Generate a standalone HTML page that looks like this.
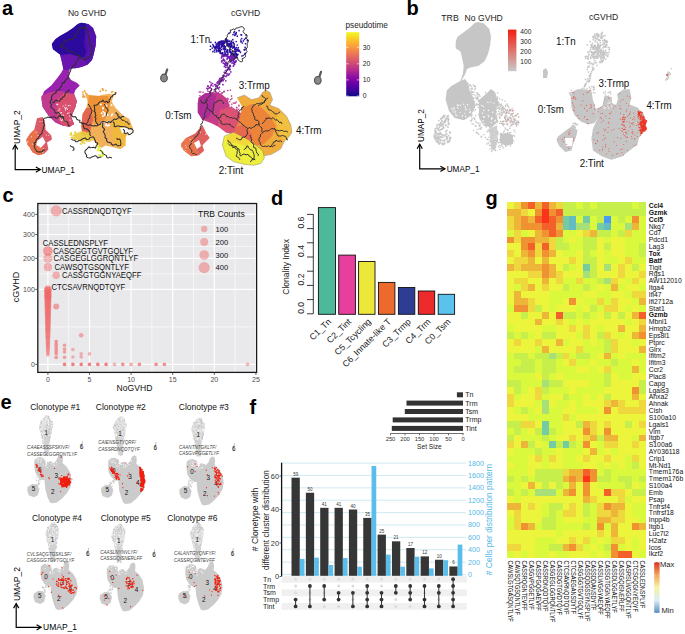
<!DOCTYPE html>
<html><head><meta charset="utf-8"><style>
html,body{margin:0;padding:0;background:#fff;}
body{width:685px;height:634px;overflow:hidden;}
svg{display:block;font-family:"Liberation Sans", sans-serif;}
</style></head><body>
<svg width="685" height="634" viewBox="0 0 685 634">
<text x="2" y="14.8" font-size="20" text-anchor="start" fill="#000" font-weight="bold">a</text>
<text x="406.5" y="15.4" font-size="20" text-anchor="start" fill="#000" font-weight="bold">b</text>
<text x="2.5" y="201.8" font-size="20" text-anchor="start" fill="#000" font-weight="bold">c</text>
<text x="271" y="204.8" font-size="20" text-anchor="start" fill="#000" font-weight="bold">d</text>
<text x="0.6" y="409.2" font-size="20" text-anchor="start" fill="#000" font-weight="bold">e</text>
<text x="249.5" y="414" font-size="20" text-anchor="start" fill="#000" font-weight="bold">f</text>
<text x="485.5" y="204.8" font-size="20" text-anchor="start" fill="#000" font-weight="bold">g</text>
<rect x="37.80" y="203.50" width="218.80" height="168.90" fill="#E9E9EB" stroke="none" stroke-width="0"/>
<line x1="68.70" y1="203.50" x2="68.70" y2="372.40" stroke="#fff" stroke-width="0.6"/>
<line x1="110.30" y1="203.50" x2="110.30" y2="372.40" stroke="#fff" stroke-width="0.6"/>
<line x1="151.90" y1="203.50" x2="151.90" y2="372.40" stroke="#fff" stroke-width="0.6"/>
<line x1="193.50" y1="203.50" x2="193.50" y2="372.40" stroke="#fff" stroke-width="0.6"/>
<line x1="235.10" y1="203.50" x2="235.10" y2="372.40" stroke="#fff" stroke-width="0.6"/>
<line x1="37.80" y1="224.45" x2="256.60" y2="224.45" stroke="#fff" stroke-width="0.6"/>
<line x1="37.80" y1="246.42" x2="256.60" y2="246.42" stroke="#fff" stroke-width="0.6"/>
<line x1="37.80" y1="273.88" x2="256.60" y2="273.88" stroke="#fff" stroke-width="0.6"/>
<line x1="37.80" y1="326.90" x2="256.60" y2="326.90" stroke="#fff" stroke-width="0.6"/>
<line x1="47.90" y1="203.50" x2="47.90" y2="372.40" stroke="#fff" stroke-width="1.2"/>
<line x1="89.50" y1="203.50" x2="89.50" y2="372.40" stroke="#fff" stroke-width="1.2"/>
<line x1="131.10" y1="203.50" x2="131.10" y2="372.40" stroke="#fff" stroke-width="1.2"/>
<line x1="172.70" y1="203.50" x2="172.70" y2="372.40" stroke="#fff" stroke-width="1.2"/>
<line x1="214.30" y1="203.50" x2="214.30" y2="372.40" stroke="#fff" stroke-width="1.2"/>
<line x1="255.90" y1="203.50" x2="255.90" y2="372.40" stroke="#fff" stroke-width="1.2"/>
<line x1="37.80" y1="364.40" x2="256.60" y2="364.40" stroke="#fff" stroke-width="1.2"/>
<line x1="37.80" y1="289.40" x2="256.60" y2="289.40" stroke="#fff" stroke-width="1.2"/>
<line x1="37.80" y1="258.33" x2="256.60" y2="258.33" stroke="#fff" stroke-width="1.2"/>
<line x1="37.80" y1="234.50" x2="256.60" y2="234.50" stroke="#fff" stroke-width="1.2"/>
<line x1="37.80" y1="214.40" x2="256.60" y2="214.40" stroke="#fff" stroke-width="1.2"/>
<g fill="#F06262"><circle cx="56.2" cy="210.9" r="5.60" fill-opacity="0.45"/><circle cx="47.9" cy="355.0" r="1.70" fill-opacity="0.45"/><circle cx="47.9" cy="353.3" r="1.85" fill-opacity="0.45"/><circle cx="47.9" cy="351.6" r="1.95" fill-opacity="0.45"/><circle cx="47.9" cy="349.9" r="2.03" fill-opacity="0.45"/><circle cx="47.9" cy="348.2" r="2.11" fill-opacity="0.45"/><circle cx="47.9" cy="346.5" r="2.17" fill-opacity="0.45"/><circle cx="47.9" cy="344.8" r="2.24" fill-opacity="0.45"/><circle cx="47.9" cy="343.2" r="2.30" fill-opacity="0.45"/><circle cx="47.9" cy="341.5" r="2.36" fill-opacity="0.45"/><circle cx="47.9" cy="339.8" r="2.42" fill-opacity="0.45"/><circle cx="47.9" cy="338.1" r="2.47" fill-opacity="0.45"/><circle cx="47.9" cy="336.4" r="2.52" fill-opacity="0.45"/><circle cx="47.9" cy="334.7" r="2.58" fill-opacity="0.45"/><circle cx="47.9" cy="333.0" r="2.63" fill-opacity="0.45"/><circle cx="47.9" cy="331.3" r="2.68" fill-opacity="0.45"/><circle cx="47.9" cy="329.6" r="2.72" fill-opacity="0.45"/><circle cx="47.9" cy="327.9" r="2.77" fill-opacity="0.45"/><circle cx="47.9" cy="326.2" r="2.82" fill-opacity="0.45"/><circle cx="47.9" cy="324.5" r="2.86" fill-opacity="0.45"/><circle cx="47.9" cy="322.8" r="2.91" fill-opacity="0.45"/><circle cx="47.9" cy="321.2" r="2.95" fill-opacity="0.45"/><circle cx="47.9" cy="319.5" r="3.00" fill-opacity="0.45"/><circle cx="47.9" cy="317.8" r="3.04" fill-opacity="0.45"/><circle cx="47.9" cy="316.1" r="3.08" fill-opacity="0.45"/><circle cx="47.9" cy="314.4" r="3.12" fill-opacity="0.45"/><circle cx="47.9" cy="312.7" r="3.17" fill-opacity="0.45"/><circle cx="47.9" cy="311.0" r="3.21" fill-opacity="0.45"/><circle cx="47.9" cy="309.3" r="3.25" fill-opacity="0.45"/><circle cx="47.9" cy="307.6" r="3.29" fill-opacity="0.45"/><circle cx="47.9" cy="305.9" r="3.33" fill-opacity="0.45"/><circle cx="47.9" cy="304.2" r="3.36" fill-opacity="0.45"/><circle cx="47.9" cy="302.5" r="3.40" fill-opacity="0.45"/><circle cx="47.9" cy="300.8" r="3.44" fill-opacity="0.45"/><circle cx="47.9" cy="299.2" r="3.48" fill-opacity="0.45"/><circle cx="47.9" cy="297.5" r="3.52" fill-opacity="0.45"/><circle cx="47.9" cy="295.8" r="3.55" fill-opacity="0.45"/><circle cx="47.9" cy="294.1" r="3.59" fill-opacity="0.45"/><circle cx="47.9" cy="292.4" r="3.63" fill-opacity="0.45"/><circle cx="47.9" cy="290.7" r="3.66" fill-opacity="0.45"/><circle cx="47.9" cy="289.0" r="3.70" fill-opacity="0.45"/><circle cx="47.9" cy="290.0" r="3.60" fill-opacity="0.5"/><circle cx="47.9" cy="296.0" r="3.60" fill-opacity="0.5"/><circle cx="47.9" cy="251.0" r="4.80" fill-opacity="0.6"/><circle cx="47.9" cy="258.3" r="4.60" fill-opacity="0.4"/><circle cx="47.9" cy="267.2" r="4.10" fill-opacity="0.45"/><circle cx="56.2" cy="275.3" r="3.80" fill-opacity="0.45"/><circle cx="56.2" cy="306.5" r="3.00" fill-opacity="0.55"/><circle cx="56.2" cy="341.6" r="1.90" fill-opacity="0.6"/><circle cx="56.2" cy="344.5" r="1.90" fill-opacity="0.6"/><circle cx="56.2" cy="347.5" r="1.90" fill-opacity="0.6"/><circle cx="56.2" cy="350.5" r="1.90" fill-opacity="0.6"/><circle cx="56.2" cy="353.5" r="1.90" fill-opacity="0.6"/><circle cx="56.2" cy="357.3" r="1.90" fill-opacity="0.6"/><circle cx="64.5" cy="345.3" r="1.80" fill-opacity="0.55"/><circle cx="64.5" cy="349.0" r="1.80" fill-opacity="0.55"/><circle cx="64.5" cy="352.0" r="1.80" fill-opacity="0.55"/><circle cx="64.5" cy="357.3" r="1.80" fill-opacity="0.55"/><circle cx="72.9" cy="349.5" r="1.80" fill-opacity="0.45"/><circle cx="72.9" cy="357.0" r="1.70" fill-opacity="0.45"/><circle cx="81.2" cy="335.3" r="2.30" fill-opacity="0.5"/><circle cx="81.2" cy="353.9" r="1.80" fill-opacity="0.45"/><circle cx="81.2" cy="357.0" r="1.80" fill-opacity="0.45"/><circle cx="89.5" cy="353.9" r="1.80" fill-opacity="0.45"/><circle cx="64.5" cy="364.4" r="1.80" fill-opacity="0.8"/><circle cx="72.9" cy="364.4" r="1.80" fill-opacity="0.8"/><circle cx="81.2" cy="364.4" r="1.80" fill-opacity="0.8"/><circle cx="89.5" cy="364.4" r="1.80" fill-opacity="0.8"/><circle cx="97.8" cy="364.4" r="1.80" fill-opacity="0.8"/><circle cx="106.1" cy="364.4" r="1.80" fill-opacity="0.8"/><circle cx="114.5" cy="364.4" r="1.80" fill-opacity="0.45"/><circle cx="122.8" cy="364.4" r="1.80" fill-opacity="0.7"/><circle cx="131.1" cy="364.4" r="1.80" fill-opacity="0.5"/><circle cx="139.4" cy="364.4" r="1.80" fill-opacity="0.7"/><circle cx="156.1" cy="364.4" r="1.80" fill-opacity="0.7"/><circle cx="164.4" cy="364.4" r="1.80" fill-opacity="0.7"/><circle cx="247.6" cy="364.4" r="1.80" fill-opacity="0.45"/></g>
<rect x="37.80" y="203.50" width="218.80" height="168.90" fill="none" stroke="#1a1a1a" stroke-width="1.3"/>
<line x1="35.30" y1="364.40" x2="37.80" y2="364.40" stroke="#333" stroke-width="0.8"/>
<text x="34.8" y="366.9" font-size="7" text-anchor="end" fill="#4d4d4d">0</text>
<line x1="35.30" y1="289.40" x2="37.80" y2="289.40" stroke="#333" stroke-width="0.8"/>
<text x="34.8" y="291.9" font-size="7" text-anchor="end" fill="#4d4d4d">100</text>
<line x1="35.30" y1="258.33" x2="37.80" y2="258.33" stroke="#333" stroke-width="0.8"/>
<text x="34.8" y="260.83398282201784" font-size="7" text-anchor="end" fill="#4d4d4d">200</text>
<line x1="35.30" y1="234.50" x2="37.80" y2="234.50" stroke="#333" stroke-width="0.8"/>
<text x="34.8" y="236.99618943233418" font-size="7" text-anchor="end" fill="#4d4d4d">300</text>
<line x1="35.30" y1="214.40" x2="37.80" y2="214.40" stroke="#333" stroke-width="0.8"/>
<text x="34.8" y="216.89999999999998" font-size="7" text-anchor="end" fill="#4d4d4d">400</text>
<line x1="47.90" y1="372.40" x2="47.90" y2="374.90" stroke="#333" stroke-width="0.8"/>
<text x="47.9" y="381.5" font-size="7" text-anchor="middle" fill="#4d4d4d">0</text>
<line x1="89.50" y1="372.40" x2="89.50" y2="374.90" stroke="#333" stroke-width="0.8"/>
<text x="89.5" y="381.5" font-size="7" text-anchor="middle" fill="#4d4d4d">5</text>
<line x1="131.10" y1="372.40" x2="131.10" y2="374.90" stroke="#333" stroke-width="0.8"/>
<text x="131.1" y="381.5" font-size="7" text-anchor="middle" fill="#4d4d4d">10</text>
<line x1="172.70" y1="372.40" x2="172.70" y2="374.90" stroke="#333" stroke-width="0.8"/>
<text x="172.70000000000002" y="381.5" font-size="7" text-anchor="middle" fill="#4d4d4d">15</text>
<line x1="214.30" y1="372.40" x2="214.30" y2="374.90" stroke="#333" stroke-width="0.8"/>
<text x="214.3" y="381.5" font-size="7" text-anchor="middle" fill="#4d4d4d">20</text>
<line x1="255.90" y1="372.40" x2="255.90" y2="374.90" stroke="#333" stroke-width="0.8"/>
<text x="255.9" y="381.5" font-size="7" text-anchor="middle" fill="#4d4d4d">25</text>
<text x="134.5" y="391.3" font-size="8.6" text-anchor="middle" fill="#111">NoGVHD</text>
<text x="19" y="287" font-size="9" text-anchor="middle" fill="#111" transform="rotate(-90 19 287)">cGVHD</text>
<text transform="translate(62,213.8) scale(0.917,1)" font-size="8.4" fill="#111">CASSRDNQDTQYF</text>
<text transform="translate(42.8,246) scale(0.917,1)" font-size="8.4" fill="#111">CASSLEDNSPLYF</text>
<text transform="translate(53.3,253.9) scale(0.917,1)" font-size="8.4" fill="#111">CASGGGTGVTGQLYF</text>
<text transform="translate(53.6,261.4) scale(0.917,1)" font-size="8.4" fill="#111">CASGEGLGGRQNTLYF</text>
<text transform="translate(54.5,269.7) scale(0.917,1)" font-size="8.4" fill="#111">CAWSQTGSQNTLYF</text>
<text transform="translate(62,278.1) scale(0.917,1)" font-size="8.4" fill="#111">CASSGTGGNYAEQFF</text>
<text transform="translate(51.5,290.3) scale(0.917,1)" font-size="8.4" fill="#111">CTCSAVRNQDTQYF</text>
<text x="197.9" y="217.4" font-size="8.6" text-anchor="start" fill="#111">TRB Counts</text>
<circle cx="204.2" cy="229.0" r="3.20" fill="#F06262" fill-opacity="0.45"/>
<text x="215.6" y="231.8" font-size="7.6" text-anchor="start" fill="#111">100</text>
<circle cx="204.2" cy="242.0" r="4.00" fill="#F06262" fill-opacity="0.45"/>
<text x="215.6" y="244.8" font-size="7.6" text-anchor="start" fill="#111">200</text>
<circle cx="204.2" cy="255.0" r="4.80" fill="#F06262" fill-opacity="0.45"/>
<text x="215.6" y="257.8" font-size="7.6" text-anchor="start" fill="#111">300</text>
<circle cx="204.2" cy="267.6" r="5.60" fill="#F06262" fill-opacity="0.45"/>
<text x="215.6" y="270.40000000000003" font-size="7.6" text-anchor="start" fill="#111">400</text>
<rect x="318.40" y="207.60" width="17.10" height="106.70" fill="#4EB89B" stroke="#111" stroke-width="0.9"/>
<text x="331.75" y="322.2" font-size="8.8" text-anchor="end" fill="#222" transform="rotate(-45 331.75 322.2)">C1_Tn</text>
<rect x="338.70" y="255.10" width="16.70" height="59.20" fill="#E83E9E" stroke="#111" stroke-width="0.9"/>
<text x="351.84999999999997" y="322.2" font-size="8.8" text-anchor="end" fill="#222" transform="rotate(-45 351.84999999999997 322.2)">C2_Tint</text>
<rect x="358.60" y="261.50" width="16.40" height="52.80" fill="#EDE73A" stroke="#111" stroke-width="0.9"/>
<text x="371.6" y="322.2" font-size="8.8" text-anchor="end" fill="#222" transform="rotate(-45 371.6 322.2)">C5_Tcycling</text>
<rect x="378.50" y="282.40" width="16.40" height="31.90" fill="#EE6A2C" stroke="#111" stroke-width="0.9"/>
<text x="391.5" y="322.2" font-size="8.8" text-anchor="end" fill="#222" transform="rotate(-45 391.5 322.2)">C6_Innate-like T</text>
<rect x="398.40" y="287.50" width="16.40" height="26.80" fill="#2E3D94" stroke="#111" stroke-width="0.9"/>
<text x="411.40000000000003" y="322.2" font-size="8.8" text-anchor="end" fill="#222" transform="rotate(-45 411.40000000000003 322.2)">C3_Trmp</text>
<rect x="418.30" y="291.00" width="16.40" height="23.30" fill="#EE2B2B" stroke="#111" stroke-width="0.9"/>
<text x="431.3" y="322.2" font-size="8.8" text-anchor="end" fill="#222" transform="rotate(-45 431.3 322.2)">C4_Trm</text>
<rect x="438.20" y="294.30" width="16.40" height="20.00" fill="#5BC2EC" stroke="#111" stroke-width="0.9"/>
<text x="451.2" y="322.2" font-size="8.8" text-anchor="end" fill="#222" transform="rotate(-45 451.2 322.2)">C0_Tsm</text>
<line x1="313.30" y1="214.20" x2="313.30" y2="313.80" stroke="#222" stroke-width="0.9"/>
<line x1="307.00" y1="313.80" x2="313.30" y2="313.80" stroke="#222" stroke-width="0.9"/>
<line x1="307.00" y1="299.60" x2="313.30" y2="299.60" stroke="#222" stroke-width="0.9"/>
<line x1="307.00" y1="285.40" x2="313.30" y2="285.40" stroke="#222" stroke-width="0.9"/>
<line x1="307.00" y1="271.20" x2="313.30" y2="271.20" stroke="#222" stroke-width="0.9"/>
<line x1="307.00" y1="257.00" x2="313.30" y2="257.00" stroke="#222" stroke-width="0.9"/>
<line x1="307.00" y1="242.80" x2="313.30" y2="242.80" stroke="#222" stroke-width="0.9"/>
<line x1="307.00" y1="228.60" x2="313.30" y2="228.60" stroke="#222" stroke-width="0.9"/>
<line x1="307.00" y1="214.40" x2="313.30" y2="214.40" stroke="#222" stroke-width="0.9"/>
<text x="304.2" y="313.8" font-size="8.6" text-anchor="start" fill="#222" transform="rotate(-90 304.2 313.8)">0.0</text>
<text x="304.2" y="285.40000000000003" font-size="8.6" text-anchor="start" fill="#222" transform="rotate(-90 304.2 285.40000000000003)">0.2</text>
<text x="304.2" y="257.0" font-size="8.6" text-anchor="start" fill="#222" transform="rotate(-90 304.2 257.0)">0.4</text>
<text x="304.2" y="228.60000000000002" font-size="8.6" text-anchor="start" fill="#222" transform="rotate(-90 304.2 228.60000000000002)">0.6</text>
<text x="288.8" y="266.8" font-size="8.5" text-anchor="middle" fill="#222" transform="rotate(-90 288.8 266.8)">Clonality Index</text>
<rect x="456.90" y="392.30" width="6.10" height="5.00" fill="#333" stroke="none" stroke-width="0"/>
<text x="465.3" y="397.2" font-size="7" text-anchor="start" fill="#222">Tn</text>
<rect x="406.50" y="400.60" width="56.50" height="5.00" fill="#333" stroke="none" stroke-width="0"/>
<text x="465.3" y="405.5" font-size="7" text-anchor="start" fill="#222">Trm</text>
<rect x="404.80" y="409.00" width="58.20" height="5.00" fill="#333" stroke="none" stroke-width="0"/>
<text x="465.3" y="413.9" font-size="7" text-anchor="start" fill="#222">Tsm</text>
<rect x="392.70" y="417.40" width="70.30" height="5.00" fill="#333" stroke="none" stroke-width="0"/>
<text x="465.3" y="422.29999999999995" font-size="7" text-anchor="start" fill="#222">Trmp</text>
<rect x="391.80" y="425.90" width="71.20" height="5.00" fill="#333" stroke="none" stroke-width="0"/>
<text x="465.3" y="430.79999999999995" font-size="7" text-anchor="start" fill="#222">Tint</text>
<line x1="390.50" y1="433.50" x2="463.50" y2="433.50" stroke="#333" stroke-width="0.7"/>
<line x1="390.50" y1="433.50" x2="390.50" y2="435.30" stroke="#333" stroke-width="0.7"/>
<text x="390.5" y="441.3" font-size="5.8" text-anchor="middle" fill="#333">250</text>
<line x1="405.00" y1="433.50" x2="405.00" y2="435.30" stroke="#333" stroke-width="0.7"/>
<text x="405.0" y="441.3" font-size="5.8" text-anchor="middle" fill="#333">200</text>
<line x1="419.50" y1="433.50" x2="419.50" y2="435.30" stroke="#333" stroke-width="0.7"/>
<text x="419.5" y="441.3" font-size="5.8" text-anchor="middle" fill="#333">150</text>
<line x1="434.00" y1="433.50" x2="434.00" y2="435.30" stroke="#333" stroke-width="0.7"/>
<text x="434.0" y="441.3" font-size="5.8" text-anchor="middle" fill="#333">100</text>
<line x1="448.50" y1="433.50" x2="448.50" y2="435.30" stroke="#333" stroke-width="0.7"/>
<text x="448.5" y="441.3" font-size="5.8" text-anchor="middle" fill="#333">50</text>
<line x1="463.00" y1="433.50" x2="463.00" y2="435.30" stroke="#333" stroke-width="0.7"/>
<text x="463.0" y="441.3" font-size="5.8" text-anchor="middle" fill="#333">0</text>
<text x="429.4" y="449" font-size="6.6" text-anchor="middle" fill="#222">Set Size</text>
<line x1="281.60" y1="574.50" x2="466.00" y2="574.50" stroke="#C9E6F2" stroke-width="0.9"/>
<line x1="281.60" y1="562.12" x2="466.00" y2="562.12" stroke="#C9E6F2" stroke-width="0.9"/>
<line x1="281.60" y1="549.74" x2="466.00" y2="549.74" stroke="#C9E6F2" stroke-width="0.9"/>
<line x1="281.60" y1="537.36" x2="466.00" y2="537.36" stroke="#C9E6F2" stroke-width="0.9"/>
<line x1="281.60" y1="524.98" x2="466.00" y2="524.98" stroke="#C9E6F2" stroke-width="0.9"/>
<line x1="281.60" y1="512.60" x2="466.00" y2="512.60" stroke="#C9E6F2" stroke-width="0.9"/>
<line x1="281.60" y1="500.22" x2="466.00" y2="500.22" stroke="#C9E6F2" stroke-width="0.9"/>
<line x1="281.60" y1="487.84" x2="466.00" y2="487.84" stroke="#C9E6F2" stroke-width="0.9"/>
<line x1="281.60" y1="475.46" x2="466.00" y2="475.46" stroke="#C9E6F2" stroke-width="0.9"/>
<line x1="281.60" y1="463.08" x2="466.00" y2="463.08" stroke="#C9E6F2" stroke-width="0.9"/>
<rect x="291.50" y="477.68" width="8.30" height="98.83" fill="#363636" stroke="none" stroke-width="0"/>
<rect x="299.80" y="558.90" width="4.70" height="17.60" fill="#5BBDEA" stroke="none" stroke-width="0"/>
<text x="295.65" y="475.675" font-size="4.5" text-anchor="middle" fill="#333">59</text>
<rect x="305.85" y="492.75" width="8.30" height="83.75" fill="#363636" stroke="none" stroke-width="0"/>
<rect x="314.15" y="557.60" width="4.70" height="18.90" fill="#5BBDEA" stroke="none" stroke-width="0"/>
<text x="310.0" y="490.75" font-size="4.5" text-anchor="middle" fill="#333">50</text>
<rect x="320.20" y="507.82" width="8.30" height="68.67" fill="#363636" stroke="none" stroke-width="0"/>
<rect x="328.50" y="565.00" width="4.70" height="11.50" fill="#5BBDEA" stroke="none" stroke-width="0"/>
<text x="324.34999999999997" y="505.825" font-size="4.5" text-anchor="middle" fill="#333">41</text>
<rect x="334.55" y="507.82" width="8.30" height="68.67" fill="#363636" stroke="none" stroke-width="0"/>
<rect x="342.85" y="558.00" width="4.70" height="18.50" fill="#5BBDEA" stroke="none" stroke-width="0"/>
<text x="338.7" y="505.825" font-size="4.5" text-anchor="middle" fill="#333">41</text>
<rect x="348.90" y="509.50" width="8.30" height="67.00" fill="#363636" stroke="none" stroke-width="0"/>
<rect x="357.20" y="566.70" width="4.70" height="9.80" fill="#5BBDEA" stroke="none" stroke-width="0"/>
<text x="353.04999999999995" y="507.5" font-size="4.5" text-anchor="middle" fill="#333">40</text>
<rect x="363.25" y="517.88" width="8.30" height="58.62" fill="#363636" stroke="none" stroke-width="0"/>
<rect x="371.55" y="466.00" width="4.70" height="110.50" fill="#5BBDEA" stroke="none" stroke-width="0"/>
<text x="367.4" y="515.875" font-size="4.5" text-anchor="middle" fill="#333">35</text>
<rect x="377.60" y="534.62" width="8.30" height="41.88" fill="#363636" stroke="none" stroke-width="0"/>
<rect x="385.90" y="554.60" width="4.70" height="21.90" fill="#5BBDEA" stroke="none" stroke-width="0"/>
<text x="381.75" y="532.625" font-size="4.5" text-anchor="middle" fill="#333">25</text>
<rect x="391.95" y="541.33" width="8.30" height="35.18" fill="#363636" stroke="none" stroke-width="0"/>
<rect x="400.25" y="566.70" width="4.70" height="9.80" fill="#5BBDEA" stroke="none" stroke-width="0"/>
<text x="396.09999999999997" y="539.325" font-size="4.5" text-anchor="middle" fill="#333">21</text>
<rect x="406.30" y="548.02" width="8.30" height="28.48" fill="#363636" stroke="none" stroke-width="0"/>
<rect x="414.60" y="556.70" width="4.70" height="19.80" fill="#5BBDEA" stroke="none" stroke-width="0"/>
<text x="410.45" y="546.025" font-size="4.5" text-anchor="middle" fill="#333">17</text>
<rect x="420.65" y="556.40" width="8.30" height="20.10" fill="#363636" stroke="none" stroke-width="0"/>
<rect x="428.95" y="568.40" width="4.70" height="8.10" fill="#5BBDEA" stroke="none" stroke-width="0"/>
<text x="424.79999999999995" y="554.4" font-size="4.5" text-anchor="middle" fill="#333">12</text>
<rect x="435.00" y="559.75" width="8.30" height="16.75" fill="#363636" stroke="none" stroke-width="0"/>
<rect x="443.30" y="560.20" width="4.70" height="16.30" fill="#5BBDEA" stroke="none" stroke-width="0"/>
<text x="439.15" y="557.75" font-size="4.5" text-anchor="middle" fill="#333">10</text>
<rect x="449.35" y="566.45" width="8.30" height="10.05" fill="#363636" stroke="none" stroke-width="0"/>
<rect x="457.65" y="544.60" width="4.70" height="31.90" fill="#5BBDEA" stroke="none" stroke-width="0"/>
<text x="453.5" y="564.45" font-size="4.5" text-anchor="middle" fill="#333">6</text>
<line x1="281.60" y1="462.70" x2="281.60" y2="577.00" stroke="#111" stroke-width="1.3"/>
<line x1="279.50" y1="576.50" x2="281.60" y2="576.50" stroke="#333" stroke-width="0.8"/>
<text x="279" y="579.1" font-size="7.4" text-anchor="end" fill="#333">0</text>
<line x1="279.50" y1="543.00" x2="281.60" y2="543.00" stroke="#333" stroke-width="0.8"/>
<text x="279" y="545.6" font-size="7.4" text-anchor="end" fill="#333">20</text>
<line x1="279.50" y1="509.50" x2="281.60" y2="509.50" stroke="#333" stroke-width="0.8"/>
<text x="279" y="512.1" font-size="7.4" text-anchor="end" fill="#333">40</text>
<line x1="279.50" y1="476.00" x2="281.60" y2="476.00" stroke="#333" stroke-width="0.8"/>
<text x="279" y="478.6" font-size="7.4" text-anchor="end" fill="#333">60</text>
<text x="468" y="577.0" font-size="7.2" text-anchor="start" fill="#55B8E6">0</text>
<text x="468" y="564.62" font-size="7.2" text-anchor="start" fill="#55B8E6">200</text>
<text x="468" y="552.24" font-size="7.2" text-anchor="start" fill="#55B8E6">400</text>
<text x="468" y="539.86" font-size="7.2" text-anchor="start" fill="#55B8E6">600</text>
<text x="468" y="527.48" font-size="7.2" text-anchor="start" fill="#55B8E6">800</text>
<text x="468" y="515.1" font-size="7.2" text-anchor="start" fill="#55B8E6">1000</text>
<text x="468" y="502.72" font-size="7.2" text-anchor="start" fill="#55B8E6">1200</text>
<text x="468" y="490.34" font-size="7.2" text-anchor="start" fill="#55B8E6">1400</text>
<text x="468" y="477.96" font-size="7.2" text-anchor="start" fill="#55B8E6">1600</text>
<text x="468" y="465.58" font-size="7.2" text-anchor="start" fill="#55B8E6">1800</text>
<text x="258.2" y="519.5" font-size="8.6" text-anchor="middle" fill="#222" transform="rotate(-90 258.2 519.5)"># Clonetype with</text>
<text x="268.8" y="520" font-size="8.4" text-anchor="middle" fill="#222" transform="rotate(-90 268.8 520)">different cluster distribution</text>
<text x="492" y="519.5" font-size="8.4" text-anchor="middle" fill="#55B8E6" transform="rotate(-90 492 519.5)"># Cells per distribution pattern</text>
<rect x="281.60" y="575.80" width="185.30" height="6.80" fill="#F0F0F0" stroke="none" stroke-width="0"/>
<rect x="281.60" y="589.40" width="185.30" height="6.80" fill="#F0F0F0" stroke="none" stroke-width="0"/>
<rect x="281.60" y="603.00" width="185.30" height="6.80" fill="#F0F0F0" stroke="none" stroke-width="0"/>
<text x="263" y="581.7" font-size="7" text-anchor="start" fill="#222">Tn</text>
<text x="263" y="588.5" font-size="7" text-anchor="start" fill="#222">Trm</text>
<text x="263" y="595.3" font-size="7" text-anchor="start" fill="#222">Tsm</text>
<text x="263" y="602.1" font-size="7" text-anchor="start" fill="#222">Trmp</text>
<text x="263" y="608.9" font-size="7" text-anchor="start" fill="#222">Tint</text>
<circle cx="295.6" cy="579.2" r="1.50" fill="#DCDCDC"/>
<circle cx="295.6" cy="586.0" r="1.50" fill="#DCDCDC"/>
<circle cx="295.6" cy="592.8" r="1.50" fill="#DCDCDC"/>
<line x1="295.60" y1="599.60" x2="295.60" y2="606.40" stroke="#333" stroke-width="1.0"/>
<circle cx="295.6" cy="599.6" r="1.90" fill="#333"/>
<circle cx="295.6" cy="606.4" r="1.90" fill="#333"/>
<circle cx="309.9" cy="579.2" r="1.50" fill="#DCDCDC"/>
<circle cx="309.9" cy="592.8" r="1.50" fill="#DCDCDC"/>
<circle cx="309.9" cy="599.6" r="1.50" fill="#DCDCDC"/>
<line x1="309.92" y1="586.00" x2="309.92" y2="606.40" stroke="#333" stroke-width="1.0"/>
<circle cx="309.9" cy="586.0" r="1.90" fill="#333"/>
<circle cx="309.9" cy="606.4" r="1.90" fill="#333"/>
<circle cx="324.2" cy="579.2" r="1.50" fill="#DCDCDC"/>
<circle cx="324.2" cy="592.8" r="1.50" fill="#DCDCDC"/>
<circle cx="324.2" cy="606.4" r="1.50" fill="#DCDCDC"/>
<line x1="324.24" y1="586.00" x2="324.24" y2="599.60" stroke="#333" stroke-width="1.0"/>
<circle cx="324.2" cy="586.0" r="1.90" fill="#333"/>
<circle cx="324.2" cy="599.6" r="1.90" fill="#333"/>
<circle cx="338.6" cy="579.2" r="1.50" fill="#DCDCDC"/>
<circle cx="338.6" cy="586.0" r="1.50" fill="#DCDCDC"/>
<circle cx="338.6" cy="606.4" r="1.50" fill="#DCDCDC"/>
<line x1="338.56" y1="592.80" x2="338.56" y2="599.60" stroke="#333" stroke-width="1.0"/>
<circle cx="338.6" cy="592.8" r="1.90" fill="#333"/>
<circle cx="338.6" cy="599.6" r="1.90" fill="#333"/>
<circle cx="352.9" cy="579.2" r="1.50" fill="#DCDCDC"/>
<circle cx="352.9" cy="586.0" r="1.50" fill="#DCDCDC"/>
<circle cx="352.9" cy="599.6" r="1.50" fill="#DCDCDC"/>
<line x1="352.88" y1="592.80" x2="352.88" y2="606.40" stroke="#333" stroke-width="1.0"/>
<circle cx="352.9" cy="592.8" r="1.90" fill="#333"/>
<circle cx="352.9" cy="606.4" r="1.90" fill="#333"/>
<circle cx="367.2" cy="579.2" r="1.50" fill="#DCDCDC"/>
<line x1="367.20" y1="586.00" x2="367.20" y2="606.40" stroke="#333" stroke-width="1.0"/>
<circle cx="367.2" cy="586.0" r="1.90" fill="#333"/>
<circle cx="367.2" cy="592.8" r="1.90" fill="#333"/>
<circle cx="367.2" cy="599.6" r="1.90" fill="#333"/>
<circle cx="367.2" cy="606.4" r="1.90" fill="#333"/>
<circle cx="381.5" cy="579.2" r="1.50" fill="#DCDCDC"/>
<circle cx="381.5" cy="586.0" r="1.50" fill="#DCDCDC"/>
<line x1="381.52" y1="592.80" x2="381.52" y2="606.40" stroke="#333" stroke-width="1.0"/>
<circle cx="381.5" cy="592.8" r="1.90" fill="#333"/>
<circle cx="381.5" cy="599.6" r="1.90" fill="#333"/>
<circle cx="381.5" cy="606.4" r="1.90" fill="#333"/>
<circle cx="395.8" cy="579.2" r="1.50" fill="#DCDCDC"/>
<circle cx="395.8" cy="599.6" r="1.50" fill="#DCDCDC"/>
<circle cx="395.8" cy="606.4" r="1.50" fill="#DCDCDC"/>
<line x1="395.84" y1="586.00" x2="395.84" y2="592.80" stroke="#333" stroke-width="1.0"/>
<circle cx="395.8" cy="586.0" r="1.90" fill="#333"/>
<circle cx="395.8" cy="592.8" r="1.90" fill="#333"/>
<circle cx="410.2" cy="579.2" r="1.50" fill="#DCDCDC"/>
<circle cx="410.2" cy="606.4" r="1.50" fill="#DCDCDC"/>
<line x1="410.16" y1="586.00" x2="410.16" y2="599.60" stroke="#333" stroke-width="1.0"/>
<circle cx="410.2" cy="586.0" r="1.90" fill="#333"/>
<circle cx="410.2" cy="592.8" r="1.90" fill="#333"/>
<circle cx="410.2" cy="599.6" r="1.90" fill="#333"/>
<circle cx="424.5" cy="579.2" r="1.50" fill="#DCDCDC"/>
<circle cx="424.5" cy="592.8" r="1.50" fill="#DCDCDC"/>
<line x1="424.48" y1="586.00" x2="424.48" y2="606.40" stroke="#333" stroke-width="1.0"/>
<circle cx="424.5" cy="586.0" r="1.90" fill="#333"/>
<circle cx="424.5" cy="599.6" r="1.90" fill="#333"/>
<circle cx="424.5" cy="606.4" r="1.90" fill="#333"/>
<circle cx="438.8" cy="579.2" r="1.50" fill="#DCDCDC"/>
<circle cx="438.8" cy="599.6" r="1.50" fill="#DCDCDC"/>
<line x1="438.80" y1="586.00" x2="438.80" y2="606.40" stroke="#333" stroke-width="1.0"/>
<circle cx="438.8" cy="586.0" r="1.90" fill="#333"/>
<circle cx="438.8" cy="592.8" r="1.90" fill="#333"/>
<circle cx="438.8" cy="606.4" r="1.90" fill="#333"/>
<line x1="453.12" y1="579.20" x2="453.12" y2="606.40" stroke="#333" stroke-width="1.0"/>
<circle cx="453.1" cy="579.2" r="1.90" fill="#333"/>
<circle cx="453.1" cy="586.0" r="1.90" fill="#333"/>
<circle cx="453.1" cy="592.8" r="1.90" fill="#333"/>
<circle cx="453.1" cy="599.6" r="1.90" fill="#333"/>
<circle cx="453.1" cy="606.4" r="1.90" fill="#333"/>
<g shape-rendering="crispEdges"><rect x="507.00" y="202.40" width="6.94" height="6.83" fill="#ECF53C"/><rect x="513.94" y="202.40" width="6.94" height="6.83" fill="#EED83E"/><rect x="520.88" y="202.40" width="6.94" height="6.83" fill="#F09232"/><rect x="527.82" y="202.40" width="6.94" height="6.83" fill="#F4602A"/><rect x="534.76" y="202.40" width="6.94" height="6.83" fill="#EEB638"/><rect x="541.70" y="202.40" width="6.94" height="6.83" fill="#F4602A"/><rect x="548.64" y="202.40" width="6.94" height="6.83" fill="#EEB638"/><rect x="555.58" y="202.40" width="6.94" height="6.83" fill="#EED83E"/><rect x="562.52" y="202.40" width="6.94" height="6.83" fill="#C6EF4C"/><rect x="569.46" y="202.40" width="6.94" height="6.83" fill="#C6EF4C"/><rect x="576.40" y="202.40" width="6.94" height="6.83" fill="#DAF93C"/><rect x="583.34" y="202.40" width="6.94" height="6.83" fill="#C6EF4C"/><rect x="590.28" y="202.40" width="6.94" height="6.83" fill="#DAF93C"/><rect x="597.22" y="202.40" width="6.94" height="6.83" fill="#C6EF4C"/><rect x="604.16" y="202.40" width="6.94" height="6.83" fill="#C6EF4C"/><rect x="611.10" y="202.40" width="6.94" height="6.83" fill="#C6EF4C"/><rect x="618.04" y="202.40" width="6.94" height="6.83" fill="#C6EF4C"/><rect x="624.98" y="202.40" width="6.94" height="6.83" fill="#C6EF4C"/><rect x="631.92" y="202.40" width="6.94" height="6.83" fill="#DAF93C"/><rect x="638.86" y="202.40" width="6.94" height="6.83" fill="#C6EF4C"/><rect x="507.00" y="209.23" width="6.94" height="6.83" fill="#EEB638"/><rect x="513.94" y="209.23" width="6.94" height="6.83" fill="#EEB638"/><rect x="520.88" y="209.23" width="6.94" height="6.83" fill="#EED83E"/><rect x="527.82" y="209.23" width="6.94" height="6.83" fill="#ECF53C"/><rect x="534.76" y="209.23" width="6.94" height="6.83" fill="#F09232"/><rect x="541.70" y="209.23" width="6.94" height="6.83" fill="#FA3418"/><rect x="548.64" y="209.23" width="6.94" height="6.83" fill="#F09232"/><rect x="555.58" y="209.23" width="6.94" height="6.83" fill="#F4602A"/><rect x="562.52" y="209.23" width="6.94" height="6.83" fill="#C6EF4C"/><rect x="569.46" y="209.23" width="6.94" height="6.83" fill="#C6EF4C"/><rect x="576.40" y="209.23" width="6.94" height="6.83" fill="#C6EF4C"/><rect x="583.34" y="209.23" width="6.94" height="6.83" fill="#C6EF4C"/><rect x="590.28" y="209.23" width="6.94" height="6.83" fill="#C6EF4C"/><rect x="597.22" y="209.23" width="6.94" height="6.83" fill="#C6EF4C"/><rect x="604.16" y="209.23" width="6.94" height="6.83" fill="#C6EF4C"/><rect x="611.10" y="209.23" width="6.94" height="6.83" fill="#C6EF4C"/><rect x="618.04" y="209.23" width="6.94" height="6.83" fill="#C6EF4C"/><rect x="624.98" y="209.23" width="6.94" height="6.83" fill="#C6EF4C"/><rect x="631.92" y="209.23" width="6.94" height="6.83" fill="#C6EF4C"/><rect x="638.86" y="209.23" width="6.94" height="6.83" fill="#C6EF4C"/><rect x="507.00" y="216.06" width="6.94" height="6.83" fill="#EED83E"/><rect x="513.94" y="216.06" width="6.94" height="6.83" fill="#EEB638"/><rect x="520.88" y="216.06" width="6.94" height="6.83" fill="#F09232"/><rect x="527.82" y="216.06" width="6.94" height="6.83" fill="#EEB638"/><rect x="534.76" y="216.06" width="6.94" height="6.83" fill="#F4602A"/><rect x="541.70" y="216.06" width="6.94" height="6.83" fill="#FA3418"/><rect x="548.64" y="216.06" width="6.94" height="6.83" fill="#F4602A"/><rect x="555.58" y="216.06" width="6.94" height="6.83" fill="#F09232"/><rect x="562.52" y="216.06" width="6.94" height="6.83" fill="#74CCA2"/><rect x="569.46" y="216.06" width="6.94" height="6.83" fill="#62BCC0"/><rect x="576.40" y="216.06" width="6.94" height="6.83" fill="#DAF93C"/><rect x="583.34" y="216.06" width="6.94" height="6.83" fill="#74CCA2"/><rect x="590.28" y="216.06" width="6.94" height="6.83" fill="#DAF93C"/><rect x="597.22" y="216.06" width="6.94" height="6.83" fill="#C6EF4C"/><rect x="604.16" y="216.06" width="6.94" height="6.83" fill="#4A9CF0"/><rect x="611.10" y="216.06" width="6.94" height="6.83" fill="#DAF93C"/><rect x="618.04" y="216.06" width="6.94" height="6.83" fill="#C6EF4C"/><rect x="624.98" y="216.06" width="6.94" height="6.83" fill="#DAF93C"/><rect x="631.92" y="216.06" width="6.94" height="6.83" fill="#F09232"/><rect x="638.86" y="216.06" width="6.94" height="6.83" fill="#DAF93C"/><rect x="507.00" y="222.89" width="6.94" height="6.83" fill="#EED83E"/><rect x="513.94" y="222.89" width="6.94" height="6.83" fill="#EEB638"/><rect x="520.88" y="222.89" width="6.94" height="6.83" fill="#F09232"/><rect x="527.82" y="222.89" width="6.94" height="6.83" fill="#F09232"/><rect x="534.76" y="222.89" width="6.94" height="6.83" fill="#F09232"/><rect x="541.70" y="222.89" width="6.94" height="6.83" fill="#F4602A"/><rect x="548.64" y="222.89" width="6.94" height="6.83" fill="#F4602A"/><rect x="555.58" y="222.89" width="6.94" height="6.83" fill="#EEB638"/><rect x="562.52" y="222.89" width="6.94" height="6.83" fill="#74CCA2"/><rect x="569.46" y="222.89" width="6.94" height="6.83" fill="#62BCC0"/><rect x="576.40" y="222.89" width="6.94" height="6.83" fill="#A8E078"/><rect x="583.34" y="222.89" width="6.94" height="6.83" fill="#A8E078"/><rect x="590.28" y="222.89" width="6.94" height="6.83" fill="#DAF93C"/><rect x="597.22" y="222.89" width="6.94" height="6.83" fill="#74CCA2"/><rect x="604.16" y="222.89" width="6.94" height="6.83" fill="#62BCC0"/><rect x="611.10" y="222.89" width="6.94" height="6.83" fill="#DAF93C"/><rect x="618.04" y="222.89" width="6.94" height="6.83" fill="#DAF93C"/><rect x="624.98" y="222.89" width="6.94" height="6.83" fill="#A8E078"/><rect x="631.92" y="222.89" width="6.94" height="6.83" fill="#EEB638"/><rect x="638.86" y="222.89" width="6.94" height="6.83" fill="#DAF93C"/><rect x="507.00" y="229.72" width="6.94" height="6.83" fill="#DAF93C"/><rect x="513.94" y="229.72" width="6.94" height="6.83" fill="#EED83E"/><rect x="520.88" y="229.72" width="6.94" height="6.83" fill="#DAF93C"/><rect x="527.82" y="229.72" width="6.94" height="6.83" fill="#ECF53C"/><rect x="534.76" y="229.72" width="6.94" height="6.83" fill="#EEB638"/><rect x="541.70" y="229.72" width="6.94" height="6.83" fill="#F09232"/><rect x="548.64" y="229.72" width="6.94" height="6.83" fill="#F4602A"/><rect x="555.58" y="229.72" width="6.94" height="6.83" fill="#F09232"/><rect x="562.52" y="229.72" width="6.94" height="6.83" fill="#DAF93C"/><rect x="569.46" y="229.72" width="6.94" height="6.83" fill="#DAF93C"/><rect x="576.40" y="229.72" width="6.94" height="6.83" fill="#ECF53C"/><rect x="583.34" y="229.72" width="6.94" height="6.83" fill="#EED83E"/><rect x="590.28" y="229.72" width="6.94" height="6.83" fill="#EEB638"/><rect x="597.22" y="229.72" width="6.94" height="6.83" fill="#C6EF4C"/><rect x="604.16" y="229.72" width="6.94" height="6.83" fill="#C6EF4C"/><rect x="611.10" y="229.72" width="6.94" height="6.83" fill="#DAF93C"/><rect x="618.04" y="229.72" width="6.94" height="6.83" fill="#C6EF4C"/><rect x="624.98" y="229.72" width="6.94" height="6.83" fill="#EED83E"/><rect x="631.92" y="229.72" width="6.94" height="6.83" fill="#DAF93C"/><rect x="638.86" y="229.72" width="6.94" height="6.83" fill="#DAF93C"/><rect x="507.00" y="236.55" width="6.94" height="6.83" fill="#F09232"/><rect x="513.94" y="236.55" width="6.94" height="6.83" fill="#EED83E"/><rect x="520.88" y="236.55" width="6.94" height="6.83" fill="#F09232"/><rect x="527.82" y="236.55" width="6.94" height="6.83" fill="#F09232"/><rect x="534.76" y="236.55" width="6.94" height="6.83" fill="#EEB638"/><rect x="541.70" y="236.55" width="6.94" height="6.83" fill="#EEB638"/><rect x="548.64" y="236.55" width="6.94" height="6.83" fill="#EED83E"/><rect x="555.58" y="236.55" width="6.94" height="6.83" fill="#C6EF4C"/><rect x="562.52" y="236.55" width="6.94" height="6.83" fill="#DAF93C"/><rect x="569.46" y="236.55" width="6.94" height="6.83" fill="#ECF53C"/><rect x="576.40" y="236.55" width="6.94" height="6.83" fill="#DAF93C"/><rect x="583.34" y="236.55" width="6.94" height="6.83" fill="#C6EF4C"/><rect x="590.28" y="236.55" width="6.94" height="6.83" fill="#C6EF4C"/><rect x="597.22" y="236.55" width="6.94" height="6.83" fill="#ECF53C"/><rect x="604.16" y="236.55" width="6.94" height="6.83" fill="#DAF93C"/><rect x="611.10" y="236.55" width="6.94" height="6.83" fill="#ECF53C"/><rect x="618.04" y="236.55" width="6.94" height="6.83" fill="#ECF53C"/><rect x="624.98" y="236.55" width="6.94" height="6.83" fill="#DAF93C"/><rect x="631.92" y="236.55" width="6.94" height="6.83" fill="#DAF93C"/><rect x="638.86" y="236.55" width="6.94" height="6.83" fill="#DAF93C"/><rect x="507.00" y="243.38" width="6.94" height="6.83" fill="#ECF53C"/><rect x="513.94" y="243.38" width="6.94" height="6.83" fill="#ECF53C"/><rect x="520.88" y="243.38" width="6.94" height="6.83" fill="#F09232"/><rect x="527.82" y="243.38" width="6.94" height="6.83" fill="#F4602A"/><rect x="534.76" y="243.38" width="6.94" height="6.83" fill="#EED83E"/><rect x="541.70" y="243.38" width="6.94" height="6.83" fill="#F4602A"/><rect x="548.64" y="243.38" width="6.94" height="6.83" fill="#EED83E"/><rect x="555.58" y="243.38" width="6.94" height="6.83" fill="#C6EF4C"/><rect x="562.52" y="243.38" width="6.94" height="6.83" fill="#C6EF4C"/><rect x="569.46" y="243.38" width="6.94" height="6.83" fill="#DAF93C"/><rect x="576.40" y="243.38" width="6.94" height="6.83" fill="#DAF93C"/><rect x="583.34" y="243.38" width="6.94" height="6.83" fill="#C6EF4C"/><rect x="590.28" y="243.38" width="6.94" height="6.83" fill="#C6EF4C"/><rect x="597.22" y="243.38" width="6.94" height="6.83" fill="#ECF53C"/><rect x="604.16" y="243.38" width="6.94" height="6.83" fill="#C6EF4C"/><rect x="611.10" y="243.38" width="6.94" height="6.83" fill="#ECF53C"/><rect x="618.04" y="243.38" width="6.94" height="6.83" fill="#ECF53C"/><rect x="624.98" y="243.38" width="6.94" height="6.83" fill="#DAF93C"/><rect x="631.92" y="243.38" width="6.94" height="6.83" fill="#DAF93C"/><rect x="638.86" y="243.38" width="6.94" height="6.83" fill="#C6EF4C"/><rect x="507.00" y="250.21" width="6.94" height="6.83" fill="#EED83E"/><rect x="513.94" y="250.21" width="6.94" height="6.83" fill="#ECF53C"/><rect x="520.88" y="250.21" width="6.94" height="6.83" fill="#EEB638"/><rect x="527.82" y="250.21" width="6.94" height="6.83" fill="#F09232"/><rect x="534.76" y="250.21" width="6.94" height="6.83" fill="#EED83E"/><rect x="541.70" y="250.21" width="6.94" height="6.83" fill="#F09232"/><rect x="548.64" y="250.21" width="6.94" height="6.83" fill="#EEB638"/><rect x="555.58" y="250.21" width="6.94" height="6.83" fill="#ECF53C"/><rect x="562.52" y="250.21" width="6.94" height="6.83" fill="#DAF93C"/><rect x="569.46" y="250.21" width="6.94" height="6.83" fill="#DAF93C"/><rect x="576.40" y="250.21" width="6.94" height="6.83" fill="#ECF53C"/><rect x="583.34" y="250.21" width="6.94" height="6.83" fill="#C6EF4C"/><rect x="590.28" y="250.21" width="6.94" height="6.83" fill="#DAF93C"/><rect x="597.22" y="250.21" width="6.94" height="6.83" fill="#ECF53C"/><rect x="604.16" y="250.21" width="6.94" height="6.83" fill="#DAF93C"/><rect x="611.10" y="250.21" width="6.94" height="6.83" fill="#ECF53C"/><rect x="618.04" y="250.21" width="6.94" height="6.83" fill="#ECF53C"/><rect x="624.98" y="250.21" width="6.94" height="6.83" fill="#DAF93C"/><rect x="631.92" y="250.21" width="6.94" height="6.83" fill="#DAF93C"/><rect x="638.86" y="250.21" width="6.94" height="6.83" fill="#C6EF4C"/><rect x="507.00" y="257.04" width="6.94" height="6.83" fill="#ECF53C"/><rect x="513.94" y="257.04" width="6.94" height="6.83" fill="#EED83E"/><rect x="520.88" y="257.04" width="6.94" height="6.83" fill="#EED83E"/><rect x="527.82" y="257.04" width="6.94" height="6.83" fill="#EEB638"/><rect x="534.76" y="257.04" width="6.94" height="6.83" fill="#ECF53C"/><rect x="541.70" y="257.04" width="6.94" height="6.83" fill="#EEB638"/><rect x="548.64" y="257.04" width="6.94" height="6.83" fill="#ECF53C"/><rect x="555.58" y="257.04" width="6.94" height="6.83" fill="#ECF53C"/><rect x="562.52" y="257.04" width="6.94" height="6.83" fill="#ECF53C"/><rect x="569.46" y="257.04" width="6.94" height="6.83" fill="#EED83E"/><rect x="576.40" y="257.04" width="6.94" height="6.83" fill="#ECF53C"/><rect x="583.34" y="257.04" width="6.94" height="6.83" fill="#C6EF4C"/><rect x="590.28" y="257.04" width="6.94" height="6.83" fill="#C6EF4C"/><rect x="597.22" y="257.04" width="6.94" height="6.83" fill="#ECF53C"/><rect x="604.16" y="257.04" width="6.94" height="6.83" fill="#DAF93C"/><rect x="611.10" y="257.04" width="6.94" height="6.83" fill="#DAF93C"/><rect x="618.04" y="257.04" width="6.94" height="6.83" fill="#ECF53C"/><rect x="624.98" y="257.04" width="6.94" height="6.83" fill="#EED83E"/><rect x="631.92" y="257.04" width="6.94" height="6.83" fill="#DAF93C"/><rect x="638.86" y="257.04" width="6.94" height="6.83" fill="#DAF93C"/><rect x="507.00" y="263.87" width="6.94" height="6.83" fill="#EEB638"/><rect x="513.94" y="263.87" width="6.94" height="6.83" fill="#EED83E"/><rect x="520.88" y="263.87" width="6.94" height="6.83" fill="#EEB638"/><rect x="527.82" y="263.87" width="6.94" height="6.83" fill="#EEB638"/><rect x="534.76" y="263.87" width="6.94" height="6.83" fill="#EEB638"/><rect x="541.70" y="263.87" width="6.94" height="6.83" fill="#F09232"/><rect x="548.64" y="263.87" width="6.94" height="6.83" fill="#EEB638"/><rect x="555.58" y="263.87" width="6.94" height="6.83" fill="#ECF53C"/><rect x="562.52" y="263.87" width="6.94" height="6.83" fill="#C6EF4C"/><rect x="569.46" y="263.87" width="6.94" height="6.83" fill="#DAF93C"/><rect x="576.40" y="263.87" width="6.94" height="6.83" fill="#ECF53C"/><rect x="583.34" y="263.87" width="6.94" height="6.83" fill="#74CCA2"/><rect x="590.28" y="263.87" width="6.94" height="6.83" fill="#C6EF4C"/><rect x="597.22" y="263.87" width="6.94" height="6.83" fill="#ECF53C"/><rect x="604.16" y="263.87" width="6.94" height="6.83" fill="#A8E078"/><rect x="611.10" y="263.87" width="6.94" height="6.83" fill="#ECF53C"/><rect x="618.04" y="263.87" width="6.94" height="6.83" fill="#EED83E"/><rect x="624.98" y="263.87" width="6.94" height="6.83" fill="#ECF53C"/><rect x="631.92" y="263.87" width="6.94" height="6.83" fill="#C6EF4C"/><rect x="638.86" y="263.87" width="6.94" height="6.83" fill="#ECF53C"/><rect x="507.00" y="270.70" width="6.94" height="6.83" fill="#ECF53C"/><rect x="513.94" y="270.70" width="6.94" height="6.83" fill="#ECF53C"/><rect x="520.88" y="270.70" width="6.94" height="6.83" fill="#ECF53C"/><rect x="527.82" y="270.70" width="6.94" height="6.83" fill="#EED83E"/><rect x="534.76" y="270.70" width="6.94" height="6.83" fill="#EED83E"/><rect x="541.70" y="270.70" width="6.94" height="6.83" fill="#F09232"/><rect x="548.64" y="270.70" width="6.94" height="6.83" fill="#EEB638"/><rect x="555.58" y="270.70" width="6.94" height="6.83" fill="#EED83E"/><rect x="562.52" y="270.70" width="6.94" height="6.83" fill="#ECF53C"/><rect x="569.46" y="270.70" width="6.94" height="6.83" fill="#ECF53C"/><rect x="576.40" y="270.70" width="6.94" height="6.83" fill="#ECF53C"/><rect x="583.34" y="270.70" width="6.94" height="6.83" fill="#A8E078"/><rect x="590.28" y="270.70" width="6.94" height="6.83" fill="#C6EF4C"/><rect x="597.22" y="270.70" width="6.94" height="6.83" fill="#ECF53C"/><rect x="604.16" y="270.70" width="6.94" height="6.83" fill="#ECF53C"/><rect x="611.10" y="270.70" width="6.94" height="6.83" fill="#ECF53C"/><rect x="618.04" y="270.70" width="6.94" height="6.83" fill="#EED83E"/><rect x="624.98" y="270.70" width="6.94" height="6.83" fill="#ECF53C"/><rect x="631.92" y="270.70" width="6.94" height="6.83" fill="#ECF53C"/><rect x="638.86" y="270.70" width="6.94" height="6.83" fill="#EED83E"/><rect x="507.00" y="277.53" width="6.94" height="6.83" fill="#ECF53C"/><rect x="513.94" y="277.53" width="6.94" height="6.83" fill="#EED83E"/><rect x="520.88" y="277.53" width="6.94" height="6.83" fill="#EED83E"/><rect x="527.82" y="277.53" width="6.94" height="6.83" fill="#ECF53C"/><rect x="534.76" y="277.53" width="6.94" height="6.83" fill="#ECF53C"/><rect x="541.70" y="277.53" width="6.94" height="6.83" fill="#EEB638"/><rect x="548.64" y="277.53" width="6.94" height="6.83" fill="#ECF53C"/><rect x="555.58" y="277.53" width="6.94" height="6.83" fill="#EED83E"/><rect x="562.52" y="277.53" width="6.94" height="6.83" fill="#DAF93C"/><rect x="569.46" y="277.53" width="6.94" height="6.83" fill="#DAF93C"/><rect x="576.40" y="277.53" width="6.94" height="6.83" fill="#EED83E"/><rect x="583.34" y="277.53" width="6.94" height="6.83" fill="#DAF93C"/><rect x="590.28" y="277.53" width="6.94" height="6.83" fill="#DAF93C"/><rect x="597.22" y="277.53" width="6.94" height="6.83" fill="#C6EF4C"/><rect x="604.16" y="277.53" width="6.94" height="6.83" fill="#A8E078"/><rect x="611.10" y="277.53" width="6.94" height="6.83" fill="#EED83E"/><rect x="618.04" y="277.53" width="6.94" height="6.83" fill="#ECF53C"/><rect x="624.98" y="277.53" width="6.94" height="6.83" fill="#DAF93C"/><rect x="631.92" y="277.53" width="6.94" height="6.83" fill="#EED83E"/><rect x="638.86" y="277.53" width="6.94" height="6.83" fill="#ECF53C"/><rect x="507.00" y="284.36" width="6.94" height="6.83" fill="#ECF53C"/><rect x="513.94" y="284.36" width="6.94" height="6.83" fill="#DAF93C"/><rect x="520.88" y="284.36" width="6.94" height="6.83" fill="#EED83E"/><rect x="527.82" y="284.36" width="6.94" height="6.83" fill="#EEB638"/><rect x="534.76" y="284.36" width="6.94" height="6.83" fill="#ECF53C"/><rect x="541.70" y="284.36" width="6.94" height="6.83" fill="#EED83E"/><rect x="548.64" y="284.36" width="6.94" height="6.83" fill="#ECF53C"/><rect x="555.58" y="284.36" width="6.94" height="6.83" fill="#ECF53C"/><rect x="562.52" y="284.36" width="6.94" height="6.83" fill="#C6EF4C"/><rect x="569.46" y="284.36" width="6.94" height="6.83" fill="#DAF93C"/><rect x="576.40" y="284.36" width="6.94" height="6.83" fill="#DAF93C"/><rect x="583.34" y="284.36" width="6.94" height="6.83" fill="#C6EF4C"/><rect x="590.28" y="284.36" width="6.94" height="6.83" fill="#DAF93C"/><rect x="597.22" y="284.36" width="6.94" height="6.83" fill="#ECF53C"/><rect x="604.16" y="284.36" width="6.94" height="6.83" fill="#DAF93C"/><rect x="611.10" y="284.36" width="6.94" height="6.83" fill="#EEB638"/><rect x="618.04" y="284.36" width="6.94" height="6.83" fill="#DAF93C"/><rect x="624.98" y="284.36" width="6.94" height="6.83" fill="#ECF53C"/><rect x="631.92" y="284.36" width="6.94" height="6.83" fill="#ECF53C"/><rect x="638.86" y="284.36" width="6.94" height="6.83" fill="#DAF93C"/><rect x="507.00" y="291.19" width="6.94" height="6.83" fill="#ECF53C"/><rect x="513.94" y="291.19" width="6.94" height="6.83" fill="#EEB638"/><rect x="520.88" y="291.19" width="6.94" height="6.83" fill="#ECF53C"/><rect x="527.82" y="291.19" width="6.94" height="6.83" fill="#ECF53C"/><rect x="534.76" y="291.19" width="6.94" height="6.83" fill="#ECF53C"/><rect x="541.70" y="291.19" width="6.94" height="6.83" fill="#ECF53C"/><rect x="548.64" y="291.19" width="6.94" height="6.83" fill="#DAF93C"/><rect x="555.58" y="291.19" width="6.94" height="6.83" fill="#DAF93C"/><rect x="562.52" y="291.19" width="6.94" height="6.83" fill="#DAF93C"/><rect x="569.46" y="291.19" width="6.94" height="6.83" fill="#DAF93C"/><rect x="576.40" y="291.19" width="6.94" height="6.83" fill="#DAF93C"/><rect x="583.34" y="291.19" width="6.94" height="6.83" fill="#ECF53C"/><rect x="590.28" y="291.19" width="6.94" height="6.83" fill="#ECF53C"/><rect x="597.22" y="291.19" width="6.94" height="6.83" fill="#DAF93C"/><rect x="604.16" y="291.19" width="6.94" height="6.83" fill="#DAF93C"/><rect x="611.10" y="291.19" width="6.94" height="6.83" fill="#ECF53C"/><rect x="618.04" y="291.19" width="6.94" height="6.83" fill="#ECF53C"/><rect x="624.98" y="291.19" width="6.94" height="6.83" fill="#DAF93C"/><rect x="631.92" y="291.19" width="6.94" height="6.83" fill="#EED83E"/><rect x="638.86" y="291.19" width="6.94" height="6.83" fill="#EED83E"/><rect x="507.00" y="298.02" width="6.94" height="6.83" fill="#ECF53C"/><rect x="513.94" y="298.02" width="6.94" height="6.83" fill="#EEB638"/><rect x="520.88" y="298.02" width="6.94" height="6.83" fill="#EEB638"/><rect x="527.82" y="298.02" width="6.94" height="6.83" fill="#EED83E"/><rect x="534.76" y="298.02" width="6.94" height="6.83" fill="#ECF53C"/><rect x="541.70" y="298.02" width="6.94" height="6.83" fill="#ECF53C"/><rect x="548.64" y="298.02" width="6.94" height="6.83" fill="#DAF93C"/><rect x="555.58" y="298.02" width="6.94" height="6.83" fill="#DAF93C"/><rect x="562.52" y="298.02" width="6.94" height="6.83" fill="#ECF53C"/><rect x="569.46" y="298.02" width="6.94" height="6.83" fill="#F09232"/><rect x="576.40" y="298.02" width="6.94" height="6.83" fill="#ECF53C"/><rect x="583.34" y="298.02" width="6.94" height="6.83" fill="#DAF93C"/><rect x="590.28" y="298.02" width="6.94" height="6.83" fill="#DAF93C"/><rect x="597.22" y="298.02" width="6.94" height="6.83" fill="#EED83E"/><rect x="604.16" y="298.02" width="6.94" height="6.83" fill="#DAF93C"/><rect x="611.10" y="298.02" width="6.94" height="6.83" fill="#EED83E"/><rect x="618.04" y="298.02" width="6.94" height="6.83" fill="#ECF53C"/><rect x="624.98" y="298.02" width="6.94" height="6.83" fill="#ECF53C"/><rect x="631.92" y="298.02" width="6.94" height="6.83" fill="#DAF93C"/><rect x="638.86" y="298.02" width="6.94" height="6.83" fill="#EEB638"/><rect x="507.00" y="304.85" width="6.94" height="6.83" fill="#DAF93C"/><rect x="513.94" y="304.85" width="6.94" height="6.83" fill="#F09232"/><rect x="520.88" y="304.85" width="6.94" height="6.83" fill="#F09232"/><rect x="527.82" y="304.85" width="6.94" height="6.83" fill="#EED83E"/><rect x="534.76" y="304.85" width="6.94" height="6.83" fill="#C6EF4C"/><rect x="541.70" y="304.85" width="6.94" height="6.83" fill="#ECF53C"/><rect x="548.64" y="304.85" width="6.94" height="6.83" fill="#DAF93C"/><rect x="555.58" y="304.85" width="6.94" height="6.83" fill="#ECF53C"/><rect x="562.52" y="304.85" width="6.94" height="6.83" fill="#ECF53C"/><rect x="569.46" y="304.85" width="6.94" height="6.83" fill="#ECF53C"/><rect x="576.40" y="304.85" width="6.94" height="6.83" fill="#DAF93C"/><rect x="583.34" y="304.85" width="6.94" height="6.83" fill="#ECF53C"/><rect x="590.28" y="304.85" width="6.94" height="6.83" fill="#C6EF4C"/><rect x="597.22" y="304.85" width="6.94" height="6.83" fill="#DAF93C"/><rect x="604.16" y="304.85" width="6.94" height="6.83" fill="#EED83E"/><rect x="611.10" y="304.85" width="6.94" height="6.83" fill="#EED83E"/><rect x="618.04" y="304.85" width="6.94" height="6.83" fill="#ECF53C"/><rect x="624.98" y="304.85" width="6.94" height="6.83" fill="#DAF93C"/><rect x="631.92" y="304.85" width="6.94" height="6.83" fill="#ECF53C"/><rect x="638.86" y="304.85" width="6.94" height="6.83" fill="#DAF93C"/><rect x="507.00" y="311.68" width="6.94" height="6.83" fill="#ECF53C"/><rect x="513.94" y="311.68" width="6.94" height="6.83" fill="#ECF53C"/><rect x="520.88" y="311.68" width="6.94" height="6.83" fill="#C6EF4C"/><rect x="527.82" y="311.68" width="6.94" height="6.83" fill="#ECF53C"/><rect x="534.76" y="311.68" width="6.94" height="6.83" fill="#ECF53C"/><rect x="541.70" y="311.68" width="6.94" height="6.83" fill="#EEB638"/><rect x="548.64" y="311.68" width="6.94" height="6.83" fill="#ECF53C"/><rect x="555.58" y="311.68" width="6.94" height="6.83" fill="#F4602A"/><rect x="562.52" y="311.68" width="6.94" height="6.83" fill="#C6EF4C"/><rect x="569.46" y="311.68" width="6.94" height="6.83" fill="#C6EF4C"/><rect x="576.40" y="311.68" width="6.94" height="6.83" fill="#DAF93C"/><rect x="583.34" y="311.68" width="6.94" height="6.83" fill="#C6EF4C"/><rect x="590.28" y="311.68" width="6.94" height="6.83" fill="#DAF93C"/><rect x="597.22" y="311.68" width="6.94" height="6.83" fill="#ECF53C"/><rect x="604.16" y="311.68" width="6.94" height="6.83" fill="#C6EF4C"/><rect x="611.10" y="311.68" width="6.94" height="6.83" fill="#ECF53C"/><rect x="618.04" y="311.68" width="6.94" height="6.83" fill="#C6EF4C"/><rect x="624.98" y="311.68" width="6.94" height="6.83" fill="#ECF53C"/><rect x="631.92" y="311.68" width="6.94" height="6.83" fill="#EEB638"/><rect x="638.86" y="311.68" width="6.94" height="6.83" fill="#F4602A"/><rect x="507.00" y="318.51" width="6.94" height="6.83" fill="#ECF53C"/><rect x="513.94" y="318.51" width="6.94" height="6.83" fill="#ECF53C"/><rect x="520.88" y="318.51" width="6.94" height="6.83" fill="#ECF53C"/><rect x="527.82" y="318.51" width="6.94" height="6.83" fill="#ECF53C"/><rect x="534.76" y="318.51" width="6.94" height="6.83" fill="#EEB638"/><rect x="541.70" y="318.51" width="6.94" height="6.83" fill="#ECF53C"/><rect x="548.64" y="318.51" width="6.94" height="6.83" fill="#ECF53C"/><rect x="555.58" y="318.51" width="6.94" height="6.83" fill="#EED83E"/><rect x="562.52" y="318.51" width="6.94" height="6.83" fill="#ECF53C"/><rect x="569.46" y="318.51" width="6.94" height="6.83" fill="#DAF93C"/><rect x="576.40" y="318.51" width="6.94" height="6.83" fill="#ECF53C"/><rect x="583.34" y="318.51" width="6.94" height="6.83" fill="#DAF93C"/><rect x="590.28" y="318.51" width="6.94" height="6.83" fill="#ECF53C"/><rect x="597.22" y="318.51" width="6.94" height="6.83" fill="#ECF53C"/><rect x="604.16" y="318.51" width="6.94" height="6.83" fill="#ECF53C"/><rect x="611.10" y="318.51" width="6.94" height="6.83" fill="#ECF53C"/><rect x="618.04" y="318.51" width="6.94" height="6.83" fill="#ECF53C"/><rect x="624.98" y="318.51" width="6.94" height="6.83" fill="#DAF93C"/><rect x="631.92" y="318.51" width="6.94" height="6.83" fill="#ECF53C"/><rect x="638.86" y="318.51" width="6.94" height="6.83" fill="#EED83E"/><rect x="507.00" y="325.34" width="6.94" height="6.83" fill="#DAF93C"/><rect x="513.94" y="325.34" width="6.94" height="6.83" fill="#ECF53C"/><rect x="520.88" y="325.34" width="6.94" height="6.83" fill="#ECF53C"/><rect x="527.82" y="325.34" width="6.94" height="6.83" fill="#ECF53C"/><rect x="534.76" y="325.34" width="6.94" height="6.83" fill="#ECF53C"/><rect x="541.70" y="325.34" width="6.94" height="6.83" fill="#DAF93C"/><rect x="548.64" y="325.34" width="6.94" height="6.83" fill="#DAF93C"/><rect x="555.58" y="325.34" width="6.94" height="6.83" fill="#ECF53C"/><rect x="562.52" y="325.34" width="6.94" height="6.83" fill="#ECF53C"/><rect x="569.46" y="325.34" width="6.94" height="6.83" fill="#EED83E"/><rect x="576.40" y="325.34" width="6.94" height="6.83" fill="#ECF53C"/><rect x="583.34" y="325.34" width="6.94" height="6.83" fill="#EED83E"/><rect x="590.28" y="325.34" width="6.94" height="6.83" fill="#ECF53C"/><rect x="597.22" y="325.34" width="6.94" height="6.83" fill="#DAF93C"/><rect x="604.16" y="325.34" width="6.94" height="6.83" fill="#ECF53C"/><rect x="611.10" y="325.34" width="6.94" height="6.83" fill="#ECF53C"/><rect x="618.04" y="325.34" width="6.94" height="6.83" fill="#EEB638"/><rect x="624.98" y="325.34" width="6.94" height="6.83" fill="#ECF53C"/><rect x="631.92" y="325.34" width="6.94" height="6.83" fill="#ECF53C"/><rect x="638.86" y="325.34" width="6.94" height="6.83" fill="#EEB638"/><rect x="507.00" y="332.17" width="6.94" height="6.83" fill="#C6EF4C"/><rect x="513.94" y="332.17" width="6.94" height="6.83" fill="#DAF93C"/><rect x="520.88" y="332.17" width="6.94" height="6.83" fill="#C6EF4C"/><rect x="527.82" y="332.17" width="6.94" height="6.83" fill="#DAF93C"/><rect x="534.76" y="332.17" width="6.94" height="6.83" fill="#ECF53C"/><rect x="541.70" y="332.17" width="6.94" height="6.83" fill="#C6EF4C"/><rect x="548.64" y="332.17" width="6.94" height="6.83" fill="#C6EF4C"/><rect x="555.58" y="332.17" width="6.94" height="6.83" fill="#ECF53C"/><rect x="562.52" y="332.17" width="6.94" height="6.83" fill="#ECF53C"/><rect x="569.46" y="332.17" width="6.94" height="6.83" fill="#ECF53C"/><rect x="576.40" y="332.17" width="6.94" height="6.83" fill="#DAF93C"/><rect x="583.34" y="332.17" width="6.94" height="6.83" fill="#EED83E"/><rect x="590.28" y="332.17" width="6.94" height="6.83" fill="#ECF53C"/><rect x="597.22" y="332.17" width="6.94" height="6.83" fill="#C6EF4C"/><rect x="604.16" y="332.17" width="6.94" height="6.83" fill="#EED83E"/><rect x="611.10" y="332.17" width="6.94" height="6.83" fill="#ECF53C"/><rect x="618.04" y="332.17" width="6.94" height="6.83" fill="#DAF93C"/><rect x="624.98" y="332.17" width="6.94" height="6.83" fill="#ECF53C"/><rect x="631.92" y="332.17" width="6.94" height="6.83" fill="#EEB638"/><rect x="638.86" y="332.17" width="6.94" height="6.83" fill="#F09232"/><rect x="507.00" y="339.00" width="6.94" height="6.83" fill="#ECF53C"/><rect x="513.94" y="339.00" width="6.94" height="6.83" fill="#EED83E"/><rect x="520.88" y="339.00" width="6.94" height="6.83" fill="#ECF53C"/><rect x="527.82" y="339.00" width="6.94" height="6.83" fill="#ECF53C"/><rect x="534.76" y="339.00" width="6.94" height="6.83" fill="#EED83E"/><rect x="541.70" y="339.00" width="6.94" height="6.83" fill="#ECF53C"/><rect x="548.64" y="339.00" width="6.94" height="6.83" fill="#ECF53C"/><rect x="555.58" y="339.00" width="6.94" height="6.83" fill="#EEB638"/><rect x="562.52" y="339.00" width="6.94" height="6.83" fill="#DAF93C"/><rect x="569.46" y="339.00" width="6.94" height="6.83" fill="#ECF53C"/><rect x="576.40" y="339.00" width="6.94" height="6.83" fill="#ECF53C"/><rect x="583.34" y="339.00" width="6.94" height="6.83" fill="#DAF93C"/><rect x="590.28" y="339.00" width="6.94" height="6.83" fill="#ECF53C"/><rect x="597.22" y="339.00" width="6.94" height="6.83" fill="#DAF93C"/><rect x="604.16" y="339.00" width="6.94" height="6.83" fill="#C6EF4C"/><rect x="611.10" y="339.00" width="6.94" height="6.83" fill="#EED83E"/><rect x="618.04" y="339.00" width="6.94" height="6.83" fill="#ECF53C"/><rect x="624.98" y="339.00" width="6.94" height="6.83" fill="#ECF53C"/><rect x="631.92" y="339.00" width="6.94" height="6.83" fill="#DAF93C"/><rect x="638.86" y="339.00" width="6.94" height="6.83" fill="#ECF53C"/><rect x="507.00" y="345.83" width="6.94" height="6.83" fill="#ECF53C"/><rect x="513.94" y="345.83" width="6.94" height="6.83" fill="#ECF53C"/><rect x="520.88" y="345.83" width="6.94" height="6.83" fill="#ECF53C"/><rect x="527.82" y="345.83" width="6.94" height="6.83" fill="#ECF53C"/><rect x="534.76" y="345.83" width="6.94" height="6.83" fill="#DAF93C"/><rect x="541.70" y="345.83" width="6.94" height="6.83" fill="#EEB638"/><rect x="548.64" y="345.83" width="6.94" height="6.83" fill="#ECF53C"/><rect x="555.58" y="345.83" width="6.94" height="6.83" fill="#ECF53C"/><rect x="562.52" y="345.83" width="6.94" height="6.83" fill="#ECF53C"/><rect x="569.46" y="345.83" width="6.94" height="6.83" fill="#ECF53C"/><rect x="576.40" y="345.83" width="6.94" height="6.83" fill="#EED83E"/><rect x="583.34" y="345.83" width="6.94" height="6.83" fill="#DAF93C"/><rect x="590.28" y="345.83" width="6.94" height="6.83" fill="#DAF93C"/><rect x="597.22" y="345.83" width="6.94" height="6.83" fill="#DAF93C"/><rect x="604.16" y="345.83" width="6.94" height="6.83" fill="#C6EF4C"/><rect x="611.10" y="345.83" width="6.94" height="6.83" fill="#EED83E"/><rect x="618.04" y="345.83" width="6.94" height="6.83" fill="#ECF53C"/><rect x="624.98" y="345.83" width="6.94" height="6.83" fill="#ECF53C"/><rect x="631.92" y="345.83" width="6.94" height="6.83" fill="#ECF53C"/><rect x="638.86" y="345.83" width="6.94" height="6.83" fill="#EEB638"/><rect x="507.00" y="352.66" width="6.94" height="6.83" fill="#DAF93C"/><rect x="513.94" y="352.66" width="6.94" height="6.83" fill="#C6EF4C"/><rect x="520.88" y="352.66" width="6.94" height="6.83" fill="#C6EF4C"/><rect x="527.82" y="352.66" width="6.94" height="6.83" fill="#DAF93C"/><rect x="534.76" y="352.66" width="6.94" height="6.83" fill="#C6EF4C"/><rect x="541.70" y="352.66" width="6.94" height="6.83" fill="#C6EF4C"/><rect x="548.64" y="352.66" width="6.94" height="6.83" fill="#A8E078"/><rect x="555.58" y="352.66" width="6.94" height="6.83" fill="#C6EF4C"/><rect x="562.52" y="352.66" width="6.94" height="6.83" fill="#EED83E"/><rect x="569.46" y="352.66" width="6.94" height="6.83" fill="#DAF93C"/><rect x="576.40" y="352.66" width="6.94" height="6.83" fill="#C6EF4C"/><rect x="583.34" y="352.66" width="6.94" height="6.83" fill="#C6EF4C"/><rect x="590.28" y="352.66" width="6.94" height="6.83" fill="#DAF93C"/><rect x="597.22" y="352.66" width="6.94" height="6.83" fill="#ECF53C"/><rect x="604.16" y="352.66" width="6.94" height="6.83" fill="#EEB638"/><rect x="611.10" y="352.66" width="6.94" height="6.83" fill="#DAF93C"/><rect x="618.04" y="352.66" width="6.94" height="6.83" fill="#ECF53C"/><rect x="624.98" y="352.66" width="6.94" height="6.83" fill="#DAF93C"/><rect x="631.92" y="352.66" width="6.94" height="6.83" fill="#DAF93C"/><rect x="638.86" y="352.66" width="6.94" height="6.83" fill="#DAF93C"/><rect x="507.00" y="359.49" width="6.94" height="6.83" fill="#DAF93C"/><rect x="513.94" y="359.49" width="6.94" height="6.83" fill="#DAF93C"/><rect x="520.88" y="359.49" width="6.94" height="6.83" fill="#C6EF4C"/><rect x="527.82" y="359.49" width="6.94" height="6.83" fill="#C6EF4C"/><rect x="534.76" y="359.49" width="6.94" height="6.83" fill="#DAF93C"/><rect x="541.70" y="359.49" width="6.94" height="6.83" fill="#C6EF4C"/><rect x="548.64" y="359.49" width="6.94" height="6.83" fill="#C6EF4C"/><rect x="555.58" y="359.49" width="6.94" height="6.83" fill="#DAF93C"/><rect x="562.52" y="359.49" width="6.94" height="6.83" fill="#ECF53C"/><rect x="569.46" y="359.49" width="6.94" height="6.83" fill="#EED83E"/><rect x="576.40" y="359.49" width="6.94" height="6.83" fill="#DAF93C"/><rect x="583.34" y="359.49" width="6.94" height="6.83" fill="#DAF93C"/><rect x="590.28" y="359.49" width="6.94" height="6.83" fill="#ECF53C"/><rect x="597.22" y="359.49" width="6.94" height="6.83" fill="#DAF93C"/><rect x="604.16" y="359.49" width="6.94" height="6.83" fill="#DAF93C"/><rect x="611.10" y="359.49" width="6.94" height="6.83" fill="#C6EF4C"/><rect x="618.04" y="359.49" width="6.94" height="6.83" fill="#DAF93C"/><rect x="624.98" y="359.49" width="6.94" height="6.83" fill="#DAF93C"/><rect x="631.92" y="359.49" width="6.94" height="6.83" fill="#ECF53C"/><rect x="638.86" y="359.49" width="6.94" height="6.83" fill="#DAF93C"/><rect x="507.00" y="366.32" width="6.94" height="6.83" fill="#DAF93C"/><rect x="513.94" y="366.32" width="6.94" height="6.83" fill="#C6EF4C"/><rect x="520.88" y="366.32" width="6.94" height="6.83" fill="#C6EF4C"/><rect x="527.82" y="366.32" width="6.94" height="6.83" fill="#C6EF4C"/><rect x="534.76" y="366.32" width="6.94" height="6.83" fill="#DAF93C"/><rect x="541.70" y="366.32" width="6.94" height="6.83" fill="#C6EF4C"/><rect x="548.64" y="366.32" width="6.94" height="6.83" fill="#C6EF4C"/><rect x="555.58" y="366.32" width="6.94" height="6.83" fill="#DAF93C"/><rect x="562.52" y="366.32" width="6.94" height="6.83" fill="#DAF93C"/><rect x="569.46" y="366.32" width="6.94" height="6.83" fill="#DAF93C"/><rect x="576.40" y="366.32" width="6.94" height="6.83" fill="#ECF53C"/><rect x="583.34" y="366.32" width="6.94" height="6.83" fill="#ECF53C"/><rect x="590.28" y="366.32" width="6.94" height="6.83" fill="#DAF93C"/><rect x="597.22" y="366.32" width="6.94" height="6.83" fill="#ECF53C"/><rect x="604.16" y="366.32" width="6.94" height="6.83" fill="#EED83E"/><rect x="611.10" y="366.32" width="6.94" height="6.83" fill="#DAF93C"/><rect x="618.04" y="366.32" width="6.94" height="6.83" fill="#DAF93C"/><rect x="624.98" y="366.32" width="6.94" height="6.83" fill="#DAF93C"/><rect x="631.92" y="366.32" width="6.94" height="6.83" fill="#EEB638"/><rect x="638.86" y="366.32" width="6.94" height="6.83" fill="#DAF93C"/><rect x="507.00" y="373.15" width="6.94" height="6.83" fill="#DAF93C"/><rect x="513.94" y="373.15" width="6.94" height="6.83" fill="#DAF93C"/><rect x="520.88" y="373.15" width="6.94" height="6.83" fill="#DAF93C"/><rect x="527.82" y="373.15" width="6.94" height="6.83" fill="#DAF93C"/><rect x="534.76" y="373.15" width="6.94" height="6.83" fill="#ECF53C"/><rect x="541.70" y="373.15" width="6.94" height="6.83" fill="#C6EF4C"/><rect x="548.64" y="373.15" width="6.94" height="6.83" fill="#DAF93C"/><rect x="555.58" y="373.15" width="6.94" height="6.83" fill="#ECF53C"/><rect x="562.52" y="373.15" width="6.94" height="6.83" fill="#DAF93C"/><rect x="569.46" y="373.15" width="6.94" height="6.83" fill="#DAF93C"/><rect x="576.40" y="373.15" width="6.94" height="6.83" fill="#DAF93C"/><rect x="583.34" y="373.15" width="6.94" height="6.83" fill="#DAF93C"/><rect x="590.28" y="373.15" width="6.94" height="6.83" fill="#DAF93C"/><rect x="597.22" y="373.15" width="6.94" height="6.83" fill="#DAF93C"/><rect x="604.16" y="373.15" width="6.94" height="6.83" fill="#C6EF4C"/><rect x="611.10" y="373.15" width="6.94" height="6.83" fill="#ECF53C"/><rect x="618.04" y="373.15" width="6.94" height="6.83" fill="#DAF93C"/><rect x="624.98" y="373.15" width="6.94" height="6.83" fill="#DAF93C"/><rect x="631.92" y="373.15" width="6.94" height="6.83" fill="#ECF53C"/><rect x="638.86" y="373.15" width="6.94" height="6.83" fill="#ECF53C"/><rect x="507.00" y="379.98" width="6.94" height="6.83" fill="#C6EF4C"/><rect x="513.94" y="379.98" width="6.94" height="6.83" fill="#C6EF4C"/><rect x="520.88" y="379.98" width="6.94" height="6.83" fill="#DAF93C"/><rect x="527.82" y="379.98" width="6.94" height="6.83" fill="#DAF93C"/><rect x="534.76" y="379.98" width="6.94" height="6.83" fill="#DAF93C"/><rect x="541.70" y="379.98" width="6.94" height="6.83" fill="#A8E078"/><rect x="548.64" y="379.98" width="6.94" height="6.83" fill="#C6EF4C"/><rect x="555.58" y="379.98" width="6.94" height="6.83" fill="#C6EF4C"/><rect x="562.52" y="379.98" width="6.94" height="6.83" fill="#ECF53C"/><rect x="569.46" y="379.98" width="6.94" height="6.83" fill="#ECF53C"/><rect x="576.40" y="379.98" width="6.94" height="6.83" fill="#ECF53C"/><rect x="583.34" y="379.98" width="6.94" height="6.83" fill="#ECF53C"/><rect x="590.28" y="379.98" width="6.94" height="6.83" fill="#DAF93C"/><rect x="597.22" y="379.98" width="6.94" height="6.83" fill="#DAF93C"/><rect x="604.16" y="379.98" width="6.94" height="6.83" fill="#C6EF4C"/><rect x="611.10" y="379.98" width="6.94" height="6.83" fill="#ECF53C"/><rect x="618.04" y="379.98" width="6.94" height="6.83" fill="#ECF53C"/><rect x="624.98" y="379.98" width="6.94" height="6.83" fill="#ECF53C"/><rect x="631.92" y="379.98" width="6.94" height="6.83" fill="#ECF53C"/><rect x="638.86" y="379.98" width="6.94" height="6.83" fill="#C6EF4C"/><rect x="507.00" y="386.81" width="6.94" height="6.83" fill="#ECF53C"/><rect x="513.94" y="386.81" width="6.94" height="6.83" fill="#C6EF4C"/><rect x="520.88" y="386.81" width="6.94" height="6.83" fill="#DAF93C"/><rect x="527.82" y="386.81" width="6.94" height="6.83" fill="#ECF53C"/><rect x="534.76" y="386.81" width="6.94" height="6.83" fill="#EED83E"/><rect x="541.70" y="386.81" width="6.94" height="6.83" fill="#C6EF4C"/><rect x="548.64" y="386.81" width="6.94" height="6.83" fill="#DAF93C"/><rect x="555.58" y="386.81" width="6.94" height="6.83" fill="#DAF93C"/><rect x="562.52" y="386.81" width="6.94" height="6.83" fill="#DAF93C"/><rect x="569.46" y="386.81" width="6.94" height="6.83" fill="#ECF53C"/><rect x="576.40" y="386.81" width="6.94" height="6.83" fill="#DAF93C"/><rect x="583.34" y="386.81" width="6.94" height="6.83" fill="#DAF93C"/><rect x="590.28" y="386.81" width="6.94" height="6.83" fill="#DAF93C"/><rect x="597.22" y="386.81" width="6.94" height="6.83" fill="#DAF93C"/><rect x="604.16" y="386.81" width="6.94" height="6.83" fill="#ECF53C"/><rect x="611.10" y="386.81" width="6.94" height="6.83" fill="#ECF53C"/><rect x="618.04" y="386.81" width="6.94" height="6.83" fill="#ECF53C"/><rect x="624.98" y="386.81" width="6.94" height="6.83" fill="#ECF53C"/><rect x="631.92" y="386.81" width="6.94" height="6.83" fill="#F09232"/><rect x="638.86" y="386.81" width="6.94" height="6.83" fill="#C6EF4C"/><rect x="507.00" y="393.64" width="6.94" height="6.83" fill="#EED83E"/><rect x="513.94" y="393.64" width="6.94" height="6.83" fill="#DAF93C"/><rect x="520.88" y="393.64" width="6.94" height="6.83" fill="#ECF53C"/><rect x="527.82" y="393.64" width="6.94" height="6.83" fill="#ECF53C"/><rect x="534.76" y="393.64" width="6.94" height="6.83" fill="#EED83E"/><rect x="541.70" y="393.64" width="6.94" height="6.83" fill="#DAF93C"/><rect x="548.64" y="393.64" width="6.94" height="6.83" fill="#ECF53C"/><rect x="555.58" y="393.64" width="6.94" height="6.83" fill="#ECF53C"/><rect x="562.52" y="393.64" width="6.94" height="6.83" fill="#C6EF4C"/><rect x="569.46" y="393.64" width="6.94" height="6.83" fill="#DAF93C"/><rect x="576.40" y="393.64" width="6.94" height="6.83" fill="#DAF93C"/><rect x="583.34" y="393.64" width="6.94" height="6.83" fill="#ECF53C"/><rect x="590.28" y="393.64" width="6.94" height="6.83" fill="#DAF93C"/><rect x="597.22" y="393.64" width="6.94" height="6.83" fill="#ECF53C"/><rect x="604.16" y="393.64" width="6.94" height="6.83" fill="#C6EF4C"/><rect x="611.10" y="393.64" width="6.94" height="6.83" fill="#ECF53C"/><rect x="618.04" y="393.64" width="6.94" height="6.83" fill="#ECF53C"/><rect x="624.98" y="393.64" width="6.94" height="6.83" fill="#ECF53C"/><rect x="631.92" y="393.64" width="6.94" height="6.83" fill="#EEB638"/><rect x="638.86" y="393.64" width="6.94" height="6.83" fill="#ECF53C"/><rect x="507.00" y="400.47" width="6.94" height="6.83" fill="#EED83E"/><rect x="513.94" y="400.47" width="6.94" height="6.83" fill="#ECF53C"/><rect x="520.88" y="400.47" width="6.94" height="6.83" fill="#ECF53C"/><rect x="527.82" y="400.47" width="6.94" height="6.83" fill="#ECF53C"/><rect x="534.76" y="400.47" width="6.94" height="6.83" fill="#DAF93C"/><rect x="541.70" y="400.47" width="6.94" height="6.83" fill="#A8E078"/><rect x="548.64" y="400.47" width="6.94" height="6.83" fill="#ECF53C"/><rect x="555.58" y="400.47" width="6.94" height="6.83" fill="#DAF93C"/><rect x="562.52" y="400.47" width="6.94" height="6.83" fill="#DAF93C"/><rect x="569.46" y="400.47" width="6.94" height="6.83" fill="#ECF53C"/><rect x="576.40" y="400.47" width="6.94" height="6.83" fill="#DAF93C"/><rect x="583.34" y="400.47" width="6.94" height="6.83" fill="#ECF53C"/><rect x="590.28" y="400.47" width="6.94" height="6.83" fill="#ECF53C"/><rect x="597.22" y="400.47" width="6.94" height="6.83" fill="#ECF53C"/><rect x="604.16" y="400.47" width="6.94" height="6.83" fill="#EED83E"/><rect x="611.10" y="400.47" width="6.94" height="6.83" fill="#EEB638"/><rect x="618.04" y="400.47" width="6.94" height="6.83" fill="#EED83E"/><rect x="624.98" y="400.47" width="6.94" height="6.83" fill="#ECF53C"/><rect x="631.92" y="400.47" width="6.94" height="6.83" fill="#ECF53C"/><rect x="638.86" y="400.47" width="6.94" height="6.83" fill="#EED83E"/><rect x="507.00" y="407.30" width="6.94" height="6.83" fill="#ECF53C"/><rect x="513.94" y="407.30" width="6.94" height="6.83" fill="#DAF93C"/><rect x="520.88" y="407.30" width="6.94" height="6.83" fill="#C6EF4C"/><rect x="527.82" y="407.30" width="6.94" height="6.83" fill="#DAF93C"/><rect x="534.76" y="407.30" width="6.94" height="6.83" fill="#ECF53C"/><rect x="541.70" y="407.30" width="6.94" height="6.83" fill="#A8E078"/><rect x="548.64" y="407.30" width="6.94" height="6.83" fill="#DAF93C"/><rect x="555.58" y="407.30" width="6.94" height="6.83" fill="#DAF93C"/><rect x="562.52" y="407.30" width="6.94" height="6.83" fill="#ECF53C"/><rect x="569.46" y="407.30" width="6.94" height="6.83" fill="#ECF53C"/><rect x="576.40" y="407.30" width="6.94" height="6.83" fill="#DAF93C"/><rect x="583.34" y="407.30" width="6.94" height="6.83" fill="#DAF93C"/><rect x="590.28" y="407.30" width="6.94" height="6.83" fill="#DAF93C"/><rect x="597.22" y="407.30" width="6.94" height="6.83" fill="#ECF53C"/><rect x="604.16" y="407.30" width="6.94" height="6.83" fill="#F09232"/><rect x="611.10" y="407.30" width="6.94" height="6.83" fill="#ECF53C"/><rect x="618.04" y="407.30" width="6.94" height="6.83" fill="#EED83E"/><rect x="624.98" y="407.30" width="6.94" height="6.83" fill="#EED83E"/><rect x="631.92" y="407.30" width="6.94" height="6.83" fill="#EED83E"/><rect x="638.86" y="407.30" width="6.94" height="6.83" fill="#EED83E"/><rect x="507.00" y="414.13" width="6.94" height="6.83" fill="#ECF53C"/><rect x="513.94" y="414.13" width="6.94" height="6.83" fill="#ECF53C"/><rect x="520.88" y="414.13" width="6.94" height="6.83" fill="#ECF53C"/><rect x="527.82" y="414.13" width="6.94" height="6.83" fill="#DAF93C"/><rect x="534.76" y="414.13" width="6.94" height="6.83" fill="#DAF93C"/><rect x="541.70" y="414.13" width="6.94" height="6.83" fill="#DAF93C"/><rect x="548.64" y="414.13" width="6.94" height="6.83" fill="#DAF93C"/><rect x="555.58" y="414.13" width="6.94" height="6.83" fill="#DAF93C"/><rect x="562.52" y="414.13" width="6.94" height="6.83" fill="#EED83E"/><rect x="569.46" y="414.13" width="6.94" height="6.83" fill="#DAF93C"/><rect x="576.40" y="414.13" width="6.94" height="6.83" fill="#ECF53C"/><rect x="583.34" y="414.13" width="6.94" height="6.83" fill="#ECF53C"/><rect x="590.28" y="414.13" width="6.94" height="6.83" fill="#ECF53C"/><rect x="597.22" y="414.13" width="6.94" height="6.83" fill="#ECF53C"/><rect x="604.16" y="414.13" width="6.94" height="6.83" fill="#ECF53C"/><rect x="611.10" y="414.13" width="6.94" height="6.83" fill="#ECF53C"/><rect x="618.04" y="414.13" width="6.94" height="6.83" fill="#ECF53C"/><rect x="624.98" y="414.13" width="6.94" height="6.83" fill="#ECF53C"/><rect x="631.92" y="414.13" width="6.94" height="6.83" fill="#ECF53C"/><rect x="638.86" y="414.13" width="6.94" height="6.83" fill="#ECF53C"/><rect x="507.00" y="420.96" width="6.94" height="6.83" fill="#C6EF4C"/><rect x="513.94" y="420.96" width="6.94" height="6.83" fill="#C6EF4C"/><rect x="520.88" y="420.96" width="6.94" height="6.83" fill="#EED83E"/><rect x="527.82" y="420.96" width="6.94" height="6.83" fill="#EED83E"/><rect x="534.76" y="420.96" width="6.94" height="6.83" fill="#ECF53C"/><rect x="541.70" y="420.96" width="6.94" height="6.83" fill="#74CCA2"/><rect x="548.64" y="420.96" width="6.94" height="6.83" fill="#DAF93C"/><rect x="555.58" y="420.96" width="6.94" height="6.83" fill="#DAF93C"/><rect x="562.52" y="420.96" width="6.94" height="6.83" fill="#ECF53C"/><rect x="569.46" y="420.96" width="6.94" height="6.83" fill="#ECF53C"/><rect x="576.40" y="420.96" width="6.94" height="6.83" fill="#C6EF4C"/><rect x="583.34" y="420.96" width="6.94" height="6.83" fill="#EEB638"/><rect x="590.28" y="420.96" width="6.94" height="6.83" fill="#EED83E"/><rect x="597.22" y="420.96" width="6.94" height="6.83" fill="#ECF53C"/><rect x="604.16" y="420.96" width="6.94" height="6.83" fill="#EED83E"/><rect x="611.10" y="420.96" width="6.94" height="6.83" fill="#ECF53C"/><rect x="618.04" y="420.96" width="6.94" height="6.83" fill="#ECF53C"/><rect x="624.98" y="420.96" width="6.94" height="6.83" fill="#C6EF4C"/><rect x="631.92" y="420.96" width="6.94" height="6.83" fill="#ECF53C"/><rect x="638.86" y="420.96" width="6.94" height="6.83" fill="#EED83E"/><rect x="507.00" y="427.79" width="6.94" height="6.83" fill="#DAF93C"/><rect x="513.94" y="427.79" width="6.94" height="6.83" fill="#C6EF4C"/><rect x="520.88" y="427.79" width="6.94" height="6.83" fill="#DAF93C"/><rect x="527.82" y="427.79" width="6.94" height="6.83" fill="#ECF53C"/><rect x="534.76" y="427.79" width="6.94" height="6.83" fill="#C6EF4C"/><rect x="541.70" y="427.79" width="6.94" height="6.83" fill="#74CCA2"/><rect x="548.64" y="427.79" width="6.94" height="6.83" fill="#C6EF4C"/><rect x="555.58" y="427.79" width="6.94" height="6.83" fill="#DAF93C"/><rect x="562.52" y="427.79" width="6.94" height="6.83" fill="#ECF53C"/><rect x="569.46" y="427.79" width="6.94" height="6.83" fill="#ECF53C"/><rect x="576.40" y="427.79" width="6.94" height="6.83" fill="#ECF53C"/><rect x="583.34" y="427.79" width="6.94" height="6.83" fill="#F09232"/><rect x="590.28" y="427.79" width="6.94" height="6.83" fill="#EED83E"/><rect x="597.22" y="427.79" width="6.94" height="6.83" fill="#ECF53C"/><rect x="604.16" y="427.79" width="6.94" height="6.83" fill="#F09232"/><rect x="611.10" y="427.79" width="6.94" height="6.83" fill="#ECF53C"/><rect x="618.04" y="427.79" width="6.94" height="6.83" fill="#ECF53C"/><rect x="624.98" y="427.79" width="6.94" height="6.83" fill="#ECF53C"/><rect x="631.92" y="427.79" width="6.94" height="6.83" fill="#ECF53C"/><rect x="638.86" y="427.79" width="6.94" height="6.83" fill="#ECF53C"/><rect x="507.00" y="434.62" width="6.94" height="6.83" fill="#C6EF4C"/><rect x="513.94" y="434.62" width="6.94" height="6.83" fill="#ECF53C"/><rect x="520.88" y="434.62" width="6.94" height="6.83" fill="#DAF93C"/><rect x="527.82" y="434.62" width="6.94" height="6.83" fill="#DAF93C"/><rect x="534.76" y="434.62" width="6.94" height="6.83" fill="#DAF93C"/><rect x="541.70" y="434.62" width="6.94" height="6.83" fill="#C6EF4C"/><rect x="548.64" y="434.62" width="6.94" height="6.83" fill="#DAF93C"/><rect x="555.58" y="434.62" width="6.94" height="6.83" fill="#ECF53C"/><rect x="562.52" y="434.62" width="6.94" height="6.83" fill="#ECF53C"/><rect x="569.46" y="434.62" width="6.94" height="6.83" fill="#EED83E"/><rect x="576.40" y="434.62" width="6.94" height="6.83" fill="#ECF53C"/><rect x="583.34" y="434.62" width="6.94" height="6.83" fill="#EED83E"/><rect x="590.28" y="434.62" width="6.94" height="6.83" fill="#EEB638"/><rect x="597.22" y="434.62" width="6.94" height="6.83" fill="#C6EF4C"/><rect x="604.16" y="434.62" width="6.94" height="6.83" fill="#EEB638"/><rect x="611.10" y="434.62" width="6.94" height="6.83" fill="#EEB638"/><rect x="618.04" y="434.62" width="6.94" height="6.83" fill="#ECF53C"/><rect x="624.98" y="434.62" width="6.94" height="6.83" fill="#ECF53C"/><rect x="631.92" y="434.62" width="6.94" height="6.83" fill="#DAF93C"/><rect x="638.86" y="434.62" width="6.94" height="6.83" fill="#EEB638"/><rect x="507.00" y="441.45" width="6.94" height="6.83" fill="#EED83E"/><rect x="513.94" y="441.45" width="6.94" height="6.83" fill="#ECF53C"/><rect x="520.88" y="441.45" width="6.94" height="6.83" fill="#EEB638"/><rect x="527.82" y="441.45" width="6.94" height="6.83" fill="#C6EF4C"/><rect x="534.76" y="441.45" width="6.94" height="6.83" fill="#ECF53C"/><rect x="541.70" y="441.45" width="6.94" height="6.83" fill="#DAF93C"/><rect x="548.64" y="441.45" width="6.94" height="6.83" fill="#74CCA2"/><rect x="555.58" y="441.45" width="6.94" height="6.83" fill="#C6EF4C"/><rect x="562.52" y="441.45" width="6.94" height="6.83" fill="#74CCA2"/><rect x="569.46" y="441.45" width="6.94" height="6.83" fill="#C6EF4C"/><rect x="576.40" y="441.45" width="6.94" height="6.83" fill="#DAF93C"/><rect x="583.34" y="441.45" width="6.94" height="6.83" fill="#F09232"/><rect x="590.28" y="441.45" width="6.94" height="6.83" fill="#ECF53C"/><rect x="597.22" y="441.45" width="6.94" height="6.83" fill="#DAF93C"/><rect x="604.16" y="441.45" width="6.94" height="6.83" fill="#EED83E"/><rect x="611.10" y="441.45" width="6.94" height="6.83" fill="#EED83E"/><rect x="618.04" y="441.45" width="6.94" height="6.83" fill="#ECF53C"/><rect x="624.98" y="441.45" width="6.94" height="6.83" fill="#ECF53C"/><rect x="631.92" y="441.45" width="6.94" height="6.83" fill="#EED83E"/><rect x="638.86" y="441.45" width="6.94" height="6.83" fill="#ECF53C"/><rect x="507.00" y="448.28" width="6.94" height="6.83" fill="#ECF53C"/><rect x="513.94" y="448.28" width="6.94" height="6.83" fill="#DAF93C"/><rect x="520.88" y="448.28" width="6.94" height="6.83" fill="#DAF93C"/><rect x="527.82" y="448.28" width="6.94" height="6.83" fill="#DAF93C"/><rect x="534.76" y="448.28" width="6.94" height="6.83" fill="#C6EF4C"/><rect x="541.70" y="448.28" width="6.94" height="6.83" fill="#DAF93C"/><rect x="548.64" y="448.28" width="6.94" height="6.83" fill="#DAF93C"/><rect x="555.58" y="448.28" width="6.94" height="6.83" fill="#ECF53C"/><rect x="562.52" y="448.28" width="6.94" height="6.83" fill="#DAF93C"/><rect x="569.46" y="448.28" width="6.94" height="6.83" fill="#DAF93C"/><rect x="576.40" y="448.28" width="6.94" height="6.83" fill="#DAF93C"/><rect x="583.34" y="448.28" width="6.94" height="6.83" fill="#ECF53C"/><rect x="590.28" y="448.28" width="6.94" height="6.83" fill="#EEB638"/><rect x="597.22" y="448.28" width="6.94" height="6.83" fill="#DAF93C"/><rect x="604.16" y="448.28" width="6.94" height="6.83" fill="#ECF53C"/><rect x="611.10" y="448.28" width="6.94" height="6.83" fill="#DAF93C"/><rect x="618.04" y="448.28" width="6.94" height="6.83" fill="#ECF53C"/><rect x="624.98" y="448.28" width="6.94" height="6.83" fill="#ECF53C"/><rect x="631.92" y="448.28" width="6.94" height="6.83" fill="#ECF53C"/><rect x="638.86" y="448.28" width="6.94" height="6.83" fill="#ECF53C"/><rect x="507.00" y="455.11" width="6.94" height="6.83" fill="#DAF93C"/><rect x="513.94" y="455.11" width="6.94" height="6.83" fill="#DAF93C"/><rect x="520.88" y="455.11" width="6.94" height="6.83" fill="#DAF93C"/><rect x="527.82" y="455.11" width="6.94" height="6.83" fill="#ECF53C"/><rect x="534.76" y="455.11" width="6.94" height="6.83" fill="#EED83E"/><rect x="541.70" y="455.11" width="6.94" height="6.83" fill="#DAF93C"/><rect x="548.64" y="455.11" width="6.94" height="6.83" fill="#EED83E"/><rect x="555.58" y="455.11" width="6.94" height="6.83" fill="#ECF53C"/><rect x="562.52" y="455.11" width="6.94" height="6.83" fill="#DAF93C"/><rect x="569.46" y="455.11" width="6.94" height="6.83" fill="#DAF93C"/><rect x="576.40" y="455.11" width="6.94" height="6.83" fill="#ECF53C"/><rect x="583.34" y="455.11" width="6.94" height="6.83" fill="#EED83E"/><rect x="590.28" y="455.11" width="6.94" height="6.83" fill="#ECF53C"/><rect x="597.22" y="455.11" width="6.94" height="6.83" fill="#ECF53C"/><rect x="604.16" y="455.11" width="6.94" height="6.83" fill="#EED83E"/><rect x="611.10" y="455.11" width="6.94" height="6.83" fill="#ECF53C"/><rect x="618.04" y="455.11" width="6.94" height="6.83" fill="#ECF53C"/><rect x="624.98" y="455.11" width="6.94" height="6.83" fill="#DAF93C"/><rect x="631.92" y="455.11" width="6.94" height="6.83" fill="#EED83E"/><rect x="638.86" y="455.11" width="6.94" height="6.83" fill="#ECF53C"/><rect x="507.00" y="461.94" width="6.94" height="6.83" fill="#ECF53C"/><rect x="513.94" y="461.94" width="6.94" height="6.83" fill="#DAF93C"/><rect x="520.88" y="461.94" width="6.94" height="6.83" fill="#DAF93C"/><rect x="527.82" y="461.94" width="6.94" height="6.83" fill="#ECF53C"/><rect x="534.76" y="461.94" width="6.94" height="6.83" fill="#ECF53C"/><rect x="541.70" y="461.94" width="6.94" height="6.83" fill="#DAF93C"/><rect x="548.64" y="461.94" width="6.94" height="6.83" fill="#ECF53C"/><rect x="555.58" y="461.94" width="6.94" height="6.83" fill="#ECF53C"/><rect x="562.52" y="461.94" width="6.94" height="6.83" fill="#DAF93C"/><rect x="569.46" y="461.94" width="6.94" height="6.83" fill="#DAF93C"/><rect x="576.40" y="461.94" width="6.94" height="6.83" fill="#DAF93C"/><rect x="583.34" y="461.94" width="6.94" height="6.83" fill="#ECF53C"/><rect x="590.28" y="461.94" width="6.94" height="6.83" fill="#ECF53C"/><rect x="597.22" y="461.94" width="6.94" height="6.83" fill="#DAF93C"/><rect x="604.16" y="461.94" width="6.94" height="6.83" fill="#ECF53C"/><rect x="611.10" y="461.94" width="6.94" height="6.83" fill="#DAF93C"/><rect x="618.04" y="461.94" width="6.94" height="6.83" fill="#ECF53C"/><rect x="624.98" y="461.94" width="6.94" height="6.83" fill="#DAF93C"/><rect x="631.92" y="461.94" width="6.94" height="6.83" fill="#C6EF4C"/><rect x="638.86" y="461.94" width="6.94" height="6.83" fill="#ECF53C"/><rect x="507.00" y="468.77" width="6.94" height="6.83" fill="#DAF93C"/><rect x="513.94" y="468.77" width="6.94" height="6.83" fill="#DAF93C"/><rect x="520.88" y="468.77" width="6.94" height="6.83" fill="#DAF93C"/><rect x="527.82" y="468.77" width="6.94" height="6.83" fill="#ECF53C"/><rect x="534.76" y="468.77" width="6.94" height="6.83" fill="#C6EF4C"/><rect x="541.70" y="468.77" width="6.94" height="6.83" fill="#C6EF4C"/><rect x="548.64" y="468.77" width="6.94" height="6.83" fill="#C6EF4C"/><rect x="555.58" y="468.77" width="6.94" height="6.83" fill="#C6EF4C"/><rect x="562.52" y="468.77" width="6.94" height="6.83" fill="#EED83E"/><rect x="569.46" y="468.77" width="6.94" height="6.83" fill="#EEB638"/><rect x="576.40" y="468.77" width="6.94" height="6.83" fill="#EEB638"/><rect x="583.34" y="468.77" width="6.94" height="6.83" fill="#F4602A"/><rect x="590.28" y="468.77" width="6.94" height="6.83" fill="#F09232"/><rect x="597.22" y="468.77" width="6.94" height="6.83" fill="#DAF93C"/><rect x="604.16" y="468.77" width="6.94" height="6.83" fill="#C6EF4C"/><rect x="611.10" y="468.77" width="6.94" height="6.83" fill="#DAF93C"/><rect x="618.04" y="468.77" width="6.94" height="6.83" fill="#DAF93C"/><rect x="624.98" y="468.77" width="6.94" height="6.83" fill="#DAF93C"/><rect x="631.92" y="468.77" width="6.94" height="6.83" fill="#DAF93C"/><rect x="638.86" y="468.77" width="6.94" height="6.83" fill="#DAF93C"/><rect x="507.00" y="475.60" width="6.94" height="6.83" fill="#C6EF4C"/><rect x="513.94" y="475.60" width="6.94" height="6.83" fill="#DAF93C"/><rect x="520.88" y="475.60" width="6.94" height="6.83" fill="#C6EF4C"/><rect x="527.82" y="475.60" width="6.94" height="6.83" fill="#DAF93C"/><rect x="534.76" y="475.60" width="6.94" height="6.83" fill="#C6EF4C"/><rect x="541.70" y="475.60" width="6.94" height="6.83" fill="#C6EF4C"/><rect x="548.64" y="475.60" width="6.94" height="6.83" fill="#C6EF4C"/><rect x="555.58" y="475.60" width="6.94" height="6.83" fill="#C6EF4C"/><rect x="562.52" y="475.60" width="6.94" height="6.83" fill="#EEB638"/><rect x="569.46" y="475.60" width="6.94" height="6.83" fill="#F09232"/><rect x="576.40" y="475.60" width="6.94" height="6.83" fill="#EEB638"/><rect x="583.34" y="475.60" width="6.94" height="6.83" fill="#FA3418"/><rect x="590.28" y="475.60" width="6.94" height="6.83" fill="#F09232"/><rect x="597.22" y="475.60" width="6.94" height="6.83" fill="#C6EF4C"/><rect x="604.16" y="475.60" width="6.94" height="6.83" fill="#C6EF4C"/><rect x="611.10" y="475.60" width="6.94" height="6.83" fill="#DAF93C"/><rect x="618.04" y="475.60" width="6.94" height="6.83" fill="#C6EF4C"/><rect x="624.98" y="475.60" width="6.94" height="6.83" fill="#C6EF4C"/><rect x="631.92" y="475.60" width="6.94" height="6.83" fill="#DAF93C"/><rect x="638.86" y="475.60" width="6.94" height="6.83" fill="#C6EF4C"/><rect x="507.00" y="482.43" width="6.94" height="6.83" fill="#DAF93C"/><rect x="513.94" y="482.43" width="6.94" height="6.83" fill="#DAF93C"/><rect x="520.88" y="482.43" width="6.94" height="6.83" fill="#ECF53C"/><rect x="527.82" y="482.43" width="6.94" height="6.83" fill="#EEB638"/><rect x="534.76" y="482.43" width="6.94" height="6.83" fill="#ECF53C"/><rect x="541.70" y="482.43" width="6.94" height="6.83" fill="#C6EF4C"/><rect x="548.64" y="482.43" width="6.94" height="6.83" fill="#ECF53C"/><rect x="555.58" y="482.43" width="6.94" height="6.83" fill="#C6EF4C"/><rect x="562.52" y="482.43" width="6.94" height="6.83" fill="#DAF93C"/><rect x="569.46" y="482.43" width="6.94" height="6.83" fill="#EEB638"/><rect x="576.40" y="482.43" width="6.94" height="6.83" fill="#ECF53C"/><rect x="583.34" y="482.43" width="6.94" height="6.83" fill="#F09232"/><rect x="590.28" y="482.43" width="6.94" height="6.83" fill="#ECF53C"/><rect x="597.22" y="482.43" width="6.94" height="6.83" fill="#DAF93C"/><rect x="604.16" y="482.43" width="6.94" height="6.83" fill="#DAF93C"/><rect x="611.10" y="482.43" width="6.94" height="6.83" fill="#DAF93C"/><rect x="618.04" y="482.43" width="6.94" height="6.83" fill="#DAF93C"/><rect x="624.98" y="482.43" width="6.94" height="6.83" fill="#C6EF4C"/><rect x="631.92" y="482.43" width="6.94" height="6.83" fill="#ECF53C"/><rect x="638.86" y="482.43" width="6.94" height="6.83" fill="#DAF93C"/><rect x="507.00" y="489.26" width="6.94" height="6.83" fill="#C6EF4C"/><rect x="513.94" y="489.26" width="6.94" height="6.83" fill="#DAF93C"/><rect x="520.88" y="489.26" width="6.94" height="6.83" fill="#C6EF4C"/><rect x="527.82" y="489.26" width="6.94" height="6.83" fill="#DAF93C"/><rect x="534.76" y="489.26" width="6.94" height="6.83" fill="#A8E078"/><rect x="541.70" y="489.26" width="6.94" height="6.83" fill="#A8E078"/><rect x="548.64" y="489.26" width="6.94" height="6.83" fill="#A8E078"/><rect x="555.58" y="489.26" width="6.94" height="6.83" fill="#DAF93C"/><rect x="562.52" y="489.26" width="6.94" height="6.83" fill="#EEB638"/><rect x="569.46" y="489.26" width="6.94" height="6.83" fill="#F09232"/><rect x="576.40" y="489.26" width="6.94" height="6.83" fill="#ECF53C"/><rect x="583.34" y="489.26" width="6.94" height="6.83" fill="#F09232"/><rect x="590.28" y="489.26" width="6.94" height="6.83" fill="#ECF53C"/><rect x="597.22" y="489.26" width="6.94" height="6.83" fill="#ECF53C"/><rect x="604.16" y="489.26" width="6.94" height="6.83" fill="#F4602A"/><rect x="611.10" y="489.26" width="6.94" height="6.83" fill="#EED83E"/><rect x="618.04" y="489.26" width="6.94" height="6.83" fill="#EED83E"/><rect x="624.98" y="489.26" width="6.94" height="6.83" fill="#ECF53C"/><rect x="631.92" y="489.26" width="6.94" height="6.83" fill="#C6EF4C"/><rect x="638.86" y="489.26" width="6.94" height="6.83" fill="#C6EF4C"/><rect x="507.00" y="496.09" width="6.94" height="6.83" fill="#ECF53C"/><rect x="513.94" y="496.09" width="6.94" height="6.83" fill="#DAF93C"/><rect x="520.88" y="496.09" width="6.94" height="6.83" fill="#ECF53C"/><rect x="527.82" y="496.09" width="6.94" height="6.83" fill="#ECF53C"/><rect x="534.76" y="496.09" width="6.94" height="6.83" fill="#ECF53C"/><rect x="541.70" y="496.09" width="6.94" height="6.83" fill="#ECF53C"/><rect x="548.64" y="496.09" width="6.94" height="6.83" fill="#ECF53C"/><rect x="555.58" y="496.09" width="6.94" height="6.83" fill="#ECF53C"/><rect x="562.52" y="496.09" width="6.94" height="6.83" fill="#ECF53C"/><rect x="569.46" y="496.09" width="6.94" height="6.83" fill="#ECF53C"/><rect x="576.40" y="496.09" width="6.94" height="6.83" fill="#ECF53C"/><rect x="583.34" y="496.09" width="6.94" height="6.83" fill="#EEB638"/><rect x="590.28" y="496.09" width="6.94" height="6.83" fill="#EED83E"/><rect x="597.22" y="496.09" width="6.94" height="6.83" fill="#ECF53C"/><rect x="604.16" y="496.09" width="6.94" height="6.83" fill="#ECF53C"/><rect x="611.10" y="496.09" width="6.94" height="6.83" fill="#ECF53C"/><rect x="618.04" y="496.09" width="6.94" height="6.83" fill="#EED83E"/><rect x="624.98" y="496.09" width="6.94" height="6.83" fill="#DAF93C"/><rect x="631.92" y="496.09" width="6.94" height="6.83" fill="#ECF53C"/><rect x="638.86" y="496.09" width="6.94" height="6.83" fill="#ECF53C"/><rect x="507.00" y="502.92" width="6.94" height="6.83" fill="#EEB638"/><rect x="513.94" y="502.92" width="6.94" height="6.83" fill="#EEB638"/><rect x="520.88" y="502.92" width="6.94" height="6.83" fill="#ECF53C"/><rect x="527.82" y="502.92" width="6.94" height="6.83" fill="#EED83E"/><rect x="534.76" y="502.92" width="6.94" height="6.83" fill="#ECF53C"/><rect x="541.70" y="502.92" width="6.94" height="6.83" fill="#DAF93C"/><rect x="548.64" y="502.92" width="6.94" height="6.83" fill="#C6EF4C"/><rect x="555.58" y="502.92" width="6.94" height="6.83" fill="#C6EF4C"/><rect x="562.52" y="502.92" width="6.94" height="6.83" fill="#ECF53C"/><rect x="569.46" y="502.92" width="6.94" height="6.83" fill="#EED83E"/><rect x="576.40" y="502.92" width="6.94" height="6.83" fill="#ECF53C"/><rect x="583.34" y="502.92" width="6.94" height="6.83" fill="#C6EF4C"/><rect x="590.28" y="502.92" width="6.94" height="6.83" fill="#DAF93C"/><rect x="597.22" y="502.92" width="6.94" height="6.83" fill="#EED83E"/><rect x="604.16" y="502.92" width="6.94" height="6.83" fill="#F09232"/><rect x="611.10" y="502.92" width="6.94" height="6.83" fill="#EEB638"/><rect x="618.04" y="502.92" width="6.94" height="6.83" fill="#EEB638"/><rect x="624.98" y="502.92" width="6.94" height="6.83" fill="#ECF53C"/><rect x="631.92" y="502.92" width="6.94" height="6.83" fill="#DAF93C"/><rect x="638.86" y="502.92" width="6.94" height="6.83" fill="#DAF93C"/><rect x="507.00" y="509.75" width="6.94" height="6.83" fill="#ECF53C"/><rect x="513.94" y="509.75" width="6.94" height="6.83" fill="#EED83E"/><rect x="520.88" y="509.75" width="6.94" height="6.83" fill="#ECF53C"/><rect x="527.82" y="509.75" width="6.94" height="6.83" fill="#ECF53C"/><rect x="534.76" y="509.75" width="6.94" height="6.83" fill="#ECF53C"/><rect x="541.70" y="509.75" width="6.94" height="6.83" fill="#DAF93C"/><rect x="548.64" y="509.75" width="6.94" height="6.83" fill="#C6EF4C"/><rect x="555.58" y="509.75" width="6.94" height="6.83" fill="#DAF93C"/><rect x="562.52" y="509.75" width="6.94" height="6.83" fill="#EED83E"/><rect x="569.46" y="509.75" width="6.94" height="6.83" fill="#EED83E"/><rect x="576.40" y="509.75" width="6.94" height="6.83" fill="#ECF53C"/><rect x="583.34" y="509.75" width="6.94" height="6.83" fill="#C6EF4C"/><rect x="590.28" y="509.75" width="6.94" height="6.83" fill="#DAF93C"/><rect x="597.22" y="509.75" width="6.94" height="6.83" fill="#EED83E"/><rect x="604.16" y="509.75" width="6.94" height="6.83" fill="#EED83E"/><rect x="611.10" y="509.75" width="6.94" height="6.83" fill="#EEB638"/><rect x="618.04" y="509.75" width="6.94" height="6.83" fill="#EED83E"/><rect x="624.98" y="509.75" width="6.94" height="6.83" fill="#ECF53C"/><rect x="631.92" y="509.75" width="6.94" height="6.83" fill="#DAF93C"/><rect x="638.86" y="509.75" width="6.94" height="6.83" fill="#DAF93C"/><rect x="507.00" y="516.58" width="6.94" height="6.83" fill="#DAF93C"/><rect x="513.94" y="516.58" width="6.94" height="6.83" fill="#EED83E"/><rect x="520.88" y="516.58" width="6.94" height="6.83" fill="#ECF53C"/><rect x="527.82" y="516.58" width="6.94" height="6.83" fill="#ECF53C"/><rect x="534.76" y="516.58" width="6.94" height="6.83" fill="#ECF53C"/><rect x="541.70" y="516.58" width="6.94" height="6.83" fill="#C6EF4C"/><rect x="548.64" y="516.58" width="6.94" height="6.83" fill="#C6EF4C"/><rect x="555.58" y="516.58" width="6.94" height="6.83" fill="#DAF93C"/><rect x="562.52" y="516.58" width="6.94" height="6.83" fill="#ECF53C"/><rect x="569.46" y="516.58" width="6.94" height="6.83" fill="#ECF53C"/><rect x="576.40" y="516.58" width="6.94" height="6.83" fill="#ECF53C"/><rect x="583.34" y="516.58" width="6.94" height="6.83" fill="#DAF93C"/><rect x="590.28" y="516.58" width="6.94" height="6.83" fill="#DAF93C"/><rect x="597.22" y="516.58" width="6.94" height="6.83" fill="#EEB638"/><rect x="604.16" y="516.58" width="6.94" height="6.83" fill="#EEB638"/><rect x="611.10" y="516.58" width="6.94" height="6.83" fill="#EED83E"/><rect x="618.04" y="516.58" width="6.94" height="6.83" fill="#EED83E"/><rect x="624.98" y="516.58" width="6.94" height="6.83" fill="#ECF53C"/><rect x="631.92" y="516.58" width="6.94" height="6.83" fill="#ECF53C"/><rect x="638.86" y="516.58" width="6.94" height="6.83" fill="#DAF93C"/><rect x="507.00" y="523.41" width="6.94" height="6.83" fill="#DAF93C"/><rect x="513.94" y="523.41" width="6.94" height="6.83" fill="#EED83E"/><rect x="520.88" y="523.41" width="6.94" height="6.83" fill="#F09232"/><rect x="527.82" y="523.41" width="6.94" height="6.83" fill="#EEB638"/><rect x="534.76" y="523.41" width="6.94" height="6.83" fill="#DAF93C"/><rect x="541.70" y="523.41" width="6.94" height="6.83" fill="#C6EF4C"/><rect x="548.64" y="523.41" width="6.94" height="6.83" fill="#C6EF4C"/><rect x="555.58" y="523.41" width="6.94" height="6.83" fill="#DAF93C"/><rect x="562.52" y="523.41" width="6.94" height="6.83" fill="#DAF93C"/><rect x="569.46" y="523.41" width="6.94" height="6.83" fill="#DAF93C"/><rect x="576.40" y="523.41" width="6.94" height="6.83" fill="#DAF93C"/><rect x="583.34" y="523.41" width="6.94" height="6.83" fill="#C6EF4C"/><rect x="590.28" y="523.41" width="6.94" height="6.83" fill="#DAF93C"/><rect x="597.22" y="523.41" width="6.94" height="6.83" fill="#F09232"/><rect x="604.16" y="523.41" width="6.94" height="6.83" fill="#DAF93C"/><rect x="611.10" y="523.41" width="6.94" height="6.83" fill="#EEB638"/><rect x="618.04" y="523.41" width="6.94" height="6.83" fill="#ECF53C"/><rect x="624.98" y="523.41" width="6.94" height="6.83" fill="#ECF53C"/><rect x="631.92" y="523.41" width="6.94" height="6.83" fill="#F09232"/><rect x="638.86" y="523.41" width="6.94" height="6.83" fill="#EEB638"/><rect x="507.00" y="530.24" width="6.94" height="6.83" fill="#ECF53C"/><rect x="513.94" y="530.24" width="6.94" height="6.83" fill="#ECF53C"/><rect x="520.88" y="530.24" width="6.94" height="6.83" fill="#ECF53C"/><rect x="527.82" y="530.24" width="6.94" height="6.83" fill="#ECF53C"/><rect x="534.76" y="530.24" width="6.94" height="6.83" fill="#ECF53C"/><rect x="541.70" y="530.24" width="6.94" height="6.83" fill="#ECF53C"/><rect x="548.64" y="530.24" width="6.94" height="6.83" fill="#ECF53C"/><rect x="555.58" y="530.24" width="6.94" height="6.83" fill="#DAF93C"/><rect x="562.52" y="530.24" width="6.94" height="6.83" fill="#ECF53C"/><rect x="569.46" y="530.24" width="6.94" height="6.83" fill="#ECF53C"/><rect x="576.40" y="530.24" width="6.94" height="6.83" fill="#ECF53C"/><rect x="583.34" y="530.24" width="6.94" height="6.83" fill="#ECF53C"/><rect x="590.28" y="530.24" width="6.94" height="6.83" fill="#ECF53C"/><rect x="597.22" y="530.24" width="6.94" height="6.83" fill="#EED83E"/><rect x="604.16" y="530.24" width="6.94" height="6.83" fill="#ECF53C"/><rect x="611.10" y="530.24" width="6.94" height="6.83" fill="#EEB638"/><rect x="618.04" y="530.24" width="6.94" height="6.83" fill="#ECF53C"/><rect x="624.98" y="530.24" width="6.94" height="6.83" fill="#ECF53C"/><rect x="631.92" y="530.24" width="6.94" height="6.83" fill="#ECF53C"/><rect x="638.86" y="530.24" width="6.94" height="6.83" fill="#ECF53C"/><rect x="507.00" y="537.07" width="6.94" height="6.83" fill="#ECF53C"/><rect x="513.94" y="537.07" width="6.94" height="6.83" fill="#ECF53C"/><rect x="520.88" y="537.07" width="6.94" height="6.83" fill="#ECF53C"/><rect x="527.82" y="537.07" width="6.94" height="6.83" fill="#ECF53C"/><rect x="534.76" y="537.07" width="6.94" height="6.83" fill="#DAF93C"/><rect x="541.70" y="537.07" width="6.94" height="6.83" fill="#DAF93C"/><rect x="548.64" y="537.07" width="6.94" height="6.83" fill="#DAF93C"/><rect x="555.58" y="537.07" width="6.94" height="6.83" fill="#ECF53C"/><rect x="562.52" y="537.07" width="6.94" height="6.83" fill="#ECF53C"/><rect x="569.46" y="537.07" width="6.94" height="6.83" fill="#EED83E"/><rect x="576.40" y="537.07" width="6.94" height="6.83" fill="#ECF53C"/><rect x="583.34" y="537.07" width="6.94" height="6.83" fill="#EED83E"/><rect x="590.28" y="537.07" width="6.94" height="6.83" fill="#DAF93C"/><rect x="597.22" y="537.07" width="6.94" height="6.83" fill="#ECF53C"/><rect x="604.16" y="537.07" width="6.94" height="6.83" fill="#DAF93C"/><rect x="611.10" y="537.07" width="6.94" height="6.83" fill="#EED83E"/><rect x="618.04" y="537.07" width="6.94" height="6.83" fill="#EED83E"/><rect x="624.98" y="537.07" width="6.94" height="6.83" fill="#ECF53C"/><rect x="631.92" y="537.07" width="6.94" height="6.83" fill="#DAF93C"/><rect x="638.86" y="537.07" width="6.94" height="6.83" fill="#ECF53C"/><rect x="507.00" y="543.90" width="6.94" height="6.83" fill="#EED83E"/><rect x="513.94" y="543.90" width="6.94" height="6.83" fill="#EED83E"/><rect x="520.88" y="543.90" width="6.94" height="6.83" fill="#ECF53C"/><rect x="527.82" y="543.90" width="6.94" height="6.83" fill="#ECF53C"/><rect x="534.76" y="543.90" width="6.94" height="6.83" fill="#DAF93C"/><rect x="541.70" y="543.90" width="6.94" height="6.83" fill="#DAF93C"/><rect x="548.64" y="543.90" width="6.94" height="6.83" fill="#C6EF4C"/><rect x="555.58" y="543.90" width="6.94" height="6.83" fill="#C6EF4C"/><rect x="562.52" y="543.90" width="6.94" height="6.83" fill="#EEB638"/><rect x="569.46" y="543.90" width="6.94" height="6.83" fill="#F09232"/><rect x="576.40" y="543.90" width="6.94" height="6.83" fill="#EED83E"/><rect x="583.34" y="543.90" width="6.94" height="6.83" fill="#DAF93C"/><rect x="590.28" y="543.90" width="6.94" height="6.83" fill="#ECF53C"/><rect x="597.22" y="543.90" width="6.94" height="6.83" fill="#DAF93C"/><rect x="604.16" y="543.90" width="6.94" height="6.83" fill="#C6EF4C"/><rect x="611.10" y="543.90" width="6.94" height="6.83" fill="#F09232"/><rect x="618.04" y="543.90" width="6.94" height="6.83" fill="#DAF93C"/><rect x="624.98" y="543.90" width="6.94" height="6.83" fill="#ECF53C"/><rect x="631.92" y="543.90" width="6.94" height="6.83" fill="#DAF93C"/><rect x="638.86" y="543.90" width="6.94" height="6.83" fill="#ECF53C"/><rect x="507.00" y="550.73" width="6.94" height="6.83" fill="#DAF93C"/><rect x="513.94" y="550.73" width="6.94" height="6.83" fill="#ECF53C"/><rect x="520.88" y="550.73" width="6.94" height="6.83" fill="#DAF93C"/><rect x="527.82" y="550.73" width="6.94" height="6.83" fill="#ECF53C"/><rect x="534.76" y="550.73" width="6.94" height="6.83" fill="#DAF93C"/><rect x="541.70" y="550.73" width="6.94" height="6.83" fill="#DAF93C"/><rect x="548.64" y="550.73" width="6.94" height="6.83" fill="#ECF53C"/><rect x="555.58" y="550.73" width="6.94" height="6.83" fill="#DAF93C"/><rect x="562.52" y="550.73" width="6.94" height="6.83" fill="#DAF93C"/><rect x="569.46" y="550.73" width="6.94" height="6.83" fill="#ECF53C"/><rect x="576.40" y="550.73" width="6.94" height="6.83" fill="#ECF53C"/><rect x="583.34" y="550.73" width="6.94" height="6.83" fill="#ECF53C"/><rect x="590.28" y="550.73" width="6.94" height="6.83" fill="#DAF93C"/><rect x="597.22" y="550.73" width="6.94" height="6.83" fill="#ECF53C"/><rect x="604.16" y="550.73" width="6.94" height="6.83" fill="#DAF93C"/><rect x="611.10" y="550.73" width="6.94" height="6.83" fill="#F09232"/><rect x="618.04" y="550.73" width="6.94" height="6.83" fill="#F4602A"/><rect x="624.98" y="550.73" width="6.94" height="6.83" fill="#F4602A"/><rect x="631.92" y="550.73" width="6.94" height="6.83" fill="#ECF53C"/><rect x="638.86" y="550.73" width="6.94" height="6.83" fill="#DAF93C"/></g>
<text x="648.8" y="208.115" font-size="6.8" text-anchor="start" fill="#111" font-weight="bold">Ccl4</text>
<text x="648.8" y="214.94500000000002" font-size="6.8" text-anchor="start" fill="#111" font-weight="bold">Gzmk</text>
<text x="648.8" y="221.775" font-size="6.8" text-anchor="start" fill="#111" font-weight="bold">Ccl5</text>
<text x="648.8" y="228.60500000000002" font-size="6.8" text-anchor="start" fill="#111">Nkg7</text>
<text x="648.8" y="235.435" font-size="6.8" text-anchor="start" fill="#111">Cd7</text>
<text x="648.8" y="242.26500000000001" font-size="6.8" text-anchor="start" fill="#111">Pdcd1</text>
<text x="648.8" y="249.09500000000003" font-size="6.8" text-anchor="start" fill="#111">Lag3</text>
<text x="648.8" y="255.925" font-size="6.8" text-anchor="start" fill="#111" font-weight="bold">Tox</text>
<text x="648.8" y="262.755" font-size="6.8" text-anchor="start" fill="#111" font-weight="bold">Batf</text>
<text x="648.8" y="269.58500000000004" font-size="6.8" text-anchor="start" fill="#111">Tigit</text>
<text x="648.8" y="276.415" font-size="6.8" text-anchor="start" fill="#111">Rgs1</text>
<text x="648.8" y="283.245" font-size="6.8" text-anchor="start" fill="#111">AW112010</text>
<text x="648.8" y="290.075" font-size="6.8" text-anchor="start" fill="#111">Itga4</text>
<text x="648.8" y="296.90500000000003" font-size="6.8" text-anchor="start" fill="#111">Ifi47</text>
<text x="648.8" y="303.735" font-size="6.8" text-anchor="start" fill="#111">Ifi2712a</text>
<text x="648.8" y="310.565" font-size="6.8" text-anchor="start" fill="#111">Stat1</text>
<text x="648.8" y="317.39500000000004" font-size="6.8" text-anchor="start" fill="#111" font-weight="bold">Gzmb</text>
<text x="648.8" y="324.225" font-size="6.8" text-anchor="start" fill="#111">Mbnl1</text>
<text x="648.8" y="331.055" font-size="6.8" text-anchor="start" fill="#111">Hmgb2</text>
<text x="648.8" y="337.88500000000005" font-size="6.8" text-anchor="start" fill="#111">Eps8l1</text>
<text x="648.8" y="344.71500000000003" font-size="6.8" text-anchor="start" fill="#111">Ptprc</text>
<text x="648.8" y="351.545" font-size="6.8" text-anchor="start" fill="#111">Glrx</text>
<text x="648.8" y="358.37500000000006" font-size="6.8" text-anchor="start" fill="#111">Ifitm2</text>
<text x="648.8" y="365.205" font-size="6.8" text-anchor="start" fill="#111">Ifitm3</text>
<text x="648.8" y="372.035" font-size="6.8" text-anchor="start" fill="#111">Ccr2</text>
<text x="648.8" y="378.865" font-size="6.8" text-anchor="start" fill="#111">Plac8</text>
<text x="648.8" y="385.695" font-size="6.8" text-anchor="start" fill="#111">Capg</text>
<text x="648.8" y="392.52500000000003" font-size="6.8" text-anchor="start" fill="#111">Lgals3</text>
<text x="648.8" y="399.355" font-size="6.8" text-anchor="start" fill="#111">Anxa2</text>
<text x="648.8" y="406.185" font-size="6.8" text-anchor="start" fill="#111">Ahnak</text>
<text x="648.8" y="413.01500000000004" font-size="6.8" text-anchor="start" fill="#111">Cish</text>
<text x="648.8" y="419.845" font-size="6.8" text-anchor="start" fill="#111">S100a10</text>
<text x="648.8" y="426.675" font-size="6.8" text-anchor="start" fill="#111">Lgals1</text>
<text x="648.8" y="433.50500000000005" font-size="6.8" text-anchor="start" fill="#111">Vim</text>
<text x="648.8" y="440.335" font-size="6.8" text-anchor="start" fill="#111">Itgb7</text>
<text x="648.8" y="447.165" font-size="6.8" text-anchor="start" fill="#111">S100a6</text>
<text x="648.8" y="453.99500000000006" font-size="6.8" text-anchor="start" fill="#111">AY036118</text>
<text x="648.8" y="460.825" font-size="6.8" text-anchor="start" fill="#111">Crip1</text>
<text x="648.8" y="467.65500000000003" font-size="6.8" text-anchor="start" fill="#111">Mt-Nd1</text>
<text x="648.8" y="474.48500000000007" font-size="6.8" text-anchor="start" fill="#111">Tmem176a</text>
<text x="648.8" y="481.315" font-size="6.8" text-anchor="start" fill="#111">Tmem176b</text>
<text x="648.8" y="488.14500000000004" font-size="6.8" text-anchor="start" fill="#111">S100a4</text>
<text x="648.8" y="494.97499999999997" font-size="6.8" text-anchor="start" fill="#111">Emb</text>
<text x="648.8" y="501.805" font-size="6.8" text-anchor="start" fill="#111">Psap</text>
<text x="648.8" y="508.63500000000005" font-size="6.8" text-anchor="start" fill="#111">Tnfrsf4</text>
<text x="648.8" y="515.4649999999999" font-size="6.8" text-anchor="start" fill="#111">Tnfrsf18</text>
<text x="648.8" y="522.295" font-size="6.8" text-anchor="start" fill="#111">Inpp4b</text>
<text x="648.8" y="529.125" font-size="6.8" text-anchor="start" fill="#111">Itgb1</text>
<text x="648.8" y="535.9549999999999" font-size="6.8" text-anchor="start" fill="#111">Luc7l2</text>
<text x="648.8" y="542.785" font-size="6.8" text-anchor="start" fill="#111">H2afz</text>
<text x="648.8" y="549.615" font-size="6.8" text-anchor="start" fill="#111">Icos</text>
<text x="648.8" y="556.4449999999999" font-size="6.8" text-anchor="start" fill="#111">Ikzf2</text>
<text transform="translate(508.17,560.5) rotate(90) scale(0.893,1)" font-size="6.3" fill="#111">CAWSLGTGASQNTLYF</text>
<text transform="translate(515.11,560.5) rotate(90) scale(0.893,1)" font-size="6.3" fill="#111">CAWSQTGSQNTLYF</text>
<text transform="translate(522.05,560.5) rotate(90) scale(0.893,1)" font-size="6.3" fill="#111">CASSRQGNTEVFF</text>
<text transform="translate(528.99,560.5) rotate(90) scale(0.893,1)" font-size="6.3" fill="#111">CASGVPGGETLYF</text>
<text transform="translate(535.93,560.5) rotate(90) scale(0.893,1)" font-size="6.3" fill="#111">CASSPGQGAEVFF</text>
<text transform="translate(542.87,560.5) rotate(90) scale(0.893,1)" font-size="6.3" fill="#111">CASSRDNQDTQYF</text>
<text transform="translate(549.81,560.5) rotate(90) scale(0.893,1)" font-size="6.3" fill="#111">CASGEGLGGRQNTLYF</text>
<text transform="translate(556.75,560.5) rotate(90) scale(0.893,1)" font-size="6.3" fill="#111">CASSDGTGVDTQYF</text>
<text transform="translate(563.69,560.5) rotate(90) scale(0.893,1)" font-size="6.3" fill="#111">CTCSAVRNQDTQYF</text>
<text transform="translate(570.63,560.5) rotate(90) scale(0.893,1)" font-size="6.3" fill="#111">CTCSAEGANSDYTF</text>
<text transform="translate(577.57,560.5) rotate(90) scale(0.893,1)" font-size="6.3" fill="#111">CASGGGTGVTGQLYF</text>
<text transform="translate(584.51,560.5) rotate(90) scale(0.893,1)" font-size="6.3" fill="#111">CASSQDGSSYNSPLYF</text>
<text transform="translate(591.45,560.5) rotate(90) scale(0.893,1)" font-size="6.3" fill="#111">CASSDDANSDYTF</text>
<text transform="translate(598.39,560.5) rotate(90) scale(0.893,1)" font-size="6.3" fill="#111">CASSLWGGYAEQFF</text>
<text transform="translate(605.33,560.5) rotate(90) scale(0.893,1)" font-size="6.3" fill="#111">CASSGTGGNYAEQFF</text>
<text transform="translate(612.27,560.5) rotate(90) scale(0.893,1)" font-size="6.3" fill="#111">CASSDLGGAETLYF</text>
<text transform="translate(619.21,560.5) rotate(90) scale(0.893,1)" font-size="6.3" fill="#111">CASSGQISNERLFF</text>
<text transform="translate(626.15,560.5) rotate(90) scale(0.893,1)" font-size="6.3" fill="#111">CASRSLWGGQNTLYF</text>
<text transform="translate(633.09,560.5) rotate(90) scale(0.893,1)" font-size="6.3" fill="#111">CTCSGQGNYEQYF</text>
<text transform="translate(640.03,560.5) rotate(90) scale(0.893,1)" font-size="6.3" fill="#111">CASSLEDNSPLYF</text>
<defs><linearGradient id="hmg" x1="0" y1="0" x2="0" y2="1"><stop offset="0" stop-color="#D73027"/><stop offset="0.25" stop-color="#F5A55A"/><stop offset="0.5" stop-color="#F6F3A8"/><stop offset="0.75" stop-color="#D8EEF2"/><stop offset="1" stop-color="#5A8EC4"/></linearGradient><linearGradient id="trbg" x1="0" y1="0" x2="0" y2="1"><stop offset="0" stop-color="#F21E10"/><stop offset="1" stop-color="#C9C9C9"/></linearGradient><linearGradient id="plasg" x1="0" y1="1" x2="0" y2="0"><stop offset="0" stop-color="#0D0887"/><stop offset="0.1" stop-color="#41049D"/><stop offset="0.2" stop-color="#6A00A8"/><stop offset="0.3" stop-color="#8F0DA4"/><stop offset="0.4" stop-color="#B12A90"/><stop offset="0.5" stop-color="#CC4778"/><stop offset="0.6" stop-color="#E16462"/><stop offset="0.7" stop-color="#F2844B"/><stop offset="0.8" stop-color="#FCA636"/><stop offset="0.9" stop-color="#FCCE25"/><stop offset="1" stop-color="#F0F921"/></linearGradient></defs>
<rect x="654.20" y="562.20" width="5.40" height="50.80" fill="url(#hmg)" stroke="none" stroke-width="0"/>
<line x1="654.20" y1="562.50" x2="655.40" y2="562.50" stroke="#fff" stroke-width="0.5"/>
<line x1="658.40" y1="562.50" x2="659.60" y2="562.50" stroke="#fff" stroke-width="0.5"/>
<line x1="654.20" y1="575.00" x2="655.40" y2="575.00" stroke="#fff" stroke-width="0.5"/>
<line x1="658.40" y1="575.00" x2="659.60" y2="575.00" stroke="#fff" stroke-width="0.5"/>
<line x1="654.20" y1="587.60" x2="655.40" y2="587.60" stroke="#fff" stroke-width="0.5"/>
<line x1="658.40" y1="587.60" x2="659.60" y2="587.60" stroke="#fff" stroke-width="0.5"/>
<line x1="654.20" y1="600.20" x2="655.40" y2="600.20" stroke="#fff" stroke-width="0.5"/>
<line x1="658.40" y1="600.20" x2="659.60" y2="600.20" stroke="#fff" stroke-width="0.5"/>
<line x1="654.20" y1="612.80" x2="655.40" y2="612.80" stroke="#fff" stroke-width="0.5"/>
<line x1="658.40" y1="612.80" x2="659.60" y2="612.80" stroke="#fff" stroke-width="0.5"/>
<text x="660" y="567" font-size="7.6" text-anchor="start" fill="#222">Max</text>
<text x="661.5" y="613.2" font-size="7.6" text-anchor="start" fill="#222">Min</text>
<text x="67.9" y="15.9" font-size="8.6" text-anchor="start" fill="#222">No GVHD</text>
<text x="231" y="16.4" font-size="8.6" text-anchor="start" fill="#222">cGVHD</text>
<text x="345.5" y="28.2" font-size="8.2" text-anchor="start" fill="#222">pseudotime</text>
<rect x="346.20" y="32.20" width="13.00" height="64.10" fill="url(#plasg)" stroke="none" stroke-width="0"/>
<line x1="346.20" y1="96.00" x2="348.60" y2="96.00" stroke="#fff" stroke-width="0.6"/>
<line x1="356.80" y1="96.00" x2="359.20" y2="96.00" stroke="#fff" stroke-width="0.6"/>
<text x="362.7" y="98.4" font-size="6.8" text-anchor="start" fill="#222">0</text>
<line x1="346.20" y1="79.90" x2="348.60" y2="79.90" stroke="#fff" stroke-width="0.6"/>
<line x1="356.80" y1="79.90" x2="359.20" y2="79.90" stroke="#fff" stroke-width="0.6"/>
<text x="362.7" y="82.30000000000001" font-size="6.8" text-anchor="start" fill="#222">10</text>
<line x1="346.20" y1="63.80" x2="348.60" y2="63.80" stroke="#fff" stroke-width="0.6"/>
<line x1="356.80" y1="63.80" x2="359.20" y2="63.80" stroke="#fff" stroke-width="0.6"/>
<text x="362.7" y="66.2" font-size="6.8" text-anchor="start" fill="#222">20</text>
<line x1="346.20" y1="47.30" x2="348.60" y2="47.30" stroke="#fff" stroke-width="0.6"/>
<line x1="356.80" y1="47.30" x2="359.20" y2="47.30" stroke="#fff" stroke-width="0.6"/>
<text x="362.7" y="49.699999999999996" font-size="6.8" text-anchor="start" fill="#222">30</text>
<g stroke="#000" stroke-width="1.2" fill="none"><polyline points="15.2,145.0 15.2,169.6 40.3,169.6"/><polyline points="12.6,149.5 15.2,145.0 17.8,149.5"/><polyline points="35.8,167.0 40.3,169.6 35.8,172.2"/></g>
<text x="41.5" y="172.624" font-size="8.4" text-anchor="start" fill="#000">UMAP_1</text>
<text x="19.9" y="143.9" font-size="8.4" text-anchor="start" fill="#000" transform="rotate(-90 19.9 143.9)">UMAP_2</text>
<polygon points="51.8,44.0 55.4,39.2 59.5,36.3 67.2,32.1 73.1,28.0 77.8,23.9 81.4,22.7 88.5,23.9 93.2,28.0 96.2,36.3 95.6,45.7 93.8,54.0 92.0,59.9 87.3,64.7 81.4,67.0 75.5,68.2 70.7,68.2 68.4,70.6 68.4,76.5 64.0,76.0 63.6,71.8 62.5,64.7 60.7,55.2 57.7,52.8 53.0,49.3" fill="#4C10AA" stroke="none" stroke-width="0" stroke-linejoin="round"/>
<polygon points="51.8,44.0 55.4,39.2 59.5,36.3 67.2,32.1 73.1,28.0 77.8,23.9 81.4,22.7 86.0,23.5 85.0,34.0 84.0,44.0 86.0,52.0 84.0,58.0 76.0,57.0 68.0,55.0 61.0,55.0 57.7,52.8 53.0,49.3" fill="#2C0A9E" stroke="none" stroke-width="0" stroke-linejoin="round"/>
<polygon points="60.0,55.0 70.0,54.0 80.0,57.0 88.0,58.0 87.3,64.7 81.4,67.0 75.5,68.2 70.7,68.2 68.4,70.6 64.0,70.0 62.5,64.7" fill="#6A16AE" stroke="none" stroke-width="0" stroke-linejoin="round"/>
<polygon points="86.0,36.0 90.0,30.0 96.2,36.3 95.6,45.7 93.8,54.0 92.0,59.9 87.3,64.7 84.0,60.0 88.0,50.0" fill="#5612AC" stroke="none" stroke-width="0" stroke-linejoin="round"/>
<polygon points="62.6,70.0 69.7,70.0 68.3,75.7 71.1,79.9 76.8,82.8 79.7,85.6 75.4,89.9 74.0,94.1 76.8,101.2 75.4,106.9 71.1,116.9 74.0,124.0 69.7,126.8 62.6,125.4 55.5,122.6 48.4,115.5 42.7,106.9 41.3,98.4 44.1,91.3 51.2,85.6 56.9,78.5 61.2,72.8" fill="#9A22B0" stroke="none" stroke-width="0" stroke-linejoin="round"/>
<polygon points="41.3,96.0 50.0,92.0 60.0,91.0 66.0,92.0 74.0,94.1 76.8,101.2 75.4,106.9 71.1,116.9 74.0,124.0 69.7,126.8 62.6,125.4 55.5,122.6 48.4,115.5 42.7,106.9" fill="#C23A90" stroke="none" stroke-width="0" stroke-linejoin="round"/>
<polygon points="57.0,100.0 64.0,93.0 74.0,94.1 76.8,101.2 75.4,106.9 71.1,116.9 74.0,124.0 69.7,126.8 62.6,125.4 57.0,118.0" fill="#D8506E" stroke="none" stroke-width="0" stroke-linejoin="round"/>
<g fill="#fff"><circle cx="64.7" cy="107.6" r="0.6"/><circle cx="62.6" cy="119.2" r="0.6"/><circle cx="56.9" cy="104.1" r="0.6"/><circle cx="65.5" cy="108.4" r="0.6"/><circle cx="60.4" cy="118.9" r="0.6"/><circle cx="66.6" cy="107.8" r="0.6"/><circle cx="67.4" cy="109.2" r="0.6"/><circle cx="60.5" cy="113.1" r="0.6"/><circle cx="63.1" cy="106.0" r="0.6"/><circle cx="69.6" cy="116.0" r="0.6"/><circle cx="59.1" cy="112.9" r="0.6"/><circle cx="64.5" cy="120.4" r="0.6"/><circle cx="68.4" cy="105.7" r="0.6"/><circle cx="62.4" cy="117.4" r="0.6"/><circle cx="69.0" cy="112.8" r="0.6"/><circle cx="67.7" cy="113.4" r="0.6"/><circle cx="65.5" cy="109.9" r="0.6"/><circle cx="63.5" cy="115.1" r="0.6"/><circle cx="70.1" cy="105.6" r="0.6"/><circle cx="61.8" cy="115.2" r="0.6"/><circle cx="57.0" cy="104.7" r="0.6"/><circle cx="61.9" cy="120.3" r="0.6"/><circle cx="64.9" cy="120.6" r="0.6"/><circle cx="70.1" cy="120.1" r="0.6"/><circle cx="59.8" cy="108.9" r="0.6"/><circle cx="61.3" cy="120.6" r="0.6"/><circle cx="57.8" cy="104.3" r="0.6"/><circle cx="58.9" cy="110.6" r="0.6"/><circle cx="65.7" cy="105.1" r="0.6"/><circle cx="61.5" cy="112.7" r="0.6"/></g>
<polygon points="37.0,118.3 42.7,116.9 44.9,121.1 45.6,129.7 51.2,135.3 52.0,139.6 47.0,142.4 48.4,149.5 44.1,153.8 38.5,155.2 32.8,152.4 27.1,143.9 26.4,139.6 29.9,133.9 34.2,129.7 35.6,124.0" fill="#DC5A68" stroke="none" stroke-width="0" stroke-linejoin="round"/>
<polygon points="26.4,139.6 29.9,133.9 34.2,129.7 38.0,132.0 38.0,140.0 36.3,145.3 41.3,147.4 44.0,150.0 44.1,153.8 38.5,155.2 32.8,152.4 27.1,143.9" fill="#E8724A" stroke="none" stroke-width="0" stroke-linejoin="round"/>
<polygon points="37.0,141.0 42.7,136.8 45.6,142.4 41.3,147.4 36.3,145.3" fill="#fff" stroke="none" stroke-width="0" stroke-linejoin="round"/>
<g fill="#fff"><circle cx="39.6" cy="140.9" r="0.5"/><circle cx="36.1" cy="131.9" r="0.5"/><circle cx="27.9" cy="141.6" r="0.5"/><circle cx="42.5" cy="121.5" r="0.5"/><circle cx="38.2" cy="135.4" r="0.5"/><circle cx="40.0" cy="121.5" r="0.5"/><circle cx="29.7" cy="147.3" r="0.5"/><circle cx="40.1" cy="147.6" r="0.5"/><circle cx="31.4" cy="136.8" r="0.5"/><circle cx="32.3" cy="144.0" r="0.5"/><circle cx="42.7" cy="152.6" r="0.5"/><circle cx="48.9" cy="135.2" r="0.5"/><circle cx="43.6" cy="148.4" r="0.5"/><circle cx="27.3" cy="142.7" r="0.5"/><circle cx="46.4" cy="135.1" r="0.5"/></g>
<polygon points="83.9,90.0 88.9,95.1 91.4,98.9 97.7,96.3 101.5,95.1 109.1,93.8 114.1,95.1 111.6,101.4 115.4,107.7 123.0,115.3 129.3,119.0 133.1,129.1 128.0,132.9 124.2,138.0 125.5,145.5 120.4,149.3 111.6,146.8 105.3,145.5 101.5,148.1 97.7,145.5 91.4,138.0 82.6,135.4 81.3,126.6 82.6,114.0 86.4,107.7 87.7,101.4" fill="#F0A23C" stroke="none" stroke-width="0" stroke-linejoin="round" fill-opacity="0.85"/>
<polygon points="89.0,95.0 100.0,96.0 108.0,96.0 110.0,104.0 108.0,112.0 104.0,122.0 96.0,124.0 90.0,118.0 88.0,104.0" fill="#EE9236" stroke="none" stroke-width="0" stroke-linejoin="round"/>
<polygon points="81.3,126.6 82.6,114.0 86.4,107.7 91.0,108.0 93.0,120.0 90.0,132.0 82.6,135.4" fill="#E46650" stroke="none" stroke-width="0" stroke-linejoin="round"/>
<polygon points="112.0,120.0 124.0,118.0 133.0,129.0 126.0,136.0 125.5,145.5 116.0,147.0 112.0,135.0" fill="#F0BA3A" stroke="none" stroke-width="0" stroke-linejoin="round" fill-opacity="0.9"/>
<g fill="#fff"><circle cx="101.7" cy="121.8" r="1.0"/><circle cx="104.5" cy="122.1" r="1.0"/><circle cx="111.5" cy="105.1" r="1.0"/><circle cx="100.8" cy="104.6" r="1.0"/><circle cx="101.1" cy="122.8" r="1.0"/><circle cx="104.8" cy="115.3" r="1.0"/><circle cx="108.0" cy="125.7" r="1.0"/><circle cx="106.3" cy="124.0" r="1.0"/><circle cx="103.0" cy="108.4" r="1.0"/><circle cx="102.8" cy="116.3" r="1.0"/><circle cx="103.2" cy="111.8" r="1.0"/><circle cx="104.9" cy="112.9" r="1.0"/><circle cx="109.0" cy="124.9" r="1.0"/><circle cx="106.1" cy="125.3" r="1.0"/><circle cx="107.5" cy="114.9" r="1.0"/><circle cx="106.4" cy="105.4" r="1.0"/><circle cx="101.6" cy="113.3" r="1.0"/><circle cx="111.6" cy="115.5" r="1.0"/><circle cx="104.4" cy="114.5" r="1.0"/><circle cx="108.5" cy="121.7" r="1.0"/><circle cx="103.0" cy="108.0" r="1.0"/><circle cx="112.4" cy="114.2" r="1.0"/></g>
<polygon points="120.0,128.0 126.0,127.0 132.0,130.0 128.0,134.0 122.0,133.0" fill="#fff" stroke="none" stroke-width="0" stroke-linejoin="round"/>
<polygon points="74.0,134.0 82.0,131.0 90.0,133.0 95.0,139.0 90.0,142.0 80.0,141.0 74.0,140.0" fill="#EAC840" stroke="none" stroke-width="0" stroke-linejoin="round" fill-opacity="0.85"/>
<g fill="#E8D040"><circle cx="82.5" cy="142.7" r="1.0"/><circle cx="83.8" cy="138.6" r="1.0"/><circle cx="81.3" cy="141.6" r="1.0"/><circle cx="79.8" cy="139.0" r="1.0"/><circle cx="71.5" cy="137.6" r="1.0"/><circle cx="70.3" cy="134.4" r="1.0"/><circle cx="85.0" cy="132.8" r="1.0"/><circle cx="78.5" cy="138.3" r="1.0"/><circle cx="72.5" cy="137.4" r="1.0"/><circle cx="81.4" cy="135.9" r="1.0"/><circle cx="73.4" cy="135.6" r="1.0"/><circle cx="82.4" cy="137.5" r="1.0"/><circle cx="84.1" cy="138.7" r="1.0"/><circle cx="71.1" cy="134.7" r="1.0"/><circle cx="75.3" cy="132.6" r="1.0"/><circle cx="89.0" cy="134.6" r="1.0"/><circle cx="82.8" cy="141.7" r="1.0"/><circle cx="85.7" cy="137.3" r="1.0"/><circle cx="84.4" cy="143.3" r="1.0"/><circle cx="79.8" cy="135.9" r="1.0"/><circle cx="75.2" cy="132.6" r="1.0"/><circle cx="81.7" cy="134.3" r="1.0"/><circle cx="71.2" cy="133.1" r="1.0"/><circle cx="76.3" cy="135.4" r="1.0"/><circle cx="87.5" cy="135.1" r="1.0"/><circle cx="81.0" cy="133.3" r="1.0"/><circle cx="86.8" cy="139.3" r="1.0"/><circle cx="73.2" cy="138.1" r="1.0"/><circle cx="89.0" cy="137.4" r="1.0"/><circle cx="80.9" cy="143.9" r="1.0"/></g>
<g fill="#E0F040"><circle cx="99.4" cy="150.6" r="1.0"/><circle cx="98.9" cy="155.2" r="1.0"/><circle cx="102.6" cy="152.4" r="1.0"/><circle cx="99.5" cy="148.4" r="1.0"/><circle cx="98.1" cy="145.8" r="1.0"/><circle cx="98.3" cy="146.9" r="1.0"/><circle cx="98.4" cy="149.9" r="1.0"/><circle cx="98.6" cy="148.5" r="1.0"/><circle cx="100.2" cy="150.5" r="1.0"/><circle cx="97.5" cy="150.6" r="1.0"/><circle cx="98.5" cy="146.8" r="1.0"/><circle cx="101.4" cy="150.9" r="1.0"/><circle cx="103.0" cy="152.7" r="1.0"/><circle cx="102.7" cy="155.8" r="1.0"/><circle cx="99.4" cy="148.1" r="1.0"/><circle cx="102.7" cy="152.5" r="1.0"/><circle cx="102.8" cy="154.9" r="1.0"/><circle cx="100.5" cy="155.2" r="1.0"/><circle cx="103.5" cy="155.1" r="1.0"/><circle cx="101.3" cy="156.0" r="1.0"/></g>
<g fill="#F0A23C"><circle cx="84.6" cy="96.9" r="0.9"/><circle cx="83.5" cy="95.9" r="0.9"/><circle cx="84.1" cy="96.7" r="0.9"/><circle cx="83.0" cy="94.5" r="0.9"/><circle cx="82.9" cy="92.2" r="0.9"/><circle cx="82.8" cy="96.8" r="0.9"/><circle cx="84.5" cy="96.9" r="0.9"/><circle cx="84.6" cy="90.9" r="0.9"/></g>
<g fill="#F0A23C"><circle cx="103.1" cy="90.2" r="0.9"/><circle cx="102.5" cy="88.6" r="0.9"/><circle cx="100.4" cy="91.2" r="0.9"/><circle cx="105.9" cy="90.6" r="0.9"/><circle cx="102.6" cy="88.9" r="0.9"/></g>
<g fill="#F0B840"><circle cx="111.8" cy="92.0" r="0.9"/><circle cx="111.7" cy="92.4" r="0.9"/><circle cx="115.1" cy="92.6" r="0.9"/><circle cx="115.3" cy="94.3" r="0.9"/><circle cx="112.7" cy="91.6" r="0.9"/></g>
<polyline points="60.0,46.0 61.6,45.6 62.3,44.3 63.4,43.4 64.0,42.0 65.7,42.1 66.5,40.2 68.0,40.0 69.5,39.6 71.1,39.5 72.5,38.9 73.7,37.7 75.0,37.0 75.2,35.2 76.3,33.9 78.1,32.9 78.0,31.0 78.3,29.1 80.0,28.0 81.6,27.3 83.5,28.2 85.0,27.0 85.8,28.2 87.0,29.2 87.6,30.6 88.0,32.0 87.4,33.6 88.8,34.9 88.9,36.5 89.0,38.0 89.3,40.1 90.0,42.0 89.8,43.7 90.8,45.2 92.0,46.6 91.5,48.4 92.0,50.0 92.2,52.0 91.4,53.6 90.0,55.0 89.5,56.8 88.0,58.0 86.5,58.3 85.5,59.7 84.0,60.0 83.3,58.7 81.5,58.5 80.5,57.5 80.0,56.0 78.0,55.0 76.1,55.1 75.2,53.1 73.8,52.1 72.0,52.0 70.3,51.7 68.9,50.9 67.3,50.4 66.5,48.5 65.0,48.0 63.2,47.7 61.4,47.3 60.0,46.0" fill="none" stroke="#2E2E2E" stroke-width="1.05" stroke-linejoin="round"/>
<polyline points="80.0,56.0 79.9,57.6 78.3,58.5 78.0,60.0 76.8,61.2 76.0,62.7 75.0,64.0 74.5,65.7 72.5,66.3 72.0,68.0 70.8,69.1 70.6,70.7 70.0,72.0 69.3,73.3 69.1,74.9 68.0,76.0 68.2,77.8 66.9,78.8 66.0,80.0 64.9,80.9 64.6,82.6 62.6,82.6 62.0,84.0 61.8,85.6 61.1,86.9 60.0,88.0 59.6,89.6 58.0,90.0 56.2,90.9 56.0,93.0 54.4,93.6 52.9,94.4 52.0,96.0 51.3,97.4 51.9,99.3 50.8,100.6 50.0,102.0 50.5,103.5 51.7,104.8 50.6,106.8 52.0,108.0 53.2,109.2 54.6,110.3 55.0,112.0 56.4,113.3 58.6,112.6 60.0,114.0 60.1,115.7 61.7,116.3 62.3,117.7 63.5,118.6 64.0,120.0 65.0,121.0 66.4,121.6 67.7,122.3 68.0,124.0 68.5,125.5 70.0,126.0" fill="none" stroke="#2E2E2E" stroke-width="1.05" stroke-linejoin="round"/>
<polyline points="52.0,102.0 53.7,102.7 54.9,100.8 56.3,100.3 58.0,101.0 59.8,101.2 60.4,99.1 62.0,99.0 62.4,97.2 64.2,96.5 65.0,95.0 65.2,93.4 66.0,92.0 67.7,92.0 68.4,90.2 70.0,90.0" fill="none" stroke="#2E2E2E" stroke-width="1.05" stroke-linejoin="round"/>
<polyline points="44.5,118.0 43.5,119.4 43.4,120.9 43.3,122.4 44.0,124.0 44.6,125.6 43.3,127.0 43.4,128.5 43.0,130.0 42.2,131.2 42.1,132.9 41.3,134.1 40.0,135.0 39.1,136.4 38.4,138.0 37.0,139.0 36.1,140.4 35.8,142.2 34.0,143.0 35.1,144.4 34.1,146.1 34.9,147.5 35.0,149.0 36.0,150.0 36.7,151.3 38.0,152.0 40.0,151.7 42.0,152.0 43.0,150.3 45.0,150.0" fill="none" stroke="#2E2E2E" stroke-width="1.05" stroke-linejoin="round"/>
<polyline points="44.5,118.0 46.4,117.9 48.0,117.0 50.0,117.7 52.0,117.0 54.2,116.9 56.0,118.0 57.8,118.2 58.4,116.1 60.0,116.0 61.2,117.0 63.0,116.6 64.0,118.0" fill="none" stroke="#2E2E2E" stroke-width="1.05" stroke-linejoin="round"/>
<polyline points="70.0,114.0 71.4,114.5 72.1,116.3 73.4,116.9 75.3,116.6 76.3,117.8 76.8,119.3 78.1,120.0 79.9,120.2 79.7,122.4 81.3,122.8 83.0,122.9 84.5,123.5 85.9,124.2 87.3,125.0 88.9,125.4 90.4,124.6 91.8,125.8 93.3,126.1 94.8,125.4 96.2,126.0 97.7,125.4 99.1,124.7 100.6,124.0 101.1,122.0 102.8,121.6 104.5,121.7 106.1,122.3 107.8,122.8 108.7,121.5 110.8,122.4 111.7,121.2 112.9,120.3 114.1,119.0 116.0,119.5 117.3,118.6 118.7,117.7 120.4,117.8 122.1,116.5 124.2,116.5" fill="none" stroke="#2E2E2E" stroke-width="1.05" stroke-linejoin="round"/>
<polyline points="97.7,125.4 97.5,123.9 96.5,122.8 95.7,121.4 95.5,120.0 96.0,118.4 94.8,117.1 96.0,115.4 95.2,114.0 95.5,112.5 93.9,111.2 95.0,109.6 94.4,108.1 94.5,106.6 94.0,105.2 96.1,105.2 97.8,104.4 99.0,102.7 100.2,101.7 101.9,101.5 102.8,100.1 103.8,101.3 104.9,102.2 107.0,101.2 107.8,102.7 109.4,101.9 109.1,99.9 110.4,98.9 110.6,97.2 112.2,96.5 112.9,95.1 114.4,94.5 115.6,93.7 116.0,92.0" fill="none" stroke="#2E2E2E" stroke-width="1.05" stroke-linejoin="round"/>
<polyline points="102.8,122.8 102.7,124.3 102.7,125.7 102.4,127.2 104.1,128.5 104.5,129.9 103.2,131.5 104.0,132.9 104.8,134.3 105.3,135.9 105.0,137.7 106.7,138.8 106.6,140.5 107.4,142.1 109.1,142.4 110.9,142.7 111.6,144.3 113.0,145.3 114.5,144.8 116.1,144.1 117.4,145.8 118.9,145.8 120.4,145.5 120.9,143.8 120.7,142.2 120.4,140.5 119.7,138.9 117.4,139.6 116.7,138.0" fill="none" stroke="#2E2E2E" stroke-width="1.05" stroke-linejoin="round"/>
<polyline points="112.9,121.6 114.1,123.1 114.4,124.8 114.1,126.6 115.6,126.8 117.1,126.0 118.7,125.9 120.2,126.5 121.7,126.6 123.3,126.8 125.0,126.7 126.5,127.4 128.0,127.9 129.0,129.1 130.9,128.5 132.1,129.2 133.1,130.4 133.0,132.2 131.8,133.2 130.5,134.2 128.8,134.7 127.5,132.6 125.7,133.6 124.2,132.9 124.5,130.7 123.0,129.1" fill="none" stroke="#2E2E2E" stroke-width="1.05" stroke-linejoin="round"/>
<polyline points="71.3,139.2 72.8,139.9 74.6,140.2 75.8,141.7 77.6,141.7 78.9,140.6 80.6,140.2 82.0,139.2 83.5,138.6 85.1,138.0 86.7,139.5 88.9,139.2 89.7,137.7 91.4,137.4 92.7,136.7 94.0,137.7 94.6,139.1 95.2,140.5 95.7,142.5 97.7,143.0 97.4,144.4 96.3,145.5 96.0,146.9 95.2,148.1 93.7,147.3 92.0,147.6 90.3,147.8 88.9,146.8 87.7,148.2 86.5,149.5 85.1,150.6 84.9,152.3 85.6,153.8 86.7,155.2 86.4,156.9 88.2,157.8 90.2,158.1 91.7,156.9 93.5,156.5 95.2,155.6 96.8,156.5 97.7,158.1 99.5,157.3 101.5,156.9" fill="none" stroke="#2E2E2E" stroke-width="1.05" stroke-linejoin="round"/>
<polyline points="70.0,145.5 71.2,146.4 72.8,146.9 73.8,148.1 74.0,149.8 72.5,150.6" fill="none" stroke="#2E2E2E" stroke-width="1.05" stroke-linejoin="round"/>
<polyline points="81.3,122.8 82.8,123.7 83.3,125.0 83.5,126.6 84.0,128.0 85.2,129.0 87.0,128.7 88.0,130.0 89.4,131.2 90.0,132.8 89.8,134.7 91.0,136.0" fill="none" stroke="#2E2E2E" stroke-width="1.05" stroke-linejoin="round"/>
<polyline points="88.0,104.0 89.1,105.0 89.5,106.5 90.8,107.3 90.7,109.1 92.0,110.0 91.7,111.6 91.5,113.3 90.0,114.6 89.8,116.3 90.0,118.0 88.6,118.8 88.1,120.2 88.1,121.9 87.0,122.9 86.0,124.0" fill="none" stroke="#2E2E2E" stroke-width="1.0" stroke-linejoin="round"/>
<polyline points="104.0,104.0 104.8,105.2 105.5,106.5 105.9,107.9 107.5,108.6 108.0,110.0 107.8,111.6 106.6,112.9 106.5,114.5 106.0,116.0" fill="none" stroke="#2E2E2E" stroke-width="1.0" stroke-linejoin="round"/>
<polyline points="116.0,112.0 116.1,113.7 118.1,114.0 117.6,116.1 119.6,116.5 120.0,118.0 121.2,118.7 122.0,120.3 123.8,120.2 124.8,121.2 126.0,122.0 127.6,122.1 128.3,124.2 130.0,124.0" fill="none" stroke="#2E2E2E" stroke-width="1.0" stroke-linejoin="round"/>
<polyline points="100.0,150.0 101.1,150.9 102.3,151.7 102.4,153.6 104.0,154.0 105.0,155.0 106.6,155.4 106.6,157.4 108.0,158.0 110.0,157.2 112.0,158.0" fill="none" stroke="#2E2E2E" stroke-width="1.0" stroke-linejoin="round"/>
<g fill="#2A0E9E"><circle cx="221.1" cy="53.5" r="0.95"/><circle cx="231.5" cy="43.4" r="0.95"/><circle cx="228.7" cy="45.6" r="0.95"/><circle cx="226.9" cy="41.6" r="0.95"/><circle cx="225.5" cy="39.7" r="0.95"/><circle cx="219.4" cy="42.4" r="0.95"/><circle cx="229.0" cy="56.9" r="0.95"/><circle cx="234.2" cy="46.0" r="0.95"/><circle cx="224.5" cy="48.6" r="0.95"/><circle cx="223.4" cy="44.3" r="0.95"/><circle cx="227.1" cy="51.0" r="0.95"/><circle cx="220.4" cy="42.2" r="0.95"/><circle cx="224.1" cy="46.8" r="0.95"/><circle cx="236.4" cy="56.2" r="0.95"/><circle cx="227.6" cy="52.2" r="0.95"/><circle cx="231.3" cy="54.1" r="0.95"/><circle cx="225.8" cy="49.2" r="0.95"/><circle cx="231.2" cy="43.5" r="0.95"/><circle cx="231.0" cy="52.6" r="0.95"/><circle cx="227.7" cy="49.9" r="0.95"/><circle cx="223.8" cy="41.6" r="0.95"/><circle cx="221.2" cy="47.1" r="0.95"/><circle cx="219.3" cy="42.2" r="0.95"/><circle cx="227.0" cy="52.0" r="0.95"/><circle cx="224.7" cy="42.4" r="0.95"/><circle cx="231.9" cy="57.8" r="0.95"/><circle cx="222.3" cy="46.2" r="0.95"/><circle cx="235.6" cy="53.5" r="0.95"/><circle cx="227.1" cy="41.2" r="0.95"/><circle cx="226.9" cy="40.8" r="0.95"/><circle cx="219.0" cy="46.1" r="0.95"/><circle cx="216.7" cy="45.5" r="0.95"/><circle cx="231.8" cy="45.2" r="0.95"/><circle cx="223.3" cy="44.1" r="0.95"/><circle cx="220.6" cy="44.6" r="0.95"/><circle cx="218.1" cy="44.9" r="0.95"/><circle cx="224.4" cy="55.2" r="0.95"/><circle cx="234.2" cy="57.2" r="0.95"/><circle cx="222.3" cy="42.8" r="0.95"/><circle cx="220.1" cy="53.0" r="0.95"/><circle cx="221.7" cy="42.8" r="0.95"/><circle cx="239.1" cy="51.1" r="0.95"/><circle cx="219.3" cy="47.4" r="0.95"/><circle cx="223.7" cy="42.3" r="0.95"/><circle cx="225.0" cy="47.8" r="0.95"/><circle cx="235.8" cy="53.5" r="0.95"/><circle cx="236.4" cy="54.3" r="0.95"/><circle cx="230.1" cy="44.0" r="0.95"/><circle cx="221.8" cy="44.8" r="0.95"/><circle cx="215.3" cy="48.0" r="0.95"/><circle cx="233.1" cy="46.8" r="0.95"/><circle cx="219.3" cy="46.1" r="0.95"/><circle cx="230.5" cy="52.0" r="0.95"/><circle cx="234.2" cy="56.0" r="0.95"/><circle cx="228.9" cy="45.1" r="0.95"/><circle cx="219.7" cy="42.1" r="0.95"/><circle cx="229.3" cy="44.0" r="0.95"/><circle cx="227.2" cy="41.8" r="0.95"/><circle cx="235.9" cy="51.5" r="0.95"/><circle cx="226.3" cy="55.3" r="0.95"/><circle cx="236.9" cy="57.5" r="0.95"/><circle cx="229.8" cy="50.8" r="0.95"/><circle cx="218.8" cy="45.0" r="0.95"/><circle cx="219.9" cy="50.3" r="0.95"/><circle cx="231.4" cy="41.2" r="0.95"/><circle cx="221.6" cy="41.2" r="0.95"/><circle cx="235.6" cy="49.1" r="0.95"/><circle cx="224.0" cy="49.2" r="0.95"/><circle cx="224.4" cy="43.0" r="0.95"/><circle cx="221.6" cy="49.5" r="0.95"/><circle cx="222.9" cy="46.1" r="0.95"/><circle cx="223.0" cy="41.0" r="0.95"/><circle cx="224.8" cy="55.4" r="0.95"/><circle cx="225.9" cy="40.2" r="0.95"/><circle cx="231.1" cy="57.4" r="0.95"/><circle cx="223.3" cy="48.1" r="0.95"/><circle cx="215.7" cy="47.8" r="0.95"/><circle cx="238.7" cy="50.8" r="0.95"/><circle cx="218.8" cy="45.7" r="0.95"/><circle cx="227.5" cy="45.3" r="0.95"/><circle cx="233.5" cy="57.1" r="0.95"/><circle cx="229.9" cy="49.2" r="0.95"/><circle cx="230.7" cy="43.5" r="0.95"/><circle cx="224.7" cy="49.9" r="0.95"/><circle cx="224.8" cy="51.7" r="0.95"/><circle cx="225.5" cy="46.6" r="0.95"/><circle cx="226.7" cy="41.9" r="0.95"/><circle cx="234.6" cy="54.4" r="0.95"/><circle cx="225.8" cy="40.6" r="0.95"/><circle cx="226.2" cy="39.0" r="0.95"/><circle cx="216.2" cy="46.4" r="0.95"/><circle cx="215.2" cy="46.7" r="0.95"/><circle cx="233.8" cy="54.4" r="0.95"/><circle cx="227.1" cy="45.2" r="0.95"/><circle cx="233.7" cy="55.2" r="0.95"/><circle cx="235.4" cy="57.9" r="0.95"/><circle cx="218.5" cy="42.5" r="0.95"/><circle cx="227.2" cy="43.8" r="0.95"/><circle cx="232.2" cy="57.1" r="0.95"/><circle cx="215.8" cy="48.7" r="0.95"/><circle cx="231.0" cy="44.8" r="0.95"/><circle cx="237.8" cy="49.3" r="0.95"/><circle cx="229.3" cy="56.8" r="0.95"/><circle cx="230.8" cy="45.6" r="0.95"/><circle cx="222.9" cy="54.1" r="0.95"/><circle cx="225.3" cy="40.6" r="0.95"/><circle cx="229.5" cy="51.8" r="0.95"/><circle cx="230.4" cy="46.4" r="0.95"/><circle cx="219.0" cy="49.9" r="0.95"/><circle cx="229.6" cy="41.2" r="0.95"/><circle cx="230.6" cy="47.4" r="0.95"/><circle cx="237.8" cy="54.5" r="0.95"/><circle cx="224.2" cy="42.6" r="0.95"/><circle cx="228.8" cy="44.6" r="0.95"/><circle cx="231.2" cy="46.7" r="0.95"/><circle cx="224.3" cy="42.0" r="0.95"/><circle cx="218.3" cy="50.5" r="0.95"/><circle cx="227.2" cy="51.3" r="0.95"/><circle cx="221.5" cy="43.4" r="0.95"/><circle cx="235.2" cy="53.0" r="0.95"/><circle cx="234.1" cy="47.2" r="0.95"/><circle cx="234.0" cy="46.9" r="0.95"/><circle cx="222.2" cy="53.7" r="0.95"/><circle cx="232.7" cy="55.9" r="0.95"/><circle cx="233.1" cy="42.6" r="0.95"/><circle cx="228.6" cy="46.5" r="0.95"/><circle cx="235.4" cy="48.5" r="0.95"/><circle cx="220.2" cy="51.3" r="0.95"/><circle cx="220.1" cy="41.9" r="0.95"/><circle cx="234.1" cy="44.0" r="0.95"/><circle cx="230.8" cy="52.4" r="0.95"/><circle cx="226.1" cy="55.8" r="0.95"/><circle cx="232.7" cy="56.2" r="0.95"/><circle cx="225.2" cy="53.2" r="0.95"/><circle cx="229.0" cy="43.6" r="0.95"/><circle cx="218.6" cy="50.8" r="0.95"/><circle cx="232.6" cy="51.1" r="0.95"/><circle cx="232.7" cy="53.4" r="0.95"/><circle cx="214.4" cy="50.1" r="0.95"/><circle cx="236.3" cy="57.0" r="0.95"/><circle cx="237.1" cy="55.2" r="0.95"/><circle cx="230.9" cy="55.5" r="0.95"/><circle cx="230.8" cy="43.1" r="0.95"/><circle cx="221.8" cy="46.2" r="0.95"/><circle cx="220.7" cy="53.0" r="0.95"/><circle cx="223.2" cy="43.9" r="0.95"/><circle cx="237.2" cy="50.7" r="0.95"/><circle cx="225.2" cy="54.3" r="0.95"/><circle cx="222.6" cy="52.7" r="0.95"/><circle cx="228.1" cy="41.5" r="0.95"/><circle cx="226.8" cy="54.8" r="0.95"/><circle cx="217.9" cy="47.9" r="0.95"/><circle cx="220.7" cy="41.4" r="0.95"/><circle cx="232.8" cy="48.0" r="0.95"/><circle cx="232.7" cy="54.6" r="0.95"/><circle cx="230.7" cy="44.7" r="0.95"/><circle cx="224.1" cy="45.6" r="0.95"/><circle cx="218.5" cy="42.6" r="0.95"/><circle cx="219.3" cy="47.1" r="0.95"/><circle cx="227.9" cy="53.9" r="0.95"/><circle cx="234.3" cy="51.4" r="0.95"/><circle cx="222.6" cy="44.0" r="0.95"/><circle cx="231.7" cy="53.6" r="0.95"/><circle cx="217.4" cy="46.6" r="0.95"/><circle cx="234.9" cy="49.8" r="0.95"/><circle cx="216.2" cy="47.1" r="0.95"/><circle cx="218.1" cy="43.4" r="0.95"/><circle cx="232.9" cy="55.9" r="0.95"/><circle cx="219.7" cy="44.0" r="0.95"/><circle cx="227.6" cy="40.2" r="0.95"/></g>
<g fill="#3212A4"><circle cx="234.0" cy="32.7" r="0.85"/><circle cx="243.4" cy="40.9" r="0.85"/><circle cx="229.0" cy="33.3" r="0.85"/><circle cx="242.4" cy="43.0" r="0.85"/><circle cx="241.0" cy="41.8" r="0.85"/><circle cx="235.8" cy="51.0" r="0.85"/><circle cx="247.4" cy="40.7" r="0.85"/><circle cx="239.7" cy="51.2" r="0.85"/><circle cx="236.2" cy="34.0" r="0.85"/><circle cx="243.1" cy="55.5" r="0.85"/><circle cx="244.3" cy="49.6" r="0.85"/><circle cx="246.1" cy="48.9" r="0.85"/><circle cx="241.3" cy="41.5" r="0.85"/><circle cx="233.7" cy="47.2" r="0.85"/><circle cx="244.5" cy="50.0" r="0.85"/><circle cx="241.0" cy="34.8" r="0.85"/><circle cx="236.2" cy="41.5" r="0.85"/><circle cx="240.8" cy="40.0" r="0.85"/><circle cx="244.4" cy="39.3" r="0.85"/><circle cx="238.9" cy="50.2" r="0.85"/><circle cx="238.3" cy="47.6" r="0.85"/><circle cx="245.6" cy="43.7" r="0.85"/><circle cx="232.8" cy="39.7" r="0.85"/><circle cx="236.2" cy="49.5" r="0.85"/><circle cx="234.6" cy="35.3" r="0.85"/><circle cx="235.5" cy="33.5" r="0.85"/><circle cx="245.1" cy="47.4" r="0.85"/><circle cx="237.3" cy="45.0" r="0.85"/><circle cx="234.6" cy="47.6" r="0.85"/><circle cx="245.3" cy="53.4" r="0.85"/><circle cx="237.3" cy="36.2" r="0.85"/><circle cx="239.1" cy="30.6" r="0.85"/><circle cx="245.7" cy="38.2" r="0.85"/><circle cx="246.1" cy="35.3" r="0.85"/><circle cx="235.2" cy="34.9" r="0.85"/><circle cx="236.3" cy="32.6" r="0.85"/><circle cx="233.0" cy="34.6" r="0.85"/><circle cx="233.4" cy="42.3" r="0.85"/><circle cx="236.4" cy="47.5" r="0.85"/><circle cx="241.7" cy="38.5" r="0.85"/><circle cx="241.6" cy="34.8" r="0.85"/><circle cx="234.5" cy="31.5" r="0.85"/><circle cx="240.5" cy="52.3" r="0.85"/><circle cx="241.9" cy="56.0" r="0.85"/><circle cx="244.6" cy="54.2" r="0.85"/></g>
<g fill="#2A0E9E"><circle cx="210.3" cy="49.5" r="0.85"/><circle cx="216.6" cy="50.1" r="0.85"/><circle cx="214.8" cy="52.0" r="0.85"/><circle cx="217.0" cy="43.9" r="0.85"/><circle cx="210.9" cy="42.3" r="0.85"/><circle cx="215.4" cy="42.4" r="0.85"/><circle cx="215.8" cy="47.0" r="0.85"/><circle cx="216.8" cy="51.7" r="0.85"/><circle cx="215.4" cy="47.8" r="0.85"/><circle cx="219.1" cy="51.4" r="0.85"/><circle cx="213.6" cy="45.9" r="0.85"/><circle cx="218.6" cy="48.8" r="0.85"/><circle cx="216.2" cy="46.8" r="0.85"/><circle cx="220.1" cy="48.6" r="0.85"/><circle cx="212.9" cy="51.7" r="0.85"/><circle cx="213.5" cy="46.7" r="0.85"/><circle cx="216.5" cy="50.5" r="0.85"/><circle cx="210.5" cy="46.2" r="0.85"/><circle cx="214.5" cy="47.7" r="0.85"/><circle cx="222.2" cy="44.3" r="0.85"/><circle cx="222.2" cy="45.7" r="0.85"/><circle cx="216.1" cy="44.0" r="0.85"/><circle cx="218.9" cy="50.8" r="0.85"/><circle cx="212.8" cy="44.6" r="0.85"/><circle cx="212.2" cy="48.1" r="0.85"/><circle cx="218.6" cy="50.7" r="0.85"/><circle cx="219.0" cy="50.8" r="0.85"/><circle cx="218.2" cy="48.6" r="0.85"/><circle cx="219.7" cy="48.3" r="0.85"/><circle cx="219.4" cy="43.3" r="0.85"/></g>
<g fill="#7420B4"><circle cx="231.2" cy="61.2" r="0.95"/><circle cx="231.0" cy="59.5" r="0.95"/><circle cx="229.2" cy="57.4" r="0.95"/><circle cx="224.2" cy="60.5" r="0.95"/><circle cx="224.6" cy="60.7" r="0.95"/><circle cx="233.9" cy="63.4" r="0.95"/><circle cx="236.0" cy="61.0" r="0.95"/><circle cx="230.7" cy="56.5" r="0.95"/><circle cx="232.2" cy="57.1" r="0.95"/><circle cx="232.4" cy="56.1" r="0.95"/><circle cx="230.4" cy="66.0" r="0.95"/><circle cx="224.4" cy="66.4" r="0.95"/><circle cx="225.5" cy="63.4" r="0.95"/><circle cx="226.8" cy="65.4" r="0.95"/><circle cx="225.4" cy="64.8" r="0.95"/><circle cx="230.5" cy="60.4" r="0.95"/><circle cx="225.8" cy="67.4" r="0.95"/><circle cx="229.3" cy="58.1" r="0.95"/><circle cx="224.8" cy="64.0" r="0.95"/><circle cx="229.9" cy="58.4" r="0.95"/><circle cx="225.7" cy="65.5" r="0.95"/><circle cx="229.9" cy="69.5" r="0.95"/><circle cx="233.8" cy="57.9" r="0.95"/><circle cx="226.5" cy="63.6" r="0.95"/><circle cx="229.4" cy="57.7" r="0.95"/><circle cx="229.0" cy="67.7" r="0.95"/><circle cx="230.0" cy="65.4" r="0.95"/><circle cx="227.3" cy="56.4" r="0.95"/><circle cx="233.5" cy="61.2" r="0.95"/><circle cx="233.2" cy="56.9" r="0.95"/><circle cx="229.5" cy="69.5" r="0.95"/><circle cx="235.3" cy="62.4" r="0.95"/><circle cx="227.6" cy="63.7" r="0.95"/><circle cx="222.1" cy="56.2" r="0.95"/><circle cx="225.4" cy="63.2" r="0.95"/><circle cx="226.1" cy="62.3" r="0.95"/><circle cx="229.8" cy="59.1" r="0.95"/><circle cx="235.0" cy="61.7" r="0.95"/><circle cx="229.3" cy="57.5" r="0.95"/><circle cx="233.3" cy="60.6" r="0.95"/><circle cx="222.3" cy="55.9" r="0.95"/><circle cx="229.1" cy="69.0" r="0.95"/><circle cx="229.9" cy="60.1" r="0.95"/><circle cx="223.4" cy="63.2" r="0.95"/><circle cx="231.2" cy="60.0" r="0.95"/><circle cx="227.0" cy="55.5" r="0.95"/><circle cx="223.4" cy="59.2" r="0.95"/><circle cx="233.4" cy="66.0" r="0.95"/><circle cx="231.4" cy="58.2" r="0.95"/><circle cx="229.7" cy="66.9" r="0.95"/><circle cx="223.4" cy="54.9" r="0.95"/><circle cx="227.6" cy="55.7" r="0.95"/><circle cx="223.0" cy="55.2" r="0.95"/><circle cx="232.1" cy="56.2" r="0.95"/><circle cx="234.5" cy="64.4" r="0.95"/><circle cx="227.1" cy="59.0" r="0.95"/><circle cx="234.1" cy="61.6" r="0.95"/><circle cx="232.1" cy="63.0" r="0.95"/><circle cx="223.6" cy="60.3" r="0.95"/><circle cx="221.5" cy="57.7" r="0.95"/><circle cx="234.5" cy="58.9" r="0.95"/><circle cx="221.7" cy="61.8" r="0.95"/><circle cx="231.2" cy="56.5" r="0.95"/><circle cx="227.6" cy="57.9" r="0.95"/><circle cx="223.4" cy="56.3" r="0.95"/><circle cx="232.3" cy="58.1" r="0.95"/><circle cx="233.8" cy="59.0" r="0.95"/><circle cx="234.3" cy="62.5" r="0.95"/><circle cx="222.0" cy="60.8" r="0.95"/><circle cx="235.8" cy="56.6" r="0.95"/><circle cx="232.0" cy="56.2" r="0.95"/><circle cx="230.1" cy="61.9" r="0.95"/><circle cx="223.7" cy="56.4" r="0.95"/><circle cx="230.1" cy="65.9" r="0.95"/><circle cx="233.9" cy="63.6" r="0.95"/><circle cx="232.4" cy="60.3" r="0.95"/><circle cx="233.9" cy="58.9" r="0.95"/><circle cx="235.8" cy="61.6" r="0.95"/><circle cx="235.1" cy="57.6" r="0.95"/><circle cx="225.5" cy="55.6" r="0.95"/></g>
<g fill="#8424B4"><circle cx="217.5" cy="82.9" r="0.9"/><circle cx="219.5" cy="80.5" r="0.9"/><circle cx="216.2" cy="86.5" r="0.9"/><circle cx="217.8" cy="87.8" r="0.9"/><circle cx="221.4" cy="80.9" r="0.9"/><circle cx="214.3" cy="89.8" r="0.9"/><circle cx="226.4" cy="70.5" r="0.9"/><circle cx="223.1" cy="80.7" r="0.9"/><circle cx="220.8" cy="80.0" r="0.9"/><circle cx="227.7" cy="69.6" r="0.9"/><circle cx="228.5" cy="75.0" r="0.9"/><circle cx="224.6" cy="75.8" r="0.9"/><circle cx="219.2" cy="80.1" r="0.9"/><circle cx="224.8" cy="72.7" r="0.9"/><circle cx="225.8" cy="73.0" r="0.9"/><circle cx="224.3" cy="72.3" r="0.9"/><circle cx="221.5" cy="77.9" r="0.9"/><circle cx="215.7" cy="84.6" r="0.9"/><circle cx="222.9" cy="84.7" r="0.9"/><circle cx="219.9" cy="81.5" r="0.9"/><circle cx="224.0" cy="79.0" r="0.9"/><circle cx="217.8" cy="82.7" r="0.9"/><circle cx="230.8" cy="71.9" r="0.9"/><circle cx="222.5" cy="79.7" r="0.9"/><circle cx="215.5" cy="88.4" r="0.9"/><circle cx="219.4" cy="87.3" r="0.9"/><circle cx="217.0" cy="85.4" r="0.9"/><circle cx="222.9" cy="77.5" r="0.9"/><circle cx="223.9" cy="76.3" r="0.9"/><circle cx="219.7" cy="78.7" r="0.9"/><circle cx="227.0" cy="73.6" r="0.9"/><circle cx="218.0" cy="81.7" r="0.9"/><circle cx="221.0" cy="78.3" r="0.9"/><circle cx="222.8" cy="79.9" r="0.9"/><circle cx="221.5" cy="80.5" r="0.9"/><circle cx="226.0" cy="76.6" r="0.9"/><circle cx="217.2" cy="82.9" r="0.9"/><circle cx="225.8" cy="80.8" r="0.9"/><circle cx="218.3" cy="81.9" r="0.9"/><circle cx="219.4" cy="83.9" r="0.9"/><circle cx="221.3" cy="80.2" r="0.9"/><circle cx="218.6" cy="88.9" r="0.9"/><circle cx="215.8" cy="85.9" r="0.9"/><circle cx="225.5" cy="70.6" r="0.9"/><circle cx="220.9" cy="81.7" r="0.9"/><circle cx="214.7" cy="84.6" r="0.9"/><circle cx="223.0" cy="77.2" r="0.9"/><circle cx="228.0" cy="67.8" r="0.9"/><circle cx="228.3" cy="74.5" r="0.9"/><circle cx="226.8" cy="75.5" r="0.9"/><circle cx="210.2" cy="92.5" r="0.9"/><circle cx="223.2" cy="75.3" r="0.9"/><circle cx="219.4" cy="83.7" r="0.9"/><circle cx="216.0" cy="92.4" r="0.9"/><circle cx="229.5" cy="73.9" r="0.9"/></g>
<polyline points="228.0,34.0 228.9,32.9 230.7,32.7 230.1,30.1 232.0,30.0 233.1,28.8 235.2,29.7 236.0,28.0 238.1,27.9 240.0,27.0 242.2,26.6 244.0,28.0 244.4,29.7 243.0,31.3 244.0,33.0 245.1,34.2 247.0,34.9 247.0,37.0 246.3,38.9 248.6,40.1 248.0,42.0 247.4,43.4 247.2,44.9 247.4,46.5 247.0,48.0 245.5,49.4 247.2,51.5 246.0,53.0 245.1,54.6 245.6,56.7 244.0,58.0 242.0,58.6 242.7,61.2 241.0,62.0 239.5,61.0 238.0,60.0 237.7,58.0 236.0,57.0 235.8,55.1 233.2,55.0 233.0,53.0 233.1,51.2 232.3,50.0 230.3,49.5 230.0,48.0 229.5,46.3 227.4,45.8 227.0,44.0 225.9,42.6 225.6,41.1 225.8,39.6 226.0,38.0 227.4,37.0 227.2,35.3 228.0,34.0" fill="none" stroke="#2a2a2a" stroke-width="0.9" stroke-linejoin="round"/>
<polyline points="236.0,57.0 234.8,58.2 233.7,59.4 232.0,60.0 231.0,61.3 229.0,60.6 228.0,62.0 227.8,63.6 227.6,65.2 227.9,66.8 228.2,68.4 228.0,70.0 226.8,70.9 226.2,72.2 225.0,73.1 224.3,74.4 223.2,75.3 223.0,76.9 222.0,78.0 222.0,79.6 221.3,81.0 219.6,81.8 219.9,83.6 218.4,84.5 218.0,86.0 217.0,87.1 217.1,88.9 215.1,89.3 215.6,91.3 214.0,92.0 212.5,92.5 211.5,93.5 211.4,95.4 210.0,96.0" fill="none" stroke="#2a2a2a" stroke-width="0.9" stroke-linejoin="round"/>
<polygon points="198.7,97.8 204.2,94.1 211.5,92.3 220.6,93.2 227.9,99.6 229.7,106.9 237.0,110.5 242.0,114.0 246.0,120.0 244.0,128.0 238.9,132.0 233.4,134.0 226.1,132.4 218.8,127.0 211.5,123.3 202.4,119.7 197.8,112.4 197.8,103.2" fill="#C63E88" stroke="none" stroke-width="0" stroke-linejoin="round"/>
<polygon points="198.7,97.8 204.2,94.1 211.5,92.3 216.0,96.0 214.0,108.0 208.0,118.0 202.4,119.7 197.8,112.4 197.8,103.2" fill="#AE2C96" stroke="none" stroke-width="0" stroke-linejoin="round"/>
<polygon points="220.0,110.0 229.7,106.9 237.0,110.5 242.0,114.0 246.0,120.0 244.0,128.0 238.9,132.0 233.4,134.0 226.1,132.4 218.0,126.0" fill="#DC5272" stroke="none" stroke-width="0" stroke-linejoin="round"/>
<g fill="#B02E94"><circle cx="205.2" cy="93.6" r="0.8"/><circle cx="224.2" cy="91.4" r="0.8"/><circle cx="207.9" cy="99.9" r="0.8"/><circle cx="214.9" cy="98.8" r="0.8"/><circle cx="216.9" cy="93.5" r="0.8"/><circle cx="200.4" cy="99.2" r="0.8"/><circle cx="209.5" cy="91.7" r="0.8"/><circle cx="203.1" cy="92.2" r="0.8"/><circle cx="222.1" cy="92.9" r="0.8"/><circle cx="201.7" cy="97.7" r="0.8"/><circle cx="199.2" cy="92.0" r="0.8"/><circle cx="213.2" cy="99.4" r="0.8"/><circle cx="227.7" cy="90.6" r="0.8"/><circle cx="209.6" cy="97.9" r="0.8"/><circle cx="215.7" cy="91.5" r="0.8"/><circle cx="223.8" cy="91.9" r="0.8"/><circle cx="231.5" cy="96.1" r="0.8"/><circle cx="210.2" cy="91.7" r="0.8"/><circle cx="219.8" cy="91.3" r="0.8"/><circle cx="230.4" cy="90.1" r="0.8"/><circle cx="216.0" cy="95.6" r="0.8"/><circle cx="206.3" cy="98.5" r="0.8"/><circle cx="210.9" cy="97.0" r="0.8"/><circle cx="218.2" cy="92.5" r="0.8"/><circle cx="202.6" cy="99.6" r="0.8"/><circle cx="208.3" cy="97.1" r="0.8"/><circle cx="199.9" cy="95.8" r="0.8"/><circle cx="210.0" cy="95.0" r="0.8"/><circle cx="208.0" cy="91.4" r="0.8"/><circle cx="200.5" cy="97.8" r="0.8"/><circle cx="206.8" cy="93.7" r="0.8"/><circle cx="231.9" cy="98.6" r="0.8"/><circle cx="230.8" cy="99.7" r="0.8"/><circle cx="200.8" cy="92.1" r="0.8"/><circle cx="222.0" cy="93.1" r="0.8"/></g>
<g fill="#C84088"><circle cx="231.5" cy="107.0" r="0.8"/><circle cx="237.0" cy="108.0" r="0.8"/><circle cx="227.3" cy="98.3" r="0.8"/><circle cx="229.7" cy="101.7" r="0.8"/><circle cx="238.8" cy="105.3" r="0.8"/><circle cx="231.9" cy="107.5" r="0.8"/><circle cx="238.7" cy="109.3" r="0.8"/><circle cx="239.0" cy="106.0" r="0.8"/><circle cx="236.3" cy="102.0" r="0.8"/><circle cx="237.2" cy="110.2" r="0.8"/><circle cx="237.1" cy="110.3" r="0.8"/><circle cx="235.2" cy="103.1" r="0.8"/><circle cx="231.8" cy="104.2" r="0.8"/><circle cx="236.4" cy="109.8" r="0.8"/><circle cx="228.9" cy="104.9" r="0.8"/><circle cx="236.5" cy="107.2" r="0.8"/><circle cx="228.5" cy="99.1" r="0.8"/><circle cx="233.3" cy="103.0" r="0.8"/><circle cx="233.8" cy="108.9" r="0.8"/><circle cx="234.7" cy="103.3" r="0.8"/></g>
<polygon points="181.4,143.4 186.0,137.9 195.1,133.4 202.4,125.1 206.0,132.4 209.7,137.9 202.4,145.2 204.2,150.7 198.7,155.3 191.4,156.2 184.1,150.7 181.4,147.0" fill="#E06060" stroke="none" stroke-width="0" stroke-linejoin="round"/>
<polygon points="181.4,143.4 186.0,137.9 193.0,137.0 196.0,146.0 198.7,155.3 191.4,156.2 184.1,150.7 181.4,147.0" fill="#EA744C" stroke="none" stroke-width="0" stroke-linejoin="round"/>
<polygon points="194.0,143.0 199.0,140.0 201.0,146.0 197.0,149.0" fill="#fff" stroke="none" stroke-width="0" stroke-linejoin="round"/>
<g fill="#fff"><circle cx="186.1" cy="147.5" r="0.5"/><circle cx="190.1" cy="139.6" r="0.5"/><circle cx="182.5" cy="148.1" r="0.5"/><circle cx="200.3" cy="132.2" r="0.5"/><circle cx="206.2" cy="133.7" r="0.5"/><circle cx="185.7" cy="145.4" r="0.5"/><circle cx="185.2" cy="150.4" r="0.5"/><circle cx="205.7" cy="134.5" r="0.5"/><circle cx="191.4" cy="142.4" r="0.5"/><circle cx="191.5" cy="152.0" r="0.5"/></g>
<polygon points="237.0,97.8 244.3,95.0 251.6,99.6 258.9,97.8 262.6,92.3 266.0,90.5 269.9,92.3 272.6,99.6 269.9,105.1 279.0,108.7 286.3,116.0 290.9,125.1 291.8,132.4 288.0,138.0 284.5,141.0 280.8,148.9 271.7,154.3 262.6,156.2 251.6,147.0 242.5,139.7 233.4,134.3 238.9,121.5 244.3,110.5" fill="#F0AC3C" stroke="none" stroke-width="0" stroke-linejoin="round"/>
<polygon points="242.0,108.0 252.0,104.0 262.0,108.0 270.0,116.0 276.0,126.0 272.0,136.0 264.0,144.0 254.0,146.0 244.0,140.0 236.0,133.0 239.0,121.0" fill="#EC843A" stroke="none" stroke-width="0" stroke-linejoin="round"/>
<polygon points="242.5,139.7 233.4,134.3 236.0,126.0 244.0,126.0 252.0,134.0 251.6,147.0" fill="#E6684E" stroke="none" stroke-width="0" stroke-linejoin="round"/>
<polygon points="278.0,112.0 286.3,116.0 290.9,125.1 291.8,132.4 288.0,138.0 284.5,141.0 280.0,136.0 276.0,122.0" fill="#F2C040" stroke="none" stroke-width="0" stroke-linejoin="round"/>
<polygon points="224.3,136.1 233.4,132.4 244.3,137.9 253.5,143.4 262.6,150.7 264.4,158.0 260.8,163.5 253.5,165.3 244.3,164.4 233.4,161.6 226.1,156.2 222.4,145.2" fill="#EEEE3E" stroke="#8a8a6a" stroke-width="0.5" stroke-linejoin="round"/>
<polygon points="226.0,138.0 233.4,132.4 244.3,137.9 252.0,142.0 246.0,146.0 236.0,143.0 228.0,143.0" fill="#F2D83A" stroke="none" stroke-width="0" stroke-linejoin="round"/>
<g fill="#9020AE"><circle cx="211.4" cy="89.2" r="0.8"/><circle cx="210.4" cy="87.0" r="0.8"/><circle cx="209.7" cy="81.7" r="0.8"/><circle cx="207.5" cy="89.7" r="0.8"/><circle cx="210.7" cy="85.7" r="0.8"/><circle cx="208.2" cy="86.0" r="0.8"/><circle cx="207.6" cy="86.0" r="0.8"/><circle cx="211.4" cy="84.4" r="0.8"/><circle cx="208.0" cy="86.3" r="0.8"/><circle cx="207.7" cy="88.2" r="0.8"/><circle cx="212.6" cy="83.6" r="0.8"/><circle cx="213.0" cy="86.1" r="0.8"/><circle cx="208.7" cy="88.4" r="0.8"/><circle cx="209.3" cy="87.5" r="0.8"/><circle cx="211.4" cy="85.2" r="0.8"/><circle cx="210.9" cy="82.8" r="0.8"/><circle cx="210.3" cy="87.9" r="0.8"/><circle cx="206.7" cy="88.2" r="0.8"/><circle cx="209.7" cy="93.2" r="0.8"/><circle cx="211.2" cy="90.6" r="0.8"/></g>
<polyline points="237.0,97.8 244.3,95.0 251.6,99.6 258.9,97.8 262.6,92.3 266.0,90.5 269.9,92.3 272.6,99.6 269.9,105.1 279.0,108.7 286.3,116.0 290.9,125.1 291.8,132.4 288.0,138.0 284.5,141.0 280.8,148.9 271.7,154.3 264.0,156.0" fill="none" stroke="#9a9a9a" stroke-width="0.5" stroke-linejoin="round"/>
<polyline points="211.5,88.0 211.9,89.8 210.1,91.0 209.9,92.7 210.5,94.5 209.7,96.0 208.5,97.2 207.3,98.5 206.0,99.6 205.9,101.1 205.8,102.6 207.3,103.9 207.7,105.3 206.9,106.9 207.5,108.6 209.1,109.2 209.7,110.9 211.9,111.1 212.3,112.9 213.3,114.2 214.4,115.5 216.3,115.5 216.9,117.6 218.8,117.8 220.6,117.6 221.0,115.2 222.4,114.3 224.3,114.2 225.6,115.2 226.5,116.7 228.5,116.7 229.7,117.8 231.3,117.6 232.7,118.4 234.3,118.0 235.7,118.8 237.0,119.7 238.2,120.7 239.2,121.9 240.7,122.6 241.8,123.6 242.5,125.1 244.2,125.6 245.3,126.9 246.9,127.5 248.0,128.8 249.1,127.4 251.0,128.5 252.2,127.6 253.5,127.0 255.0,126.3 255.8,124.6 258.1,125.0 258.9,123.3 259.2,125.5 260.8,127.0 262.0,128.1 262.0,129.6 261.7,131.2 262.6,132.4 261.5,133.7 260.3,134.9 260.5,136.9 259.1,137.9 258.9,139.7 259.1,141.2 260.2,142.3 260.2,143.9 260.8,145.2 262.2,146.3 263.7,146.5 265.3,146.1 266.8,146.6 268.6,145.8 269.9,147.0 271.1,146.1 272.8,146.7 274.0,145.5 275.4,145.2" fill="none" stroke="#333333" stroke-width="1.0" stroke-linejoin="round"/>
<polyline points="258.9,123.3 258.7,121.5 257.8,120.3 255.5,120.2 254.6,118.9 254.9,116.8 253.5,116.0 253.6,114.4 253.1,113.0 252.0,111.7 252.2,110.1 251.6,108.7 252.7,107.0 253.5,105.1 255.0,104.9 256.2,103.7 257.8,103.8 259.3,103.4 260.8,103.2 262.3,102.7 263.8,102.2 265.0,101.2 265.7,99.7 266.8,98.6 268.1,97.8" fill="none" stroke="#333333" stroke-width="1.0" stroke-linejoin="round"/>
<polyline points="206.9,106.9 207.0,108.5 205.9,109.8 205.8,111.4 204.9,112.7 204.4,114.1 205.0,115.9 204.7,117.4 202.7,118.4 203.3,120.2 202.4,121.5 202.5,123.1 200.7,124.2 201.3,125.9 200.2,127.2 200.5,128.8 199.8,130.3 198.8,131.6 199.0,133.5 197.4,134.5 196.9,136.1 195.2,136.8 194.4,138.5 193.2,139.7 191.9,140.8 191.1,142.3 191.2,144.3 189.6,145.2 189.5,146.8 190.1,148.2 191.1,149.5 192.0,150.8 191.4,152.5 192.5,153.6 194.2,153.3 195.4,154.3 196.9,154.3" fill="none" stroke="#333333" stroke-width="1.0" stroke-linejoin="round"/>
<polyline points="262.6,132.4 264.3,131.4 266.0,130.7 268.0,131.0 269.3,130.3 270.5,129.3 271.8,128.5 273.5,128.8 275.0,129.0 276.2,130.3 277.7,130.5 279.2,130.8 280.8,130.6 282.4,130.4 283.7,131.4 285.3,131.2 286.8,131.4 288.1,132.4" fill="none" stroke="#333333" stroke-width="1.0" stroke-linejoin="round"/>
<polyline points="262.0,124.0 263.0,122.9 264.0,121.9 264.9,120.7 265.9,119.7 266.0,118.0 268.0,118.4 270.0,117.8 271.2,119.0 273.1,117.6 274.3,118.9 275.5,120.2 277.2,119.7 278.2,121.0 279.1,122.4 281.3,122.3 282.0,124.0" fill="none" stroke="#333333" stroke-width="1.0" stroke-linejoin="round"/>
<polyline points="228.0,143.4 229.0,144.6 230.2,145.3 231.8,145.3 233.0,146.0 234.7,146.3 236.4,146.6 237.3,148.5 238.9,148.9 239.3,150.3 239.1,151.9 240.2,153.2 239.8,154.9 240.7,156.2 242.1,154.7 244.0,154.0 246.0,154.8 248.0,154.3 248.9,155.9 250.5,156.6 251.6,158.0 253.4,159.0 255.3,159.8" fill="none" stroke="#333333" stroke-width="1.0" stroke-linejoin="round"/>
<polyline points="213.0,114.0 212.8,112.5 212.6,111.1 213.7,109.7 212.7,108.2 213.8,106.9 213.6,105.4 214.0,104.0 214.7,102.5 216.4,102.4 217.1,100.8 218.7,100.7 220.0,100.0 221.6,100.4 222.6,101.4 223.1,102.9 224.0,104.0" fill="none" stroke="#333333" stroke-width="1.0" stroke-linejoin="round"/>
<polyline points="237.0,119.7 236.9,118.2 238.7,117.2 237.6,115.3 239.1,114.3 238.4,112.5 239.1,111.2 240.0,110.0 241.7,109.7 241.6,107.6 243.2,107.2 244.0,106.0" fill="none" stroke="#333333" stroke-width="1.0" stroke-linejoin="round"/>
<polyline points="250.0,135.0 250.5,136.6 251.0,138.1 251.9,139.6 250.9,141.6 252.0,143.0 253.7,143.9 253.6,145.8 253.7,147.6 255.9,148.2 256.0,150.0 256.4,151.5 256.8,153.1 258.4,154.2 258.0,156.0" fill="none" stroke="#333333" stroke-width="1.0" stroke-linejoin="round"/>
<polyline points="270.0,147.0 271.1,145.9 271.9,144.6 273.1,143.6 273.6,142.0 275.5,141.6 276.0,140.0 277.3,141.1 278.9,141.3 280.7,140.9 282.0,142.0" fill="none" stroke="#333333" stroke-width="1.0" stroke-linejoin="round"/>
<polyline points="228.0,140.0 228.1,141.7 229.9,142.2 230.5,143.6 231.8,144.4 232.0,146.0 232.7,147.6 234.8,147.0 235.4,148.7 236.7,149.4 238.0,150.0 237.1,151.4 237.2,153.1 236.7,154.6 236.0,156.0 237.1,156.9 238.6,157.4 239.3,158.7 240.0,160.0" fill="none" stroke="#333333" stroke-width="1.0" stroke-linejoin="round"/>
<polyline points="244.0,150.0 244.8,148.8 246.2,148.2 246.3,146.3 248.0,146.0 248.3,147.7 249.5,148.5 250.3,149.7 252.0,150.0 252.9,151.5 253.4,153.1 254.1,154.6 254.2,156.3 254.0,158.0 253.7,159.7 251.7,159.7 251.2,161.2 250.0,162.0" fill="none" stroke="#333333" stroke-width="1.0" stroke-linejoin="round"/>
<polyline points="266.0,106.0 267.6,106.4 267.9,108.1 268.3,109.7 270.0,110.0 271.4,110.5 272.4,111.7 273.7,112.2 274.5,113.6 276.0,114.0 277.5,113.7 278.8,112.8 280.0,112.0" fill="none" stroke="#333333" stroke-width="1.0" stroke-linejoin="round"/>
<polyline points="274.0,128.0 275.1,129.1 275.3,130.7 275.9,132.1 276.7,133.3 277.2,134.7 278.0,136.0 279.5,136.0 281.0,136.0 282.5,135.4 284.0,136.0 285.6,136.4 286.3,137.7 286.6,139.4 288.0,140.0" fill="none" stroke="#333333" stroke-width="1.0" stroke-linejoin="round"/>
<polyline points="248.0,128.0 246.9,129.4 247.2,131.2 247.5,133.0 247.1,134.6 246.0,136.0 245.0,137.1 243.2,137.0 241.9,137.7 241.4,139.4 240.0,140.0 238.6,139.4 237.3,138.7 236.0,138.0" fill="none" stroke="#333333" stroke-width="1.0" stroke-linejoin="round"/>
<polyline points="218.0,118.0 218.9,119.1 219.7,120.3 221.2,121.1 220.8,123.1 222.0,124.0 223.6,124.3 225.2,124.3 226.8,123.9 228.4,124.3 230.0,124.0 230.5,125.5 231.7,126.3 233.2,126.8 234.0,128.0" fill="none" stroke="#333333" stroke-width="1.0" stroke-linejoin="round"/>
<polyline points="200.0,100.0 201.2,100.8 201.4,102.6 203.4,102.6 204.0,104.0 204.7,102.7 205.9,101.9 206.6,100.6 208.0,100.0" fill="none" stroke="#333333" stroke-width="1.0" stroke-linejoin="round"/>
<polyline points="262.0,95.0 262.5,96.6 264.3,97.3 265.4,98.4 266.0,100.0 264.5,100.5 264.5,102.5 263.0,103.0 262.0,104.0 260.6,104.6 259.2,105.1 258.0,106.0" fill="none" stroke="#333333" stroke-width="1.0" stroke-linejoin="round"/>
<text transform="translate(190.5,42.8) scale(0.943,1)" font-size="10.5" text-anchor="start" fill="#111">1:Tn</text>
<text transform="translate(238.7,88.9) scale(0.943,1)" font-size="10.5" text-anchor="start" fill="#111">3:Trmp</text>
<text transform="translate(165.2,118.7) scale(0.943,1)" font-size="10.5" text-anchor="start" fill="#111">0:Tsm</text>
<text transform="translate(296,133.8) scale(0.943,1)" font-size="10.5" text-anchor="start" fill="#111">4:Trm</text>
<text transform="translate(218.8,173.8) scale(0.943,1)" font-size="10.5" text-anchor="start" fill="#111">2:Tint</text>
<g><line x1="165.5" y1="74.5" x2="167.2" y2="69.5" stroke="#5a5a5a" stroke-width="2.2" stroke-linecap="round"/><ellipse cx="164" cy="78" rx="3.3" ry="3.8" fill="#8a8a8a" stroke="#555" stroke-width="1.2"/></g>
<g><line x1="319.3" y1="76.8" x2="321.0" y2="71.8" stroke="#5a5a5a" stroke-width="2.2" stroke-linecap="round"/><ellipse cx="317.8" cy="80.3" rx="3.3" ry="3.8" fill="#8a8a8a" stroke="#555" stroke-width="1.2"/></g>
<text x="441.3" y="20.9" font-size="8.7" text-anchor="start" fill="#222">TRB</text>
<text x="464.6" y="20.9" font-size="8.6" text-anchor="start" fill="#222">No GVHD</text>
<text x="589" y="20.3" font-size="8.6" text-anchor="start" fill="#222">cGVHD</text>
<rect x="508.00" y="29.60" width="8.40" height="41.60" fill="url(#trbg)" stroke="none" stroke-width="0"/>
<text x="520.3" y="34.0" font-size="6.6" text-anchor="start" fill="#222">400</text>
<text x="520.3" y="44.0" font-size="6.6" text-anchor="start" fill="#222">300</text>
<text x="520.3" y="54.0" font-size="6.6" text-anchor="start" fill="#222">200</text>
<text x="520.3" y="64.0" font-size="6.6" text-anchor="start" fill="#222">100</text>
<g stroke="#000" stroke-width="1.2" fill="none"><polyline points="419.7,144.3 419.7,168.8 444.9,168.8"/><polyline points="417.09999999999997,148.8 419.7,144.3 422.3,148.8"/><polyline points="440.4,166.20000000000002 444.9,168.8 440.4,171.4"/></g>
<text x="446.7" y="171.752" font-size="8.2" text-anchor="start" fill="#000">UMAP_1</text>
<text x="423.8" y="142" font-size="8.2" text-anchor="start" fill="#000" transform="rotate(-90 423.8 142)">UMAP_2</text>
<polygon points="455.7,41.9 457.3,37.1 463.7,32.3 470.1,27.5 474.9,22.7 478.2,21.9 484.0,23.5 489.4,29.0 491.0,37.0 490.2,45.1 488.0,54.0 484.6,61.2 478.2,66.0 470.1,67.6 466.9,69.2 465.3,74.0 462.1,79.5 459.5,83.0 462.9,74.0 463.7,66.0 462.1,58.0 460.5,51.5 455.7,48.3" fill="#C6C6C6" stroke="none" stroke-width="0" stroke-linejoin="round"/>
<polygon points="459.3,81.4 465.0,79.1 468.5,83.6 469.6,90.5 473.1,97.4 475.3,106.5 470.8,115.7 463.9,120.3 454.7,118.0 449.0,111.1 445.6,99.7 446.7,90.5 451.3,85.9" fill="#C6C6C6" stroke="none" stroke-width="0" stroke-linejoin="round"/>
<g fill="#fff"><circle cx="467.4" cy="104.4" r="0.6"/><circle cx="458.3" cy="105.4" r="0.6"/><circle cx="467.9" cy="104.8" r="0.6"/><circle cx="454.4" cy="108.8" r="0.6"/><circle cx="453.8" cy="107.6" r="0.6"/><circle cx="466.2" cy="109.7" r="0.6"/><circle cx="470.3" cy="112.1" r="0.6"/><circle cx="457.0" cy="115.5" r="0.6"/><circle cx="465.5" cy="116.5" r="0.6"/><circle cx="451.6" cy="108.8" r="0.6"/><circle cx="463.6" cy="104.2" r="0.6"/><circle cx="462.2" cy="116.2" r="0.6"/><circle cx="465.4" cy="106.8" r="0.6"/><circle cx="453.3" cy="110.1" r="0.6"/><circle cx="469.5" cy="112.4" r="0.6"/><circle cx="453.1" cy="111.9" r="0.6"/><circle cx="455.8" cy="114.2" r="0.6"/><circle cx="458.0" cy="105.0" r="0.6"/><circle cx="470.4" cy="111.7" r="0.6"/><circle cx="465.7" cy="116.2" r="0.6"/><circle cx="457.1" cy="105.1" r="0.6"/><circle cx="465.5" cy="109.2" r="0.6"/><circle cx="460.4" cy="105.2" r="0.6"/><circle cx="469.6" cy="109.2" r="0.6"/><circle cx="470.3" cy="112.9" r="0.6"/><circle cx="452.7" cy="108.6" r="0.6"/><circle cx="460.2" cy="112.3" r="0.6"/><circle cx="458.2" cy="108.5" r="0.6"/><circle cx="465.3" cy="107.1" r="0.6"/><circle cx="455.3" cy="111.0" r="0.6"/><circle cx="455.1" cy="112.2" r="0.6"/><circle cx="462.5" cy="115.6" r="0.6"/><circle cx="464.3" cy="113.3" r="0.6"/><circle cx="457.6" cy="107.3" r="0.6"/><circle cx="456.1" cy="115.5" r="0.6"/></g>
<g fill="#C6C6C6"><circle cx="507.0" cy="121.1" r="0.8"/><circle cx="501.5" cy="110.3" r="0.8"/><circle cx="497.1" cy="114.1" r="0.8"/><circle cx="471.6" cy="109.4" r="0.8"/><circle cx="493.5" cy="111.5" r="0.8"/><circle cx="481.2" cy="102.5" r="0.8"/><circle cx="486.7" cy="95.7" r="0.8"/><circle cx="492.1" cy="116.8" r="0.8"/><circle cx="498.1" cy="107.1" r="0.8"/><circle cx="484.2" cy="107.5" r="0.8"/><circle cx="506.3" cy="124.0" r="0.8"/><circle cx="516.4" cy="126.2" r="0.8"/><circle cx="487.1" cy="139.2" r="0.8"/><circle cx="490.8" cy="145.5" r="0.8"/><circle cx="472.0" cy="119.4" r="0.8"/><circle cx="477.1" cy="104.7" r="0.8"/><circle cx="505.1" cy="101.3" r="0.8"/><circle cx="489.3" cy="100.1" r="0.8"/><circle cx="499.9" cy="145.3" r="0.8"/><circle cx="502.2" cy="99.9" r="0.8"/><circle cx="510.6" cy="146.0" r="0.8"/><circle cx="486.2" cy="95.8" r="0.8"/><circle cx="478.3" cy="123.0" r="0.8"/><circle cx="514.0" cy="130.0" r="0.8"/><circle cx="485.5" cy="137.5" r="0.8"/><circle cx="502.2" cy="114.1" r="0.8"/><circle cx="503.8" cy="109.5" r="0.8"/><circle cx="471.5" cy="114.7" r="0.8"/><circle cx="485.9" cy="120.1" r="0.8"/><circle cx="499.6" cy="104.0" r="0.8"/><circle cx="516.6" cy="124.9" r="0.8"/><circle cx="500.4" cy="135.7" r="0.8"/><circle cx="485.6" cy="92.9" r="0.8"/><circle cx="510.8" cy="115.3" r="0.8"/><circle cx="496.5" cy="126.5" r="0.8"/><circle cx="497.4" cy="131.2" r="0.8"/><circle cx="499.8" cy="109.0" r="0.8"/><circle cx="507.0" cy="104.0" r="0.8"/><circle cx="505.5" cy="138.4" r="0.8"/><circle cx="508.9" cy="107.5" r="0.8"/><circle cx="492.1" cy="105.4" r="0.8"/><circle cx="495.7" cy="150.5" r="0.8"/><circle cx="493.2" cy="131.1" r="0.8"/><circle cx="508.8" cy="111.1" r="0.8"/><circle cx="471.6" cy="120.6" r="0.8"/><circle cx="497.4" cy="98.9" r="0.8"/><circle cx="501.6" cy="109.9" r="0.8"/><circle cx="510.1" cy="117.8" r="0.8"/><circle cx="489.4" cy="145.3" r="0.8"/><circle cx="489.8" cy="149.0" r="0.8"/><circle cx="480.2" cy="103.6" r="0.8"/><circle cx="482.1" cy="116.0" r="0.8"/><circle cx="480.5" cy="100.3" r="0.8"/><circle cx="508.0" cy="130.2" r="0.8"/><circle cx="479.8" cy="125.2" r="0.8"/><circle cx="507.6" cy="142.5" r="0.8"/><circle cx="483.2" cy="109.0" r="0.8"/><circle cx="493.7" cy="147.1" r="0.8"/><circle cx="476.9" cy="132.9" r="0.8"/><circle cx="499.6" cy="117.3" r="0.8"/><circle cx="498.6" cy="146.5" r="0.8"/><circle cx="487.2" cy="139.5" r="0.8"/><circle cx="505.8" cy="146.5" r="0.8"/><circle cx="494.7" cy="102.3" r="0.8"/><circle cx="490.9" cy="93.6" r="0.8"/><circle cx="474.8" cy="119.6" r="0.8"/><circle cx="475.6" cy="115.6" r="0.8"/><circle cx="477.8" cy="133.1" r="0.8"/><circle cx="494.5" cy="94.1" r="0.8"/><circle cx="486.9" cy="120.2" r="0.8"/><circle cx="514.4" cy="136.2" r="0.8"/><circle cx="482.7" cy="98.6" r="0.8"/><circle cx="470.7" cy="121.1" r="0.8"/><circle cx="489.7" cy="124.4" r="0.8"/><circle cx="504.3" cy="130.9" r="0.8"/><circle cx="496.8" cy="123.8" r="0.8"/><circle cx="514.0" cy="135.3" r="0.8"/><circle cx="489.3" cy="108.1" r="0.8"/><circle cx="488.6" cy="112.7" r="0.8"/><circle cx="489.8" cy="96.2" r="0.8"/><circle cx="500.1" cy="149.5" r="0.8"/><circle cx="481.7" cy="128.0" r="0.8"/><circle cx="488.1" cy="102.9" r="0.8"/><circle cx="512.3" cy="139.8" r="0.8"/><circle cx="504.6" cy="108.6" r="0.8"/><circle cx="502.1" cy="123.8" r="0.8"/><circle cx="512.9" cy="121.2" r="0.8"/><circle cx="480.7" cy="129.3" r="0.8"/><circle cx="507.2" cy="112.3" r="0.8"/><circle cx="505.5" cy="113.3" r="0.8"/><circle cx="495.9" cy="128.2" r="0.8"/><circle cx="503.7" cy="108.4" r="0.8"/><circle cx="501.2" cy="123.4" r="0.8"/><circle cx="480.1" cy="128.2" r="0.8"/><circle cx="493.1" cy="135.6" r="0.8"/><circle cx="495.6" cy="118.9" r="0.8"/><circle cx="480.0" cy="96.2" r="0.8"/><circle cx="516.7" cy="122.5" r="0.8"/><circle cx="495.7" cy="122.4" r="0.8"/><circle cx="492.4" cy="130.1" r="0.8"/><circle cx="488.3" cy="143.1" r="0.8"/><circle cx="476.5" cy="103.6" r="0.8"/><circle cx="473.8" cy="110.8" r="0.8"/><circle cx="510.3" cy="122.0" r="0.8"/><circle cx="492.0" cy="92.5" r="0.8"/><circle cx="504.6" cy="117.1" r="0.8"/><circle cx="493.4" cy="140.8" r="0.8"/><circle cx="503.9" cy="111.5" r="0.8"/><circle cx="495.6" cy="102.7" r="0.8"/><circle cx="487.8" cy="109.6" r="0.8"/><circle cx="478.9" cy="125.3" r="0.8"/><circle cx="505.8" cy="105.2" r="0.8"/><circle cx="485.3" cy="102.9" r="0.8"/><circle cx="501.6" cy="144.9" r="0.8"/><circle cx="479.0" cy="115.3" r="0.8"/><circle cx="509.7" cy="128.5" r="0.8"/><circle cx="491.5" cy="111.5" r="0.8"/><circle cx="505.6" cy="106.6" r="0.8"/><circle cx="489.7" cy="130.6" r="0.8"/><circle cx="510.7" cy="110.5" r="0.8"/><circle cx="488.5" cy="125.9" r="0.8"/><circle cx="487.9" cy="131.8" r="0.8"/><circle cx="507.8" cy="112.3" r="0.8"/><circle cx="495.8" cy="120.3" r="0.8"/><circle cx="492.6" cy="117.9" r="0.8"/><circle cx="512.2" cy="114.7" r="0.8"/><circle cx="493.1" cy="147.0" r="0.8"/><circle cx="491.4" cy="119.9" r="0.8"/><circle cx="495.1" cy="142.6" r="0.8"/><circle cx="503.4" cy="136.9" r="0.8"/><circle cx="503.9" cy="124.2" r="0.8"/><circle cx="508.5" cy="138.9" r="0.8"/><circle cx="474.6" cy="101.5" r="0.8"/><circle cx="507.7" cy="124.9" r="0.8"/><circle cx="505.5" cy="119.3" r="0.8"/><circle cx="490.2" cy="126.2" r="0.8"/><circle cx="485.9" cy="121.7" r="0.8"/><circle cx="482.8" cy="104.3" r="0.8"/><circle cx="484.8" cy="103.8" r="0.8"/><circle cx="513.2" cy="124.3" r="0.8"/><circle cx="495.1" cy="115.1" r="0.8"/><circle cx="471.2" cy="107.2" r="0.8"/><circle cx="513.6" cy="141.0" r="0.8"/><circle cx="496.4" cy="111.9" r="0.8"/><circle cx="492.6" cy="119.8" r="0.8"/><circle cx="498.9" cy="111.4" r="0.8"/><circle cx="516.3" cy="124.3" r="0.8"/><circle cx="471.2" cy="107.9" r="0.8"/><circle cx="496.2" cy="114.3" r="0.8"/><circle cx="497.9" cy="108.5" r="0.8"/><circle cx="483.7" cy="134.8" r="0.8"/><circle cx="510.2" cy="126.8" r="0.8"/><circle cx="492.1" cy="150.1" r="0.8"/><circle cx="491.6" cy="146.2" r="0.8"/><circle cx="471.5" cy="116.0" r="0.8"/><circle cx="499.5" cy="98.8" r="0.8"/><circle cx="516.5" cy="124.7" r="0.8"/><circle cx="510.1" cy="120.4" r="0.8"/><circle cx="503.5" cy="132.4" r="0.8"/><circle cx="483.8" cy="100.8" r="0.8"/><circle cx="490.1" cy="131.3" r="0.8"/><circle cx="483.8" cy="102.3" r="0.8"/><circle cx="498.8" cy="108.2" r="0.8"/><circle cx="497.6" cy="97.0" r="0.8"/><circle cx="488.3" cy="130.1" r="0.8"/><circle cx="480.1" cy="123.6" r="0.8"/><circle cx="473.4" cy="118.1" r="0.8"/><circle cx="506.4" cy="115.7" r="0.8"/><circle cx="517.4" cy="122.3" r="0.8"/><circle cx="483.6" cy="110.2" r="0.8"/><circle cx="507.5" cy="120.3" r="0.8"/><circle cx="493.7" cy="145.3" r="0.8"/><circle cx="499.6" cy="123.3" r="0.8"/><circle cx="485.8" cy="117.1" r="0.8"/><circle cx="481.4" cy="137.0" r="0.8"/><circle cx="497.6" cy="93.0" r="0.8"/><circle cx="497.2" cy="140.1" r="0.8"/><circle cx="499.5" cy="117.9" r="0.8"/><circle cx="473.6" cy="130.5" r="0.8"/><circle cx="475.4" cy="125.8" r="0.8"/><circle cx="486.8" cy="112.0" r="0.8"/><circle cx="513.9" cy="119.2" r="0.8"/><circle cx="494.3" cy="122.9" r="0.8"/><circle cx="474.6" cy="118.3" r="0.8"/><circle cx="477.0" cy="122.9" r="0.8"/><circle cx="494.9" cy="111.4" r="0.8"/><circle cx="478.8" cy="114.0" r="0.8"/><circle cx="494.6" cy="147.1" r="0.8"/><circle cx="493.9" cy="140.3" r="0.8"/><circle cx="498.2" cy="133.3" r="0.8"/><circle cx="476.5" cy="104.5" r="0.8"/><circle cx="470.1" cy="113.2" r="0.8"/><circle cx="495.4" cy="106.4" r="0.8"/><circle cx="498.6" cy="102.4" r="0.8"/><circle cx="499.5" cy="139.8" r="0.8"/><circle cx="481.3" cy="127.2" r="0.8"/><circle cx="500.6" cy="133.5" r="0.8"/><circle cx="510.9" cy="109.8" r="0.8"/><circle cx="510.6" cy="117.9" r="0.8"/><circle cx="517.4" cy="114.5" r="0.8"/><circle cx="489.7" cy="92.5" r="0.8"/><circle cx="481.2" cy="136.4" r="0.8"/><circle cx="486.4" cy="96.0" r="0.8"/><circle cx="478.8" cy="101.4" r="0.8"/><circle cx="493.4" cy="120.3" r="0.8"/><circle cx="507.6" cy="129.8" r="0.8"/><circle cx="478.9" cy="129.0" r="0.8"/><circle cx="512.5" cy="140.0" r="0.8"/><circle cx="486.7" cy="97.5" r="0.8"/><circle cx="511.8" cy="141.0" r="0.8"/><circle cx="499.2" cy="116.1" r="0.8"/><circle cx="511.4" cy="139.8" r="0.8"/><circle cx="518.5" cy="122.7" r="0.8"/><circle cx="480.6" cy="100.0" r="0.8"/><circle cx="492.3" cy="102.6" r="0.8"/><circle cx="494.1" cy="148.3" r="0.8"/><circle cx="504.1" cy="134.8" r="0.8"/><circle cx="488.9" cy="139.8" r="0.8"/><circle cx="509.8" cy="132.9" r="0.8"/><circle cx="489.6" cy="92.4" r="0.8"/><circle cx="502.4" cy="143.4" r="0.8"/><circle cx="486.2" cy="127.0" r="0.8"/><circle cx="512.0" cy="140.4" r="0.8"/><circle cx="510.7" cy="115.0" r="0.8"/><circle cx="499.9" cy="117.6" r="0.8"/><circle cx="485.9" cy="101.0" r="0.8"/><circle cx="486.9" cy="143.9" r="0.8"/><circle cx="500.7" cy="106.4" r="0.8"/><circle cx="473.1" cy="104.9" r="0.8"/><circle cx="505.0" cy="116.6" r="0.8"/><circle cx="502.9" cy="141.4" r="0.8"/><circle cx="478.1" cy="105.0" r="0.8"/><circle cx="500.2" cy="147.3" r="0.8"/><circle cx="489.0" cy="120.5" r="0.8"/><circle cx="518.2" cy="121.0" r="0.8"/><circle cx="492.1" cy="141.5" r="0.8"/><circle cx="481.5" cy="110.5" r="0.8"/><circle cx="473.7" cy="124.1" r="0.8"/><circle cx="513.3" cy="121.4" r="0.8"/><circle cx="515.0" cy="131.8" r="0.8"/><circle cx="491.6" cy="151.6" r="0.8"/><circle cx="487.3" cy="131.5" r="0.8"/><circle cx="501.4" cy="112.1" r="0.8"/><circle cx="495.7" cy="132.5" r="0.8"/><circle cx="515.7" cy="120.4" r="0.8"/><circle cx="504.0" cy="124.4" r="0.8"/><circle cx="491.8" cy="137.6" r="0.8"/><circle cx="485.4" cy="95.8" r="0.8"/><circle cx="476.0" cy="126.5" r="0.8"/><circle cx="488.9" cy="137.3" r="0.8"/><circle cx="501.9" cy="105.6" r="0.8"/><circle cx="508.1" cy="106.3" r="0.8"/><circle cx="496.8" cy="115.1" r="0.8"/><circle cx="510.4" cy="132.5" r="0.8"/><circle cx="505.4" cy="133.5" r="0.8"/><circle cx="482.9" cy="97.5" r="0.8"/><circle cx="498.4" cy="142.7" r="0.8"/><circle cx="509.8" cy="110.1" r="0.8"/><circle cx="475.8" cy="121.6" r="0.8"/><circle cx="484.0" cy="112.5" r="0.8"/><circle cx="478.2" cy="107.5" r="0.8"/><circle cx="485.2" cy="116.3" r="0.8"/><circle cx="474.1" cy="104.2" r="0.8"/><circle cx="489.0" cy="112.7" r="0.8"/><circle cx="491.9" cy="143.4" r="0.8"/><circle cx="501.6" cy="139.4" r="0.8"/><circle cx="484.9" cy="96.8" r="0.8"/><circle cx="507.9" cy="118.5" r="0.8"/><circle cx="497.6" cy="132.1" r="0.8"/><circle cx="507.6" cy="105.2" r="0.8"/><circle cx="496.0" cy="106.1" r="0.8"/><circle cx="501.3" cy="104.2" r="0.8"/><circle cx="511.5" cy="125.0" r="0.8"/><circle cx="482.3" cy="103.0" r="0.8"/><circle cx="472.1" cy="123.8" r="0.8"/><circle cx="507.7" cy="132.6" r="0.8"/><circle cx="490.0" cy="141.4" r="0.8"/><circle cx="474.3" cy="107.4" r="0.8"/><circle cx="501.5" cy="133.6" r="0.8"/><circle cx="508.8" cy="113.3" r="0.8"/><circle cx="486.3" cy="113.2" r="0.8"/><circle cx="510.4" cy="110.3" r="0.8"/><circle cx="496.2" cy="121.9" r="0.8"/><circle cx="503.3" cy="147.8" r="0.8"/><circle cx="475.4" cy="109.5" r="0.8"/><circle cx="471.9" cy="114.6" r="0.8"/><circle cx="494.6" cy="144.4" r="0.8"/><circle cx="503.2" cy="125.8" r="0.8"/><circle cx="489.5" cy="125.5" r="0.8"/><circle cx="509.5" cy="143.5" r="0.8"/><circle cx="476.4" cy="132.2" r="0.8"/><circle cx="507.7" cy="120.5" r="0.8"/><circle cx="507.1" cy="142.3" r="0.8"/><circle cx="502.2" cy="146.2" r="0.8"/><circle cx="505.1" cy="128.1" r="0.8"/><circle cx="499.9" cy="142.5" r="0.8"/><circle cx="482.7" cy="101.0" r="0.8"/><circle cx="510.2" cy="111.0" r="0.8"/><circle cx="512.1" cy="108.6" r="0.8"/><circle cx="475.7" cy="105.2" r="0.8"/><circle cx="471.6" cy="116.8" r="0.8"/><circle cx="497.4" cy="141.4" r="0.8"/><circle cx="474.2" cy="101.8" r="0.8"/><circle cx="501.2" cy="109.6" r="0.8"/><circle cx="485.7" cy="125.2" r="0.8"/><circle cx="510.6" cy="123.0" r="0.8"/><circle cx="490.5" cy="90.8" r="0.8"/><circle cx="501.3" cy="135.8" r="0.8"/><circle cx="498.9" cy="113.7" r="0.8"/><circle cx="495.1" cy="126.5" r="0.8"/><circle cx="493.3" cy="95.6" r="0.8"/><circle cx="492.1" cy="132.9" r="0.8"/><circle cx="505.3" cy="117.4" r="0.8"/><circle cx="486.3" cy="99.4" r="0.8"/><circle cx="489.4" cy="105.7" r="0.8"/><circle cx="495.3" cy="116.3" r="0.8"/><circle cx="478.8" cy="134.4" r="0.8"/><circle cx="478.7" cy="104.6" r="0.8"/><circle cx="497.6" cy="134.2" r="0.8"/><circle cx="506.1" cy="135.4" r="0.8"/><circle cx="506.0" cy="129.4" r="0.8"/><circle cx="482.2" cy="110.7" r="0.8"/><circle cx="477.0" cy="129.5" r="0.8"/><circle cx="510.3" cy="117.4" r="0.8"/><circle cx="493.3" cy="142.4" r="0.8"/><circle cx="497.8" cy="121.0" r="0.8"/><circle cx="479.4" cy="103.6" r="0.8"/><circle cx="506.6" cy="112.6" r="0.8"/><circle cx="510.7" cy="143.7" r="0.8"/><circle cx="479.6" cy="126.3" r="0.8"/></g>
<polygon points="479.0,100.0 486.0,94.0 491.0,89.0 495.0,92.0 497.0,98.0 499.0,104.0 496.0,112.0 498.0,122.0 492.0,127.0 484.0,126.0 479.0,118.0" fill="#C6C6C6" stroke="none" stroke-width="0" stroke-linejoin="round"/>
<g fill="#fff"><circle cx="495.3" cy="120.2" r="0.7"/><circle cx="496.4" cy="113.9" r="0.7"/><circle cx="491.4" cy="122.6" r="0.7"/><circle cx="488.7" cy="116.5" r="0.7"/><circle cx="483.4" cy="106.6" r="0.7"/><circle cx="496.7" cy="110.1" r="0.7"/><circle cx="481.9" cy="105.5" r="0.7"/><circle cx="488.2" cy="115.1" r="0.7"/><circle cx="491.6" cy="118.2" r="0.7"/><circle cx="487.9" cy="102.2" r="0.7"/><circle cx="488.4" cy="110.5" r="0.7"/><circle cx="492.3" cy="118.3" r="0.7"/><circle cx="484.1" cy="116.7" r="0.7"/><circle cx="492.6" cy="112.3" r="0.7"/><circle cx="490.9" cy="102.1" r="0.7"/><circle cx="483.8" cy="110.3" r="0.7"/><circle cx="494.5" cy="121.1" r="0.7"/><circle cx="491.5" cy="119.0" r="0.7"/><circle cx="484.1" cy="123.8" r="0.7"/><circle cx="483.7" cy="117.3" r="0.7"/><circle cx="497.0" cy="107.1" r="0.7"/><circle cx="493.9" cy="103.1" r="0.7"/><circle cx="483.1" cy="120.7" r="0.7"/><circle cx="482.6" cy="113.3" r="0.7"/><circle cx="496.4" cy="123.4" r="0.7"/></g>
<polygon points="500.0,134.0 508.0,133.0 513.0,135.0 513.0,144.0 506.0,146.0 500.0,143.0" fill="#C6C6C6" stroke="none" stroke-width="0" stroke-linejoin="round"/>
<polygon points="489.0,127.0 497.0,127.0 498.0,140.0 495.0,151.0 491.0,149.0 490.0,138.0" fill="#C6C6C6" stroke="none" stroke-width="0" stroke-linejoin="round" fill-opacity="0.8"/>
<g fill="#C6C6C6"><circle cx="510.3" cy="122.2" r="0.8"/><circle cx="509.1" cy="117.4" r="0.8"/><circle cx="511.2" cy="121.7" r="0.8"/><circle cx="510.0" cy="109.5" r="0.8"/><circle cx="516.6" cy="122.0" r="0.8"/><circle cx="514.3" cy="122.9" r="0.8"/><circle cx="506.0" cy="109.8" r="0.8"/><circle cx="499.2" cy="105.2" r="0.8"/><circle cx="513.4" cy="116.9" r="0.8"/><circle cx="509.5" cy="113.4" r="0.8"/><circle cx="506.9" cy="117.2" r="0.8"/><circle cx="512.4" cy="124.5" r="0.8"/><circle cx="514.4" cy="121.6" r="0.8"/><circle cx="518.5" cy="122.6" r="0.8"/><circle cx="513.2" cy="122.9" r="0.8"/><circle cx="507.4" cy="123.6" r="0.8"/><circle cx="507.7" cy="119.5" r="0.8"/><circle cx="503.3" cy="109.7" r="0.8"/><circle cx="505.5" cy="110.3" r="0.8"/><circle cx="499.7" cy="113.1" r="0.8"/><circle cx="503.2" cy="112.4" r="0.8"/><circle cx="517.9" cy="124.6" r="0.8"/><circle cx="505.1" cy="121.0" r="0.8"/><circle cx="515.3" cy="123.9" r="0.8"/><circle cx="515.8" cy="115.3" r="0.8"/><circle cx="504.7" cy="117.5" r="0.8"/><circle cx="505.9" cy="115.4" r="0.8"/><circle cx="509.7" cy="118.1" r="0.8"/><circle cx="499.6" cy="107.6" r="0.8"/><circle cx="501.6" cy="113.0" r="0.8"/><circle cx="513.3" cy="119.1" r="0.8"/><circle cx="514.7" cy="120.6" r="0.8"/><circle cx="503.2" cy="108.7" r="0.8"/><circle cx="502.3" cy="108.7" r="0.8"/><circle cx="511.1" cy="118.2" r="0.8"/><circle cx="511.3" cy="119.2" r="0.8"/><circle cx="500.1" cy="114.3" r="0.8"/><circle cx="503.8" cy="121.0" r="0.8"/><circle cx="504.5" cy="112.3" r="0.8"/><circle cx="513.4" cy="113.2" r="0.8"/><circle cx="517.2" cy="121.8" r="0.8"/><circle cx="512.7" cy="116.6" r="0.8"/><circle cx="500.8" cy="104.8" r="0.8"/><circle cx="512.5" cy="116.2" r="0.8"/><circle cx="505.9" cy="119.8" r="0.8"/><circle cx="500.7" cy="121.4" r="0.8"/><circle cx="503.3" cy="111.3" r="0.8"/><circle cx="503.2" cy="121.6" r="0.8"/><circle cx="504.1" cy="111.6" r="0.8"/><circle cx="502.0" cy="107.8" r="0.8"/><circle cx="506.3" cy="111.3" r="0.8"/><circle cx="512.3" cy="113.8" r="0.8"/><circle cx="512.8" cy="122.6" r="0.8"/><circle cx="508.1" cy="119.6" r="0.8"/><circle cx="499.7" cy="105.3" r="0.8"/><circle cx="502.8" cy="113.1" r="0.8"/><circle cx="505.8" cy="113.8" r="0.8"/><circle cx="514.6" cy="116.0" r="0.8"/><circle cx="503.0" cy="106.6" r="0.8"/><circle cx="499.4" cy="108.9" r="0.8"/></g>
<g fill="#C6C6C6"><circle cx="474.7" cy="89.8" r="0.8"/><circle cx="473.3" cy="85.3" r="0.8"/><circle cx="477.9" cy="94.3" r="0.8"/><circle cx="479.3" cy="94.9" r="0.8"/><circle cx="477.2" cy="97.5" r="0.8"/><circle cx="474.5" cy="85.7" r="0.8"/><circle cx="473.9" cy="98.1" r="0.8"/><circle cx="472.6" cy="91.9" r="0.8"/><circle cx="473.0" cy="97.9" r="0.8"/><circle cx="471.6" cy="92.9" r="0.8"/><circle cx="476.5" cy="98.9" r="0.8"/><circle cx="469.9" cy="85.7" r="0.8"/><circle cx="475.9" cy="95.9" r="0.8"/><circle cx="471.2" cy="86.4" r="0.8"/><circle cx="476.9" cy="92.9" r="0.8"/><circle cx="474.0" cy="102.9" r="0.8"/><circle cx="472.1" cy="89.1" r="0.8"/><circle cx="474.2" cy="94.7" r="0.8"/><circle cx="478.0" cy="94.3" r="0.8"/><circle cx="478.0" cy="96.0" r="0.8"/><circle cx="471.3" cy="90.9" r="0.8"/><circle cx="475.9" cy="98.1" r="0.8"/><circle cx="477.5" cy="93.3" r="0.8"/><circle cx="478.3" cy="100.9" r="0.8"/><circle cx="478.3" cy="98.8" r="0.8"/><circle cx="471.2" cy="92.4" r="0.8"/><circle cx="478.1" cy="100.1" r="0.8"/><circle cx="470.9" cy="88.6" r="0.8"/><circle cx="474.0" cy="92.2" r="0.8"/><circle cx="473.2" cy="98.7" r="0.8"/><circle cx="474.5" cy="86.5" r="0.8"/><circle cx="477.8" cy="97.1" r="0.8"/><circle cx="472.3" cy="88.4" r="0.8"/><circle cx="472.9" cy="94.5" r="0.8"/><circle cx="472.6" cy="92.1" r="0.8"/><circle cx="475.2" cy="88.4" r="0.8"/><circle cx="470.1" cy="84.6" r="0.8"/><circle cx="477.5" cy="98.5" r="0.8"/><circle cx="475.4" cy="86.8" r="0.8"/><circle cx="480.4" cy="100.7" r="0.8"/></g>
<g fill="#C6C6C6"><circle cx="445.6" cy="131.7" r="0.9"/><circle cx="443.9" cy="115.7" r="0.9"/><circle cx="445.0" cy="120.3" r="0.9"/><circle cx="437.0" cy="126.7" r="0.9"/><circle cx="442.9" cy="137.3" r="0.9"/><circle cx="445.1" cy="136.1" r="0.9"/><circle cx="444.6" cy="143.5" r="0.9"/><circle cx="445.6" cy="121.0" r="0.9"/><circle cx="447.9" cy="140.8" r="0.9"/><circle cx="448.4" cy="122.7" r="0.9"/><circle cx="438.2" cy="137.1" r="0.9"/><circle cx="442.4" cy="117.2" r="0.9"/><circle cx="441.3" cy="118.8" r="0.9"/><circle cx="442.6" cy="124.6" r="0.9"/><circle cx="446.8" cy="130.4" r="0.9"/><circle cx="448.0" cy="115.6" r="0.9"/><circle cx="441.8" cy="120.7" r="0.9"/><circle cx="445.7" cy="119.7" r="0.9"/><circle cx="438.3" cy="128.6" r="0.9"/><circle cx="446.7" cy="138.9" r="0.9"/><circle cx="439.4" cy="127.5" r="0.9"/><circle cx="444.7" cy="115.6" r="0.9"/><circle cx="441.2" cy="134.2" r="0.9"/><circle cx="444.7" cy="122.4" r="0.9"/><circle cx="447.9" cy="127.2" r="0.9"/><circle cx="447.9" cy="116.6" r="0.9"/><circle cx="435.0" cy="130.5" r="0.9"/><circle cx="435.2" cy="138.7" r="0.9"/><circle cx="440.6" cy="123.7" r="0.9"/><circle cx="437.0" cy="137.8" r="0.9"/><circle cx="444.4" cy="122.0" r="0.9"/><circle cx="441.4" cy="137.0" r="0.9"/><circle cx="447.1" cy="116.4" r="0.9"/><circle cx="438.7" cy="120.6" r="0.9"/><circle cx="436.9" cy="128.3" r="0.9"/><circle cx="435.2" cy="138.0" r="0.9"/><circle cx="440.4" cy="140.7" r="0.9"/><circle cx="449.9" cy="132.0" r="0.9"/><circle cx="444.4" cy="143.4" r="0.9"/><circle cx="449.6" cy="140.6" r="0.9"/><circle cx="437.2" cy="124.7" r="0.9"/><circle cx="439.5" cy="124.3" r="0.9"/><circle cx="440.2" cy="134.2" r="0.9"/><circle cx="450.4" cy="138.3" r="0.9"/><circle cx="447.0" cy="138.3" r="0.9"/><circle cx="445.5" cy="125.2" r="0.9"/><circle cx="443.0" cy="123.7" r="0.9"/><circle cx="449.0" cy="124.0" r="0.9"/><circle cx="449.5" cy="141.6" r="0.9"/><circle cx="445.9" cy="134.7" r="0.9"/><circle cx="443.2" cy="127.8" r="0.9"/><circle cx="438.7" cy="139.3" r="0.9"/><circle cx="448.2" cy="142.3" r="0.9"/><circle cx="448.5" cy="119.8" r="0.9"/><circle cx="447.3" cy="118.8" r="0.9"/><circle cx="441.3" cy="126.0" r="0.9"/><circle cx="438.1" cy="134.0" r="0.9"/><circle cx="450.7" cy="137.6" r="0.9"/><circle cx="438.1" cy="142.5" r="0.9"/><circle cx="443.7" cy="115.6" r="0.9"/><circle cx="444.0" cy="140.9" r="0.9"/><circle cx="442.5" cy="128.8" r="0.9"/><circle cx="440.4" cy="142.7" r="0.9"/><circle cx="445.7" cy="119.2" r="0.9"/><circle cx="439.2" cy="124.6" r="0.9"/><circle cx="440.7" cy="137.0" r="0.9"/><circle cx="442.7" cy="140.6" r="0.9"/><circle cx="448.3" cy="124.4" r="0.9"/><circle cx="436.2" cy="138.0" r="0.9"/><circle cx="448.6" cy="119.6" r="0.9"/><circle cx="440.7" cy="125.2" r="0.9"/><circle cx="438.5" cy="137.5" r="0.9"/><circle cx="435.5" cy="131.0" r="0.9"/><circle cx="442.2" cy="135.3" r="0.9"/><circle cx="448.4" cy="118.3" r="0.9"/><circle cx="447.7" cy="142.3" r="0.9"/><circle cx="442.2" cy="143.4" r="0.9"/><circle cx="442.4" cy="144.5" r="0.9"/><circle cx="443.4" cy="116.9" r="0.9"/><circle cx="444.9" cy="140.0" r="0.9"/><circle cx="440.5" cy="133.0" r="0.9"/><circle cx="440.5" cy="129.9" r="0.9"/><circle cx="446.8" cy="138.1" r="0.9"/><circle cx="442.5" cy="118.0" r="0.9"/><circle cx="444.3" cy="143.5" r="0.9"/><circle cx="435.8" cy="132.4" r="0.9"/><circle cx="446.9" cy="138.1" r="0.9"/><circle cx="446.7" cy="136.8" r="0.9"/><circle cx="437.3" cy="141.2" r="0.9"/><circle cx="448.5" cy="135.6" r="0.9"/><circle cx="438.7" cy="138.7" r="0.9"/><circle cx="444.7" cy="122.5" r="0.9"/><circle cx="438.2" cy="129.6" r="0.9"/><circle cx="435.4" cy="128.7" r="0.9"/><circle cx="441.5" cy="118.8" r="0.9"/><circle cx="444.1" cy="117.0" r="0.9"/><circle cx="440.1" cy="124.3" r="0.9"/><circle cx="440.6" cy="124.2" r="0.9"/><circle cx="446.2" cy="125.6" r="0.9"/><circle cx="449.6" cy="137.4" r="0.9"/><circle cx="439.1" cy="133.9" r="0.9"/><circle cx="440.7" cy="122.3" r="0.9"/><circle cx="443.3" cy="135.1" r="0.9"/><circle cx="449.6" cy="139.6" r="0.9"/><circle cx="444.1" cy="135.6" r="0.9"/><circle cx="443.2" cy="126.0" r="0.9"/><circle cx="441.7" cy="129.2" r="0.9"/><circle cx="439.2" cy="143.2" r="0.9"/><circle cx="439.0" cy="130.5" r="0.9"/><circle cx="441.7" cy="123.5" r="0.9"/><circle cx="439.7" cy="133.2" r="0.9"/><circle cx="448.2" cy="121.0" r="0.9"/><circle cx="439.4" cy="125.5" r="0.9"/><circle cx="439.2" cy="143.9" r="0.9"/><circle cx="443.0" cy="121.6" r="0.9"/><circle cx="438.6" cy="140.7" r="0.9"/><circle cx="434.9" cy="136.0" r="0.9"/><circle cx="447.1" cy="137.1" r="0.9"/><circle cx="443.2" cy="144.2" r="0.9"/><circle cx="440.7" cy="118.7" r="0.9"/><circle cx="447.4" cy="142.0" r="0.9"/><circle cx="450.1" cy="138.3" r="0.9"/><circle cx="446.6" cy="134.0" r="0.9"/><circle cx="435.4" cy="133.2" r="0.9"/><circle cx="440.8" cy="125.6" r="0.9"/><circle cx="446.5" cy="118.0" r="0.9"/><circle cx="439.0" cy="137.7" r="0.9"/><circle cx="440.9" cy="139.6" r="0.9"/><circle cx="443.8" cy="127.7" r="0.9"/><circle cx="450.3" cy="132.9" r="0.9"/></g>
<polygon points="433.0,136.3 436.0,130.0 440.0,136.0 438.0,143.0 436.4,143.2" fill="#C6C6C6" stroke="none" stroke-width="0" stroke-linejoin="round" fill-opacity="0.7"/>
<g fill="#D4A098"><circle cx="506.6" cy="113.0" r="0.8"/><circle cx="518.7" cy="117.0" r="0.8"/><circle cx="502.5" cy="107.7" r="0.8"/><circle cx="507.5" cy="120.1" r="0.8"/><circle cx="516.0" cy="115.9" r="0.8"/><circle cx="508.2" cy="119.6" r="0.8"/><circle cx="511.5" cy="121.0" r="0.8"/><circle cx="512.4" cy="111.1" r="0.8"/><circle cx="507.4" cy="110.0" r="0.8"/><circle cx="518.5" cy="122.5" r="0.8"/><circle cx="516.1" cy="123.2" r="0.8"/><circle cx="506.2" cy="121.7" r="0.8"/><circle cx="505.0" cy="118.2" r="0.8"/><circle cx="502.8" cy="124.1" r="0.8"/><circle cx="509.8" cy="110.1" r="0.8"/><circle cx="502.6" cy="121.8" r="0.8"/><circle cx="511.5" cy="125.3" r="0.8"/><circle cx="511.8" cy="113.8" r="0.8"/><circle cx="517.8" cy="114.1" r="0.8"/><circle cx="514.8" cy="119.1" r="0.8"/><circle cx="501.5" cy="115.4" r="0.8"/><circle cx="513.2" cy="110.2" r="0.8"/></g>
<g fill="#C6C6C6"><circle cx="595.3" cy="62.5" r="0.85"/><circle cx="596.7" cy="34.0" r="0.85"/><circle cx="605.0" cy="35.6" r="0.85"/><circle cx="601.6" cy="50.2" r="0.85"/><circle cx="590.0" cy="77.8" r="0.85"/><circle cx="596.4" cy="56.0" r="0.85"/><circle cx="588.1" cy="58.0" r="0.85"/><circle cx="592.6" cy="36.8" r="0.85"/><circle cx="606.1" cy="42.3" r="0.85"/><circle cx="601.4" cy="60.1" r="0.85"/><circle cx="608.1" cy="54.4" r="0.85"/><circle cx="585.5" cy="84.1" r="0.85"/><circle cx="604.8" cy="41.1" r="0.85"/><circle cx="587.3" cy="69.6" r="0.85"/><circle cx="599.1" cy="52.0" r="0.85"/><circle cx="596.6" cy="57.6" r="0.85"/><circle cx="590.5" cy="49.7" r="0.85"/><circle cx="600.2" cy="36.7" r="0.85"/><circle cx="609.1" cy="49.7" r="0.85"/><circle cx="598.9" cy="46.3" r="0.85"/><circle cx="601.4" cy="62.0" r="0.85"/><circle cx="601.5" cy="60.7" r="0.85"/><circle cx="593.3" cy="64.6" r="0.85"/><circle cx="599.1" cy="39.5" r="0.85"/><circle cx="597.7" cy="33.9" r="0.85"/><circle cx="587.9" cy="78.9" r="0.85"/><circle cx="585.5" cy="85.2" r="0.85"/><circle cx="598.0" cy="46.9" r="0.85"/><circle cx="593.4" cy="68.2" r="0.85"/><circle cx="602.1" cy="36.7" r="0.85"/><circle cx="587.3" cy="58.2" r="0.85"/><circle cx="599.7" cy="61.8" r="0.85"/><circle cx="594.9" cy="60.7" r="0.85"/><circle cx="595.2" cy="41.4" r="0.85"/><circle cx="605.2" cy="41.7" r="0.85"/><circle cx="607.2" cy="41.7" r="0.85"/><circle cx="585.3" cy="56.6" r="0.85"/><circle cx="594.1" cy="47.6" r="0.85"/><circle cx="605.5" cy="40.5" r="0.85"/><circle cx="596.1" cy="58.2" r="0.85"/><circle cx="595.2" cy="45.9" r="0.85"/><circle cx="591.7" cy="46.9" r="0.85"/><circle cx="595.4" cy="37.0" r="0.85"/><circle cx="597.8" cy="37.1" r="0.85"/><circle cx="602.6" cy="53.8" r="0.85"/><circle cx="602.3" cy="32.3" r="0.85"/><circle cx="589.2" cy="51.6" r="0.85"/><circle cx="592.5" cy="43.3" r="0.85"/><circle cx="602.6" cy="40.5" r="0.85"/><circle cx="595.4" cy="36.3" r="0.85"/><circle cx="585.5" cy="58.1" r="0.85"/><circle cx="597.2" cy="38.7" r="0.85"/><circle cx="602.6" cy="57.7" r="0.85"/><circle cx="606.8" cy="44.9" r="0.85"/><circle cx="596.7" cy="35.4" r="0.85"/><circle cx="597.0" cy="34.5" r="0.85"/><circle cx="592.9" cy="70.3" r="0.85"/><circle cx="587.2" cy="81.4" r="0.85"/><circle cx="593.9" cy="68.8" r="0.85"/><circle cx="588.4" cy="59.2" r="0.85"/><circle cx="597.0" cy="47.8" r="0.85"/><circle cx="593.7" cy="58.7" r="0.85"/><circle cx="600.1" cy="40.5" r="0.85"/><circle cx="590.8" cy="58.2" r="0.85"/><circle cx="597.6" cy="52.9" r="0.85"/><circle cx="602.4" cy="38.2" r="0.85"/><circle cx="598.5" cy="43.9" r="0.85"/><circle cx="605.9" cy="59.1" r="0.85"/><circle cx="597.8" cy="50.1" r="0.85"/><circle cx="591.2" cy="51.8" r="0.85"/><circle cx="588.9" cy="55.0" r="0.85"/><circle cx="593.2" cy="45.8" r="0.85"/><circle cx="604.5" cy="39.6" r="0.85"/><circle cx="589.5" cy="75.9" r="0.85"/><circle cx="606.6" cy="40.9" r="0.85"/><circle cx="597.1" cy="49.8" r="0.85"/><circle cx="590.6" cy="57.2" r="0.85"/><circle cx="595.7" cy="53.0" r="0.85"/><circle cx="608.1" cy="47.4" r="0.85"/><circle cx="595.3" cy="38.6" r="0.85"/><circle cx="605.7" cy="50.1" r="0.85"/><circle cx="586.1" cy="83.4" r="0.85"/><circle cx="595.7" cy="51.5" r="0.85"/><circle cx="600.4" cy="42.6" r="0.85"/><circle cx="592.5" cy="69.3" r="0.85"/><circle cx="601.2" cy="38.4" r="0.85"/><circle cx="600.8" cy="45.0" r="0.85"/><circle cx="588.5" cy="80.4" r="0.85"/><circle cx="600.1" cy="62.7" r="0.85"/><circle cx="592.3" cy="67.1" r="0.85"/><circle cx="600.6" cy="58.6" r="0.85"/><circle cx="591.8" cy="52.7" r="0.85"/><circle cx="589.7" cy="80.5" r="0.85"/><circle cx="589.8" cy="63.5" r="0.85"/><circle cx="590.6" cy="75.4" r="0.85"/><circle cx="589.3" cy="65.9" r="0.85"/><circle cx="599.0" cy="50.9" r="0.85"/><circle cx="590.3" cy="73.9" r="0.85"/><circle cx="593.6" cy="53.8" r="0.85"/><circle cx="597.7" cy="44.7" r="0.85"/><circle cx="603.6" cy="59.0" r="0.85"/><circle cx="597.8" cy="57.6" r="0.85"/><circle cx="588.8" cy="81.8" r="0.85"/><circle cx="593.2" cy="47.6" r="0.85"/><circle cx="600.9" cy="62.0" r="0.85"/><circle cx="598.5" cy="47.1" r="0.85"/><circle cx="592.7" cy="52.8" r="0.85"/><circle cx="594.6" cy="36.7" r="0.85"/><circle cx="595.9" cy="52.1" r="0.85"/><circle cx="589.5" cy="76.3" r="0.85"/><circle cx="602.8" cy="57.8" r="0.85"/><circle cx="596.7" cy="38.9" r="0.85"/><circle cx="587.7" cy="67.2" r="0.85"/><circle cx="603.3" cy="42.8" r="0.85"/><circle cx="601.8" cy="35.1" r="0.85"/><circle cx="600.9" cy="37.3" r="0.85"/><circle cx="597.8" cy="46.3" r="0.85"/><circle cx="599.0" cy="34.9" r="0.85"/><circle cx="597.0" cy="65.3" r="0.85"/><circle cx="602.9" cy="60.9" r="0.85"/><circle cx="599.6" cy="40.5" r="0.85"/><circle cx="593.4" cy="54.8" r="0.85"/><circle cx="602.1" cy="33.2" r="0.85"/><circle cx="604.3" cy="43.4" r="0.85"/><circle cx="603.2" cy="60.1" r="0.85"/><circle cx="609.5" cy="47.8" r="0.85"/><circle cx="601.2" cy="34.1" r="0.85"/><circle cx="587.3" cy="44.9" r="0.85"/><circle cx="606.4" cy="44.2" r="0.85"/><circle cx="604.5" cy="40.8" r="0.85"/><circle cx="585.2" cy="84.8" r="0.85"/><circle cx="603.5" cy="55.7" r="0.85"/><circle cx="606.1" cy="55.2" r="0.85"/><circle cx="590.9" cy="73.4" r="0.85"/><circle cx="607.4" cy="42.1" r="0.85"/><circle cx="603.4" cy="51.5" r="0.85"/><circle cx="597.8" cy="58.1" r="0.85"/><circle cx="593.2" cy="39.7" r="0.85"/><circle cx="602.2" cy="52.1" r="0.85"/><circle cx="598.2" cy="36.2" r="0.85"/><circle cx="588.4" cy="72.0" r="0.85"/><circle cx="601.6" cy="56.9" r="0.85"/><circle cx="593.8" cy="63.0" r="0.85"/><circle cx="589.0" cy="54.1" r="0.85"/><circle cx="590.1" cy="78.8" r="0.85"/><circle cx="601.3" cy="34.4" r="0.85"/><circle cx="605.8" cy="44.9" r="0.85"/><circle cx="597.8" cy="35.9" r="0.85"/><circle cx="589.1" cy="81.1" r="0.85"/><circle cx="594.1" cy="35.9" r="0.85"/><circle cx="588.0" cy="62.9" r="0.85"/><circle cx="588.2" cy="56.4" r="0.85"/><circle cx="598.6" cy="54.2" r="0.85"/><circle cx="598.6" cy="40.2" r="0.85"/><circle cx="605.9" cy="45.8" r="0.85"/><circle cx="604.3" cy="40.9" r="0.85"/><circle cx="593.6" cy="56.7" r="0.85"/><circle cx="603.2" cy="36.2" r="0.85"/><circle cx="585.5" cy="79.4" r="0.85"/><circle cx="597.2" cy="42.3" r="0.85"/><circle cx="591.5" cy="55.6" r="0.85"/><circle cx="594.3" cy="46.2" r="0.85"/><circle cx="584.7" cy="86.2" r="0.85"/><circle cx="597.9" cy="54.3" r="0.85"/><circle cx="607.4" cy="56.5" r="0.85"/><circle cx="587.8" cy="52.1" r="0.85"/><circle cx="609.2" cy="52.2" r="0.85"/><circle cx="602.3" cy="61.8" r="0.85"/><circle cx="596.3" cy="62.7" r="0.85"/><circle cx="589.9" cy="61.6" r="0.85"/><circle cx="607.8" cy="56.1" r="0.85"/><circle cx="588.6" cy="67.0" r="0.85"/><circle cx="592.2" cy="64.1" r="0.85"/><circle cx="602.6" cy="44.6" r="0.85"/><circle cx="606.2" cy="45.8" r="0.85"/><circle cx="584.5" cy="85.5" r="0.85"/><circle cx="593.6" cy="37.8" r="0.85"/><circle cx="594.3" cy="58.1" r="0.85"/><circle cx="594.9" cy="34.2" r="0.85"/><circle cx="598.2" cy="45.4" r="0.85"/><circle cx="595.6" cy="40.9" r="0.85"/><circle cx="598.1" cy="53.3" r="0.85"/><circle cx="589.6" cy="61.8" r="0.85"/><circle cx="591.6" cy="63.4" r="0.85"/><circle cx="591.5" cy="71.6" r="0.85"/><circle cx="586.3" cy="56.3" r="0.85"/><circle cx="598.0" cy="35.1" r="0.85"/><circle cx="607.1" cy="52.8" r="0.85"/><circle cx="590.1" cy="41.7" r="0.85"/><circle cx="604.1" cy="44.0" r="0.85"/></g>
<g fill="#C6C6C6"><circle cx="597.9" cy="45.7" r="0.9"/><circle cx="596.8" cy="47.3" r="0.9"/><circle cx="599.6" cy="47.6" r="0.9"/><circle cx="593.7" cy="53.4" r="0.9"/><circle cx="597.9" cy="46.4" r="0.9"/><circle cx="598.1" cy="54.7" r="0.9"/><circle cx="595.6" cy="49.5" r="0.9"/><circle cx="605.5" cy="47.2" r="0.9"/><circle cx="593.4" cy="56.3" r="0.9"/><circle cx="600.1" cy="46.0" r="0.9"/><circle cx="603.9" cy="52.0" r="0.9"/><circle cx="591.8" cy="46.9" r="0.9"/><circle cx="600.2" cy="45.8" r="0.9"/><circle cx="597.3" cy="54.6" r="0.9"/><circle cx="600.8" cy="54.2" r="0.9"/><circle cx="596.6" cy="48.9" r="0.9"/><circle cx="601.7" cy="55.1" r="0.9"/><circle cx="600.9" cy="49.3" r="0.9"/><circle cx="599.3" cy="51.3" r="0.9"/><circle cx="604.4" cy="46.6" r="0.9"/><circle cx="602.6" cy="54.7" r="0.9"/><circle cx="605.2" cy="47.1" r="0.9"/><circle cx="603.5" cy="50.6" r="0.9"/><circle cx="594.4" cy="48.8" r="0.9"/><circle cx="603.7" cy="56.8" r="0.9"/><circle cx="604.5" cy="53.9" r="0.9"/><circle cx="591.7" cy="45.1" r="0.9"/><circle cx="599.3" cy="46.1" r="0.9"/><circle cx="592.7" cy="56.9" r="0.9"/><circle cx="594.8" cy="56.9" r="0.9"/><circle cx="594.2" cy="47.0" r="0.9"/><circle cx="596.8" cy="49.0" r="0.9"/><circle cx="599.6" cy="51.1" r="0.9"/><circle cx="593.2" cy="47.4" r="0.9"/><circle cx="603.9" cy="54.3" r="0.9"/><circle cx="598.9" cy="56.3" r="0.9"/><circle cx="591.4" cy="51.7" r="0.9"/><circle cx="593.6" cy="49.3" r="0.9"/><circle cx="592.1" cy="54.5" r="0.9"/><circle cx="599.4" cy="55.7" r="0.9"/><circle cx="600.4" cy="52.7" r="0.9"/><circle cx="599.3" cy="48.0" r="0.9"/><circle cx="600.8" cy="53.8" r="0.9"/><circle cx="597.0" cy="50.4" r="0.9"/><circle cx="602.9" cy="47.9" r="0.9"/><circle cx="603.9" cy="46.7" r="0.9"/><circle cx="601.5" cy="57.7" r="0.9"/><circle cx="590.9" cy="44.8" r="0.9"/><circle cx="597.9" cy="48.2" r="0.9"/><circle cx="597.0" cy="56.0" r="0.9"/><circle cx="600.5" cy="45.4" r="0.9"/><circle cx="596.4" cy="56.9" r="0.9"/><circle cx="603.3" cy="52.5" r="0.9"/><circle cx="593.0" cy="47.7" r="0.9"/><circle cx="597.8" cy="49.2" r="0.9"/><circle cx="600.8" cy="51.1" r="0.9"/><circle cx="594.6" cy="52.8" r="0.9"/><circle cx="596.5" cy="56.7" r="0.9"/><circle cx="604.4" cy="52.5" r="0.9"/><circle cx="595.8" cy="46.9" r="0.9"/><circle cx="598.8" cy="48.9" r="0.9"/><circle cx="597.8" cy="49.4" r="0.9"/><circle cx="603.7" cy="52.7" r="0.9"/><circle cx="605.2" cy="53.8" r="0.9"/><circle cx="604.2" cy="57.7" r="0.9"/><circle cx="593.2" cy="52.3" r="0.9"/><circle cx="595.7" cy="47.5" r="0.9"/><circle cx="603.0" cy="53.0" r="0.9"/><circle cx="594.8" cy="51.7" r="0.9"/><circle cx="605.9" cy="52.1" r="0.9"/><circle cx="597.2" cy="51.9" r="0.9"/><circle cx="600.3" cy="50.6" r="0.9"/><circle cx="600.6" cy="51.6" r="0.9"/><circle cx="600.8" cy="56.1" r="0.9"/><circle cx="593.0" cy="49.0" r="0.9"/><circle cx="592.8" cy="54.5" r="0.9"/><circle cx="598.5" cy="52.8" r="0.9"/><circle cx="594.7" cy="52.5" r="0.9"/><circle cx="598.3" cy="49.1" r="0.9"/><circle cx="595.1" cy="56.2" r="0.9"/><circle cx="591.8" cy="52.0" r="0.9"/><circle cx="596.0" cy="51.8" r="0.9"/><circle cx="594.8" cy="45.1" r="0.9"/><circle cx="591.0" cy="47.7" r="0.9"/><circle cx="601.8" cy="52.4" r="0.9"/><circle cx="604.1" cy="56.5" r="0.9"/><circle cx="603.9" cy="46.4" r="0.9"/><circle cx="603.1" cy="55.6" r="0.9"/><circle cx="600.5" cy="56.7" r="0.9"/><circle cx="594.5" cy="54.1" r="0.9"/></g>
<polygon points="571.5,92.3 577.6,89.2 585.3,89.2 591.4,90.7 592.9,99.9 596.0,109.1 597.5,118.3 594.5,122.9 588.3,124.5 580.7,121.4 574.5,115.3 571.5,107.6 570.7,98.4" fill="#C6C6C6" stroke="none" stroke-width="0" stroke-linejoin="round"/>
<g fill="#C6C6C6"><circle cx="584.1" cy="88.1" r="0.8"/><circle cx="574.3" cy="91.6" r="0.8"/><circle cx="570.7" cy="95.7" r="0.8"/><circle cx="594.1" cy="87.6" r="0.8"/><circle cx="588.1" cy="93.3" r="0.8"/><circle cx="570.3" cy="94.6" r="0.8"/><circle cx="590.3" cy="88.5" r="0.8"/><circle cx="590.4" cy="90.6" r="0.8"/><circle cx="591.8" cy="86.6" r="0.8"/><circle cx="593.8" cy="86.6" r="0.8"/><circle cx="569.3" cy="93.2" r="0.8"/><circle cx="579.2" cy="90.3" r="0.8"/><circle cx="574.0" cy="94.8" r="0.8"/><circle cx="583.0" cy="93.6" r="0.8"/><circle cx="589.4" cy="87.3" r="0.8"/><circle cx="593.3" cy="92.8" r="0.8"/><circle cx="581.4" cy="89.4" r="0.8"/><circle cx="580.4" cy="91.9" r="0.8"/><circle cx="593.2" cy="87.8" r="0.8"/><circle cx="582.1" cy="94.5" r="0.8"/><circle cx="571.4" cy="90.1" r="0.8"/><circle cx="594.2" cy="89.4" r="0.8"/><circle cx="570.3" cy="92.8" r="0.8"/><circle cx="587.0" cy="88.5" r="0.8"/><circle cx="582.5" cy="88.2" r="0.8"/><circle cx="580.3" cy="90.6" r="0.8"/><circle cx="595.1" cy="92.8" r="0.8"/><circle cx="593.5" cy="89.9" r="0.8"/><circle cx="578.1" cy="95.3" r="0.8"/><circle cx="573.1" cy="94.3" r="0.8"/></g>
<polygon points="557.7,136.7 563.8,132.1 569.9,127.5 573.0,126.0 577.6,130.6 576.1,136.7 573.0,144.4 571.5,150.5 565.3,152.0 559.2,145.9 556.9,141.3" fill="#C6C6C6" stroke="none" stroke-width="0" stroke-linejoin="round"/>
<polygon points="565.0,138.0 573.0,138.0 572.0,146.0 566.0,146.0" fill="#fff" stroke="none" stroke-width="0" stroke-linejoin="round"/>
<g fill="#C6C6C6"><circle cx="573.7" cy="125.8" r="0.8"/><circle cx="572.6" cy="125.9" r="0.8"/><circle cx="574.9" cy="126.3" r="0.8"/><circle cx="572.4" cy="125.9" r="0.8"/><circle cx="575.0" cy="127.6" r="0.8"/><circle cx="573.2" cy="123.8" r="0.8"/><circle cx="572.0" cy="126.9" r="0.8"/><circle cx="574.7" cy="123.2" r="0.8"/><circle cx="572.3" cy="130.7" r="0.8"/><circle cx="574.4" cy="127.4" r="0.8"/><circle cx="577.5" cy="124.4" r="0.8"/><circle cx="575.7" cy="123.4" r="0.8"/><circle cx="575.4" cy="124.1" r="0.8"/><circle cx="573.4" cy="123.5" r="0.8"/><circle cx="576.4" cy="125.0" r="0.8"/></g>
<polygon points="596.0,109.1 602.1,106.1 605.2,95.3 611.3,96.9 615.9,98.4 617.4,93.8 623.6,89.2 629.7,89.2 631.2,96.9 629.7,104.5 637.4,107.6 643.5,113.7 646.6,122.9 645.0,130.6 638.9,138.2 637.4,144.4 629.7,150.5 622.0,156.6 611.3,159.7 602.1,156.6 592.9,150.5 591.4,138.2 592.9,129.1 597.5,118.3" fill="#C6C6C6" stroke="none" stroke-width="0" stroke-linejoin="round"/>
<polygon points="611.0,92.0 616.5,92.0 618.0,99.0 616.0,105.0 612.0,103.0" fill="#fff" stroke="none" stroke-width="0" stroke-linejoin="round"/>
<g fill="#fff"><circle cx="611.2" cy="105.7" r="0.6"/><circle cx="609.3" cy="103.2" r="0.6"/><circle cx="608.2" cy="100.8" r="0.6"/><circle cx="607.9" cy="106.2" r="0.6"/><circle cx="604.3" cy="108.6" r="0.6"/><circle cx="611.9" cy="107.9" r="0.6"/><circle cx="610.1" cy="102.1" r="0.6"/><circle cx="604.3" cy="107.0" r="0.6"/><circle cx="605.1" cy="107.2" r="0.6"/><circle cx="605.7" cy="107.6" r="0.6"/><circle cx="608.4" cy="108.3" r="0.6"/><circle cx="608.0" cy="103.2" r="0.6"/></g>
<g fill="#C6C6C6"><circle cx="610.7" cy="93.9" r="0.8"/><circle cx="604.0" cy="101.8" r="0.8"/><circle cx="608.1" cy="101.3" r="0.8"/><circle cx="604.6" cy="99.8" r="0.8"/><circle cx="610.7" cy="99.3" r="0.8"/><circle cx="606.8" cy="101.0" r="0.8"/><circle cx="609.5" cy="92.0" r="0.8"/><circle cx="607.9" cy="98.7" r="0.8"/><circle cx="610.2" cy="91.9" r="0.8"/><circle cx="605.2" cy="94.3" r="0.8"/><circle cx="610.3" cy="98.3" r="0.8"/><circle cx="604.5" cy="97.3" r="0.8"/><circle cx="604.7" cy="103.5" r="0.8"/><circle cx="610.5" cy="100.3" r="0.8"/><circle cx="608.2" cy="92.8" r="0.8"/><circle cx="605.4" cy="91.9" r="0.8"/><circle cx="603.7" cy="92.8" r="0.8"/><circle cx="608.4" cy="96.1" r="0.8"/><circle cx="605.2" cy="97.4" r="0.8"/><circle cx="611.0" cy="98.1" r="0.8"/></g>
<polygon points="543.0,70.0 546.0,68.0 548.0,72.0 547.0,78.0 543.0,78.0" fill="#C6C6C6" stroke="none" stroke-width="0" stroke-linejoin="round"/>
<g fill="#C6C6C6"><circle cx="668.3" cy="72.1" r="0.8"/><circle cx="668.5" cy="77.8" r="0.8"/><circle cx="666.7" cy="78.1" r="0.8"/><circle cx="667.6" cy="79.3" r="0.8"/><circle cx="670.3" cy="73.7" r="0.8"/><circle cx="668.4" cy="74.9" r="0.8"/><circle cx="671.5" cy="68.7" r="0.8"/><circle cx="668.1" cy="77.5" r="0.8"/><circle cx="668.6" cy="75.2" r="0.8"/><circle cx="666.5" cy="78.9" r="0.8"/><circle cx="668.7" cy="76.1" r="0.8"/><circle cx="667.8" cy="73.7" r="0.8"/><circle cx="667.8" cy="76.0" r="0.8"/><circle cx="667.5" cy="74.1" r="0.8"/><circle cx="669.4" cy="72.7" r="0.8"/><circle cx="668.2" cy="73.1" r="0.8"/><circle cx="665.8" cy="80.1" r="0.8"/><circle cx="670.2" cy="74.5" r="0.8"/></g>
<circle cx="667.0" cy="75.0" r="0.90" fill="#E84030"/>
<g fill="#EE3322" fill-opacity="0.8"><circle cx="643.1" cy="119.4" r="0.75"/><circle cx="640.0" cy="117.3" r="0.75"/><circle cx="642.9" cy="116.8" r="0.75"/><circle cx="641.8" cy="130.0" r="0.75"/><circle cx="639.6" cy="127.4" r="0.75"/><circle cx="640.8" cy="133.5" r="0.75"/><circle cx="641.5" cy="124.8" r="0.75"/><circle cx="643.5" cy="117.2" r="0.75"/><circle cx="638.3" cy="111.4" r="0.75"/><circle cx="640.6" cy="124.7" r="0.75"/><circle cx="645.7" cy="121.9" r="0.75"/><circle cx="640.2" cy="123.8" r="0.75"/><circle cx="640.4" cy="129.1" r="0.75"/><circle cx="639.3" cy="115.1" r="0.75"/><circle cx="641.8" cy="132.5" r="0.75"/><circle cx="639.4" cy="113.2" r="0.75"/><circle cx="639.1" cy="113.8" r="0.75"/><circle cx="640.9" cy="118.7" r="0.75"/><circle cx="644.5" cy="118.9" r="0.75"/><circle cx="642.1" cy="118.7" r="0.75"/><circle cx="641.7" cy="132.9" r="0.75"/><circle cx="642.5" cy="126.4" r="0.75"/><circle cx="641.3" cy="115.3" r="0.75"/><circle cx="641.1" cy="126.9" r="0.75"/><circle cx="642.0" cy="122.2" r="0.75"/><circle cx="639.8" cy="112.8" r="0.75"/><circle cx="640.9" cy="126.4" r="0.75"/><circle cx="644.1" cy="119.7" r="0.75"/><circle cx="638.6" cy="115.0" r="0.75"/><circle cx="639.8" cy="130.2" r="0.75"/><circle cx="642.7" cy="116.8" r="0.75"/><circle cx="640.1" cy="115.9" r="0.75"/><circle cx="640.4" cy="117.4" r="0.75"/><circle cx="644.8" cy="129.3" r="0.75"/><circle cx="638.4" cy="112.4" r="0.75"/><circle cx="640.2" cy="122.3" r="0.75"/><circle cx="645.1" cy="123.8" r="0.75"/><circle cx="641.7" cy="114.5" r="0.75"/><circle cx="643.6" cy="117.6" r="0.75"/><circle cx="638.9" cy="113.4" r="0.75"/><circle cx="643.5" cy="126.4" r="0.75"/><circle cx="640.4" cy="115.4" r="0.75"/><circle cx="638.4" cy="124.5" r="0.75"/><circle cx="641.0" cy="113.0" r="0.75"/><circle cx="641.7" cy="133.1" r="0.75"/><circle cx="640.1" cy="112.4" r="0.75"/><circle cx="643.4" cy="125.7" r="0.75"/><circle cx="642.4" cy="112.8" r="0.75"/><circle cx="639.5" cy="114.5" r="0.75"/><circle cx="642.4" cy="120.9" r="0.75"/><circle cx="642.8" cy="127.6" r="0.75"/><circle cx="645.7" cy="120.6" r="0.75"/><circle cx="638.2" cy="116.6" r="0.75"/><circle cx="639.2" cy="124.3" r="0.75"/><circle cx="640.5" cy="131.0" r="0.75"/><circle cx="643.9" cy="129.4" r="0.75"/><circle cx="641.5" cy="112.2" r="0.75"/><circle cx="643.7" cy="116.6" r="0.75"/><circle cx="639.2" cy="112.4" r="0.75"/><circle cx="641.3" cy="122.9" r="0.75"/><circle cx="642.7" cy="118.9" r="0.75"/><circle cx="640.8" cy="133.2" r="0.75"/><circle cx="644.6" cy="122.5" r="0.75"/><circle cx="644.8" cy="123.5" r="0.75"/><circle cx="639.0" cy="114.9" r="0.75"/><circle cx="640.8" cy="119.0" r="0.75"/><circle cx="644.1" cy="129.5" r="0.75"/><circle cx="640.7" cy="111.9" r="0.75"/><circle cx="644.5" cy="126.7" r="0.75"/><circle cx="641.2" cy="117.3" r="0.75"/><circle cx="642.0" cy="129.9" r="0.75"/><circle cx="640.9" cy="116.7" r="0.75"/><circle cx="642.4" cy="128.1" r="0.75"/><circle cx="644.0" cy="118.9" r="0.75"/><circle cx="645.4" cy="128.5" r="0.75"/><circle cx="642.8" cy="117.8" r="0.75"/><circle cx="640.4" cy="131.9" r="0.75"/><circle cx="638.7" cy="113.3" r="0.75"/><circle cx="645.0" cy="122.3" r="0.75"/><circle cx="642.8" cy="122.6" r="0.75"/><circle cx="641.5" cy="123.0" r="0.75"/><circle cx="638.9" cy="111.7" r="0.75"/><circle cx="643.8" cy="125.3" r="0.75"/><circle cx="644.9" cy="126.7" r="0.75"/><circle cx="638.1" cy="114.4" r="0.75"/><circle cx="643.5" cy="128.0" r="0.95"/><circle cx="641.0" cy="124.9" r="0.95"/><circle cx="645.9" cy="127.7" r="0.95"/><circle cx="642.6" cy="124.2" r="0.95"/><circle cx="641.8" cy="130.5" r="0.95"/><circle cx="645.2" cy="126.8" r="0.95"/><circle cx="642.0" cy="127.5" r="0.95"/><circle cx="643.2" cy="128.4" r="0.95"/><circle cx="642.4" cy="129.5" r="0.95"/><circle cx="644.5" cy="123.9" r="0.95"/><circle cx="643.7" cy="128.5" r="0.95"/><circle cx="643.5" cy="130.5" r="0.95"/><circle cx="644.7" cy="124.4" r="0.95"/><circle cx="642.2" cy="127.3" r="0.95"/><circle cx="645.4" cy="122.8" r="0.95"/><circle cx="640.3" cy="119.6" r="0.95"/><circle cx="642.1" cy="121.4" r="0.95"/><circle cx="646.0" cy="128.9" r="0.95"/><circle cx="643.7" cy="123.8" r="0.95"/><circle cx="642.0" cy="125.8" r="0.95"/><circle cx="642.3" cy="130.7" r="0.95"/><circle cx="640.8" cy="122.5" r="0.95"/><circle cx="640.8" cy="123.5" r="0.95"/><circle cx="646.3" cy="120.9" r="0.95"/><circle cx="643.5" cy="121.9" r="0.95"/><circle cx="644.4" cy="125.3" r="0.95"/><circle cx="643.9" cy="121.9" r="0.95"/><circle cx="644.8" cy="127.0" r="0.95"/><circle cx="644.7" cy="124.1" r="0.95"/><circle cx="643.1" cy="121.7" r="0.95"/><circle cx="644.1" cy="120.4" r="0.95"/><circle cx="645.7" cy="129.4" r="0.95"/><circle cx="645.6" cy="128.6" r="0.95"/><circle cx="643.2" cy="120.3" r="0.95"/><circle cx="641.8" cy="127.6" r="0.95"/><circle cx="642.3" cy="125.8" r="0.95"/><circle cx="642.2" cy="129.8" r="0.95"/><circle cx="642.2" cy="122.0" r="0.95"/><circle cx="641.2" cy="130.6" r="0.95"/><circle cx="643.9" cy="128.7" r="0.95"/><circle cx="644.8" cy="130.8" r="0.95"/><circle cx="642.5" cy="131.0" r="0.95"/><circle cx="643.5" cy="130.4" r="0.95"/><circle cx="646.2" cy="121.4" r="0.95"/><circle cx="643.7" cy="122.7" r="0.95"/><circle cx="623.3" cy="155.0" r="0.5"/><circle cx="605.6" cy="147.1" r="0.5"/><circle cx="611.7" cy="130.2" r="0.5"/><circle cx="604.5" cy="139.1" r="0.5"/><circle cx="627.4" cy="95.9" r="0.5"/><circle cx="629.8" cy="113.8" r="0.5"/><circle cx="616.7" cy="145.2" r="0.5"/><circle cx="620.8" cy="108.6" r="0.5"/><circle cx="631.7" cy="136.4" r="0.5"/><circle cx="637.9" cy="118.0" r="0.5"/><circle cx="622.3" cy="149.0" r="0.5"/><circle cx="602.4" cy="149.8" r="0.5"/><circle cx="623.1" cy="99.5" r="0.5"/><circle cx="642.3" cy="120.2" r="0.5"/><circle cx="601.6" cy="118.2" r="0.5"/><circle cx="624.0" cy="119.4" r="0.5"/><circle cx="630.8" cy="98.5" r="0.5"/><circle cx="605.5" cy="146.1" r="0.5"/><circle cx="633.0" cy="131.4" r="0.5"/><circle cx="615.2" cy="105.9" r="0.5"/><circle cx="629.7" cy="96.8" r="0.5"/><circle cx="603.7" cy="120.2" r="0.5"/><circle cx="608.8" cy="122.7" r="0.5"/><circle cx="600.4" cy="117.6" r="0.5"/><circle cx="630.1" cy="112.0" r="0.5"/><circle cx="597.0" cy="133.4" r="0.5"/><circle cx="616.4" cy="153.9" r="0.5"/><circle cx="597.2" cy="141.8" r="0.5"/><circle cx="628.4" cy="115.3" r="0.5"/><circle cx="598.5" cy="132.3" r="0.5"/><circle cx="633.3" cy="122.5" r="0.5"/><circle cx="617.5" cy="137.5" r="0.5"/><circle cx="625.0" cy="119.0" r="0.5"/><circle cx="601.7" cy="121.9" r="0.5"/><circle cx="621.8" cy="152.4" r="0.5"/><circle cx="609.5" cy="104.9" r="0.5"/><circle cx="626.2" cy="141.3" r="0.5"/><circle cx="605.1" cy="137.9" r="0.5"/><circle cx="643.2" cy="120.0" r="0.5"/><circle cx="627.4" cy="150.3" r="0.5"/><circle cx="602.6" cy="113.6" r="0.5"/><circle cx="608.3" cy="122.8" r="0.5"/><circle cx="632.5" cy="133.7" r="0.5"/><circle cx="626.3" cy="103.5" r="0.5"/><circle cx="638.7" cy="118.4" r="0.5"/><circle cx="625.6" cy="127.4" r="0.5"/><circle cx="605.9" cy="144.2" r="0.5"/><circle cx="609.1" cy="151.4" r="0.5"/><circle cx="607.9" cy="132.2" r="0.5"/><circle cx="634.4" cy="116.7" r="0.5"/><circle cx="620.3" cy="118.9" r="0.5"/><circle cx="632.0" cy="138.6" r="0.5"/><circle cx="637.3" cy="136.6" r="0.5"/><circle cx="626.2" cy="111.2" r="0.5"/><circle cx="606.1" cy="154.1" r="0.5"/><circle cx="610.2" cy="113.8" r="0.5"/><circle cx="597.6" cy="140.4" r="0.5"/><circle cx="636.1" cy="144.9" r="0.5"/><circle cx="619.9" cy="105.7" r="0.5"/><circle cx="634.0" cy="145.7" r="0.5"/><circle cx="609.3" cy="113.3" r="0.5"/><circle cx="630.1" cy="125.9" r="0.5"/><circle cx="633.7" cy="112.9" r="0.5"/><circle cx="614.2" cy="141.7" r="0.5"/><circle cx="608.5" cy="149.0" r="0.5"/><circle cx="632.1" cy="129.6" r="0.5"/><circle cx="613.9" cy="129.2" r="0.5"/><circle cx="608.6" cy="97.9" r="0.5"/><circle cx="594.1" cy="139.7" r="0.5"/><circle cx="631.8" cy="132.6" r="0.5"/><circle cx="602.8" cy="140.1" r="0.5"/><circle cx="637.0" cy="132.9" r="0.5"/><circle cx="604.0" cy="129.0" r="0.5"/><circle cx="613.2" cy="108.2" r="0.5"/><circle cx="599.6" cy="150.2" r="0.5"/><circle cx="600.9" cy="107.8" r="0.5"/><circle cx="619.5" cy="93.4" r="0.5"/><circle cx="608.1" cy="127.3" r="0.5"/><circle cx="618.0" cy="153.3" r="0.5"/><circle cx="623.3" cy="134.1" r="0.5"/><circle cx="623.7" cy="144.6" r="0.5"/><circle cx="603.7" cy="135.6" r="0.5"/><circle cx="605.7" cy="116.1" r="0.5"/><circle cx="605.8" cy="106.4" r="0.5"/><circle cx="609.3" cy="118.4" r="0.5"/><circle cx="611.3" cy="112.0" r="0.5"/><circle cx="632.2" cy="123.9" r="0.5"/><circle cx="641.1" cy="121.4" r="0.5"/><circle cx="602.7" cy="147.0" r="0.5"/><circle cx="619.1" cy="128.8" r="0.5"/><circle cx="597.9" cy="111.7" r="0.5"/><circle cx="625.5" cy="136.7" r="0.5"/><circle cx="626.1" cy="132.9" r="0.5"/><circle cx="595.6" cy="143.4" r="0.5"/><circle cx="600.9" cy="113.6" r="0.5"/><circle cx="602.5" cy="149.8" r="0.5"/><circle cx="612.5" cy="155.2" r="0.5"/><circle cx="605.8" cy="129.7" r="0.5"/><circle cx="628.6" cy="105.7" r="0.5"/><circle cx="598.9" cy="108.8" r="0.5"/><circle cx="626.7" cy="134.1" r="0.5"/><circle cx="620.4" cy="149.4" r="0.5"/><circle cx="620.9" cy="101.1" r="0.5"/><circle cx="604.7" cy="99.6" r="0.5"/><circle cx="640.3" cy="135.5" r="0.5"/><circle cx="624.1" cy="126.5" r="0.5"/><circle cx="622.6" cy="131.6" r="0.5"/><circle cx="595.8" cy="143.7" r="0.5"/><circle cx="604.7" cy="130.7" r="0.5"/><circle cx="620.6" cy="113.2" r="0.5"/><circle cx="644.6" cy="118.2" r="0.5"/><circle cx="631.0" cy="123.4" r="0.5"/><circle cx="640.0" cy="123.4" r="0.5"/><circle cx="638.6" cy="127.0" r="0.5"/><circle cx="634.8" cy="119.8" r="0.5"/><circle cx="626.0" cy="132.1" r="0.5"/><circle cx="625.7" cy="129.6" r="0.5"/><circle cx="632.7" cy="119.4" r="0.5"/><circle cx="638.4" cy="130.1" r="0.5"/><circle cx="637.4" cy="121.8" r="0.5"/><circle cx="644.5" cy="120.1" r="0.5"/><circle cx="632.2" cy="123.2" r="0.5"/><circle cx="624.5" cy="120.0" r="0.5"/><circle cx="629.1" cy="122.0" r="0.5"/><circle cx="633.8" cy="118.0" r="0.5"/><circle cx="634.5" cy="138.9" r="0.5"/><circle cx="627.3" cy="116.7" r="0.5"/><circle cx="628.3" cy="130.7" r="0.5"/><circle cx="632.8" cy="132.7" r="0.5"/><circle cx="620.1" cy="108.8" r="0.5"/><circle cx="625.4" cy="117.3" r="0.5"/><circle cx="630.4" cy="117.9" r="0.5"/><circle cx="645.1" cy="119.8" r="0.5"/><circle cx="635.0" cy="138.7" r="0.5"/><circle cx="636.7" cy="125.4" r="0.5"/><circle cx="641.5" cy="116.0" r="0.5"/><circle cx="620.9" cy="138.5" r="0.5"/><circle cx="633.9" cy="125.0" r="0.5"/><circle cx="621.7" cy="130.8" r="0.5"/><circle cx="629.7" cy="127.1" r="0.5"/><circle cx="627.4" cy="137.1" r="0.5"/><circle cx="629.6" cy="113.9" r="0.5"/><circle cx="627.0" cy="121.5" r="0.5"/><circle cx="625.5" cy="132.6" r="0.5"/><circle cx="622.0" cy="118.9" r="0.5"/><circle cx="640.4" cy="129.7" r="0.5"/><circle cx="643.1" cy="116.9" r="0.5"/><circle cx="641.2" cy="121.0" r="0.5"/><circle cx="643.2" cy="121.2" r="0.5"/><circle cx="626.7" cy="109.4" r="0.5"/><circle cx="624.3" cy="135.5" r="0.5"/><circle cx="634.9" cy="135.1" r="0.5"/><circle cx="623.9" cy="121.3" r="0.5"/><circle cx="626.8" cy="137.2" r="0.5"/><circle cx="638.8" cy="122.3" r="0.5"/><circle cx="587.0" cy="119.6" r="0.55"/><circle cx="575.1" cy="97.7" r="0.55"/><circle cx="574.4" cy="107.3" r="0.55"/><circle cx="586.3" cy="105.4" r="0.55"/><circle cx="583.3" cy="94.2" r="0.55"/><circle cx="589.9" cy="108.2" r="0.55"/><circle cx="579.0" cy="118.6" r="0.55"/><circle cx="581.1" cy="105.1" r="0.55"/><circle cx="577.6" cy="115.5" r="0.55"/><circle cx="594.5" cy="105.1" r="0.55"/><circle cx="573.5" cy="105.3" r="0.55"/><circle cx="584.6" cy="116.9" r="0.55"/><circle cx="575.7" cy="99.1" r="0.55"/><circle cx="587.1" cy="92.6" r="0.55"/><circle cx="590.8" cy="104.2" r="0.55"/><circle cx="572.0" cy="92.2" r="0.55"/><circle cx="572.7" cy="102.9" r="0.55"/><circle cx="589.9" cy="90.4" r="0.55"/><circle cx="584.5" cy="108.2" r="0.55"/><circle cx="573.3" cy="109.7" r="0.55"/><circle cx="582.7" cy="100.8" r="0.55"/><circle cx="593.0" cy="113.6" r="0.55"/><circle cx="573.9" cy="92.9" r="0.55"/><circle cx="572.1" cy="98.5" r="0.55"/><circle cx="587.8" cy="123.4" r="0.55"/><circle cx="591.1" cy="105.9" r="0.55"/><circle cx="573.9" cy="96.8" r="0.55"/><circle cx="574.2" cy="110.7" r="0.55"/><circle cx="587.4" cy="119.5" r="0.55"/><circle cx="594.7" cy="109.0" r="0.55"/><circle cx="587.0" cy="110.9" r="0.55"/><circle cx="591.4" cy="107.5" r="0.55"/><circle cx="573.8" cy="97.1" r="0.55"/><circle cx="588.2" cy="92.0" r="0.55"/><circle cx="573.6" cy="98.1" r="0.55"/><circle cx="573.4" cy="140.2" r="0.55"/><circle cx="568.9" cy="132.2" r="0.55"/><circle cx="568.6" cy="148.2" r="0.55"/><circle cx="564.5" cy="137.3" r="0.55"/><circle cx="570.1" cy="130.7" r="0.55"/><circle cx="568.9" cy="134.4" r="0.55"/><circle cx="566.7" cy="144.5" r="0.55"/><circle cx="557.3" cy="139.2" r="0.55"/><circle cx="563.4" cy="141.6" r="0.55"/><circle cx="573.9" cy="138.1" r="0.55"/><circle cx="569.9" cy="133.5" r="0.55"/><circle cx="562.2" cy="139.3" r="0.55"/><circle cx="623.6" cy="117.0" r="0.6"/><circle cx="624.3" cy="122.0" r="0.6"/><circle cx="623.1" cy="117.6" r="0.6"/><circle cx="624.5" cy="129.2" r="0.6"/><circle cx="624.8" cy="117.5" r="0.6"/><circle cx="622.2" cy="124.4" r="0.6"/><circle cx="622.1" cy="128.4" r="0.6"/><circle cx="624.0" cy="119.1" r="0.6"/><circle cx="623.3" cy="125.3" r="0.6"/><circle cx="622.5" cy="119.6" r="0.6"/><circle cx="624.4" cy="125.3" r="0.6"/><circle cx="623.8" cy="114.9" r="0.6"/><circle cx="622.7" cy="117.6" r="0.6"/><circle cx="622.1" cy="124.5" r="0.6"/><circle cx="623.7" cy="129.6" r="0.6"/><circle cx="623.7" cy="129.5" r="0.6"/><circle cx="623.4" cy="122.3" r="0.6"/><circle cx="622.8" cy="121.4" r="0.6"/></g>
<text transform="translate(556,45.1) scale(0.943,1)" font-size="10.4" text-anchor="start" fill="#111">1:Tn</text>
<text transform="translate(598.6,86.5) scale(0.943,1)" font-size="10.4" text-anchor="start" fill="#111">3:Trmp</text>
<text transform="translate(537.8,112.5) scale(0.943,1)" font-size="10.4" text-anchor="start" fill="#111">0:Tsm</text>
<text transform="translate(646.4,109) scale(0.943,1)" font-size="10.4" text-anchor="start" fill="#111">4:Trm</text>
<text transform="translate(579.7,167) scale(0.943,1)" font-size="10.4" text-anchor="start" fill="#111">2:Tint</text>
<polygon points="48.9,415.5 53.1,423.0 52.0,430.6 50.3,437.7 49.6,446.1 48.9,454.7 44.6,454.7 43.2,446.1 41.8,437.7 38.9,427.0 41.1,420.5 46.0,415.5" fill="#E4E4E4" stroke="none" stroke-width="0" stroke-linejoin="round"/>
<g fill="#C2C2C2"><circle cx="46.2" cy="434.1" r="0.55"/><circle cx="49.4" cy="439.2" r="0.55"/><circle cx="48.6" cy="435.1" r="0.55"/><circle cx="48.5" cy="448.0" r="0.55"/><circle cx="51.3" cy="428.4" r="0.55"/><circle cx="47.3" cy="421.7" r="0.55"/><circle cx="43.1" cy="420.4" r="0.55"/><circle cx="48.7" cy="441.2" r="0.55"/><circle cx="46.7" cy="453.4" r="0.55"/><circle cx="45.9" cy="417.5" r="0.55"/><circle cx="49.5" cy="421.4" r="0.55"/><circle cx="43.0" cy="441.9" r="0.55"/><circle cx="49.6" cy="433.4" r="0.55"/><circle cx="42.2" cy="431.8" r="0.55"/><circle cx="49.7" cy="423.7" r="0.55"/><circle cx="48.7" cy="416.9" r="0.55"/><circle cx="45.8" cy="450.6" r="0.55"/><circle cx="49.5" cy="440.2" r="0.55"/><circle cx="45.7" cy="442.0" r="0.55"/><circle cx="46.4" cy="421.8" r="0.55"/><circle cx="49.3" cy="419.5" r="0.55"/><circle cx="47.2" cy="435.6" r="0.55"/><circle cx="49.6" cy="434.8" r="0.55"/><circle cx="44.0" cy="437.3" r="0.55"/><circle cx="48.6" cy="439.5" r="0.55"/><circle cx="50.1" cy="425.3" r="0.55"/><circle cx="41.8" cy="431.3" r="0.55"/><circle cx="45.8" cy="437.0" r="0.55"/><circle cx="43.6" cy="442.9" r="0.55"/><circle cx="46.6" cy="435.0" r="0.55"/><circle cx="41.9" cy="423.5" r="0.55"/><circle cx="48.9" cy="428.4" r="0.55"/><circle cx="46.2" cy="418.5" r="0.55"/><circle cx="46.0" cy="454.3" r="0.55"/><circle cx="50.5" cy="429.4" r="0.55"/><circle cx="44.1" cy="432.0" r="0.55"/><circle cx="47.8" cy="436.2" r="0.55"/><circle cx="48.6" cy="417.2" r="0.55"/><circle cx="43.7" cy="434.0" r="0.55"/><circle cx="48.3" cy="416.7" r="0.55"/><circle cx="47.0" cy="445.1" r="0.55"/><circle cx="49.7" cy="437.1" r="0.55"/><circle cx="48.2" cy="442.2" r="0.55"/><circle cx="40.5" cy="428.3" r="0.55"/><circle cx="50.8" cy="426.3" r="0.55"/><circle cx="43.6" cy="430.4" r="0.55"/><circle cx="48.2" cy="432.6" r="0.55"/><circle cx="45.3" cy="454.3" r="0.55"/><circle cx="42.2" cy="436.2" r="0.55"/><circle cx="45.6" cy="420.0" r="0.55"/><circle cx="51.1" cy="432.2" r="0.55"/><circle cx="40.0" cy="425.0" r="0.55"/><circle cx="44.7" cy="445.8" r="0.55"/><circle cx="44.9" cy="431.7" r="0.55"/><circle cx="44.3" cy="436.0" r="0.55"/><circle cx="46.8" cy="428.9" r="0.55"/><circle cx="49.0" cy="429.4" r="0.55"/><circle cx="44.9" cy="427.4" r="0.55"/><circle cx="46.6" cy="425.9" r="0.55"/><circle cx="48.9" cy="431.4" r="0.55"/><circle cx="49.5" cy="426.3" r="0.55"/><circle cx="45.3" cy="437.5" r="0.55"/><circle cx="49.7" cy="441.5" r="0.55"/><circle cx="44.8" cy="417.7" r="0.55"/><circle cx="48.8" cy="428.4" r="0.55"/><circle cx="52.9" cy="423.9" r="0.55"/><circle cx="41.7" cy="421.8" r="0.55"/><circle cx="47.3" cy="424.7" r="0.55"/><circle cx="44.8" cy="439.6" r="0.55"/><circle cx="48.7" cy="432.6" r="0.55"/><circle cx="48.4" cy="417.8" r="0.55"/><circle cx="43.8" cy="429.7" r="0.55"/><circle cx="46.2" cy="424.7" r="0.55"/><circle cx="49.2" cy="435.5" r="0.55"/><circle cx="48.0" cy="432.4" r="0.55"/><circle cx="44.7" cy="420.2" r="0.55"/><circle cx="46.8" cy="425.6" r="0.55"/><circle cx="47.3" cy="450.9" r="0.55"/><circle cx="42.5" cy="438.3" r="0.55"/><circle cx="46.9" cy="427.8" r="0.55"/><circle cx="46.4" cy="448.5" r="0.55"/><circle cx="41.0" cy="421.9" r="0.55"/><circle cx="49.5" cy="435.0" r="0.55"/><circle cx="47.0" cy="431.8" r="0.55"/><circle cx="46.1" cy="415.9" r="0.55"/><circle cx="43.4" cy="426.0" r="0.55"/><circle cx="51.8" cy="430.0" r="0.55"/><circle cx="47.8" cy="437.3" r="0.55"/><circle cx="50.0" cy="420.9" r="0.55"/><circle cx="48.6" cy="439.8" r="0.55"/><circle cx="41.2" cy="431.2" r="0.55"/><circle cx="48.0" cy="444.0" r="0.55"/><circle cx="49.1" cy="430.8" r="0.55"/><circle cx="49.0" cy="449.4" r="0.55"/><circle cx="51.1" cy="433.2" r="0.55"/><circle cx="44.2" cy="447.5" r="0.55"/><circle cx="48.6" cy="436.8" r="0.55"/><circle cx="44.5" cy="439.1" r="0.55"/><circle cx="46.9" cy="453.9" r="0.55"/><circle cx="46.1" cy="436.8" r="0.55"/><circle cx="45.4" cy="431.4" r="0.55"/><circle cx="49.2" cy="418.8" r="0.55"/><circle cx="50.4" cy="436.9" r="0.55"/><circle cx="43.5" cy="418.2" r="0.55"/><circle cx="52.1" cy="421.9" r="0.55"/><circle cx="43.2" cy="435.7" r="0.55"/><circle cx="49.9" cy="432.9" r="0.55"/><circle cx="44.2" cy="431.7" r="0.55"/><circle cx="41.3" cy="434.4" r="0.55"/><circle cx="49.5" cy="429.3" r="0.55"/><circle cx="48.8" cy="434.8" r="0.55"/><circle cx="42.4" cy="437.0" r="0.55"/><circle cx="46.3" cy="415.9" r="0.55"/><circle cx="42.1" cy="435.6" r="0.55"/><circle cx="40.5" cy="427.0" r="0.55"/><circle cx="48.5" cy="417.8" r="0.55"/><circle cx="46.8" cy="427.1" r="0.55"/><circle cx="42.3" cy="433.7" r="0.55"/><circle cx="42.2" cy="440.1" r="0.55"/><circle cx="43.9" cy="434.0" r="0.55"/><circle cx="46.5" cy="442.1" r="0.55"/><circle cx="40.2" cy="427.2" r="0.55"/><circle cx="50.5" cy="420.9" r="0.55"/><circle cx="39.6" cy="429.1" r="0.55"/><circle cx="43.4" cy="445.1" r="0.55"/><circle cx="45.9" cy="454.6" r="0.55"/><circle cx="51.8" cy="421.3" r="0.55"/><circle cx="47.1" cy="436.2" r="0.55"/><circle cx="40.4" cy="427.6" r="0.55"/><circle cx="41.2" cy="422.3" r="0.55"/><circle cx="47.9" cy="427.7" r="0.55"/><circle cx="48.2" cy="424.1" r="0.55"/><circle cx="49.3" cy="431.2" r="0.55"/><circle cx="49.8" cy="438.6" r="0.55"/><circle cx="39.9" cy="426.7" r="0.55"/><circle cx="48.2" cy="437.0" r="0.55"/><circle cx="49.7" cy="427.9" r="0.55"/><circle cx="45.6" cy="434.1" r="0.55"/><circle cx="46.2" cy="425.0" r="0.55"/><circle cx="47.5" cy="425.0" r="0.55"/><circle cx="41.0" cy="423.8" r="0.55"/><circle cx="42.1" cy="437.4" r="0.55"/><circle cx="48.2" cy="418.8" r="0.55"/><circle cx="46.3" cy="434.9" r="0.55"/><circle cx="48.9" cy="426.3" r="0.55"/><circle cx="52.5" cy="426.9" r="0.55"/><circle cx="51.7" cy="424.5" r="0.55"/><circle cx="45.4" cy="452.0" r="0.55"/><circle cx="44.3" cy="435.0" r="0.55"/><circle cx="46.1" cy="423.2" r="0.55"/></g>
<g fill="#fff"><circle cx="48.7" cy="435.5" r="0.5"/><circle cx="47.0" cy="441.6" r="0.5"/><circle cx="52.7" cy="423.6" r="0.5"/><circle cx="45.5" cy="418.5" r="0.5"/><circle cx="44.2" cy="433.2" r="0.5"/><circle cx="48.6" cy="419.8" r="0.5"/><circle cx="48.5" cy="423.0" r="0.5"/><circle cx="49.0" cy="428.0" r="0.5"/><circle cx="46.4" cy="418.5" r="0.5"/><circle cx="47.1" cy="442.6" r="0.5"/><circle cx="43.7" cy="420.5" r="0.5"/><circle cx="43.5" cy="444.5" r="0.5"/><circle cx="46.9" cy="420.8" r="0.5"/><circle cx="42.3" cy="434.1" r="0.5"/><circle cx="45.3" cy="420.7" r="0.5"/><circle cx="51.5" cy="420.5" r="0.5"/><circle cx="49.5" cy="446.7" r="0.5"/><circle cx="43.4" cy="436.7" r="0.5"/><circle cx="43.3" cy="432.0" r="0.5"/><circle cx="43.4" cy="441.1" r="0.5"/><circle cx="49.2" cy="435.3" r="0.5"/><circle cx="51.0" cy="419.7" r="0.5"/><circle cx="47.4" cy="446.3" r="0.5"/><circle cx="49.9" cy="441.9" r="0.5"/><circle cx="42.7" cy="439.3" r="0.5"/><circle cx="44.5" cy="433.4" r="0.5"/><circle cx="46.5" cy="438.6" r="0.5"/><circle cx="51.5" cy="426.6" r="0.5"/><circle cx="42.8" cy="422.7" r="0.5"/><circle cx="44.0" cy="450.9" r="0.5"/><circle cx="39.8" cy="425.3" r="0.5"/><circle cx="46.0" cy="416.1" r="0.5"/><circle cx="42.5" cy="434.0" r="0.5"/><circle cx="48.6" cy="421.6" r="0.5"/><circle cx="40.6" cy="428.4" r="0.5"/><circle cx="48.1" cy="427.3" r="0.5"/><circle cx="50.5" cy="418.7" r="0.5"/><circle cx="49.6" cy="417.3" r="0.5"/><circle cx="48.4" cy="424.6" r="0.5"/><circle cx="45.7" cy="423.8" r="0.5"/></g>
<polygon points="44.0,438.0 49.0,438.0 48.5,454.0 44.5,454.0" fill="#D2D2D2" stroke="none" stroke-width="0" stroke-linejoin="round"/>
<polygon points="34.5,460.0 37.0,457.5 41.0,457.0 45.0,459.0 46.0,465.0 45.6,472.0 45.6,479.7 42.0,480.0 38.0,477.0 35.0,472.0 34.3,466.0" fill="#CBCBCB" stroke="none" stroke-width="0" stroke-linejoin="round"/>
<polygon points="44.6,475.6 45.5,468.0 47.0,462.0 50.0,461.0 54.0,463.0 56.5,460.0 58.0,456.0 60.5,454.5 62.5,455.5 63.0,459.0 62.5,463.0 66.5,466.5 70.0,472.0 71.6,480.0 70.5,487.0 67.0,493.0 62.5,498.0 57.0,502.5 52.0,503.3 49.7,502.3 47.5,497.0 45.5,490.0 44.6,482.0" fill="#CBCBCB" stroke="none" stroke-width="0" stroke-linejoin="round"/>
<g fill="#fff"><circle cx="56.2" cy="464.0" r="0.55"/><circle cx="51.5" cy="463.8" r="0.55"/><circle cx="53.8" cy="462.2" r="0.55"/><circle cx="48.9" cy="461.9" r="0.55"/><circle cx="53.1" cy="462.5" r="0.55"/><circle cx="40.7" cy="462.2" r="0.55"/><circle cx="47.0" cy="467.6" r="0.55"/><circle cx="52.2" cy="457.6" r="0.55"/><circle cx="46.7" cy="463.3" r="0.55"/><circle cx="48.6" cy="461.4" r="0.55"/><circle cx="46.7" cy="464.8" r="0.55"/><circle cx="56.4" cy="462.2" r="0.55"/><circle cx="53.9" cy="464.7" r="0.55"/><circle cx="36.6" cy="458.4" r="0.55"/><circle cx="41.7" cy="459.8" r="0.55"/><circle cx="46.3" cy="458.9" r="0.55"/><circle cx="43.2" cy="465.0" r="0.55"/><circle cx="57.5" cy="456.9" r="0.55"/><circle cx="54.4" cy="459.3" r="0.55"/><circle cx="44.3" cy="459.8" r="0.55"/><circle cx="45.6" cy="465.4" r="0.55"/><circle cx="53.4" cy="457.1" r="0.55"/><circle cx="38.7" cy="459.6" r="0.55"/><circle cx="38.1" cy="461.6" r="0.55"/><circle cx="44.2" cy="458.2" r="0.55"/><circle cx="51.3" cy="459.4" r="0.55"/><circle cx="41.1" cy="458.5" r="0.55"/><circle cx="51.6" cy="456.7" r="0.55"/><circle cx="40.9" cy="460.9" r="0.55"/><circle cx="54.6" cy="465.7" r="0.55"/><circle cx="38.2" cy="458.1" r="0.55"/><circle cx="35.6" cy="457.3" r="0.55"/><circle cx="54.0" cy="458.8" r="0.55"/><circle cx="37.2" cy="460.2" r="0.55"/><circle cx="54.0" cy="462.7" r="0.55"/></g>
<polygon points="45.6,470.0 45.5,468.0 45.6,480.0 45.0,482.0" fill="#CBCBCB" stroke="none" stroke-width="0" stroke-linejoin="round"/>
<polygon points="27.5,487.0 32.0,484.0 37.0,484.5 39.5,489.0 38.0,495.0 34.0,497.3 29.0,495.5 27.2,491.0" fill="#CBCBCB" stroke="none" stroke-width="0" stroke-linejoin="round"/>
<g fill="#CBCBCB"><circle cx="40.7" cy="479.5" r="0.7"/><circle cx="40.0" cy="481.6" r="0.7"/><circle cx="35.8" cy="484.7" r="0.7"/><circle cx="39.3" cy="483.8" r="0.7"/><circle cx="38.2" cy="483.3" r="0.7"/><circle cx="38.1" cy="484.7" r="0.7"/><circle cx="38.4" cy="480.5" r="0.7"/><circle cx="36.5" cy="480.2" r="0.7"/><circle cx="37.6" cy="485.6" r="0.7"/><circle cx="37.0" cy="477.5" r="0.7"/><circle cx="39.4" cy="479.7" r="0.7"/><circle cx="38.6" cy="484.5" r="0.7"/><circle cx="38.7" cy="482.7" r="0.7"/><circle cx="39.5" cy="478.6" r="0.7"/></g>
<polygon points="80.5,448.0 82.0,441.0 82.8,441.5 81.5,448.5" fill="#B8B8B8" stroke="none" stroke-width="0" stroke-linejoin="round"/>
<text x="55.2" y="409.8" font-size="8.5" text-anchor="middle" fill="#111">Clonotype #1</text>
<text transform="translate(27.1,449.4) scale(0.885,1)" font-size="5.2" text-anchor="start" fill="#444" font-style="italic">CAAEASSSFSKIVF/</text>
<text transform="translate(27.1,455.9) scale(0.885,1)" font-size="5.2" text-anchor="start" fill="#444" font-style="italic">CASSEGLGGRQNTLYF</text>
<text x="46.3" y="435.0" font-size="6.4" text-anchor="middle" fill="#111">1</text>
<text x="39.9" y="472.0" font-size="6.4" text-anchor="middle" fill="#111">0</text>
<text x="56.2" y="477.90000000000003" font-size="6.4" text-anchor="middle" fill="#111">3</text>
<text x="52.7" y="494.40000000000003" font-size="6.4" text-anchor="middle" fill="#111">2</text>
<text x="64" y="484.0" font-size="6.4" text-anchor="middle" fill="#111">4</text>
<text x="33.5" y="491.1" font-size="6.4" text-anchor="middle" fill="#111">5</text>
<text x="81.6" y="448.8" font-size="6.4" text-anchor="middle" fill="#111">6</text>
<polygon points="122.7,416.2 126.9,423.8 125.8,431.4 124.1,438.4 123.4,446.9 122.7,455.4 118.4,455.4 117.0,446.9 115.6,438.4 112.7,427.8 114.9,421.2 119.8,416.2" fill="#E4E4E4" stroke="none" stroke-width="0" stroke-linejoin="round"/>
<g fill="#C2C2C2"><circle cx="119.6" cy="447.1" r="0.55"/><circle cx="122.2" cy="453.1" r="0.55"/><circle cx="120.4" cy="418.0" r="0.55"/><circle cx="118.4" cy="442.9" r="0.55"/><circle cx="120.0" cy="448.3" r="0.55"/><circle cx="115.0" cy="432.4" r="0.55"/><circle cx="120.8" cy="454.9" r="0.55"/><circle cx="118.6" cy="442.5" r="0.55"/><circle cx="116.4" cy="436.9" r="0.55"/><circle cx="118.2" cy="418.7" r="0.55"/><circle cx="119.4" cy="430.5" r="0.55"/><circle cx="120.7" cy="455.2" r="0.55"/><circle cx="124.5" cy="419.6" r="0.55"/><circle cx="120.5" cy="429.9" r="0.55"/><circle cx="121.6" cy="425.6" r="0.55"/><circle cx="118.7" cy="437.0" r="0.55"/><circle cx="117.7" cy="438.5" r="0.55"/><circle cx="119.9" cy="446.5" r="0.55"/><circle cx="117.8" cy="444.7" r="0.55"/><circle cx="114.3" cy="429.6" r="0.55"/><circle cx="121.7" cy="450.1" r="0.55"/><circle cx="124.5" cy="421.1" r="0.55"/><circle cx="121.6" cy="443.7" r="0.55"/><circle cx="122.7" cy="433.3" r="0.55"/><circle cx="118.4" cy="434.5" r="0.55"/><circle cx="116.1" cy="422.1" r="0.55"/><circle cx="123.4" cy="433.7" r="0.55"/><circle cx="117.1" cy="432.5" r="0.55"/><circle cx="120.2" cy="438.5" r="0.55"/><circle cx="119.6" cy="446.9" r="0.55"/><circle cx="123.1" cy="437.9" r="0.55"/><circle cx="115.2" cy="424.0" r="0.55"/><circle cx="122.1" cy="453.7" r="0.55"/><circle cx="121.2" cy="435.3" r="0.55"/><circle cx="117.3" cy="436.8" r="0.55"/><circle cx="119.7" cy="435.8" r="0.55"/><circle cx="119.7" cy="433.9" r="0.55"/><circle cx="118.2" cy="435.7" r="0.55"/><circle cx="120.1" cy="421.9" r="0.55"/><circle cx="119.5" cy="424.0" r="0.55"/><circle cx="123.8" cy="439.0" r="0.55"/><circle cx="113.5" cy="426.8" r="0.55"/><circle cx="124.1" cy="434.7" r="0.55"/><circle cx="114.8" cy="425.5" r="0.55"/><circle cx="121.4" cy="436.6" r="0.55"/><circle cx="116.6" cy="442.9" r="0.55"/><circle cx="119.6" cy="420.7" r="0.55"/><circle cx="124.0" cy="433.0" r="0.55"/><circle cx="125.0" cy="429.0" r="0.55"/><circle cx="124.0" cy="439.9" r="0.55"/><circle cx="123.9" cy="433.8" r="0.55"/><circle cx="115.8" cy="425.9" r="0.55"/><circle cx="118.7" cy="433.8" r="0.55"/><circle cx="118.6" cy="429.9" r="0.55"/><circle cx="122.9" cy="447.5" r="0.55"/><circle cx="123.5" cy="428.3" r="0.55"/><circle cx="118.7" cy="426.4" r="0.55"/><circle cx="117.7" cy="437.0" r="0.55"/><circle cx="120.3" cy="427.2" r="0.55"/><circle cx="123.5" cy="444.1" r="0.55"/><circle cx="118.0" cy="450.9" r="0.55"/><circle cx="120.2" cy="424.4" r="0.55"/><circle cx="122.4" cy="436.2" r="0.55"/><circle cx="120.5" cy="450.2" r="0.55"/><circle cx="122.2" cy="454.4" r="0.55"/><circle cx="124.1" cy="431.3" r="0.55"/><circle cx="120.2" cy="447.7" r="0.55"/><circle cx="121.0" cy="445.0" r="0.55"/><circle cx="117.1" cy="440.3" r="0.55"/><circle cx="123.8" cy="430.9" r="0.55"/><circle cx="122.9" cy="452.8" r="0.55"/><circle cx="117.6" cy="436.9" r="0.55"/><circle cx="119.5" cy="450.1" r="0.55"/><circle cx="115.9" cy="426.9" r="0.55"/><circle cx="118.0" cy="442.2" r="0.55"/><circle cx="119.9" cy="445.5" r="0.55"/><circle cx="117.9" cy="438.9" r="0.55"/><circle cx="121.3" cy="434.1" r="0.55"/><circle cx="117.0" cy="442.1" r="0.55"/><circle cx="115.9" cy="438.6" r="0.55"/><circle cx="123.0" cy="436.6" r="0.55"/><circle cx="119.5" cy="446.7" r="0.55"/><circle cx="125.8" cy="424.5" r="0.55"/><circle cx="119.0" cy="435.8" r="0.55"/><circle cx="117.6" cy="424.5" r="0.55"/><circle cx="123.1" cy="441.2" r="0.55"/><circle cx="116.3" cy="439.1" r="0.55"/><circle cx="115.1" cy="422.0" r="0.55"/><circle cx="118.9" cy="426.8" r="0.55"/><circle cx="122.8" cy="452.0" r="0.55"/><circle cx="113.2" cy="427.9" r="0.55"/><circle cx="117.5" cy="445.4" r="0.55"/><circle cx="118.4" cy="441.9" r="0.55"/><circle cx="121.8" cy="430.2" r="0.55"/><circle cx="118.6" cy="433.4" r="0.55"/><circle cx="118.5" cy="448.5" r="0.55"/><circle cx="120.3" cy="431.1" r="0.55"/><circle cx="117.4" cy="447.8" r="0.55"/><circle cx="122.7" cy="443.1" r="0.55"/><circle cx="119.6" cy="418.7" r="0.55"/><circle cx="119.4" cy="438.5" r="0.55"/><circle cx="119.4" cy="435.2" r="0.55"/><circle cx="117.7" cy="443.1" r="0.55"/><circle cx="117.8" cy="429.6" r="0.55"/><circle cx="118.7" cy="440.2" r="0.55"/><circle cx="118.5" cy="419.8" r="0.55"/><circle cx="123.6" cy="424.0" r="0.55"/><circle cx="119.8" cy="436.5" r="0.55"/><circle cx="117.5" cy="435.4" r="0.55"/><circle cx="124.4" cy="430.9" r="0.55"/><circle cx="121.5" cy="438.5" r="0.55"/><circle cx="123.9" cy="427.5" r="0.55"/><circle cx="122.8" cy="430.4" r="0.55"/><circle cx="124.6" cy="435.6" r="0.55"/><circle cx="122.3" cy="449.7" r="0.55"/><circle cx="117.5" cy="432.5" r="0.55"/><circle cx="117.5" cy="429.2" r="0.55"/><circle cx="118.3" cy="450.5" r="0.55"/><circle cx="122.2" cy="427.4" r="0.55"/><circle cx="117.8" cy="435.8" r="0.55"/><circle cx="115.0" cy="425.4" r="0.55"/><circle cx="118.9" cy="441.7" r="0.55"/><circle cx="117.4" cy="439.0" r="0.55"/><circle cx="116.8" cy="425.9" r="0.55"/><circle cx="123.9" cy="430.0" r="0.55"/><circle cx="121.2" cy="443.6" r="0.55"/><circle cx="120.6" cy="452.9" r="0.55"/><circle cx="121.8" cy="432.0" r="0.55"/><circle cx="121.9" cy="432.2" r="0.55"/><circle cx="121.1" cy="449.7" r="0.55"/><circle cx="116.6" cy="425.4" r="0.55"/><circle cx="115.9" cy="437.1" r="0.55"/><circle cx="116.2" cy="430.5" r="0.55"/><circle cx="122.2" cy="429.7" r="0.55"/><circle cx="122.7" cy="421.2" r="0.55"/><circle cx="123.6" cy="420.5" r="0.55"/><circle cx="123.0" cy="421.6" r="0.55"/><circle cx="121.2" cy="436.3" r="0.55"/><circle cx="122.5" cy="435.7" r="0.55"/><circle cx="118.1" cy="450.0" r="0.55"/><circle cx="116.4" cy="431.9" r="0.55"/><circle cx="117.2" cy="433.0" r="0.55"/><circle cx="118.1" cy="423.7" r="0.55"/><circle cx="117.3" cy="448.0" r="0.55"/><circle cx="116.1" cy="439.1" r="0.55"/><circle cx="124.4" cy="419.7" r="0.55"/><circle cx="119.6" cy="422.7" r="0.55"/><circle cx="122.3" cy="443.3" r="0.55"/><circle cx="115.1" cy="424.5" r="0.55"/><circle cx="116.5" cy="428.6" r="0.55"/></g>
<g fill="#fff"><circle cx="123.9" cy="431.7" r="0.5"/><circle cx="119.2" cy="424.1" r="0.5"/><circle cx="119.2" cy="453.5" r="0.5"/><circle cx="114.0" cy="431.7" r="0.5"/><circle cx="117.0" cy="435.4" r="0.5"/><circle cx="120.0" cy="447.6" r="0.5"/><circle cx="122.9" cy="445.4" r="0.5"/><circle cx="116.4" cy="426.1" r="0.5"/><circle cx="121.2" cy="418.2" r="0.5"/><circle cx="119.7" cy="430.4" r="0.5"/><circle cx="123.7" cy="420.9" r="0.5"/><circle cx="119.4" cy="447.3" r="0.5"/><circle cx="118.5" cy="454.8" r="0.5"/><circle cx="125.1" cy="428.8" r="0.5"/><circle cx="120.3" cy="439.3" r="0.5"/><circle cx="119.1" cy="448.3" r="0.5"/><circle cx="122.7" cy="448.3" r="0.5"/><circle cx="116.3" cy="436.0" r="0.5"/><circle cx="120.4" cy="439.1" r="0.5"/><circle cx="119.1" cy="422.5" r="0.5"/><circle cx="123.2" cy="445.3" r="0.5"/><circle cx="121.5" cy="452.1" r="0.5"/><circle cx="113.5" cy="429.3" r="0.5"/><circle cx="114.6" cy="423.1" r="0.5"/><circle cx="120.4" cy="434.1" r="0.5"/><circle cx="120.2" cy="426.2" r="0.5"/><circle cx="114.8" cy="432.0" r="0.5"/><circle cx="115.1" cy="434.4" r="0.5"/><circle cx="125.1" cy="428.9" r="0.5"/><circle cx="123.4" cy="435.2" r="0.5"/><circle cx="125.4" cy="422.0" r="0.5"/><circle cx="122.9" cy="451.8" r="0.5"/><circle cx="118.9" cy="436.3" r="0.5"/><circle cx="124.8" cy="431.1" r="0.5"/><circle cx="115.6" cy="421.8" r="0.5"/><circle cx="125.9" cy="428.4" r="0.5"/><circle cx="122.5" cy="433.3" r="0.5"/><circle cx="114.2" cy="430.6" r="0.5"/><circle cx="118.7" cy="454.4" r="0.5"/><circle cx="123.9" cy="439.6" r="0.5"/></g>
<polygon points="117.8,438.8 122.8,438.8 122.3,454.8 118.3,454.8" fill="#D2D2D2" stroke="none" stroke-width="0" stroke-linejoin="round"/>
<polygon points="108.3,460.8 110.8,458.2 114.8,457.8 118.8,459.8 119.8,465.8 119.4,472.8 119.4,480.4 115.8,480.8 111.8,477.8 108.8,472.8 108.1,466.8" fill="#CBCBCB" stroke="none" stroke-width="0" stroke-linejoin="round"/>
<polygon points="118.4,476.4 119.3,468.8 120.8,462.8 123.8,461.8 127.8,463.8 130.3,460.8 131.8,456.8 134.3,455.2 136.3,456.2 136.8,459.8 136.3,463.8 140.3,467.2 143.8,472.8 145.4,480.8 144.3,487.8 140.8,493.8 136.3,498.8 130.8,503.2 125.8,504.1 123.5,503.1 121.3,497.8 119.3,490.8 118.4,482.8" fill="#CBCBCB" stroke="none" stroke-width="0" stroke-linejoin="round"/>
<g fill="#fff"><circle cx="131.5" cy="460.9" r="0.55"/><circle cx="125.3" cy="466.2" r="0.55"/><circle cx="125.2" cy="466.7" r="0.55"/><circle cx="126.4" cy="461.7" r="0.55"/><circle cx="112.0" cy="461.6" r="0.55"/><circle cx="130.5" cy="460.1" r="0.55"/><circle cx="125.2" cy="465.0" r="0.55"/><circle cx="123.6" cy="467.6" r="0.55"/><circle cx="114.6" cy="462.5" r="0.55"/><circle cx="126.1" cy="463.8" r="0.55"/><circle cx="126.8" cy="463.4" r="0.55"/><circle cx="124.2" cy="457.0" r="0.55"/><circle cx="124.0" cy="460.5" r="0.55"/><circle cx="118.9" cy="463.3" r="0.55"/><circle cx="125.1" cy="457.7" r="0.55"/><circle cx="128.1" cy="462.3" r="0.55"/><circle cx="117.0" cy="465.8" r="0.55"/><circle cx="116.8" cy="457.7" r="0.55"/><circle cx="119.2" cy="457.4" r="0.55"/><circle cx="126.2" cy="458.4" r="0.55"/><circle cx="131.6" cy="456.9" r="0.55"/><circle cx="123.7" cy="464.9" r="0.55"/><circle cx="121.6" cy="464.5" r="0.55"/><circle cx="112.1" cy="462.4" r="0.55"/><circle cx="129.0" cy="464.5" r="0.55"/><circle cx="113.6" cy="460.3" r="0.55"/><circle cx="119.7" cy="462.9" r="0.55"/><circle cx="119.1" cy="459.6" r="0.55"/><circle cx="127.1" cy="458.2" r="0.55"/><circle cx="115.6" cy="463.1" r="0.55"/><circle cx="126.9" cy="462.8" r="0.55"/><circle cx="121.7" cy="464.2" r="0.55"/><circle cx="110.4" cy="460.3" r="0.55"/><circle cx="116.9" cy="466.3" r="0.55"/><circle cx="127.6" cy="465.7" r="0.55"/></g>
<polygon points="119.4,470.8 119.3,468.8 119.4,480.8 118.8,482.8" fill="#CBCBCB" stroke="none" stroke-width="0" stroke-linejoin="round"/>
<polygon points="101.3,487.8 105.8,484.8 110.8,485.2 113.3,489.8 111.8,495.8 107.8,498.1 102.8,496.2 101.0,491.8" fill="#CBCBCB" stroke="none" stroke-width="0" stroke-linejoin="round"/>
<g fill="#CBCBCB"><circle cx="110.4" cy="483.6" r="0.7"/><circle cx="113.5" cy="481.8" r="0.7"/><circle cx="112.1" cy="486.3" r="0.7"/><circle cx="110.2" cy="485.3" r="0.7"/><circle cx="113.7" cy="481.2" r="0.7"/><circle cx="113.6" cy="483.0" r="0.7"/><circle cx="109.5" cy="484.5" r="0.7"/><circle cx="114.3" cy="480.7" r="0.7"/><circle cx="111.4" cy="483.3" r="0.7"/><circle cx="112.9" cy="481.0" r="0.7"/><circle cx="110.7" cy="484.3" r="0.7"/><circle cx="114.2" cy="479.6" r="0.7"/><circle cx="110.3" cy="482.5" r="0.7"/><circle cx="112.6" cy="481.1" r="0.7"/></g>
<polygon points="154.3,448.8 155.8,441.8 156.6,442.2 155.3,449.2" fill="#B8B8B8" stroke="none" stroke-width="0" stroke-linejoin="round"/>
<text x="120.8" y="409.8" font-size="8.5" text-anchor="middle" fill="#111">Clonotype #2</text>
<text transform="translate(98.2,444.4) scale(0.885,1)" font-size="5.2" text-anchor="start" fill="#444" font-style="italic">CAIENSGTYQRF/</text>
<text transform="translate(98.2,450.9) scale(0.885,1)" font-size="5.2" text-anchor="start" fill="#444" font-style="italic">CASSRDNQDTQYF</text>
<text x="120.1" y="435.75" font-size="6.4" text-anchor="middle" fill="#111">1</text>
<text x="113.69999999999999" y="472.75" font-size="6.4" text-anchor="middle" fill="#111">0</text>
<text x="130.0" y="478.65000000000003" font-size="6.4" text-anchor="middle" fill="#111">3</text>
<text x="126.5" y="495.15000000000003" font-size="6.4" text-anchor="middle" fill="#111">2</text>
<text x="137.8" y="484.75" font-size="6.4" text-anchor="middle" fill="#111">4</text>
<text x="107.3" y="491.85" font-size="6.4" text-anchor="middle" fill="#111">5</text>
<text x="155.39999999999998" y="449.55" font-size="6.4" text-anchor="middle" fill="#111">6</text>
<polygon points="201.0,417.6 205.2,425.1 204.1,432.7 202.4,439.8 201.7,448.2 201.0,456.8 196.7,456.8 195.3,448.2 193.9,439.8 191.0,429.1 193.2,422.6 198.1,417.6" fill="#E4E4E4" stroke="none" stroke-width="0" stroke-linejoin="round"/>
<g fill="#C2C2C2"><circle cx="196.1" cy="433.2" r="0.55"/><circle cx="201.8" cy="434.7" r="0.55"/><circle cx="203.4" cy="433.2" r="0.55"/><circle cx="196.9" cy="441.3" r="0.55"/><circle cx="202.4" cy="426.9" r="0.55"/><circle cx="196.5" cy="433.6" r="0.55"/><circle cx="201.6" cy="428.1" r="0.55"/><circle cx="195.6" cy="437.3" r="0.55"/><circle cx="193.6" cy="434.2" r="0.55"/><circle cx="202.3" cy="437.3" r="0.55"/><circle cx="199.3" cy="425.9" r="0.55"/><circle cx="196.2" cy="439.7" r="0.55"/><circle cx="195.8" cy="423.8" r="0.55"/><circle cx="199.0" cy="439.0" r="0.55"/><circle cx="196.6" cy="442.4" r="0.55"/><circle cx="202.4" cy="432.5" r="0.55"/><circle cx="195.1" cy="445.1" r="0.55"/><circle cx="199.3" cy="454.5" r="0.55"/><circle cx="192.3" cy="430.6" r="0.55"/><circle cx="197.5" cy="449.2" r="0.55"/><circle cx="195.2" cy="445.3" r="0.55"/><circle cx="194.7" cy="424.0" r="0.55"/><circle cx="203.3" cy="426.9" r="0.55"/><circle cx="201.8" cy="436.7" r="0.55"/><circle cx="197.4" cy="453.2" r="0.55"/><circle cx="196.4" cy="438.6" r="0.55"/><circle cx="194.2" cy="432.2" r="0.55"/><circle cx="197.5" cy="428.3" r="0.55"/><circle cx="200.2" cy="419.5" r="0.55"/><circle cx="193.4" cy="428.0" r="0.55"/><circle cx="195.8" cy="436.7" r="0.55"/><circle cx="199.4" cy="442.4" r="0.55"/><circle cx="194.0" cy="431.1" r="0.55"/><circle cx="197.2" cy="453.4" r="0.55"/><circle cx="202.8" cy="436.3" r="0.55"/><circle cx="203.5" cy="434.4" r="0.55"/><circle cx="196.2" cy="443.0" r="0.55"/><circle cx="201.3" cy="420.9" r="0.55"/><circle cx="196.7" cy="452.1" r="0.55"/><circle cx="194.1" cy="438.4" r="0.55"/><circle cx="195.5" cy="439.4" r="0.55"/><circle cx="196.2" cy="430.6" r="0.55"/><circle cx="197.5" cy="431.5" r="0.55"/><circle cx="201.2" cy="423.6" r="0.55"/><circle cx="198.8" cy="427.5" r="0.55"/><circle cx="195.4" cy="439.3" r="0.55"/><circle cx="200.1" cy="422.0" r="0.55"/><circle cx="200.6" cy="428.9" r="0.55"/><circle cx="202.6" cy="438.3" r="0.55"/><circle cx="197.0" cy="437.2" r="0.55"/><circle cx="197.5" cy="449.9" r="0.55"/><circle cx="195.6" cy="441.6" r="0.55"/><circle cx="195.1" cy="436.0" r="0.55"/><circle cx="199.3" cy="425.5" r="0.55"/><circle cx="200.6" cy="443.0" r="0.55"/><circle cx="194.5" cy="425.1" r="0.55"/><circle cx="199.9" cy="434.0" r="0.55"/><circle cx="195.6" cy="437.0" r="0.55"/><circle cx="197.6" cy="424.0" r="0.55"/><circle cx="201.0" cy="451.2" r="0.55"/><circle cx="196.5" cy="448.3" r="0.55"/><circle cx="201.2" cy="438.6" r="0.55"/><circle cx="201.6" cy="423.1" r="0.55"/><circle cx="199.8" cy="438.2" r="0.55"/><circle cx="201.9" cy="420.9" r="0.55"/><circle cx="204.4" cy="423.9" r="0.55"/><circle cx="201.8" cy="432.0" r="0.55"/><circle cx="201.5" cy="445.5" r="0.55"/><circle cx="197.0" cy="435.8" r="0.55"/><circle cx="201.8" cy="422.5" r="0.55"/><circle cx="193.7" cy="434.6" r="0.55"/><circle cx="199.5" cy="419.6" r="0.55"/><circle cx="201.8" cy="439.1" r="0.55"/><circle cx="200.7" cy="450.9" r="0.55"/><circle cx="198.2" cy="428.4" r="0.55"/><circle cx="200.9" cy="442.7" r="0.55"/><circle cx="198.3" cy="435.3" r="0.55"/><circle cx="197.9" cy="432.4" r="0.55"/><circle cx="203.0" cy="426.7" r="0.55"/><circle cx="194.3" cy="433.3" r="0.55"/><circle cx="197.6" cy="426.5" r="0.55"/><circle cx="202.2" cy="439.1" r="0.55"/><circle cx="201.2" cy="427.1" r="0.55"/><circle cx="196.3" cy="447.7" r="0.55"/><circle cx="195.0" cy="423.9" r="0.55"/><circle cx="198.8" cy="453.8" r="0.55"/><circle cx="200.6" cy="420.8" r="0.55"/><circle cx="196.9" cy="425.8" r="0.55"/><circle cx="203.4" cy="433.7" r="0.55"/><circle cx="197.1" cy="453.0" r="0.55"/><circle cx="194.6" cy="435.0" r="0.55"/><circle cx="198.8" cy="443.4" r="0.55"/><circle cx="195.3" cy="442.6" r="0.55"/><circle cx="196.8" cy="451.1" r="0.55"/><circle cx="199.1" cy="446.7" r="0.55"/><circle cx="199.3" cy="445.4" r="0.55"/><circle cx="196.2" cy="422.4" r="0.55"/><circle cx="195.8" cy="429.8" r="0.55"/><circle cx="198.5" cy="436.3" r="0.55"/><circle cx="201.6" cy="418.9" r="0.55"/><circle cx="195.4" cy="434.4" r="0.55"/><circle cx="202.7" cy="435.5" r="0.55"/><circle cx="202.3" cy="437.7" r="0.55"/><circle cx="202.2" cy="436.9" r="0.55"/><circle cx="199.5" cy="433.8" r="0.55"/><circle cx="199.3" cy="439.6" r="0.55"/><circle cx="202.8" cy="426.8" r="0.55"/><circle cx="201.7" cy="428.0" r="0.55"/><circle cx="199.7" cy="448.7" r="0.55"/><circle cx="198.5" cy="426.4" r="0.55"/><circle cx="194.8" cy="439.4" r="0.55"/><circle cx="202.2" cy="423.6" r="0.55"/><circle cx="200.4" cy="433.1" r="0.55"/><circle cx="195.9" cy="440.9" r="0.55"/><circle cx="200.6" cy="426.1" r="0.55"/><circle cx="200.9" cy="422.0" r="0.55"/><circle cx="200.0" cy="432.0" r="0.55"/><circle cx="201.4" cy="448.1" r="0.55"/><circle cx="201.2" cy="425.3" r="0.55"/><circle cx="197.0" cy="455.1" r="0.55"/><circle cx="192.8" cy="426.4" r="0.55"/><circle cx="197.9" cy="422.2" r="0.55"/><circle cx="196.5" cy="446.0" r="0.55"/><circle cx="194.0" cy="436.2" r="0.55"/><circle cx="195.9" cy="438.9" r="0.55"/><circle cx="198.9" cy="431.7" r="0.55"/><circle cx="201.7" cy="425.4" r="0.55"/><circle cx="199.9" cy="433.7" r="0.55"/><circle cx="202.5" cy="434.5" r="0.55"/><circle cx="197.3" cy="424.8" r="0.55"/><circle cx="195.9" cy="439.8" r="0.55"/><circle cx="195.9" cy="427.3" r="0.55"/><circle cx="197.0" cy="422.6" r="0.55"/><circle cx="193.5" cy="422.8" r="0.55"/><circle cx="199.1" cy="448.8" r="0.55"/><circle cx="196.8" cy="434.5" r="0.55"/><circle cx="204.4" cy="428.1" r="0.55"/><circle cx="196.8" cy="451.2" r="0.55"/><circle cx="194.9" cy="426.4" r="0.55"/><circle cx="199.0" cy="425.0" r="0.55"/><circle cx="201.7" cy="439.6" r="0.55"/><circle cx="194.2" cy="426.5" r="0.55"/><circle cx="195.6" cy="440.7" r="0.55"/><circle cx="193.4" cy="435.7" r="0.55"/><circle cx="199.5" cy="429.0" r="0.55"/><circle cx="199.9" cy="438.9" r="0.55"/><circle cx="196.6" cy="422.4" r="0.55"/><circle cx="198.9" cy="441.1" r="0.55"/><circle cx="200.2" cy="453.3" r="0.55"/><circle cx="199.9" cy="448.6" r="0.55"/></g>
<g fill="#fff"><circle cx="197.2" cy="423.8" r="0.5"/><circle cx="197.8" cy="445.5" r="0.5"/><circle cx="198.4" cy="454.6" r="0.5"/><circle cx="197.1" cy="438.8" r="0.5"/><circle cx="202.0" cy="426.7" r="0.5"/><circle cx="199.0" cy="422.9" r="0.5"/><circle cx="198.4" cy="447.8" r="0.5"/><circle cx="199.4" cy="444.1" r="0.5"/><circle cx="199.6" cy="453.7" r="0.5"/><circle cx="198.6" cy="431.3" r="0.5"/><circle cx="196.6" cy="433.1" r="0.5"/><circle cx="203.5" cy="428.7" r="0.5"/><circle cx="200.8" cy="439.8" r="0.5"/><circle cx="194.6" cy="429.3" r="0.5"/><circle cx="200.8" cy="431.9" r="0.5"/><circle cx="195.8" cy="439.1" r="0.5"/><circle cx="200.3" cy="417.6" r="0.5"/><circle cx="194.2" cy="434.3" r="0.5"/><circle cx="202.8" cy="429.7" r="0.5"/><circle cx="199.5" cy="455.6" r="0.5"/><circle cx="201.2" cy="453.4" r="0.5"/><circle cx="203.8" cy="428.3" r="0.5"/><circle cx="194.0" cy="432.9" r="0.5"/><circle cx="201.9" cy="440.0" r="0.5"/><circle cx="197.4" cy="424.1" r="0.5"/><circle cx="197.3" cy="432.0" r="0.5"/><circle cx="200.6" cy="428.8" r="0.5"/><circle cx="192.5" cy="424.7" r="0.5"/><circle cx="194.7" cy="425.1" r="0.5"/><circle cx="199.1" cy="429.9" r="0.5"/><circle cx="199.8" cy="438.7" r="0.5"/><circle cx="196.2" cy="438.9" r="0.5"/><circle cx="196.9" cy="448.4" r="0.5"/><circle cx="193.4" cy="426.4" r="0.5"/><circle cx="197.4" cy="438.9" r="0.5"/><circle cx="198.4" cy="441.1" r="0.5"/><circle cx="202.9" cy="430.4" r="0.5"/><circle cx="199.6" cy="454.9" r="0.5"/><circle cx="195.8" cy="443.0" r="0.5"/><circle cx="201.4" cy="444.2" r="0.5"/></g>
<polygon points="196.1,440.1 201.1,440.1 200.6,456.1 196.6,456.1" fill="#D2D2D2" stroke="none" stroke-width="0" stroke-linejoin="round"/>
<polygon points="186.6,462.1 189.1,459.6 193.1,459.1 197.1,461.1 198.1,467.1 197.7,474.1 197.7,481.8 194.1,482.1 190.1,479.1 187.1,474.1 186.4,468.1" fill="#CBCBCB" stroke="none" stroke-width="0" stroke-linejoin="round"/>
<polygon points="196.7,477.7 197.6,470.1 199.1,464.1 202.1,463.1 206.1,465.1 208.6,462.1 210.1,458.1 212.6,456.6 214.6,457.6 215.1,461.1 214.6,465.1 218.6,468.6 222.1,474.1 223.7,482.1 222.6,489.1 219.1,495.1 214.6,500.1 209.1,504.6 204.1,505.4 201.8,504.4 199.6,499.1 197.6,492.1 196.7,484.1" fill="#CBCBCB" stroke="none" stroke-width="0" stroke-linejoin="round"/>
<g fill="#fff"><circle cx="203.2" cy="462.3" r="0.55"/><circle cx="204.2" cy="461.8" r="0.55"/><circle cx="200.0" cy="459.1" r="0.55"/><circle cx="192.9" cy="461.0" r="0.55"/><circle cx="195.3" cy="462.8" r="0.55"/><circle cx="199.9" cy="462.6" r="0.55"/><circle cx="199.8" cy="468.8" r="0.55"/><circle cx="199.2" cy="464.2" r="0.55"/><circle cx="194.7" cy="459.3" r="0.55"/><circle cx="196.4" cy="465.1" r="0.55"/><circle cx="197.3" cy="465.9" r="0.55"/><circle cx="196.8" cy="468.5" r="0.55"/><circle cx="203.3" cy="458.4" r="0.55"/><circle cx="199.9" cy="460.5" r="0.55"/><circle cx="205.0" cy="462.1" r="0.55"/><circle cx="196.9" cy="466.8" r="0.55"/><circle cx="192.6" cy="465.9" r="0.55"/><circle cx="200.9" cy="462.5" r="0.55"/><circle cx="191.3" cy="465.8" r="0.55"/><circle cx="193.1" cy="462.8" r="0.55"/><circle cx="201.5" cy="467.6" r="0.55"/><circle cx="203.2" cy="463.1" r="0.55"/><circle cx="194.4" cy="465.9" r="0.55"/><circle cx="199.4" cy="465.3" r="0.55"/><circle cx="202.9" cy="463.8" r="0.55"/><circle cx="198.4" cy="466.5" r="0.55"/><circle cx="193.5" cy="464.0" r="0.55"/><circle cx="200.0" cy="461.1" r="0.55"/><circle cx="190.2" cy="462.8" r="0.55"/><circle cx="196.7" cy="463.0" r="0.55"/><circle cx="192.3" cy="463.8" r="0.55"/><circle cx="200.5" cy="458.1" r="0.55"/><circle cx="202.7" cy="467.2" r="0.55"/><circle cx="190.7" cy="460.3" r="0.55"/><circle cx="203.2" cy="462.7" r="0.55"/></g>
<polygon points="197.7,472.1 197.6,470.1 197.7,482.1 197.1,484.1" fill="#CBCBCB" stroke="none" stroke-width="0" stroke-linejoin="round"/>
<polygon points="179.6,489.1 184.1,486.1 189.1,486.6 191.6,491.1 190.1,497.1 186.1,499.4 181.1,497.6 179.3,493.1" fill="#CBCBCB" stroke="none" stroke-width="0" stroke-linejoin="round"/>
<g fill="#CBCBCB"><circle cx="190.9" cy="484.8" r="0.7"/><circle cx="192.0" cy="482.9" r="0.7"/><circle cx="191.4" cy="486.7" r="0.7"/><circle cx="188.1" cy="486.0" r="0.7"/><circle cx="192.5" cy="482.4" r="0.7"/><circle cx="189.2" cy="483.3" r="0.7"/><circle cx="190.4" cy="480.7" r="0.7"/><circle cx="188.4" cy="484.5" r="0.7"/><circle cx="189.3" cy="480.2" r="0.7"/><circle cx="191.6" cy="481.1" r="0.7"/><circle cx="189.0" cy="483.6" r="0.7"/><circle cx="188.5" cy="481.8" r="0.7"/><circle cx="190.0" cy="485.5" r="0.7"/><circle cx="190.1" cy="486.5" r="0.7"/></g>
<polygon points="232.6,450.1 234.1,443.1 234.9,443.6 233.6,450.6" fill="#B8B8B8" stroke="none" stroke-width="0" stroke-linejoin="round"/>
<text x="203.8" y="409.8" font-size="8.5" text-anchor="middle" fill="#111">Clonotype #3</text>
<text transform="translate(178.9,448.5) scale(0.885,1)" font-size="5.2" text-anchor="start" fill="#444" font-style="italic">CAANTNTGKLTF/</text>
<text transform="translate(178.9,455.0) scale(0.885,1)" font-size="5.2" text-anchor="start" fill="#444" font-style="italic">CASGVPGGETLYF</text>
<text x="198.39999999999998" y="437.05" font-size="6.4" text-anchor="middle" fill="#111">1</text>
<text x="192.0" y="474.05" font-size="6.4" text-anchor="middle" fill="#111">0</text>
<text x="208.3" y="479.95000000000005" font-size="6.4" text-anchor="middle" fill="#111">3</text>
<text x="204.8" y="496.45000000000005" font-size="6.4" text-anchor="middle" fill="#111">2</text>
<text x="216.1" y="486.05" font-size="6.4" text-anchor="middle" fill="#111">4</text>
<text x="185.6" y="493.15000000000003" font-size="6.4" text-anchor="middle" fill="#111">5</text>
<text x="233.7" y="450.85" font-size="6.4" text-anchor="middle" fill="#111">6</text>
<polygon points="55.1,522.3 59.3,529.8 58.2,537.4 56.5,544.5 55.8,552.9 55.1,561.5 50.8,561.5 49.4,552.9 48.0,544.5 45.1,533.8 47.3,527.3 52.2,522.3" fill="#E4E4E4" stroke="none" stroke-width="0" stroke-linejoin="round"/>
<g fill="#C2C2C2"><circle cx="55.4" cy="539.4" r="0.55"/><circle cx="52.5" cy="526.3" r="0.55"/><circle cx="47.8" cy="535.3" r="0.55"/><circle cx="49.8" cy="548.6" r="0.55"/><circle cx="47.8" cy="530.9" r="0.55"/><circle cx="47.6" cy="541.2" r="0.55"/><circle cx="55.0" cy="539.7" r="0.55"/><circle cx="53.4" cy="543.1" r="0.55"/><circle cx="51.1" cy="553.2" r="0.55"/><circle cx="51.4" cy="553.6" r="0.55"/><circle cx="56.2" cy="525.0" r="0.55"/><circle cx="53.7" cy="524.6" r="0.55"/><circle cx="56.1" cy="535.1" r="0.55"/><circle cx="50.1" cy="532.4" r="0.55"/><circle cx="54.0" cy="553.1" r="0.55"/><circle cx="55.5" cy="540.4" r="0.55"/><circle cx="53.7" cy="544.7" r="0.55"/><circle cx="48.6" cy="533.8" r="0.55"/><circle cx="52.3" cy="537.5" r="0.55"/><circle cx="55.7" cy="548.2" r="0.55"/><circle cx="50.2" cy="532.6" r="0.55"/><circle cx="51.0" cy="537.5" r="0.55"/><circle cx="54.9" cy="545.9" r="0.55"/><circle cx="52.5" cy="535.8" r="0.55"/><circle cx="49.5" cy="548.2" r="0.55"/><circle cx="57.3" cy="529.9" r="0.55"/><circle cx="51.7" cy="530.9" r="0.55"/><circle cx="50.4" cy="537.0" r="0.55"/><circle cx="47.3" cy="529.7" r="0.55"/><circle cx="55.4" cy="534.0" r="0.55"/><circle cx="50.3" cy="537.8" r="0.55"/><circle cx="51.5" cy="537.6" r="0.55"/><circle cx="47.5" cy="527.3" r="0.55"/><circle cx="51.7" cy="547.8" r="0.55"/><circle cx="49.6" cy="548.9" r="0.55"/><circle cx="57.0" cy="537.9" r="0.55"/><circle cx="57.4" cy="526.7" r="0.55"/><circle cx="49.9" cy="543.5" r="0.55"/><circle cx="55.1" cy="534.7" r="0.55"/><circle cx="49.9" cy="551.2" r="0.55"/><circle cx="51.9" cy="539.3" r="0.55"/><circle cx="53.3" cy="525.8" r="0.55"/><circle cx="51.7" cy="533.3" r="0.55"/><circle cx="55.6" cy="543.0" r="0.55"/><circle cx="52.2" cy="549.0" r="0.55"/><circle cx="53.4" cy="550.1" r="0.55"/><circle cx="50.2" cy="537.7" r="0.55"/><circle cx="49.5" cy="531.1" r="0.55"/><circle cx="48.4" cy="544.6" r="0.55"/><circle cx="51.5" cy="526.4" r="0.55"/><circle cx="56.2" cy="543.2" r="0.55"/><circle cx="57.0" cy="530.4" r="0.55"/><circle cx="55.7" cy="537.1" r="0.55"/><circle cx="51.6" cy="534.0" r="0.55"/><circle cx="47.6" cy="533.6" r="0.55"/><circle cx="48.3" cy="528.8" r="0.55"/><circle cx="53.2" cy="555.0" r="0.55"/><circle cx="55.2" cy="527.5" r="0.55"/><circle cx="58.0" cy="534.7" r="0.55"/><circle cx="55.6" cy="543.8" r="0.55"/><circle cx="51.2" cy="523.9" r="0.55"/><circle cx="54.5" cy="554.0" r="0.55"/><circle cx="47.5" cy="531.2" r="0.55"/><circle cx="56.8" cy="543.1" r="0.55"/><circle cx="48.6" cy="539.8" r="0.55"/><circle cx="50.2" cy="548.9" r="0.55"/><circle cx="50.0" cy="547.5" r="0.55"/><circle cx="58.2" cy="528.7" r="0.55"/><circle cx="53.5" cy="548.5" r="0.55"/><circle cx="48.6" cy="542.5" r="0.55"/><circle cx="49.4" cy="545.3" r="0.55"/><circle cx="46.9" cy="539.6" r="0.55"/><circle cx="53.0" cy="535.7" r="0.55"/><circle cx="48.6" cy="542.2" r="0.55"/><circle cx="56.4" cy="534.5" r="0.55"/><circle cx="53.9" cy="532.1" r="0.55"/><circle cx="55.9" cy="541.7" r="0.55"/><circle cx="49.0" cy="539.7" r="0.55"/><circle cx="50.5" cy="549.0" r="0.55"/><circle cx="51.1" cy="545.5" r="0.55"/><circle cx="54.0" cy="524.6" r="0.55"/><circle cx="52.3" cy="552.4" r="0.55"/><circle cx="55.3" cy="526.3" r="0.55"/><circle cx="50.7" cy="542.3" r="0.55"/><circle cx="48.2" cy="527.7" r="0.55"/><circle cx="56.2" cy="546.4" r="0.55"/><circle cx="53.3" cy="557.5" r="0.55"/><circle cx="47.7" cy="532.2" r="0.55"/><circle cx="51.0" cy="536.6" r="0.55"/><circle cx="56.2" cy="527.1" r="0.55"/><circle cx="56.0" cy="530.4" r="0.55"/><circle cx="53.6" cy="531.3" r="0.55"/><circle cx="55.4" cy="538.3" r="0.55"/><circle cx="55.9" cy="531.1" r="0.55"/><circle cx="51.0" cy="549.6" r="0.55"/><circle cx="50.0" cy="531.7" r="0.55"/><circle cx="52.6" cy="560.8" r="0.55"/><circle cx="54.6" cy="526.7" r="0.55"/><circle cx="52.4" cy="542.5" r="0.55"/><circle cx="56.2" cy="546.1" r="0.55"/><circle cx="51.6" cy="555.0" r="0.55"/><circle cx="48.0" cy="536.5" r="0.55"/><circle cx="56.7" cy="538.3" r="0.55"/><circle cx="47.7" cy="537.1" r="0.55"/><circle cx="55.2" cy="527.7" r="0.55"/><circle cx="51.0" cy="528.2" r="0.55"/><circle cx="49.6" cy="541.9" r="0.55"/><circle cx="52.3" cy="524.4" r="0.55"/><circle cx="52.2" cy="556.2" r="0.55"/><circle cx="53.7" cy="526.3" r="0.55"/><circle cx="54.4" cy="524.4" r="0.55"/><circle cx="52.7" cy="528.4" r="0.55"/><circle cx="55.2" cy="554.8" r="0.55"/><circle cx="51.3" cy="545.4" r="0.55"/><circle cx="55.4" cy="524.2" r="0.55"/><circle cx="55.7" cy="526.8" r="0.55"/><circle cx="51.9" cy="528.6" r="0.55"/><circle cx="51.9" cy="548.4" r="0.55"/><circle cx="56.2" cy="534.6" r="0.55"/><circle cx="54.2" cy="553.1" r="0.55"/><circle cx="54.5" cy="560.8" r="0.55"/><circle cx="57.4" cy="526.9" r="0.55"/><circle cx="53.6" cy="557.1" r="0.55"/><circle cx="56.9" cy="534.8" r="0.55"/><circle cx="48.4" cy="537.7" r="0.55"/><circle cx="54.8" cy="547.5" r="0.55"/><circle cx="54.2" cy="523.4" r="0.55"/><circle cx="54.7" cy="558.2" r="0.55"/><circle cx="50.3" cy="529.7" r="0.55"/><circle cx="51.2" cy="556.2" r="0.55"/><circle cx="56.5" cy="526.4" r="0.55"/><circle cx="47.1" cy="529.6" r="0.55"/><circle cx="56.4" cy="531.4" r="0.55"/><circle cx="47.0" cy="538.3" r="0.55"/><circle cx="53.3" cy="542.4" r="0.55"/><circle cx="55.9" cy="546.2" r="0.55"/><circle cx="51.2" cy="556.5" r="0.55"/><circle cx="48.6" cy="537.3" r="0.55"/><circle cx="54.9" cy="559.5" r="0.55"/><circle cx="48.8" cy="548.8" r="0.55"/><circle cx="54.5" cy="544.1" r="0.55"/><circle cx="47.0" cy="535.2" r="0.55"/><circle cx="53.6" cy="532.4" r="0.55"/><circle cx="55.2" cy="531.7" r="0.55"/><circle cx="50.2" cy="529.3" r="0.55"/><circle cx="54.7" cy="523.4" r="0.55"/><circle cx="56.2" cy="547.9" r="0.55"/><circle cx="54.0" cy="526.8" r="0.55"/><circle cx="52.7" cy="528.8" r="0.55"/><circle cx="48.5" cy="543.0" r="0.55"/></g>
<g fill="#fff"><circle cx="56.2" cy="534.4" r="0.5"/><circle cx="54.2" cy="523.5" r="0.5"/><circle cx="53.6" cy="547.3" r="0.5"/><circle cx="53.4" cy="527.7" r="0.5"/><circle cx="56.2" cy="540.0" r="0.5"/><circle cx="58.9" cy="529.8" r="0.5"/><circle cx="50.3" cy="553.4" r="0.5"/><circle cx="49.9" cy="546.9" r="0.5"/><circle cx="49.1" cy="538.8" r="0.5"/><circle cx="55.4" cy="554.8" r="0.5"/><circle cx="47.1" cy="529.1" r="0.5"/><circle cx="54.7" cy="550.4" r="0.5"/><circle cx="56.6" cy="531.5" r="0.5"/><circle cx="52.2" cy="522.5" r="0.5"/><circle cx="50.1" cy="545.9" r="0.5"/><circle cx="48.1" cy="539.6" r="0.5"/><circle cx="54.8" cy="531.0" r="0.5"/><circle cx="54.5" cy="538.0" r="0.5"/><circle cx="54.4" cy="554.5" r="0.5"/><circle cx="54.8" cy="556.1" r="0.5"/><circle cx="54.6" cy="552.8" r="0.5"/><circle cx="52.6" cy="528.6" r="0.5"/><circle cx="46.7" cy="537.7" r="0.5"/><circle cx="49.3" cy="544.4" r="0.5"/><circle cx="56.9" cy="532.8" r="0.5"/><circle cx="48.2" cy="530.3" r="0.5"/><circle cx="50.4" cy="535.8" r="0.5"/><circle cx="55.0" cy="543.1" r="0.5"/><circle cx="49.8" cy="528.2" r="0.5"/><circle cx="48.3" cy="542.9" r="0.5"/><circle cx="48.9" cy="541.5" r="0.5"/><circle cx="52.2" cy="532.6" r="0.5"/><circle cx="46.8" cy="538.7" r="0.5"/><circle cx="56.6" cy="527.7" r="0.5"/><circle cx="52.7" cy="554.1" r="0.5"/><circle cx="53.2" cy="535.9" r="0.5"/><circle cx="52.0" cy="540.0" r="0.5"/><circle cx="52.9" cy="542.5" r="0.5"/><circle cx="57.8" cy="536.1" r="0.5"/><circle cx="47.0" cy="529.2" r="0.5"/></g>
<polygon points="50.2,544.8 55.2,544.8 54.7,560.8 50.7,560.8" fill="#D2D2D2" stroke="none" stroke-width="0" stroke-linejoin="round"/>
<polygon points="40.7,566.8 43.2,564.3 47.2,563.8 51.2,565.8 52.2,571.8 51.8,578.8 51.8,586.5 48.2,586.8 44.2,583.8 41.2,578.8 40.5,572.8" fill="#CBCBCB" stroke="none" stroke-width="0" stroke-linejoin="round"/>
<polygon points="50.8,582.4 51.7,574.8 53.2,568.8 56.2,567.8 60.2,569.8 62.7,566.8 64.2,562.8 66.7,561.3 68.7,562.3 69.2,565.8 68.7,569.8 72.7,573.3 76.2,578.8 77.8,586.8 76.7,593.8 73.2,599.8 68.7,604.8 63.2,609.3 58.2,610.1 55.9,609.1 53.7,603.8 51.7,596.8 50.8,588.8" fill="#CBCBCB" stroke="none" stroke-width="0" stroke-linejoin="round"/>
<g fill="#fff"><circle cx="60.4" cy="568.1" r="0.55"/><circle cx="53.3" cy="564.7" r="0.55"/><circle cx="62.9" cy="567.6" r="0.55"/><circle cx="50.3" cy="572.4" r="0.55"/><circle cx="52.2" cy="567.7" r="0.55"/><circle cx="61.2" cy="567.7" r="0.55"/><circle cx="45.0" cy="568.5" r="0.55"/><circle cx="47.7" cy="565.2" r="0.55"/><circle cx="59.8" cy="566.5" r="0.55"/><circle cx="56.0" cy="565.8" r="0.55"/><circle cx="59.8" cy="571.9" r="0.55"/><circle cx="55.6" cy="563.9" r="0.55"/><circle cx="52.7" cy="573.8" r="0.55"/><circle cx="60.1" cy="570.2" r="0.55"/><circle cx="56.1" cy="563.9" r="0.55"/><circle cx="50.1" cy="571.8" r="0.55"/><circle cx="63.9" cy="565.4" r="0.55"/><circle cx="46.2" cy="563.1" r="0.55"/><circle cx="48.3" cy="562.8" r="0.55"/><circle cx="63.4" cy="565.0" r="0.55"/><circle cx="59.7" cy="564.4" r="0.55"/><circle cx="46.7" cy="563.4" r="0.55"/><circle cx="53.6" cy="565.6" r="0.55"/><circle cx="54.6" cy="572.0" r="0.55"/><circle cx="45.6" cy="563.3" r="0.55"/><circle cx="53.1" cy="567.3" r="0.55"/><circle cx="51.3" cy="566.8" r="0.55"/><circle cx="44.0" cy="563.1" r="0.55"/><circle cx="58.6" cy="570.8" r="0.55"/><circle cx="57.6" cy="570.9" r="0.55"/><circle cx="53.0" cy="564.2" r="0.55"/><circle cx="63.5" cy="569.3" r="0.55"/><circle cx="51.6" cy="565.2" r="0.55"/><circle cx="50.3" cy="573.4" r="0.55"/><circle cx="46.8" cy="564.8" r="0.55"/></g>
<polygon points="51.8,576.8 51.7,574.8 51.8,586.8 51.2,588.8" fill="#CBCBCB" stroke="none" stroke-width="0" stroke-linejoin="round"/>
<polygon points="33.7,593.8 38.2,590.8 43.2,591.3 45.7,595.8 44.2,601.8 40.2,604.1 35.2,602.3 33.4,597.8" fill="#CBCBCB" stroke="none" stroke-width="0" stroke-linejoin="round"/>
<g fill="#CBCBCB"><circle cx="42.4" cy="587.1" r="0.7"/><circle cx="45.5" cy="587.2" r="0.7"/><circle cx="46.8" cy="587.0" r="0.7"/><circle cx="45.4" cy="591.0" r="0.7"/><circle cx="44.4" cy="590.8" r="0.7"/><circle cx="43.6" cy="587.3" r="0.7"/><circle cx="42.4" cy="587.3" r="0.7"/><circle cx="43.1" cy="587.8" r="0.7"/><circle cx="44.9" cy="592.4" r="0.7"/><circle cx="44.7" cy="589.2" r="0.7"/><circle cx="42.6" cy="587.3" r="0.7"/><circle cx="42.8" cy="592.0" r="0.7"/><circle cx="43.1" cy="587.7" r="0.7"/><circle cx="45.7" cy="585.9" r="0.7"/></g>
<polygon points="86.7,554.8 88.2,547.8 89.0,548.3 87.7,555.3" fill="#B8B8B8" stroke="none" stroke-width="0" stroke-linejoin="round"/>
<text x="57" y="520.5" font-size="8.5" text-anchor="middle" fill="#111">Clonotype #4</text>
<text transform="translate(26.7,555.9000000000001) scale(0.885,1)" font-size="5.2" text-anchor="start" fill="#444" font-style="italic">CVLSAQGTGSKLSF/</text>
<text transform="translate(26.7,562.4000000000001) scale(0.885,1)" font-size="5.2" text-anchor="start" fill="#444" font-style="italic">CASGGGTGVTGQLYF</text>
<text x="52.5" y="541.8" font-size="6.4" text-anchor="middle" fill="#111">1</text>
<text x="46.1" y="578.8" font-size="6.4" text-anchor="middle" fill="#111">0</text>
<text x="62.400000000000006" y="584.6999999999999" font-size="6.4" text-anchor="middle" fill="#111">3</text>
<text x="58.900000000000006" y="601.1999999999999" font-size="6.4" text-anchor="middle" fill="#111">2</text>
<text x="70.2" y="590.8" font-size="6.4" text-anchor="middle" fill="#111">4</text>
<text x="39.7" y="597.9" font-size="6.4" text-anchor="middle" fill="#111">5</text>
<text x="87.8" y="555.5999999999999" font-size="6.4" text-anchor="middle" fill="#111">6</text>
<polygon points="121.4,523.6 125.6,531.1 124.5,538.7 122.8,545.8 122.1,554.2 121.4,562.8 117.1,562.8 115.7,554.2 114.3,545.8 111.4,535.1 113.6,528.6 118.5,523.6" fill="#E4E4E4" stroke="none" stroke-width="0" stroke-linejoin="round"/>
<g fill="#C2C2C2"><circle cx="113.5" cy="529.9" r="0.55"/><circle cx="113.5" cy="532.2" r="0.55"/><circle cx="113.8" cy="539.7" r="0.55"/><circle cx="114.1" cy="533.4" r="0.55"/><circle cx="117.1" cy="529.3" r="0.55"/><circle cx="115.2" cy="539.1" r="0.55"/><circle cx="117.3" cy="535.7" r="0.55"/><circle cx="120.5" cy="530.6" r="0.55"/><circle cx="118.7" cy="551.3" r="0.55"/><circle cx="118.5" cy="553.3" r="0.55"/><circle cx="123.3" cy="541.0" r="0.55"/><circle cx="121.8" cy="537.6" r="0.55"/><circle cx="118.0" cy="557.8" r="0.55"/><circle cx="124.4" cy="532.6" r="0.55"/><circle cx="117.2" cy="562.4" r="0.55"/><circle cx="122.0" cy="531.6" r="0.55"/><circle cx="114.7" cy="529.7" r="0.55"/><circle cx="118.2" cy="556.8" r="0.55"/><circle cx="116.2" cy="532.0" r="0.55"/><circle cx="118.7" cy="561.4" r="0.55"/><circle cx="120.4" cy="558.8" r="0.55"/><circle cx="117.5" cy="551.2" r="0.55"/><circle cx="121.8" cy="540.7" r="0.55"/><circle cx="118.8" cy="556.2" r="0.55"/><circle cx="116.2" cy="550.6" r="0.55"/><circle cx="119.4" cy="558.0" r="0.55"/><circle cx="114.1" cy="541.8" r="0.55"/><circle cx="120.1" cy="554.8" r="0.55"/><circle cx="120.0" cy="548.0" r="0.55"/><circle cx="117.3" cy="533.6" r="0.55"/><circle cx="115.9" cy="532.0" r="0.55"/><circle cx="123.8" cy="538.2" r="0.55"/><circle cx="122.1" cy="545.3" r="0.55"/><circle cx="113.9" cy="533.9" r="0.55"/><circle cx="121.4" cy="558.5" r="0.55"/><circle cx="113.2" cy="538.4" r="0.55"/><circle cx="120.0" cy="528.3" r="0.55"/><circle cx="116.4" cy="528.2" r="0.55"/><circle cx="114.8" cy="546.3" r="0.55"/><circle cx="118.5" cy="529.4" r="0.55"/><circle cx="120.7" cy="547.5" r="0.55"/><circle cx="115.5" cy="534.8" r="0.55"/><circle cx="121.1" cy="562.4" r="0.55"/><circle cx="120.8" cy="524.2" r="0.55"/><circle cx="113.1" cy="539.9" r="0.55"/><circle cx="121.1" cy="550.6" r="0.55"/><circle cx="116.7" cy="551.0" r="0.55"/><circle cx="121.4" cy="531.0" r="0.55"/><circle cx="112.0" cy="536.5" r="0.55"/><circle cx="117.6" cy="558.0" r="0.55"/><circle cx="118.3" cy="537.8" r="0.55"/><circle cx="117.7" cy="562.1" r="0.55"/><circle cx="124.2" cy="528.7" r="0.55"/><circle cx="123.5" cy="529.7" r="0.55"/><circle cx="112.9" cy="540.5" r="0.55"/><circle cx="118.2" cy="545.0" r="0.55"/><circle cx="119.4" cy="529.1" r="0.55"/><circle cx="121.0" cy="550.3" r="0.55"/><circle cx="120.3" cy="530.7" r="0.55"/><circle cx="115.8" cy="530.7" r="0.55"/><circle cx="121.1" cy="557.9" r="0.55"/><circle cx="118.5" cy="530.8" r="0.55"/><circle cx="113.4" cy="529.2" r="0.55"/><circle cx="120.0" cy="562.0" r="0.55"/><circle cx="118.0" cy="545.7" r="0.55"/><circle cx="120.3" cy="559.3" r="0.55"/><circle cx="112.1" cy="537.4" r="0.55"/><circle cx="117.1" cy="549.8" r="0.55"/><circle cx="119.8" cy="539.5" r="0.55"/><circle cx="116.5" cy="533.3" r="0.55"/><circle cx="121.7" cy="540.7" r="0.55"/><circle cx="117.0" cy="530.1" r="0.55"/><circle cx="120.0" cy="539.2" r="0.55"/><circle cx="119.1" cy="542.9" r="0.55"/><circle cx="115.0" cy="539.8" r="0.55"/><circle cx="117.3" cy="559.9" r="0.55"/><circle cx="117.7" cy="531.5" r="0.55"/><circle cx="117.8" cy="541.5" r="0.55"/><circle cx="118.5" cy="542.1" r="0.55"/><circle cx="115.5" cy="536.8" r="0.55"/><circle cx="118.5" cy="549.0" r="0.55"/><circle cx="122.8" cy="542.6" r="0.55"/><circle cx="119.2" cy="555.7" r="0.55"/><circle cx="117.3" cy="527.3" r="0.55"/><circle cx="124.5" cy="533.6" r="0.55"/><circle cx="117.9" cy="532.6" r="0.55"/><circle cx="120.0" cy="551.9" r="0.55"/><circle cx="119.7" cy="546.7" r="0.55"/><circle cx="124.4" cy="532.5" r="0.55"/><circle cx="119.7" cy="549.4" r="0.55"/><circle cx="120.5" cy="559.1" r="0.55"/><circle cx="121.6" cy="528.8" r="0.55"/><circle cx="120.8" cy="534.8" r="0.55"/><circle cx="117.8" cy="527.1" r="0.55"/><circle cx="120.8" cy="545.0" r="0.55"/><circle cx="119.8" cy="548.2" r="0.55"/><circle cx="114.5" cy="528.7" r="0.55"/><circle cx="116.6" cy="554.1" r="0.55"/><circle cx="118.9" cy="551.1" r="0.55"/><circle cx="115.3" cy="530.9" r="0.55"/><circle cx="112.1" cy="537.5" r="0.55"/><circle cx="116.4" cy="555.7" r="0.55"/><circle cx="114.1" cy="536.5" r="0.55"/><circle cx="122.7" cy="530.9" r="0.55"/><circle cx="114.8" cy="541.5" r="0.55"/><circle cx="116.8" cy="557.5" r="0.55"/><circle cx="121.4" cy="529.5" r="0.55"/><circle cx="117.0" cy="553.3" r="0.55"/><circle cx="118.7" cy="525.4" r="0.55"/><circle cx="117.8" cy="558.0" r="0.55"/><circle cx="119.8" cy="533.4" r="0.55"/><circle cx="118.7" cy="560.2" r="0.55"/><circle cx="117.6" cy="538.0" r="0.55"/><circle cx="113.2" cy="538.3" r="0.55"/><circle cx="119.2" cy="530.3" r="0.55"/><circle cx="115.4" cy="544.3" r="0.55"/><circle cx="118.8" cy="536.7" r="0.55"/><circle cx="120.5" cy="537.0" r="0.55"/><circle cx="122.5" cy="548.7" r="0.55"/><circle cx="118.9" cy="547.6" r="0.55"/><circle cx="119.5" cy="531.8" r="0.55"/><circle cx="115.9" cy="552.3" r="0.55"/><circle cx="116.7" cy="544.4" r="0.55"/><circle cx="121.9" cy="541.8" r="0.55"/><circle cx="117.1" cy="535.8" r="0.55"/><circle cx="120.8" cy="527.6" r="0.55"/><circle cx="120.7" cy="533.2" r="0.55"/><circle cx="119.6" cy="554.4" r="0.55"/><circle cx="115.9" cy="549.5" r="0.55"/><circle cx="120.2" cy="560.4" r="0.55"/><circle cx="119.3" cy="559.6" r="0.55"/><circle cx="120.2" cy="551.1" r="0.55"/><circle cx="119.5" cy="531.5" r="0.55"/><circle cx="120.5" cy="526.4" r="0.55"/><circle cx="115.3" cy="526.9" r="0.55"/><circle cx="118.4" cy="544.4" r="0.55"/><circle cx="115.4" cy="550.5" r="0.55"/><circle cx="117.6" cy="556.6" r="0.55"/><circle cx="121.5" cy="533.1" r="0.55"/><circle cx="123.5" cy="538.4" r="0.55"/><circle cx="118.5" cy="534.0" r="0.55"/><circle cx="119.2" cy="544.2" r="0.55"/><circle cx="121.4" cy="528.6" r="0.55"/><circle cx="118.9" cy="527.8" r="0.55"/><circle cx="125.0" cy="531.1" r="0.55"/><circle cx="121.6" cy="525.1" r="0.55"/><circle cx="120.6" cy="527.6" r="0.55"/><circle cx="118.1" cy="559.9" r="0.55"/><circle cx="119.5" cy="549.0" r="0.55"/><circle cx="117.8" cy="537.2" r="0.55"/></g>
<g fill="#fff"><circle cx="123.2" cy="531.8" r="0.5"/><circle cx="123.5" cy="538.5" r="0.5"/><circle cx="123.5" cy="532.9" r="0.5"/><circle cx="115.6" cy="544.2" r="0.5"/><circle cx="114.6" cy="533.7" r="0.5"/><circle cx="121.7" cy="554.5" r="0.5"/><circle cx="116.4" cy="542.0" r="0.5"/><circle cx="119.7" cy="546.8" r="0.5"/><circle cx="117.7" cy="524.7" r="0.5"/><circle cx="116.0" cy="542.5" r="0.5"/><circle cx="113.0" cy="534.1" r="0.5"/><circle cx="118.3" cy="525.7" r="0.5"/><circle cx="115.6" cy="544.5" r="0.5"/><circle cx="117.4" cy="545.9" r="0.5"/><circle cx="120.1" cy="531.0" r="0.5"/><circle cx="119.5" cy="560.2" r="0.5"/><circle cx="118.8" cy="553.0" r="0.5"/><circle cx="117.8" cy="551.3" r="0.5"/><circle cx="116.7" cy="545.4" r="0.5"/><circle cx="121.8" cy="546.5" r="0.5"/><circle cx="120.0" cy="538.7" r="0.5"/><circle cx="116.4" cy="549.3" r="0.5"/><circle cx="117.7" cy="540.9" r="0.5"/><circle cx="116.8" cy="535.0" r="0.5"/><circle cx="120.3" cy="558.0" r="0.5"/><circle cx="118.9" cy="548.6" r="0.5"/><circle cx="120.8" cy="539.3" r="0.5"/><circle cx="118.8" cy="548.3" r="0.5"/><circle cx="120.7" cy="537.3" r="0.5"/><circle cx="122.7" cy="528.7" r="0.5"/><circle cx="117.8" cy="550.7" r="0.5"/><circle cx="119.1" cy="562.6" r="0.5"/><circle cx="119.8" cy="532.5" r="0.5"/><circle cx="118.9" cy="535.1" r="0.5"/><circle cx="116.6" cy="532.4" r="0.5"/><circle cx="115.0" cy="528.9" r="0.5"/><circle cx="116.5" cy="527.9" r="0.5"/><circle cx="119.2" cy="562.2" r="0.5"/><circle cx="117.7" cy="540.7" r="0.5"/><circle cx="116.1" cy="555.2" r="0.5"/></g>
<polygon points="116.5,546.1 121.5,546.1 121.0,562.1 117.0,562.1" fill="#D2D2D2" stroke="none" stroke-width="0" stroke-linejoin="round"/>
<polygon points="107.0,568.1 109.5,565.6 113.5,565.1 117.5,567.1 118.5,573.1 118.1,580.1 118.1,587.8 114.5,588.1 110.5,585.1 107.5,580.1 106.8,574.1" fill="#CBCBCB" stroke="none" stroke-width="0" stroke-linejoin="round"/>
<polygon points="117.1,583.7 118.0,576.1 119.5,570.1 122.5,569.1 126.5,571.1 129.0,568.1 130.5,564.1 133.0,562.6 135.0,563.6 135.5,567.1 135.0,571.1 139.0,574.6 142.5,580.1 144.1,588.1 143.0,595.1 139.5,601.1 135.0,606.1 129.5,610.6 124.5,611.4 122.2,610.4 120.0,605.1 118.0,598.1 117.1,590.1" fill="#CBCBCB" stroke="none" stroke-width="0" stroke-linejoin="round"/>
<g fill="#fff"><circle cx="121.0" cy="568.0" r="0.55"/><circle cx="112.8" cy="566.1" r="0.55"/><circle cx="108.7" cy="567.1" r="0.55"/><circle cx="119.2" cy="565.0" r="0.55"/><circle cx="124.0" cy="565.7" r="0.55"/><circle cx="125.3" cy="565.1" r="0.55"/><circle cx="128.8" cy="567.3" r="0.55"/><circle cx="108.5" cy="564.9" r="0.55"/><circle cx="111.3" cy="564.6" r="0.55"/><circle cx="115.7" cy="568.5" r="0.55"/><circle cx="114.5" cy="565.2" r="0.55"/><circle cx="124.5" cy="569.5" r="0.55"/><circle cx="111.3" cy="567.3" r="0.55"/><circle cx="114.8" cy="566.4" r="0.55"/><circle cx="116.0" cy="573.6" r="0.55"/><circle cx="122.0" cy="572.4" r="0.55"/><circle cx="111.0" cy="565.6" r="0.55"/><circle cx="113.4" cy="564.8" r="0.55"/><circle cx="119.3" cy="573.8" r="0.55"/><circle cx="109.2" cy="568.3" r="0.55"/><circle cx="119.9" cy="567.1" r="0.55"/><circle cx="124.9" cy="570.3" r="0.55"/><circle cx="122.8" cy="567.6" r="0.55"/><circle cx="118.2" cy="570.8" r="0.55"/><circle cx="116.9" cy="569.3" r="0.55"/><circle cx="111.8" cy="570.1" r="0.55"/><circle cx="125.9" cy="573.6" r="0.55"/><circle cx="118.5" cy="567.5" r="0.55"/><circle cx="120.0" cy="574.2" r="0.55"/><circle cx="124.9" cy="570.4" r="0.55"/><circle cx="126.7" cy="571.2" r="0.55"/><circle cx="126.0" cy="570.9" r="0.55"/><circle cx="114.4" cy="564.5" r="0.55"/><circle cx="120.4" cy="569.9" r="0.55"/><circle cx="114.7" cy="564.4" r="0.55"/></g>
<polygon points="118.1,578.1 118.0,576.1 118.1,588.1 117.5,590.1" fill="#CBCBCB" stroke="none" stroke-width="0" stroke-linejoin="round"/>
<polygon points="100.0,595.1 104.5,592.1 109.5,592.6 112.0,597.1 110.5,603.1 106.5,605.4 101.5,603.6 99.7,599.1" fill="#CBCBCB" stroke="none" stroke-width="0" stroke-linejoin="round"/>
<g fill="#CBCBCB"><circle cx="110.5" cy="589.6" r="0.7"/><circle cx="107.8" cy="591.9" r="0.7"/><circle cx="110.2" cy="588.7" r="0.7"/><circle cx="109.6" cy="589.8" r="0.7"/><circle cx="110.8" cy="592.1" r="0.7"/><circle cx="109.9" cy="585.6" r="0.7"/><circle cx="110.3" cy="586.6" r="0.7"/><circle cx="112.2" cy="587.1" r="0.7"/><circle cx="111.9" cy="590.0" r="0.7"/><circle cx="111.1" cy="593.3" r="0.7"/><circle cx="112.5" cy="589.3" r="0.7"/><circle cx="112.3" cy="588.0" r="0.7"/><circle cx="108.3" cy="592.4" r="0.7"/><circle cx="108.9" cy="590.6" r="0.7"/></g>
<polygon points="153.0,556.1 154.5,549.1 155.3,549.6 154.0,556.6" fill="#B8B8B8" stroke="none" stroke-width="0" stroke-linejoin="round"/>
<text x="125.75" y="520.5" font-size="8.5" text-anchor="middle" fill="#111">Clonotype #5</text>
<text transform="translate(100.2,553.6) scale(0.885,1)" font-size="5.2" text-anchor="start" fill="#444" font-style="italic">CAASLNYNVLYF/</text>
<text transform="translate(100.2,560.1) scale(0.885,1)" font-size="5.2" text-anchor="start" fill="#444" font-style="italic">CASSGQISNERLFF</text>
<text x="118.8" y="543.0999999999999" font-size="6.4" text-anchor="middle" fill="#111">1</text>
<text x="112.4" y="580.0999999999999" font-size="6.4" text-anchor="middle" fill="#111">0</text>
<text x="128.7" y="586.0" font-size="6.4" text-anchor="middle" fill="#111">3</text>
<text x="125.2" y="602.5" font-size="6.4" text-anchor="middle" fill="#111">2</text>
<text x="136.5" y="592.0999999999999" font-size="6.4" text-anchor="middle" fill="#111">4</text>
<text x="106.0" y="599.1999999999999" font-size="6.4" text-anchor="middle" fill="#111">5</text>
<text x="154.1" y="556.9" font-size="6.4" text-anchor="middle" fill="#111">6</text>
<polygon points="199.9,522.6 204.1,530.1 203.0,537.8 201.3,544.9 200.6,553.2 199.9,561.9 195.6,561.9 194.2,553.2 192.8,544.9 189.9,534.1 192.1,527.6 197.0,522.6" fill="#E4E4E4" stroke="none" stroke-width="0" stroke-linejoin="round"/>
<g fill="#C2C2C2"><circle cx="193.9" cy="544.3" r="0.55"/><circle cx="197.5" cy="527.7" r="0.55"/><circle cx="192.4" cy="541.2" r="0.55"/><circle cx="193.6" cy="537.2" r="0.55"/><circle cx="201.8" cy="534.8" r="0.55"/><circle cx="200.6" cy="546.2" r="0.55"/><circle cx="195.7" cy="529.5" r="0.55"/><circle cx="201.4" cy="533.6" r="0.55"/><circle cx="199.8" cy="548.8" r="0.55"/><circle cx="194.1" cy="531.9" r="0.55"/><circle cx="199.5" cy="547.8" r="0.55"/><circle cx="201.1" cy="545.1" r="0.55"/><circle cx="197.5" cy="543.7" r="0.55"/><circle cx="195.9" cy="529.7" r="0.55"/><circle cx="197.6" cy="539.0" r="0.55"/><circle cx="199.0" cy="524.7" r="0.55"/><circle cx="197.6" cy="526.7" r="0.55"/><circle cx="197.6" cy="555.6" r="0.55"/><circle cx="199.9" cy="540.9" r="0.55"/><circle cx="195.3" cy="537.9" r="0.55"/><circle cx="194.9" cy="532.8" r="0.55"/><circle cx="197.3" cy="539.3" r="0.55"/><circle cx="201.3" cy="542.4" r="0.55"/><circle cx="191.3" cy="532.5" r="0.55"/><circle cx="198.0" cy="549.2" r="0.55"/><circle cx="199.3" cy="552.6" r="0.55"/><circle cx="194.6" cy="553.5" r="0.55"/><circle cx="198.4" cy="531.9" r="0.55"/><circle cx="198.5" cy="531.6" r="0.55"/><circle cx="193.1" cy="541.6" r="0.55"/><circle cx="196.4" cy="543.3" r="0.55"/><circle cx="197.9" cy="545.2" r="0.55"/><circle cx="197.4" cy="525.4" r="0.55"/><circle cx="197.0" cy="529.2" r="0.55"/><circle cx="195.8" cy="551.5" r="0.55"/><circle cx="201.3" cy="528.0" r="0.55"/><circle cx="199.2" cy="529.0" r="0.55"/><circle cx="198.9" cy="531.7" r="0.55"/><circle cx="194.0" cy="529.3" r="0.55"/><circle cx="199.2" cy="527.3" r="0.55"/><circle cx="199.6" cy="526.7" r="0.55"/><circle cx="193.0" cy="540.2" r="0.55"/><circle cx="197.8" cy="526.1" r="0.55"/><circle cx="199.9" cy="550.0" r="0.55"/><circle cx="198.4" cy="537.4" r="0.55"/><circle cx="197.8" cy="544.1" r="0.55"/><circle cx="192.6" cy="537.3" r="0.55"/><circle cx="198.6" cy="537.2" r="0.55"/><circle cx="196.2" cy="527.1" r="0.55"/><circle cx="198.1" cy="560.9" r="0.55"/><circle cx="202.2" cy="529.9" r="0.55"/><circle cx="192.4" cy="538.5" r="0.55"/><circle cx="198.7" cy="558.6" r="0.55"/><circle cx="198.5" cy="532.5" r="0.55"/><circle cx="200.8" cy="527.6" r="0.55"/><circle cx="198.3" cy="545.5" r="0.55"/><circle cx="196.4" cy="544.5" r="0.55"/><circle cx="191.7" cy="530.1" r="0.55"/><circle cx="198.4" cy="538.2" r="0.55"/><circle cx="197.0" cy="559.7" r="0.55"/><circle cx="196.4" cy="552.5" r="0.55"/><circle cx="191.7" cy="537.4" r="0.55"/><circle cx="193.6" cy="534.0" r="0.55"/><circle cx="199.4" cy="539.2" r="0.55"/><circle cx="200.1" cy="540.8" r="0.55"/><circle cx="199.6" cy="538.9" r="0.55"/><circle cx="198.5" cy="522.9" r="0.55"/><circle cx="198.3" cy="535.6" r="0.55"/><circle cx="196.4" cy="538.7" r="0.55"/><circle cx="193.6" cy="536.1" r="0.55"/><circle cx="202.2" cy="536.5" r="0.55"/><circle cx="196.8" cy="540.8" r="0.55"/><circle cx="193.7" cy="527.0" r="0.55"/><circle cx="197.5" cy="551.9" r="0.55"/><circle cx="195.8" cy="548.3" r="0.55"/><circle cx="191.7" cy="530.7" r="0.55"/><circle cx="197.1" cy="522.8" r="0.55"/><circle cx="191.2" cy="534.1" r="0.55"/><circle cx="200.3" cy="526.8" r="0.55"/><circle cx="194.8" cy="547.3" r="0.55"/><circle cx="202.7" cy="529.3" r="0.55"/><circle cx="198.0" cy="546.7" r="0.55"/><circle cx="197.9" cy="546.3" r="0.55"/><circle cx="195.0" cy="531.2" r="0.55"/><circle cx="199.8" cy="557.9" r="0.55"/><circle cx="200.1" cy="548.9" r="0.55"/><circle cx="198.3" cy="556.0" r="0.55"/><circle cx="197.2" cy="555.6" r="0.55"/><circle cx="191.9" cy="537.8" r="0.55"/><circle cx="197.7" cy="546.3" r="0.55"/><circle cx="195.3" cy="547.1" r="0.55"/><circle cx="196.7" cy="523.2" r="0.55"/><circle cx="191.3" cy="536.1" r="0.55"/><circle cx="196.2" cy="527.2" r="0.55"/><circle cx="202.2" cy="527.9" r="0.55"/><circle cx="197.7" cy="532.7" r="0.55"/><circle cx="199.5" cy="526.1" r="0.55"/><circle cx="196.9" cy="556.9" r="0.55"/><circle cx="199.9" cy="531.4" r="0.55"/><circle cx="196.8" cy="551.9" r="0.55"/><circle cx="198.7" cy="524.0" r="0.55"/><circle cx="199.3" cy="529.6" r="0.55"/><circle cx="195.0" cy="551.6" r="0.55"/><circle cx="201.9" cy="540.3" r="0.55"/><circle cx="200.5" cy="545.8" r="0.55"/><circle cx="192.3" cy="532.1" r="0.55"/><circle cx="199.2" cy="553.1" r="0.55"/><circle cx="199.3" cy="527.4" r="0.55"/><circle cx="201.3" cy="538.9" r="0.55"/><circle cx="200.3" cy="535.3" r="0.55"/><circle cx="193.9" cy="528.3" r="0.55"/><circle cx="195.5" cy="545.6" r="0.55"/><circle cx="200.2" cy="537.1" r="0.55"/><circle cx="196.0" cy="549.0" r="0.55"/><circle cx="200.1" cy="535.1" r="0.55"/><circle cx="198.2" cy="523.2" r="0.55"/><circle cx="195.2" cy="533.7" r="0.55"/><circle cx="192.3" cy="535.0" r="0.55"/><circle cx="192.5" cy="528.0" r="0.55"/><circle cx="192.8" cy="542.3" r="0.55"/><circle cx="199.3" cy="532.4" r="0.55"/><circle cx="190.8" cy="531.9" r="0.55"/><circle cx="196.5" cy="523.6" r="0.55"/><circle cx="192.6" cy="542.6" r="0.55"/><circle cx="200.9" cy="544.1" r="0.55"/><circle cx="199.3" cy="530.2" r="0.55"/><circle cx="200.6" cy="528.9" r="0.55"/><circle cx="193.7" cy="535.7" r="0.55"/><circle cx="200.7" cy="545.1" r="0.55"/><circle cx="199.5" cy="523.6" r="0.55"/><circle cx="193.6" cy="533.9" r="0.55"/><circle cx="195.8" cy="542.7" r="0.55"/><circle cx="200.9" cy="537.0" r="0.55"/><circle cx="195.6" cy="544.3" r="0.55"/><circle cx="200.3" cy="529.8" r="0.55"/><circle cx="200.1" cy="549.4" r="0.55"/><circle cx="193.6" cy="532.7" r="0.55"/><circle cx="194.9" cy="555.3" r="0.55"/><circle cx="198.6" cy="532.9" r="0.55"/><circle cx="201.0" cy="535.7" r="0.55"/><circle cx="200.0" cy="538.2" r="0.55"/><circle cx="197.4" cy="528.7" r="0.55"/><circle cx="194.8" cy="538.6" r="0.55"/><circle cx="201.1" cy="527.9" r="0.55"/><circle cx="196.5" cy="558.3" r="0.55"/><circle cx="194.5" cy="542.9" r="0.55"/><circle cx="203.3" cy="529.3" r="0.55"/><circle cx="193.4" cy="544.7" r="0.55"/><circle cx="200.4" cy="548.5" r="0.55"/><circle cx="193.8" cy="535.6" r="0.55"/></g>
<g fill="#fff"><circle cx="195.3" cy="534.1" r="0.5"/><circle cx="192.8" cy="542.0" r="0.5"/><circle cx="192.0" cy="535.4" r="0.5"/><circle cx="191.4" cy="530.1" r="0.5"/><circle cx="197.4" cy="535.5" r="0.5"/><circle cx="194.1" cy="539.9" r="0.5"/><circle cx="199.7" cy="532.8" r="0.5"/><circle cx="195.3" cy="557.9" r="0.5"/><circle cx="198.9" cy="540.1" r="0.5"/><circle cx="203.1" cy="532.0" r="0.5"/><circle cx="202.0" cy="537.3" r="0.5"/><circle cx="196.7" cy="523.7" r="0.5"/><circle cx="193.3" cy="532.1" r="0.5"/><circle cx="201.3" cy="534.5" r="0.5"/><circle cx="198.2" cy="530.3" r="0.5"/><circle cx="198.3" cy="553.8" r="0.5"/><circle cx="197.3" cy="541.9" r="0.5"/><circle cx="200.0" cy="541.2" r="0.5"/><circle cx="198.1" cy="534.4" r="0.5"/><circle cx="192.1" cy="531.4" r="0.5"/><circle cx="198.2" cy="542.7" r="0.5"/><circle cx="198.8" cy="549.5" r="0.5"/><circle cx="201.5" cy="535.9" r="0.5"/><circle cx="201.2" cy="546.0" r="0.5"/><circle cx="198.7" cy="556.4" r="0.5"/><circle cx="200.7" cy="550.0" r="0.5"/><circle cx="192.0" cy="528.7" r="0.5"/><circle cx="194.4" cy="548.2" r="0.5"/><circle cx="191.6" cy="530.2" r="0.5"/><circle cx="193.8" cy="544.2" r="0.5"/><circle cx="191.7" cy="536.8" r="0.5"/><circle cx="193.0" cy="540.3" r="0.5"/><circle cx="202.6" cy="530.1" r="0.5"/><circle cx="195.4" cy="556.9" r="0.5"/><circle cx="195.1" cy="547.3" r="0.5"/><circle cx="200.8" cy="536.0" r="0.5"/><circle cx="196.6" cy="526.1" r="0.5"/><circle cx="194.3" cy="550.2" r="0.5"/><circle cx="196.0" cy="550.5" r="0.5"/><circle cx="194.0" cy="526.1" r="0.5"/></g>
<polygon points="195.0,545.1 200.0,545.1 199.5,561.1 195.5,561.1" fill="#D2D2D2" stroke="none" stroke-width="0" stroke-linejoin="round"/>
<polygon points="185.5,567.1 188.0,564.6 192.0,564.1 196.0,566.1 197.0,572.1 196.6,579.1 196.6,586.9 193.0,587.1 189.0,584.1 186.0,579.1 185.3,573.1" fill="#CBCBCB" stroke="none" stroke-width="0" stroke-linejoin="round"/>
<polygon points="195.6,582.8 196.5,575.1 198.0,569.1 201.0,568.1 205.0,570.1 207.5,567.1 209.0,563.1 211.5,561.6 213.5,562.6 214.0,566.1 213.5,570.1 217.5,573.6 221.0,579.1 222.6,587.1 221.5,594.1 218.0,600.1 213.5,605.1 208.0,609.6 203.0,610.5 200.7,609.5 198.5,604.1 196.5,597.1 195.6,589.1" fill="#CBCBCB" stroke="none" stroke-width="0" stroke-linejoin="round"/>
<g fill="#fff"><circle cx="201.9" cy="565.5" r="0.55"/><circle cx="189.8" cy="568.6" r="0.55"/><circle cx="197.4" cy="575.0" r="0.55"/><circle cx="202.6" cy="568.2" r="0.55"/><circle cx="196.0" cy="570.6" r="0.55"/><circle cx="187.9" cy="566.1" r="0.55"/><circle cx="200.1" cy="564.8" r="0.55"/><circle cx="190.3" cy="567.2" r="0.55"/><circle cx="203.2" cy="573.3" r="0.55"/><circle cx="199.2" cy="565.3" r="0.55"/><circle cx="204.6" cy="563.8" r="0.55"/><circle cx="195.9" cy="569.8" r="0.55"/><circle cx="188.4" cy="564.7" r="0.55"/><circle cx="200.4" cy="564.3" r="0.55"/><circle cx="188.5" cy="565.0" r="0.55"/><circle cx="191.0" cy="571.4" r="0.55"/><circle cx="191.9" cy="566.9" r="0.55"/><circle cx="187.9" cy="568.7" r="0.55"/><circle cx="192.6" cy="566.4" r="0.55"/><circle cx="191.0" cy="565.1" r="0.55"/><circle cx="193.6" cy="566.4" r="0.55"/><circle cx="201.9" cy="572.4" r="0.55"/><circle cx="205.0" cy="564.3" r="0.55"/><circle cx="202.1" cy="565.0" r="0.55"/><circle cx="196.6" cy="572.5" r="0.55"/><circle cx="201.3" cy="570.9" r="0.55"/><circle cx="193.8" cy="571.9" r="0.55"/><circle cx="188.2" cy="568.5" r="0.55"/><circle cx="201.9" cy="568.0" r="0.55"/><circle cx="192.1" cy="569.7" r="0.55"/><circle cx="197.2" cy="564.4" r="0.55"/><circle cx="207.7" cy="566.1" r="0.55"/><circle cx="209.0" cy="564.3" r="0.55"/><circle cx="193.7" cy="572.6" r="0.55"/><circle cx="195.0" cy="572.8" r="0.55"/></g>
<polygon points="196.6,577.1 196.5,575.1 196.6,587.1 196.0,589.1" fill="#CBCBCB" stroke="none" stroke-width="0" stroke-linejoin="round"/>
<polygon points="178.5,594.1 183.0,591.1 188.0,591.6 190.5,596.1 189.0,602.1 185.0,604.5 180.0,602.6 178.2,598.1" fill="#CBCBCB" stroke="none" stroke-width="0" stroke-linejoin="round"/>
<g fill="#CBCBCB"><circle cx="189.5" cy="587.4" r="0.7"/><circle cx="189.0" cy="587.5" r="0.7"/><circle cx="190.1" cy="589.8" r="0.7"/><circle cx="188.6" cy="592.0" r="0.7"/><circle cx="189.1" cy="589.7" r="0.7"/><circle cx="190.5" cy="587.3" r="0.7"/><circle cx="186.6" cy="591.1" r="0.7"/><circle cx="189.8" cy="585.5" r="0.7"/><circle cx="189.3" cy="586.0" r="0.7"/><circle cx="189.4" cy="586.0" r="0.7"/><circle cx="188.1" cy="585.8" r="0.7"/><circle cx="187.8" cy="591.5" r="0.7"/><circle cx="190.1" cy="586.1" r="0.7"/><circle cx="188.2" cy="587.6" r="0.7"/></g>
<polygon points="231.5,555.1 233.0,548.1 233.8,548.6 232.5,555.6" fill="#B8B8B8" stroke="none" stroke-width="0" stroke-linejoin="round"/>
<text x="192.35" y="520.5" font-size="8.5" text-anchor="middle" fill="#111">Clonotype #6</text>
<text transform="translate(173.9,555.0) scale(0.885,1)" font-size="5.2" text-anchor="start" fill="#444" font-style="italic">CALANTGYQNFYF/</text>
<text transform="translate(173.9,561.5) scale(0.885,1)" font-size="5.2" text-anchor="start" fill="#444" font-style="italic">CASSRQGNTEVFF</text>
<text x="197.3" y="542.15" font-size="6.4" text-anchor="middle" fill="#111">1</text>
<text x="190.9" y="579.15" font-size="6.4" text-anchor="middle" fill="#111">0</text>
<text x="207.2" y="585.05" font-size="6.4" text-anchor="middle" fill="#111">3</text>
<text x="203.7" y="601.55" font-size="6.4" text-anchor="middle" fill="#111">2</text>
<text x="215" y="591.15" font-size="6.4" text-anchor="middle" fill="#111">4</text>
<text x="184.5" y="598.25" font-size="6.4" text-anchor="middle" fill="#111">5</text>
<text x="232.6" y="555.9499999999999" font-size="6.4" text-anchor="middle" fill="#111">6</text>
<g fill="#F01E0E"><circle cx="61.4" cy="483.1" r="0.8"/><circle cx="68.0" cy="480.4" r="0.8"/><circle cx="61.2" cy="481.8" r="0.8"/><circle cx="66.4" cy="485.3" r="0.8"/><circle cx="61.9" cy="478.8" r="0.8"/><circle cx="67.3" cy="483.5" r="0.8"/><circle cx="68.8" cy="484.4" r="0.8"/><circle cx="64.6" cy="481.0" r="0.8"/><circle cx="69.9" cy="481.5" r="0.8"/><circle cx="62.8" cy="478.8" r="0.8"/><circle cx="65.3" cy="482.5" r="0.8"/><circle cx="63.8" cy="481.8" r="0.8"/><circle cx="65.9" cy="484.3" r="0.8"/><circle cx="68.3" cy="482.6" r="0.8"/><circle cx="60.7" cy="483.7" r="0.8"/><circle cx="61.0" cy="481.5" r="0.8"/><circle cx="60.9" cy="482.0" r="0.8"/><circle cx="62.5" cy="482.7" r="0.8"/><circle cx="70.0" cy="481.9" r="0.8"/><circle cx="67.3" cy="478.5" r="0.8"/><circle cx="64.0" cy="484.2" r="0.8"/><circle cx="64.7" cy="483.3" r="0.8"/><circle cx="65.3" cy="478.9" r="0.8"/><circle cx="66.8" cy="479.4" r="0.8"/><circle cx="69.4" cy="480.8" r="0.8"/><circle cx="67.3" cy="482.0" r="0.8"/><circle cx="67.9" cy="480.2" r="0.8"/><circle cx="68.1" cy="481.6" r="0.8"/><circle cx="68.6" cy="483.8" r="0.8"/><circle cx="65.5" cy="479.4" r="0.8"/><circle cx="67.5" cy="483.5" r="0.8"/><circle cx="69.2" cy="481.0" r="0.8"/><circle cx="66.8" cy="483.7" r="0.8"/><circle cx="66.0" cy="482.7" r="0.8"/><circle cx="65.6" cy="480.0" r="0.8"/><circle cx="61.9" cy="480.8" r="0.8"/><circle cx="66.6" cy="486.0" r="0.8"/><circle cx="67.7" cy="484.9" r="0.8"/><circle cx="67.4" cy="484.2" r="0.8"/><circle cx="65.6" cy="484.5" r="0.8"/><circle cx="69.4" cy="481.2" r="0.8"/><circle cx="63.4" cy="486.4" r="0.8"/><circle cx="65.8" cy="485.0" r="0.8"/><circle cx="67.4" cy="478.8" r="0.8"/><circle cx="69.0" cy="484.9" r="0.8"/><circle cx="65.6" cy="484.5" r="0.8"/><circle cx="65.4" cy="479.2" r="0.8"/><circle cx="64.6" cy="483.3" r="0.8"/><circle cx="68.2" cy="484.0" r="0.8"/><circle cx="65.2" cy="485.9" r="0.8"/><circle cx="62.7" cy="484.4" r="0.8"/><circle cx="68.4" cy="481.1" r="0.8"/><circle cx="60.8" cy="479.9" r="0.8"/><circle cx="65.8" cy="483.8" r="0.8"/><circle cx="68.8" cy="479.5" r="0.8"/><circle cx="65.0" cy="484.2" r="0.8"/><circle cx="64.7" cy="477.2" r="0.8"/><circle cx="66.6" cy="486.6" r="0.8"/><circle cx="67.9" cy="479.4" r="0.8"/><circle cx="63.6" cy="482.8" r="0.8"/><circle cx="69.8" cy="483.2" r="0.8"/><circle cx="65.3" cy="486.2" r="0.8"/><circle cx="64.8" cy="486.5" r="0.8"/><circle cx="62.8" cy="480.5" r="0.8"/><circle cx="66.9" cy="485.8" r="0.8"/><circle cx="67.2" cy="483.0" r="0.8"/><circle cx="60.7" cy="480.3" r="0.8"/><circle cx="63.0" cy="480.3" r="0.8"/><circle cx="67.0" cy="480.9" r="0.8"/><circle cx="67.6" cy="482.3" r="0.8"/><circle cx="63.8" cy="482.4" r="0.8"/><circle cx="66.4" cy="484.7" r="0.8"/><circle cx="63.4" cy="481.2" r="0.8"/><circle cx="61.9" cy="485.6" r="0.8"/><circle cx="69.0" cy="481.5" r="0.8"/><circle cx="63.6" cy="478.4" r="0.8"/><circle cx="65.6" cy="482.7" r="0.8"/><circle cx="69.7" cy="482.5" r="0.8"/><circle cx="63.5" cy="477.3" r="0.8"/><circle cx="69.0" cy="482.5" r="0.8"/><circle cx="60.8" cy="482.5" r="0.8"/><circle cx="62.9" cy="486.5" r="0.8"/><circle cx="68.3" cy="483.7" r="0.8"/><circle cx="64.6" cy="477.3" r="0.8"/><circle cx="64.7" cy="477.8" r="0.8"/><circle cx="66.3" cy="477.4" r="0.8"/><circle cx="62.5" cy="485.3" r="0.8"/><circle cx="68.8" cy="479.3" r="0.8"/><circle cx="61.1" cy="484.2" r="0.8"/><circle cx="67.5" cy="479.1" r="0.8"/><circle cx="62.8" cy="479.8" r="0.8"/><circle cx="61.6" cy="480.1" r="0.8"/><circle cx="68.5" cy="483.9" r="0.8"/><circle cx="69.7" cy="481.8" r="0.8"/><circle cx="64.6" cy="478.9" r="0.8"/><circle cx="64.6" cy="478.2" r="0.8"/><circle cx="60.7" cy="483.7" r="0.8"/><circle cx="68.7" cy="484.2" r="0.8"/><circle cx="68.8" cy="482.7" r="0.8"/><circle cx="62.6" cy="482.3" r="0.8"/><circle cx="63.9" cy="478.7" r="0.8"/><circle cx="61.4" cy="478.8" r="0.8"/><circle cx="65.0" cy="482.5" r="0.8"/><circle cx="63.7" cy="485.9" r="0.8"/><circle cx="65.6" cy="484.0" r="0.8"/><circle cx="68.4" cy="479.7" r="0.8"/><circle cx="60.6" cy="483.7" r="0.8"/><circle cx="63.1" cy="485.6" r="0.8"/><circle cx="66.0" cy="485.1" r="0.8"/><circle cx="66.6" cy="477.5" r="0.8"/><circle cx="67.3" cy="479.9" r="0.8"/><circle cx="62.6" cy="480.6" r="0.8"/><circle cx="67.3" cy="484.7" r="0.8"/><circle cx="67.4" cy="478.1" r="0.8"/><circle cx="63.8" cy="477.3" r="0.8"/><circle cx="64.7" cy="484.0" r="0.8"/><circle cx="62.5" cy="482.8" r="0.8"/><circle cx="65.7" cy="485.1" r="0.8"/><circle cx="62.5" cy="479.5" r="0.8"/><circle cx="63.2" cy="486.2" r="0.8"/><circle cx="68.3" cy="481.6" r="0.8"/><circle cx="65.8" cy="482.4" r="0.8"/><circle cx="65.7" cy="481.3" r="0.8"/><circle cx="64.0" cy="478.4" r="0.8"/><circle cx="63.4" cy="486.1" r="0.8"/><circle cx="66.8" cy="482.2" r="0.8"/><circle cx="64.2" cy="482.2" r="0.8"/><circle cx="66.2" cy="479.9" r="0.8"/><circle cx="65.7" cy="482.8" r="0.8"/><circle cx="62.7" cy="479.6" r="0.8"/><circle cx="62.2" cy="479.1" r="0.8"/><circle cx="66.7" cy="477.4" r="0.8"/><circle cx="64.1" cy="480.0" r="0.8"/><circle cx="62.9" cy="482.3" r="0.8"/><circle cx="68.4" cy="482.2" r="0.8"/><circle cx="64.5" cy="479.9" r="0.8"/><circle cx="64.6" cy="484.9" r="0.8"/><circle cx="63.8" cy="478.6" r="0.8"/><circle cx="61.7" cy="479.1" r="0.8"/><circle cx="61.5" cy="484.8" r="0.8"/><circle cx="66.2" cy="481.2" r="0.8"/><circle cx="68.9" cy="480.3" r="0.8"/><circle cx="67.3" cy="484.5" r="0.8"/><circle cx="61.6" cy="478.6" r="0.8"/><circle cx="62.3" cy="484.6" r="0.8"/><circle cx="68.2" cy="478.9" r="0.8"/><circle cx="68.2" cy="480.8" r="0.8"/><circle cx="63.7" cy="480.2" r="0.8"/><circle cx="64.2" cy="477.5" r="0.8"/><circle cx="62.3" cy="478.7" r="0.8"/><circle cx="66.5" cy="487.4" r="0.6"/><circle cx="71.9" cy="479.0" r="0.6"/><circle cx="58.9" cy="478.4" r="0.6"/><circle cx="62.1" cy="486.9" r="0.6"/><circle cx="67.5" cy="476.3" r="0.6"/><circle cx="69.0" cy="482.6" r="0.6"/><circle cx="59.2" cy="477.8" r="0.6"/><circle cx="63.8" cy="480.1" r="0.6"/><circle cx="65.6" cy="478.1" r="0.6"/><circle cx="65.9" cy="476.8" r="0.6"/><circle cx="61.8" cy="486.1" r="0.6"/><circle cx="66.7" cy="482.4" r="0.6"/><circle cx="59.1" cy="479.3" r="0.6"/><circle cx="68.1" cy="474.4" r="0.6"/><circle cx="69.6" cy="478.1" r="0.6"/><circle cx="66.9" cy="479.3" r="0.6"/><circle cx="65.9" cy="485.7" r="0.6"/><circle cx="63.5" cy="486.6" r="0.6"/><circle cx="61.7" cy="475.6" r="0.6"/><circle cx="67.9" cy="475.0" r="0.6"/><circle cx="63.4" cy="484.6" r="0.6"/><circle cx="68.7" cy="473.7" r="0.6"/><circle cx="66.7" cy="487.1" r="0.6"/><circle cx="70.0" cy="478.9" r="0.6"/><circle cx="62.2" cy="478.4" r="0.6"/><circle cx="60.2" cy="478.7" r="0.6"/><circle cx="64.1" cy="479.2" r="0.6"/><circle cx="69.9" cy="478.9" r="0.6"/><circle cx="59.9" cy="484.2" r="0.6"/><circle cx="60.5" cy="477.8" r="0.6"/><circle cx="39.8" cy="469.8" r="0.65"/><circle cx="42.3" cy="476.6" r="0.65"/><circle cx="39.3" cy="468.4" r="0.65"/><circle cx="36.7" cy="467.2" r="0.65"/><circle cx="37.3" cy="466.8" r="0.65"/><circle cx="39.8" cy="470.1" r="0.65"/><circle cx="38.4" cy="469.8" r="0.65"/><circle cx="40.7" cy="471.4" r="0.65"/><circle cx="41.7" cy="475.3" r="0.65"/><circle cx="37.3" cy="465.4" r="0.65"/><circle cx="36.7" cy="465.0" r="0.65"/><circle cx="36.0" cy="464.5" r="0.65"/><circle cx="40.0" cy="471.2" r="0.65"/><circle cx="36.7" cy="466.9" r="0.65"/><circle cx="39.6" cy="470.0" r="0.65"/><circle cx="41.3" cy="475.8" r="0.65"/><circle cx="36.8" cy="466.3" r="0.65"/><circle cx="43.0" cy="475.2" r="0.65"/><circle cx="41.3" cy="476.1" r="0.65"/><circle cx="40.4" cy="471.1" r="0.65"/><circle cx="41.7" cy="474.9" r="0.65"/><circle cx="43.1" cy="476.3" r="0.65"/><circle cx="41.3" cy="474.7" r="0.65"/><circle cx="38.1" cy="470.6" r="0.65"/><circle cx="40.7" cy="472.7" r="0.65"/><circle cx="40.9" cy="472.0" r="0.65"/><circle cx="39.8" cy="469.5" r="0.65"/><circle cx="41.3" cy="474.7" r="0.65"/><circle cx="40.5" cy="474.3" r="0.65"/><circle cx="40.0" cy="471.1" r="0.65"/><circle cx="70.7" cy="482.2" r="0.6"/><circle cx="60.7" cy="491.6" r="0.6"/><circle cx="48.9" cy="477.5" r="0.6"/><circle cx="49.2" cy="478.7" r="0.6"/><circle cx="61.1" cy="457.4" r="0.6"/><circle cx="70.1" cy="475.0" r="0.6"/><circle cx="58.8" cy="483.7" r="0.6"/><circle cx="54.5" cy="468.4" r="0.6"/><circle cx="143.1" cy="480.3" r="0.8"/><circle cx="141.2" cy="484.4" r="0.8"/><circle cx="140.6" cy="485.4" r="0.8"/><circle cx="141.7" cy="489.1" r="0.8"/><circle cx="141.9" cy="478.2" r="0.8"/><circle cx="142.4" cy="490.1" r="0.8"/><circle cx="143.4" cy="477.9" r="0.8"/><circle cx="142.9" cy="477.6" r="0.8"/><circle cx="142.0" cy="483.1" r="0.8"/><circle cx="142.1" cy="472.6" r="0.8"/><circle cx="142.7" cy="476.7" r="0.8"/><circle cx="143.7" cy="479.5" r="0.8"/><circle cx="143.7" cy="482.0" r="0.8"/><circle cx="141.6" cy="472.8" r="0.8"/><circle cx="143.2" cy="480.4" r="0.8"/><circle cx="142.8" cy="482.2" r="0.8"/><circle cx="141.0" cy="491.2" r="0.8"/><circle cx="140.0" cy="467.3" r="0.8"/><circle cx="141.2" cy="476.8" r="0.8"/><circle cx="142.6" cy="482.2" r="0.8"/><circle cx="141.7" cy="478.2" r="0.8"/><circle cx="140.9" cy="474.7" r="0.8"/><circle cx="143.5" cy="487.6" r="0.8"/><circle cx="140.2" cy="468.9" r="0.8"/><circle cx="143.8" cy="482.0" r="0.8"/><circle cx="141.9" cy="472.5" r="0.8"/><circle cx="143.8" cy="475.3" r="0.8"/><circle cx="141.4" cy="480.0" r="0.8"/><circle cx="141.9" cy="475.4" r="0.8"/><circle cx="140.2" cy="467.9" r="0.8"/><circle cx="142.6" cy="478.4" r="0.8"/><circle cx="143.2" cy="473.5" r="0.8"/><circle cx="140.9" cy="483.0" r="0.8"/><circle cx="140.2" cy="473.6" r="0.8"/><circle cx="143.4" cy="483.8" r="0.8"/><circle cx="141.2" cy="469.5" r="0.8"/><circle cx="141.6" cy="484.6" r="0.8"/><circle cx="143.3" cy="480.6" r="0.8"/><circle cx="141.4" cy="476.1" r="0.8"/><circle cx="141.0" cy="475.2" r="0.8"/><circle cx="141.6" cy="475.2" r="0.8"/><circle cx="141.8" cy="475.8" r="0.8"/><circle cx="140.8" cy="480.4" r="0.8"/><circle cx="143.8" cy="479.8" r="0.8"/><circle cx="144.0" cy="480.4" r="0.8"/><circle cx="140.7" cy="485.5" r="0.8"/><circle cx="142.5" cy="480.5" r="0.8"/><circle cx="142.5" cy="486.2" r="0.8"/><circle cx="140.2" cy="467.9" r="0.8"/><circle cx="140.5" cy="485.1" r="0.8"/><circle cx="143.0" cy="472.1" r="0.8"/><circle cx="140.9" cy="485.6" r="0.8"/><circle cx="142.4" cy="485.6" r="0.8"/><circle cx="141.8" cy="474.5" r="0.8"/><circle cx="142.3" cy="479.7" r="0.8"/><circle cx="143.4" cy="484.2" r="0.8"/><circle cx="143.9" cy="483.1" r="0.8"/><circle cx="144.6" cy="482.4" r="0.8"/><circle cx="142.4" cy="484.2" r="0.8"/><circle cx="143.8" cy="476.7" r="0.8"/><circle cx="141.9" cy="469.6" r="0.8"/><circle cx="141.7" cy="470.1" r="0.8"/><circle cx="140.8" cy="476.8" r="0.8"/><circle cx="141.3" cy="491.0" r="0.8"/><circle cx="140.1" cy="473.8" r="0.8"/><circle cx="142.7" cy="489.4" r="0.8"/><circle cx="140.0" cy="468.6" r="0.8"/><circle cx="140.7" cy="471.4" r="0.8"/><circle cx="141.0" cy="484.4" r="0.8"/><circle cx="142.8" cy="471.6" r="0.8"/><circle cx="140.7" cy="473.1" r="0.8"/><circle cx="140.7" cy="485.4" r="0.8"/><circle cx="141.4" cy="480.0" r="0.8"/><circle cx="143.9" cy="478.2" r="0.8"/><circle cx="141.1" cy="488.8" r="0.8"/><circle cx="142.2" cy="471.5" r="0.8"/><circle cx="143.8" cy="475.8" r="0.8"/><circle cx="142.4" cy="479.2" r="0.8"/><circle cx="143.1" cy="471.9" r="0.8"/><circle cx="141.7" cy="486.5" r="0.8"/><circle cx="143.4" cy="481.5" r="0.8"/><circle cx="140.6" cy="469.8" r="0.8"/><circle cx="141.4" cy="472.5" r="0.8"/><circle cx="144.1" cy="479.2" r="0.8"/><circle cx="141.1" cy="479.6" r="0.8"/><circle cx="140.6" cy="485.8" r="0.8"/><circle cx="140.2" cy="472.8" r="0.8"/><circle cx="142.2" cy="477.9" r="0.8"/><circle cx="144.6" cy="481.0" r="0.8"/><circle cx="143.7" cy="476.6" r="0.8"/><circle cx="142.5" cy="479.4" r="0.8"/><circle cx="141.4" cy="473.8" r="0.8"/><circle cx="140.2" cy="473.7" r="0.8"/><circle cx="142.1" cy="484.3" r="0.8"/><circle cx="141.6" cy="483.6" r="0.8"/><circle cx="140.3" cy="476.0" r="0.8"/><circle cx="143.9" cy="482.8" r="0.8"/><circle cx="142.6" cy="477.7" r="0.8"/><circle cx="142.9" cy="473.3" r="0.8"/><circle cx="141.7" cy="479.8" r="0.8"/><circle cx="141.3" cy="474.5" r="0.8"/><circle cx="141.8" cy="483.1" r="0.8"/><circle cx="141.1" cy="470.9" r="0.8"/><circle cx="143.5" cy="474.3" r="0.8"/><circle cx="144.5" cy="480.4" r="0.8"/><circle cx="143.4" cy="474.4" r="0.8"/><circle cx="140.5" cy="468.2" r="0.8"/><circle cx="143.2" cy="484.2" r="0.8"/><circle cx="140.7" cy="476.2" r="0.8"/><circle cx="144.0" cy="481.2" r="0.8"/><circle cx="140.3" cy="471.6" r="0.8"/><circle cx="140.6" cy="469.0" r="0.8"/><circle cx="142.4" cy="482.6" r="0.8"/><circle cx="143.6" cy="487.1" r="0.8"/><circle cx="141.7" cy="474.4" r="0.8"/><circle cx="141.8" cy="483.9" r="0.8"/><circle cx="143.1" cy="481.6" r="0.8"/><circle cx="141.5" cy="482.7" r="0.8"/><circle cx="140.3" cy="475.6" r="0.8"/><circle cx="142.3" cy="486.3" r="0.8"/><circle cx="143.9" cy="481.6" r="0.8"/><circle cx="140.6" cy="485.7" r="0.8"/><circle cx="144.3" cy="480.0" r="0.8"/><circle cx="141.6" cy="478.8" r="0.8"/><circle cx="140.5" cy="484.3" r="0.8"/><circle cx="143.4" cy="487.5" r="0.8"/><circle cx="140.8" cy="490.3" r="0.8"/><circle cx="140.2" cy="472.1" r="0.8"/><circle cx="142.7" cy="483.9" r="0.8"/><circle cx="141.4" cy="489.9" r="0.8"/><circle cx="141.6" cy="477.8" r="0.8"/><circle cx="142.5" cy="480.3" r="0.8"/><circle cx="142.6" cy="472.6" r="0.8"/><circle cx="143.9" cy="481.4" r="0.8"/><circle cx="141.2" cy="489.1" r="0.8"/><circle cx="141.0" cy="480.7" r="0.8"/><circle cx="140.0" cy="470.4" r="0.8"/><circle cx="143.1" cy="473.7" r="0.8"/><circle cx="143.2" cy="484.9" r="0.8"/><circle cx="141.7" cy="481.1" r="0.8"/><circle cx="140.8" cy="477.9" r="0.8"/><circle cx="140.5" cy="475.8" r="0.8"/><circle cx="142.4" cy="472.6" r="0.8"/><circle cx="142.6" cy="474.4" r="0.8"/><circle cx="144.6" cy="481.4" r="0.8"/><circle cx="142.1" cy="476.4" r="0.8"/><circle cx="142.9" cy="483.7" r="0.8"/><circle cx="143.6" cy="485.3" r="0.8"/><circle cx="141.8" cy="477.0" r="0.8"/><circle cx="142.6" cy="489.3" r="0.8"/><circle cx="114.8" cy="473.6" r="0.7"/><circle cx="116.9" cy="478.5" r="0.7"/><circle cx="117.0" cy="474.5" r="0.7"/><circle cx="114.6" cy="471.9" r="0.7"/><circle cx="112.5" cy="471.9" r="0.7"/><circle cx="111.8" cy="467.6" r="0.7"/><circle cx="118.9" cy="479.3" r="0.7"/><circle cx="116.3" cy="478.0" r="0.7"/><circle cx="111.9" cy="470.6" r="0.7"/><circle cx="118.7" cy="477.4" r="0.7"/><circle cx="113.5" cy="471.4" r="0.7"/><circle cx="119.1" cy="479.5" r="0.7"/><circle cx="109.8" cy="468.1" r="0.7"/><circle cx="118.8" cy="478.1" r="0.7"/><circle cx="116.6" cy="478.9" r="0.7"/><circle cx="111.6" cy="470.7" r="0.7"/><circle cx="111.2" cy="469.8" r="0.7"/><circle cx="116.3" cy="477.0" r="0.7"/><circle cx="111.7" cy="470.7" r="0.7"/><circle cx="113.9" cy="473.6" r="0.7"/><circle cx="115.1" cy="475.1" r="0.7"/><circle cx="117.5" cy="473.5" r="0.7"/><circle cx="116.5" cy="473.5" r="0.7"/><circle cx="117.6" cy="477.0" r="0.7"/><circle cx="115.6" cy="476.0" r="0.7"/><circle cx="111.2" cy="468.7" r="0.7"/><circle cx="113.9" cy="472.5" r="0.7"/><circle cx="115.3" cy="473.8" r="0.7"/><circle cx="115.8" cy="473.6" r="0.7"/><circle cx="111.1" cy="470.1" r="0.7"/><circle cx="118.0" cy="477.0" r="0.7"/><circle cx="113.1" cy="469.6" r="0.7"/><circle cx="113.4" cy="470.6" r="0.7"/><circle cx="117.3" cy="476.3" r="0.7"/><circle cx="111.7" cy="470.0" r="0.7"/><circle cx="113.1" cy="471.1" r="0.7"/><circle cx="118.4" cy="474.4" r="0.7"/><circle cx="111.6" cy="471.3" r="0.7"/><circle cx="111.0" cy="469.4" r="0.7"/><circle cx="112.5" cy="472.6" r="0.7"/><circle cx="111.2" cy="470.2" r="0.7"/><circle cx="113.1" cy="468.7" r="0.7"/><circle cx="117.3" cy="476.2" r="0.7"/><circle cx="112.7" cy="471.7" r="0.7"/><circle cx="113.4" cy="469.8" r="0.7"/><circle cx="112.6" cy="472.3" r="0.7"/><circle cx="116.9" cy="475.4" r="0.7"/><circle cx="110.8" cy="469.4" r="0.7"/><circle cx="113.6" cy="471.8" r="0.7"/><circle cx="112.4" cy="471.2" r="0.7"/><circle cx="111.6" cy="467.3" r="0.7"/><circle cx="115.2" cy="477.3" r="0.7"/><circle cx="116.3" cy="478.7" r="0.7"/><circle cx="113.8" cy="471.9" r="0.7"/><circle cx="112.7" cy="473.2" r="0.7"/><circle cx="126.0" cy="463.0" r="0.6"/><circle cx="129.3" cy="478.4" r="0.6"/><circle cx="122.9" cy="487.7" r="0.6"/><circle cx="127.6" cy="475.9" r="0.6"/><circle cx="122.5" cy="483.7" r="0.6"/><circle cx="137.3" cy="482.2" r="0.6"/><circle cx="129.0" cy="473.0" r="0.6"/><circle cx="120.1" cy="475.0" r="0.6"/><circle cx="218.2" cy="476.9" r="0.7"/><circle cx="216.4" cy="472.4" r="0.7"/><circle cx="220.3" cy="478.9" r="0.7"/><circle cx="215.9" cy="481.1" r="0.7"/><circle cx="215.4" cy="476.9" r="0.7"/><circle cx="218.4" cy="487.1" r="0.7"/><circle cx="216.6" cy="479.1" r="0.7"/><circle cx="220.7" cy="483.3" r="0.7"/><circle cx="218.5" cy="480.1" r="0.7"/><circle cx="217.0" cy="475.8" r="0.7"/><circle cx="220.3" cy="475.1" r="0.7"/><circle cx="215.1" cy="477.7" r="0.7"/><circle cx="216.3" cy="474.6" r="0.7"/><circle cx="215.4" cy="471.8" r="0.7"/><circle cx="218.9" cy="472.0" r="0.7"/><circle cx="216.9" cy="472.1" r="0.7"/><circle cx="217.6" cy="480.7" r="0.7"/><circle cx="217.9" cy="480.2" r="0.7"/><circle cx="218.0" cy="484.5" r="0.7"/><circle cx="220.9" cy="474.1" r="0.7"/><circle cx="216.3" cy="482.1" r="0.7"/><circle cx="219.0" cy="481.5" r="0.7"/><circle cx="220.8" cy="484.4" r="0.7"/><circle cx="215.2" cy="480.1" r="0.7"/><circle cx="217.5" cy="478.9" r="0.7"/><circle cx="216.7" cy="473.0" r="0.7"/><circle cx="219.3" cy="478.3" r="0.7"/><circle cx="215.8" cy="472.3" r="0.7"/><circle cx="216.4" cy="470.8" r="0.7"/><circle cx="217.7" cy="469.7" r="0.7"/><circle cx="214.5" cy="468.5" r="0.7"/><circle cx="214.9" cy="476.5" r="0.7"/><circle cx="219.5" cy="477.1" r="0.7"/><circle cx="215.9" cy="477.7" r="0.7"/><circle cx="219.7" cy="475.3" r="0.7"/><circle cx="219.1" cy="472.3" r="0.7"/><circle cx="219.1" cy="473.9" r="0.7"/><circle cx="216.4" cy="483.0" r="0.7"/><circle cx="220.0" cy="484.4" r="0.7"/><circle cx="218.1" cy="475.9" r="0.7"/><circle cx="219.0" cy="480.1" r="0.7"/><circle cx="219.9" cy="483.9" r="0.7"/><circle cx="215.0" cy="475.0" r="0.7"/><circle cx="218.8" cy="471.9" r="0.7"/><circle cx="218.2" cy="486.8" r="0.7"/><circle cx="218.9" cy="475.9" r="0.7"/><circle cx="218.5" cy="475.4" r="0.7"/><circle cx="214.9" cy="467.9" r="0.7"/><circle cx="216.1" cy="482.4" r="0.7"/><circle cx="216.4" cy="467.6" r="0.7"/><circle cx="217.9" cy="477.2" r="0.7"/><circle cx="216.7" cy="473.5" r="0.7"/><circle cx="219.7" cy="484.7" r="0.7"/><circle cx="216.1" cy="475.3" r="0.7"/><circle cx="218.4" cy="483.1" r="0.7"/><circle cx="221.0" cy="475.2" r="0.7"/><circle cx="219.0" cy="478.5" r="0.7"/><circle cx="215.3" cy="469.3" r="0.7"/><circle cx="217.5" cy="469.6" r="0.7"/><circle cx="218.1" cy="470.1" r="0.7"/><circle cx="218.5" cy="472.8" r="0.7"/><circle cx="215.7" cy="477.2" r="0.7"/><circle cx="216.7" cy="472.5" r="0.7"/><circle cx="214.5" cy="468.4" r="0.7"/><circle cx="220.3" cy="473.5" r="0.7"/><circle cx="214.6" cy="470.9" r="0.7"/><circle cx="217.5" cy="475.8" r="0.7"/><circle cx="219.7" cy="475.4" r="0.7"/><circle cx="218.7" cy="480.1" r="0.7"/><circle cx="217.2" cy="484.6" r="0.7"/><circle cx="219.2" cy="470.7" r="0.7"/><circle cx="214.9" cy="468.6" r="0.7"/><circle cx="216.6" cy="482.9" r="0.7"/><circle cx="216.3" cy="477.8" r="0.7"/><circle cx="217.8" cy="484.1" r="0.7"/><circle cx="218.1" cy="492.4" r="0.6"/><circle cx="207.5" cy="495.7" r="0.6"/><circle cx="219.0" cy="494.0" r="0.6"/><circle cx="222.4" cy="476.2" r="0.6"/><circle cx="215.7" cy="468.8" r="0.6"/><circle cx="212.3" cy="467.6" r="0.6"/><circle cx="207.2" cy="474.6" r="0.6"/><circle cx="214.4" cy="496.1" r="0.6"/><circle cx="206.5" cy="487.7" r="0.6"/><circle cx="206.3" cy="470.2" r="0.6"/><circle cx="197.0" cy="466.4" r="0.6"/><circle cx="187.5" cy="466.8" r="0.6"/><circle cx="195.1" cy="463.9" r="0.6"/><circle cx="195.1" cy="471.6" r="0.6"/><circle cx="62.8" cy="580.5" r="0.7"/><circle cx="66.6" cy="584.2" r="0.7"/><circle cx="61.1" cy="586.0" r="0.7"/><circle cx="69.9" cy="583.1" r="0.7"/><circle cx="60.5" cy="584.7" r="0.7"/><circle cx="56.6" cy="581.4" r="0.7"/><circle cx="66.3" cy="588.2" r="0.7"/><circle cx="61.2" cy="587.5" r="0.7"/><circle cx="70.4" cy="586.6" r="0.7"/><circle cx="57.1" cy="585.3" r="0.7"/><circle cx="65.2" cy="586.6" r="0.7"/><circle cx="63.3" cy="580.4" r="0.7"/><circle cx="63.2" cy="587.7" r="0.7"/><circle cx="68.5" cy="581.7" r="0.7"/><circle cx="66.1" cy="586.1" r="0.7"/><circle cx="67.3" cy="582.6" r="0.7"/><circle cx="60.9" cy="580.0" r="0.7"/><circle cx="61.9" cy="580.6" r="0.7"/><circle cx="58.6" cy="579.0" r="0.7"/><circle cx="68.1" cy="579.1" r="0.7"/><circle cx="58.2" cy="582.7" r="0.7"/><circle cx="69.7" cy="586.4" r="0.7"/><circle cx="62.2" cy="579.0" r="0.7"/><circle cx="61.6" cy="579.4" r="0.7"/><circle cx="61.3" cy="584.7" r="0.7"/><circle cx="59.3" cy="580.1" r="0.7"/><circle cx="62.8" cy="582.7" r="0.7"/><circle cx="60.5" cy="579.9" r="0.7"/><circle cx="59.1" cy="580.2" r="0.7"/><circle cx="67.0" cy="581.8" r="0.7"/><circle cx="56.4" cy="584.0" r="0.7"/><circle cx="63.9" cy="579.5" r="0.7"/><circle cx="63.5" cy="576.9" r="0.7"/><circle cx="58.1" cy="586.0" r="0.7"/><circle cx="69.8" cy="587.1" r="0.7"/><circle cx="60.3" cy="583.0" r="0.7"/><circle cx="67.7" cy="578.7" r="0.7"/><circle cx="70.9" cy="580.7" r="0.7"/><circle cx="65.9" cy="578.7" r="0.7"/><circle cx="66.2" cy="582.7" r="0.7"/><circle cx="68.8" cy="579.1" r="0.7"/><circle cx="64.2" cy="588.2" r="0.7"/><circle cx="58.6" cy="584.1" r="0.7"/><circle cx="66.6" cy="580.8" r="0.7"/><circle cx="63.0" cy="587.5" r="0.7"/><circle cx="69.5" cy="584.8" r="0.7"/><circle cx="65.5" cy="578.7" r="0.7"/><circle cx="64.6" cy="588.2" r="0.7"/><circle cx="68.5" cy="578.6" r="0.7"/><circle cx="56.9" cy="581.1" r="0.7"/><circle cx="65.1" cy="580.6" r="0.7"/><circle cx="62.5" cy="584.2" r="0.7"/><circle cx="68.8" cy="583.6" r="0.7"/><circle cx="69.0" cy="578.7" r="0.7"/><circle cx="66.7" cy="584.5" r="0.7"/><circle cx="58.6" cy="586.4" r="0.7"/><circle cx="58.6" cy="579.0" r="0.7"/><circle cx="71.4" cy="585.4" r="0.7"/><circle cx="65.9" cy="587.4" r="0.7"/><circle cx="69.1" cy="579.2" r="0.7"/><circle cx="73.5" cy="592.7" r="0.7"/><circle cx="71.6" cy="589.1" r="0.7"/><circle cx="70.7" cy="591.2" r="0.7"/><circle cx="70.4" cy="586.9" r="0.7"/><circle cx="68.9" cy="586.3" r="0.7"/><circle cx="73.0" cy="590.4" r="0.7"/><circle cx="71.0" cy="585.6" r="0.7"/><circle cx="73.4" cy="590.0" r="0.7"/><circle cx="75.8" cy="587.4" r="0.7"/><circle cx="70.8" cy="590.5" r="0.7"/><circle cx="76.4" cy="588.7" r="0.7"/><circle cx="71.9" cy="585.8" r="0.7"/><circle cx="71.0" cy="591.8" r="0.7"/><circle cx="74.6" cy="592.0" r="0.7"/><circle cx="68.2" cy="590.9" r="0.7"/><circle cx="69.4" cy="590.6" r="0.7"/><circle cx="67.4" cy="588.6" r="0.7"/><circle cx="69.8" cy="592.2" r="0.7"/><circle cx="72.6" cy="592.6" r="0.7"/><circle cx="71.2" cy="593.4" r="0.7"/><circle cx="71.1" cy="593.3" r="0.7"/><circle cx="70.7" cy="585.8" r="0.7"/><circle cx="75.0" cy="587.5" r="0.7"/><circle cx="72.0" cy="584.9" r="0.7"/><circle cx="71.0" cy="589.2" r="0.7"/><circle cx="62.1" cy="575.0" r="0.6"/><circle cx="62.7" cy="607.9" r="0.6"/><circle cx="58.7" cy="595.2" r="0.6"/><circle cx="68.9" cy="573.2" r="0.6"/><circle cx="61.9" cy="567.7" r="0.6"/><circle cx="62.2" cy="578.0" r="0.6"/><circle cx="66.7" cy="587.9" r="0.6"/><circle cx="53.2" cy="579.0" r="0.6"/><circle cx="60.9" cy="596.6" r="0.6"/><circle cx="68.9" cy="578.1" r="0.6"/><circle cx="51.4" cy="592.2" r="0.6"/><circle cx="63.5" cy="579.0" r="0.6"/><circle cx="63.4" cy="576.7" r="0.6"/><circle cx="68.9" cy="590.9" r="0.6"/><circle cx="73.2" cy="593.0" r="0.6"/><circle cx="48.7" cy="586.7" r="0.6"/><circle cx="41.3" cy="574.4" r="0.6"/><circle cx="45.2" cy="578.9" r="0.6"/><circle cx="43.0" cy="572.3" r="0.6"/><circle cx="42.2" cy="572.9" r="0.6"/><circle cx="49.2" cy="565.7" r="0.6"/><circle cx="131.5" cy="587.3" r="0.7"/><circle cx="126.4" cy="579.5" r="0.7"/><circle cx="129.4" cy="588.5" r="0.7"/><circle cx="129.0" cy="577.9" r="0.7"/><circle cx="132.0" cy="585.9" r="0.7"/><circle cx="134.1" cy="583.7" r="0.7"/><circle cx="133.9" cy="581.2" r="0.7"/><circle cx="132.4" cy="583.6" r="0.7"/><circle cx="125.9" cy="582.1" r="0.7"/><circle cx="132.9" cy="586.5" r="0.7"/><circle cx="128.4" cy="587.2" r="0.7"/><circle cx="132.2" cy="586.3" r="0.7"/><circle cx="130.5" cy="584.4" r="0.7"/><circle cx="126.8" cy="582.9" r="0.7"/><circle cx="129.9" cy="580.2" r="0.7"/><circle cx="128.5" cy="583.8" r="0.7"/><circle cx="130.2" cy="587.0" r="0.7"/><circle cx="126.3" cy="581.6" r="0.7"/><circle cx="130.5" cy="581.5" r="0.7"/><circle cx="130.7" cy="581.2" r="0.7"/><circle cx="133.1" cy="582.3" r="0.7"/><circle cx="126.2" cy="585.7" r="0.7"/><circle cx="132.7" cy="578.7" r="0.7"/><circle cx="129.1" cy="583.4" r="0.7"/><circle cx="132.1" cy="587.6" r="0.7"/><circle cx="129.1" cy="578.1" r="0.7"/><circle cx="131.5" cy="586.7" r="0.7"/><circle cx="131.1" cy="583.5" r="0.7"/><circle cx="128.0" cy="588.7" r="0.7"/><circle cx="126.6" cy="578.8" r="0.7"/><circle cx="132.6" cy="584.2" r="0.7"/><circle cx="131.8" cy="584.5" r="0.7"/><circle cx="133.2" cy="586.8" r="0.7"/><circle cx="127.8" cy="586.8" r="0.7"/><circle cx="126.8" cy="578.4" r="0.7"/><circle cx="142.7" cy="590.3" r="0.6"/><circle cx="130.6" cy="606.7" r="0.6"/><circle cx="127.8" cy="577.2" r="0.6"/><circle cx="137.1" cy="575.2" r="0.6"/><circle cx="127.0" cy="583.5" r="0.6"/><circle cx="130.0" cy="580.1" r="0.6"/><circle cx="128.7" cy="584.6" r="0.6"/><circle cx="118.8" cy="588.4" r="0.6"/><circle cx="131.9" cy="582.1" r="0.6"/><circle cx="127.1" cy="577.9" r="0.6"/><circle cx="105.7" cy="595.2" r="0.6"/><circle cx="108.9" cy="598.6" r="0.6"/><circle cx="107.0" cy="604.9" r="0.6"/><circle cx="104.2" cy="600.1" r="0.6"/><circle cx="104.2" cy="596.1" r="0.6"/><circle cx="113.9" cy="578.7" r="0.6"/><circle cx="110.5" cy="576.5" r="0.6"/><circle cx="112.8" cy="582.4" r="0.6"/><circle cx="109.7" cy="571.3" r="0.6"/><circle cx="116.1" cy="574.9" r="0.6"/><circle cx="220.0" cy="581.2" r="0.7"/><circle cx="216.0" cy="586.7" r="0.7"/><circle cx="216.2" cy="589.5" r="0.7"/><circle cx="219.5" cy="586.0" r="0.7"/><circle cx="217.9" cy="591.7" r="0.7"/><circle cx="220.5" cy="588.2" r="0.7"/><circle cx="219.2" cy="581.5" r="0.7"/><circle cx="219.5" cy="582.0" r="0.7"/><circle cx="219.3" cy="580.7" r="0.7"/><circle cx="217.1" cy="581.9" r="0.7"/><circle cx="214.8" cy="579.5" r="0.7"/><circle cx="218.7" cy="584.1" r="0.7"/><circle cx="214.8" cy="575.5" r="0.7"/><circle cx="217.9" cy="591.6" r="0.7"/><circle cx="215.5" cy="581.4" r="0.7"/><circle cx="217.8" cy="589.9" r="0.7"/><circle cx="217.0" cy="580.7" r="0.7"/><circle cx="218.7" cy="591.7" r="0.7"/><circle cx="217.5" cy="586.9" r="0.7"/><circle cx="216.7" cy="588.7" r="0.7"/><circle cx="215.2" cy="584.9" r="0.7"/><circle cx="215.4" cy="580.1" r="0.7"/><circle cx="215.1" cy="580.1" r="0.7"/><circle cx="218.1" cy="583.5" r="0.7"/><circle cx="216.7" cy="584.6" r="0.7"/><circle cx="219.9" cy="580.3" r="0.7"/><circle cx="218.1" cy="582.8" r="0.7"/><circle cx="218.9" cy="577.8" r="0.7"/><circle cx="215.8" cy="587.8" r="0.7"/><circle cx="218.0" cy="578.3" r="0.7"/><circle cx="216.6" cy="587.5" r="0.7"/><circle cx="217.0" cy="585.5" r="0.7"/><circle cx="217.4" cy="577.8" r="0.7"/><circle cx="216.1" cy="590.1" r="0.7"/><circle cx="218.0" cy="584.2" r="0.7"/><circle cx="216.3" cy="576.2" r="0.7"/><circle cx="215.4" cy="583.8" r="0.7"/><circle cx="219.4" cy="584.8" r="0.7"/><circle cx="218.8" cy="580.4" r="0.7"/><circle cx="220.7" cy="587.5" r="0.7"/><circle cx="216.0" cy="590.3" r="0.7"/><circle cx="219.1" cy="578.4" r="0.7"/><circle cx="217.8" cy="578.2" r="0.7"/><circle cx="216.1" cy="578.2" r="0.7"/><circle cx="214.9" cy="582.8" r="0.7"/><circle cx="215.9" cy="578.9" r="0.7"/><circle cx="215.9" cy="583.3" r="0.7"/><circle cx="220.0" cy="590.2" r="0.7"/><circle cx="218.3" cy="584.0" r="0.7"/><circle cx="219.1" cy="583.8" r="0.7"/><circle cx="218.6" cy="591.5" r="0.7"/><circle cx="219.4" cy="578.3" r="0.7"/><circle cx="216.5" cy="588.9" r="0.7"/><circle cx="215.6" cy="582.2" r="0.7"/><circle cx="216.6" cy="587.7" r="0.7"/><circle cx="218.0" cy="580.1" r="0.7"/><circle cx="218.0" cy="575.5" r="0.7"/><circle cx="220.0" cy="588.8" r="0.7"/><circle cx="217.7" cy="576.8" r="0.7"/><circle cx="217.7" cy="580.2" r="0.7"/><circle cx="217.5" cy="577.1" r="0.7"/><circle cx="218.9" cy="581.5" r="0.7"/><circle cx="217.4" cy="584.3" r="0.7"/><circle cx="220.8" cy="584.4" r="0.7"/><circle cx="214.9" cy="579.2" r="0.7"/><circle cx="204.7" cy="595.9" r="0.6"/><circle cx="196.1" cy="585.5" r="0.6"/><circle cx="211.5" cy="595.1" r="0.6"/><circle cx="212.1" cy="591.6" r="0.6"/><circle cx="218.0" cy="595.2" r="0.6"/><circle cx="209.6" cy="590.0" r="0.6"/><circle cx="194.2" cy="582.7" r="0.6"/><circle cx="194.6" cy="586.6" r="0.6"/><circle cx="195.1" cy="573.5" r="0.6"/><circle cx="189.2" cy="572.1" r="0.6"/><circle cx="188.4" cy="577.6" r="0.6"/><circle cx="184.7" cy="595.6" r="0.6"/><circle cx="186.5" cy="597.2" r="0.6"/></g>
<g stroke="#000" stroke-width="1.2" fill="none"><polyline points="16.2,603.5999999999999 16.2,627.3 41.099999999999994,627.3"/><polyline points="13.6,608.0999999999999 16.2,603.5999999999999 18.8,608.0999999999999"/><polyline points="36.599999999999994,624.6999999999999 41.099999999999994,627.3 36.599999999999994,629.9"/></g>
<text x="43" y="630.3599999999999" font-size="8.5" text-anchor="start" fill="#000">UMAP_1</text>
<text x="20.4" y="601.1" font-size="8.5" text-anchor="start" fill="#000" transform="rotate(-90 20.4 601.1)">UMAP_2</text>
</svg></body></html>
